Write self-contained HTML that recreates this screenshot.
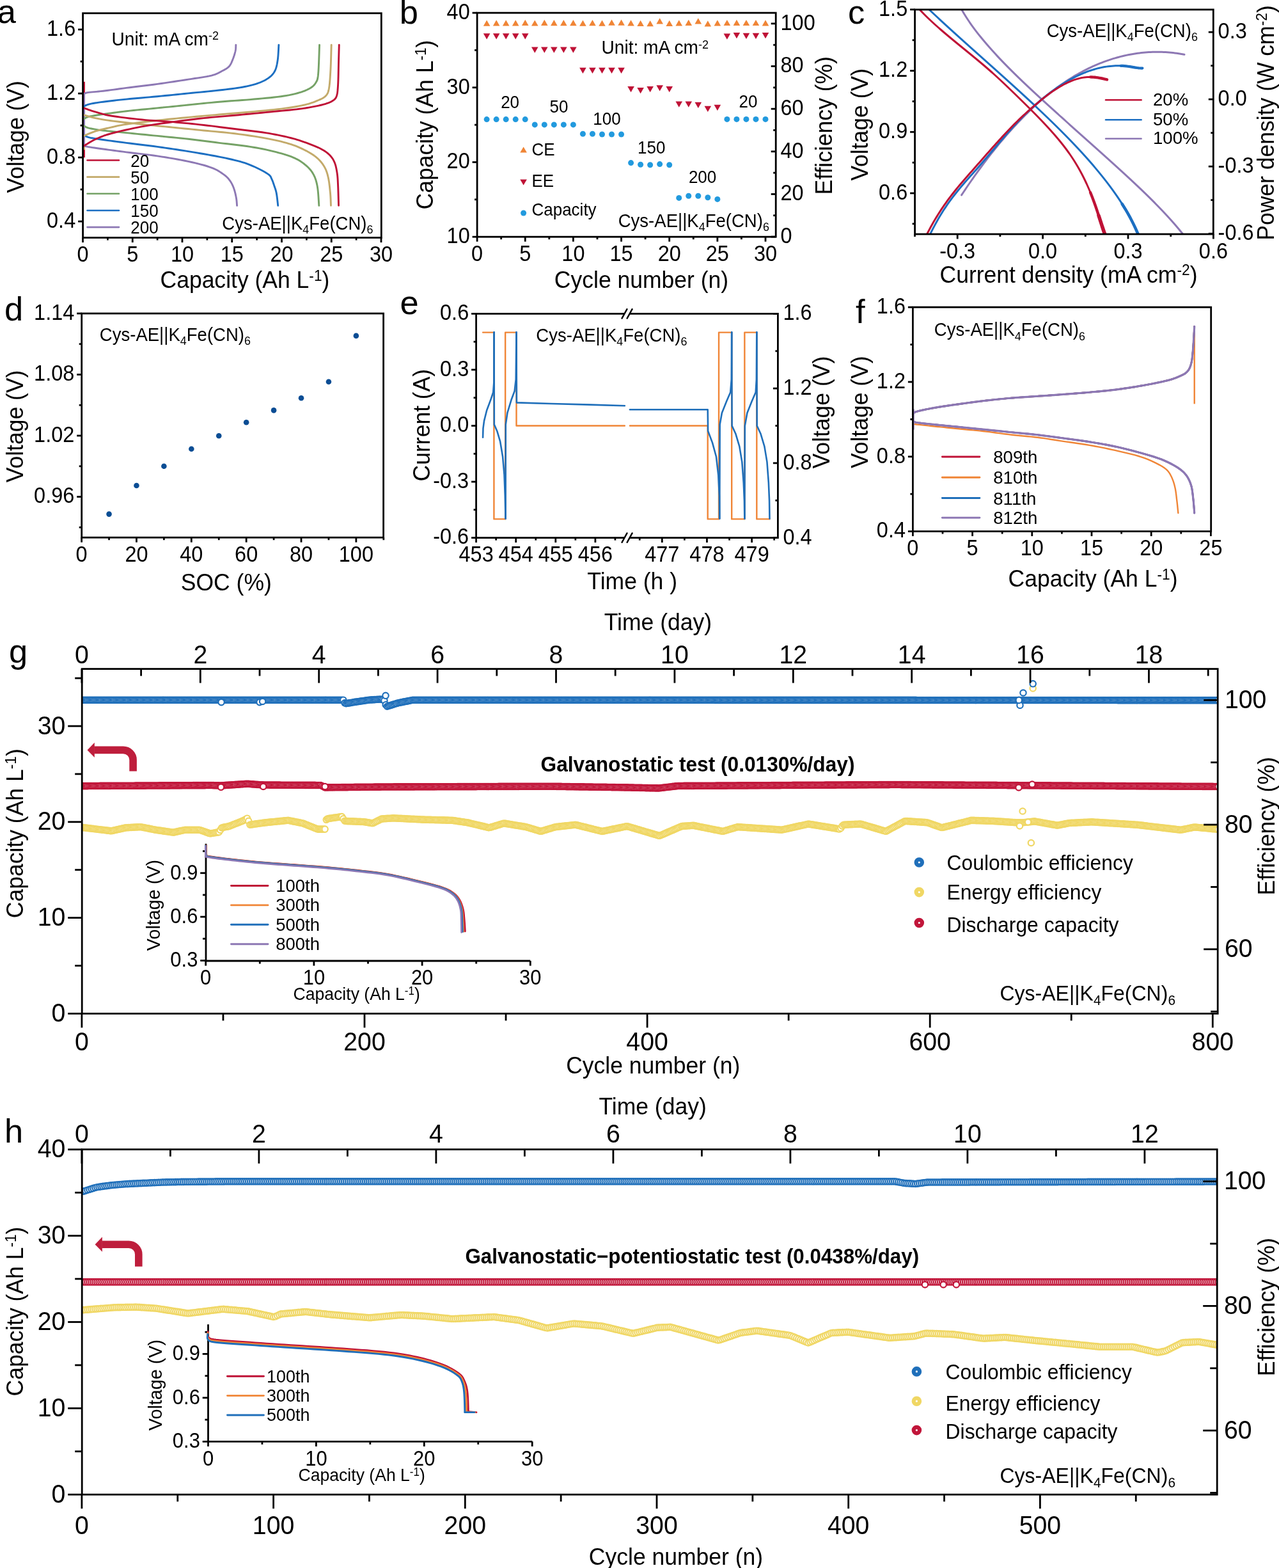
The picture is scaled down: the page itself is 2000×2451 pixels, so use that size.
<!DOCTYPE html>
<html><head><meta charset="utf-8"><title>Figure</title>
<style>html,body{margin:0;padding:0;background:#fff;}svg{display:block;}</style></head>
<body><svg xmlns="http://www.w3.org/2000/svg" width="2000" height="2451" viewBox="0 0 2000 2451" font-family="'Liberation Sans', Arial, sans-serif">
<rect width="2000" height="2451" fill="#fff"/>
<text x="-4.3" y="36.3" font-size="52.5">a</text>
<text x="624.7" y="37" font-size="52.5">b</text>
<text x="1326" y="37" font-size="52.5">c</text>
<text x="7" y="501.2" font-size="52.5">d</text>
<text x="625.5" y="490.8" font-size="52.5">e</text>
<text x="1338" y="505.3" font-size="52.5">f</text>
<text x="13.9" y="1035.7" font-size="52.5">g</text>
<text x="7.1" y="1785.8" font-size="52.5">h</text>
<line x1="131.5" y1="127.75" x2="131.5" y2="246.31" stroke="#bf1236" stroke-width="2.9" stroke-linecap="butt"/>
<line x1="131.5" y1="179.77" x2="131.5" y2="234.21" stroke="#c3aa6a" stroke-width="2.9" stroke-linecap="butt"/>
<line x1="131.5" y1="185.82" x2="131.5" y2="196.7" stroke="#75a266" stroke-width="2.9" stroke-linecap="butt"/>
<line x1="131.5" y1="166.46" x2="131.5" y2="211.22" stroke="#1c6fc2" stroke-width="2.9" stroke-linecap="butt"/>
<line x1="131.5" y1="145.89" x2="131.5" y2="229.37" stroke="#8d78b4" stroke-width="2.9" stroke-linecap="butt"/>
<polyline points="131.05,147.1 131.39,146.92 131.71,146.67 132.08,146.37 132.56,146.05 133.23,145.7 134.17,145.35 135.43,145 137.1,144.68 139.17,144.4 141.59,144.14 144.31,143.88 147.31,143.63 150.54,143.35 153.97,143.04 157.57,142.68 161.29,142.26 165.17,141.78 169.23,141.25 173.49,140.68 177.93,140.07 182.56,139.44 187.38,138.78 192.39,138.1 197.59,137.43 203.06,136.74 208.83,136.03 214.85,135.3 221.03,134.55 227.3,133.79 233.6,133 239.85,132.2 245.98,131.38 252.11,130.52 258.36,129.62 264.66,128.69 270.93,127.75 277.11,126.8 283.12,125.88 288.9,124.98 294.37,124.12 299.62,123.31 304.75,122.55 309.72,121.81 314.48,121.09 319,120.37 323.23,119.64 327.13,118.87 330.66,118.07 333.75,117.22 336.4,116.34 338.7,115.44 340.72,114.52 342.54,113.59 344.24,112.65 345.9,111.73 347.6,110.81 349.28,109.94 350.86,109.11 352.34,108.3 353.72,107.48 355.02,106.63 356.25,105.71 357.4,104.69 358.49,103.55 359.49,102.27 360.4,100.87 361.22,99.37 361.96,97.81 362.66,96.2 363.31,94.59 363.93,93 364.54,91.45 365.12,89.92 365.68,88.36 366.2,86.79 366.68,85.22 367.12,83.68 367.52,82.18 367.87,80.73 368.16,79.36 368.4,78.01 368.57,76.64 368.68,75.29 368.75,74 368.8,72.81 368.83,71.75 368.85,70.85 368.89,70.16" fill="none" stroke="#8d78b4" stroke-width="2.9" stroke-linejoin="round" stroke-linecap="round"/>
<polyline points="131.05,226.95 131.39,227.13 131.71,227.36 132.08,227.63 132.56,227.93 133.23,228.27 134.17,228.62 135.43,228.99 137.1,229.37 139.17,229.76 141.59,230.16 144.31,230.59 147.31,231.03 150.54,231.5 153.97,231.98 157.57,232.48 161.29,233 165.17,233.54 169.23,234.09 173.49,234.67 177.93,235.27 182.56,235.88 187.38,236.51 192.39,237.17 197.59,237.84 203.06,238.52 208.83,239.21 214.85,239.91 221.03,240.63 227.3,241.39 233.6,242.18 239.85,243.01 245.98,243.89 252.11,244.82 258.36,245.8 264.66,246.83 270.93,247.89 277.11,248.98 283.12,250.1 288.9,251.22 294.37,252.35 299.6,253.5 304.69,254.66 309.61,255.84 314.33,257.04 318.82,258.26 323.06,259.5 327.02,260.76 330.66,262.03 333.96,263.34 336.92,264.7 339.59,266.08 342,267.48 344.21,268.87 346.26,270.26 348.18,271.61 350.02,272.92 351.72,274.17 353.2,275.37 354.52,276.53 355.69,277.68 356.76,278.85 357.76,280.04 358.73,281.28 359.7,282.6 360.64,283.98 361.52,285.4 362.34,286.85 363.1,288.35 363.81,289.88 364.49,291.45 365.13,293.05 365.75,294.7 366.33,296.41 366.88,298.21 367.39,300.07 367.86,301.95 368.3,303.84 368.69,305.7 369.05,307.5 369.37,309.21 369.65,310.92 369.88,312.69 370.06,314.46 370.21,316.17 370.33,317.77 370.42,319.19 370.51,320.39 370.58,321.31" fill="none" stroke="#8d78b4" stroke-width="2.9" stroke-linejoin="round" stroke-linecap="round"/>
<polyline points="131.05,166.46 131.61,166.18 132.26,165.81 133.02,165.37 133.92,164.87 134.99,164.35 136.27,163.82 137.76,163.31 139.52,162.83 141.5,162.38 143.69,161.93 146.07,161.49 148.67,161.05 151.48,160.6 154.52,160.14 157.79,159.68 161.29,159.2 165.05,158.71 169.06,158.21 173.31,157.71 177.78,157.19 182.45,156.67 187.32,156.14 192.37,155.62 197.59,155.09 203.06,154.56 208.83,154.03 214.85,153.49 221.03,152.96 227.3,152.41 233.6,151.86 239.85,151.3 245.98,150.73 252.03,150.15 258.08,149.56 264.12,148.95 270.17,148.34 276.22,147.73 282.27,147.12 288.32,146.5 294.37,145.89 300.5,145.29 306.75,144.68 313.05,144.08 319.32,143.47 325.5,142.87 331.51,142.26 337.29,141.66 342.76,141.05 347.96,140.46 352.97,139.87 357.79,139.29 362.42,138.71 366.86,138.12 371.11,137.51 375.18,136.88 379.05,136.22 382.71,135.53 386.12,134.85 389.33,134.14 392.36,133.42 395.24,132.67 397.99,131.88 400.65,131.05 403.25,130.17 405.76,129.24 408.16,128.28 410.45,127.27 412.62,126.24 414.68,125.16 416.63,124.04 418.46,122.89 420.19,121.7 421.78,120.49 423.24,119.29 424.58,118.06 425.81,116.78 426.94,115.44 427.99,114.01 428.96,112.48 429.86,110.81 430.68,109.03 431.39,107.16 432,105.2 432.54,103.14 433.01,100.99 433.44,98.73 433.84,96.36 434.22,93.87 434.57,91.07 434.87,87.87 435.12,84.44 435.34,80.96 435.52,77.61 435.67,74.58 435.8,72.04 435.91,70.16" fill="none" stroke="#1c6fc2" stroke-width="2.9" stroke-linejoin="round" stroke-linecap="round"/>
<polyline points="131.05,211.22 131.61,211.5 132.26,211.87 133.02,212.32 133.92,212.81 134.99,213.33 136.27,213.86 137.76,214.37 139.52,214.85 141.5,215.3 143.69,215.73 146.07,216.16 148.67,216.59 151.48,217.03 154.52,217.49 157.79,217.97 161.29,218.48 165.05,219.02 169.06,219.58 173.31,220.15 177.78,220.75 182.45,221.36 187.32,222 192.37,222.65 197.59,223.32 203.06,224.01 208.83,224.72 214.85,225.45 221.03,226.19 227.3,226.96 233.6,227.74 239.85,228.55 245.98,229.37 252.03,230.21 258.08,231.07 264.12,231.95 270.17,232.85 276.22,233.76 282.27,234.7 288.32,235.65 294.37,236.63 300.5,237.63 306.75,238.66 313.05,239.71 319.32,240.79 325.5,241.87 331.51,242.95 337.29,244.03 342.76,245.1 347.96,246.15 352.97,247.18 357.79,248.22 362.42,249.25 366.86,250.3 371.11,251.36 375.18,252.45 379.05,253.56 382.71,254.72 386.12,255.9 389.33,257.1 392.36,258.33 395.24,259.56 397.99,260.79 400.65,262.02 403.25,263.24 405.8,264.47 408.28,265.72 410.66,266.98 412.93,268.23 415.04,269.47 416.97,270.67 418.7,271.83 420.19,272.92 421.38,273.93 422.27,274.85 422.94,275.71 423.44,276.55 423.83,277.39 424.18,278.25 424.56,279.17 425.02,280.18 425.54,281.26 426.02,282.37 426.47,283.52 426.91,284.72 427.35,285.94 427.77,287.21 428.21,288.52 428.65,289.86 429.12,291.2 429.59,292.54 430.07,293.9 430.54,295.3 431.01,296.78 431.46,298.36 431.89,300.08 432.28,301.95 432.66,304.16 433.03,306.74 433.39,309.53 433.72,312.39 434.03,315.15 434.3,317.66 434.52,319.77 434.7,321.31" fill="none" stroke="#1c6fc2" stroke-width="2.9" stroke-linejoin="round" stroke-linecap="round"/>
<polyline points="131.05,185.82 131.61,185.54 132.26,185.16 133.02,184.72 133.92,184.23 134.99,183.71 136.27,183.18 137.76,182.67 139.52,182.19 141.5,181.74 143.69,181.31 146.07,180.88 148.67,180.45 151.48,180.01 154.52,179.55 157.79,179.07 161.29,178.56 165.05,178.01 169.06,177.43 173.31,176.83 177.78,176.21 182.45,175.59 187.32,174.96 192.37,174.33 197.59,173.72 203.06,173.11 208.83,172.51 214.85,171.9 221.03,171.3 227.3,170.69 233.6,170.09 239.85,169.48 245.98,168.88 252.03,168.27 258.08,167.67 264.12,167.07 270.17,166.46 276.22,165.86 282.27,165.25 288.32,164.65 294.37,164.04 300.42,163.43 306.47,162.8 312.52,162.17 318.56,161.55 324.61,160.93 330.66,160.33 336.71,159.75 342.76,159.2 348.81,158.7 354.86,158.24 360.91,157.81 366.95,157.39 373,156.97 379.05,156.54 385.1,156.08 391.15,155.57 397.33,155.03 403.7,154.48 410.15,153.9 416.56,153.3 422.81,152.69 428.8,152.06 434.42,151.4 439.54,150.73 444.18,150.04 448.44,149.33 452.38,148.61 456.02,147.86 459.42,147.09 462.62,146.31 465.66,145.51 468.58,144.68 471.33,143.84 473.86,142.98 476.19,142.1 478.33,141.21 480.31,140.29 482.16,139.35 483.88,138.4 485.51,137.43 487.01,136.46 488.34,135.51 489.52,134.55 490.58,133.57 491.53,132.54 492.4,131.44 493.21,130.26 493.98,128.96 494.68,127.75 495.27,126.72 495.77,125.74 496.2,124.62 496.59,123.21 496.94,121.35 497.27,118.89 497.61,115.65 497.95,111.19 498.26,105.47 498.55,98.95 498.81,92.07 499.04,85.3 499.24,79.09 499.41,73.89 499.55,70.16" fill="none" stroke="#75a266" stroke-width="2.9" stroke-linejoin="round" stroke-linecap="round"/>
<polyline points="131.05,196.7 131.61,196.98 132.26,197.36 133.02,197.8 133.92,198.29 134.99,198.81 136.27,199.34 137.76,199.86 139.52,200.33 141.5,200.79 143.69,201.24 146.07,201.69 148.67,202.15 151.48,202.6 154.52,203.06 157.79,203.51 161.29,203.96 165.05,204.41 169.06,204.84 173.31,205.27 177.78,205.7 182.45,206.14 187.32,206.6 192.37,207.08 197.59,207.59 203.06,208.14 208.83,208.72 214.85,209.32 221.03,209.94 227.3,210.56 233.6,211.19 239.85,211.82 245.98,212.43 252.03,213.03 258.08,213.61 264.12,214.19 270.17,214.78 276.22,215.37 282.27,215.98 288.32,216.61 294.37,217.27 300.42,217.97 306.47,218.7 312.52,219.45 318.56,220.22 324.61,221 330.66,221.78 336.71,222.56 342.76,223.32 348.89,224.07 355.14,224.8 361.44,225.53 367.71,226.27 373.89,227.01 379.9,227.77 385.68,228.55 391.15,229.37 396.3,230.2 401.19,231.04 405.86,231.9 410.36,232.77 414.72,233.67 418.99,234.61 423.22,235.6 427.44,236.63 431.69,237.7 435.93,238.82 440.13,239.97 444.23,241.16 448.2,242.39 452,243.66 455.58,244.96 458.9,246.31 461.95,247.69 464.76,249.1 467.36,250.56 469.79,252.05 472.06,253.58 474.21,255.15 476.26,256.76 478.25,258.4 480.16,260.07 481.93,261.75 483.59,263.46 485.13,265.21 486.58,267.02 487.92,268.89 489.18,270.86 490.35,272.92 491.42,275.04 492.37,277.19 493.22,279.4 493.98,281.69 494.66,284.1 495.29,286.64 495.86,289.36 496.4,292.28 496.89,295.64 497.32,299.54 497.68,303.73 497.99,308 498.25,312.12 498.47,315.87 498.66,319.01 498.82,321.31" fill="none" stroke="#75a266" stroke-width="2.9" stroke-linejoin="round" stroke-linecap="round"/>
<polyline points="131.05,212.43 132.41,211.86 134.17,211.1 136.26,210.19 138.61,209.18 141.15,208.13 143.81,207.07 146.51,206.07 149.2,205.17 151.93,204.35 154.82,203.55 157.83,202.76 160.92,202 164.05,201.25 167.2,200.52 170.33,199.81 173.39,199.12 176.25,198.47 178.87,197.86 181.4,197.27 183.98,196.7 186.74,196.14 189.84,195.55 193.4,194.94 197.59,194.29 202.48,193.58 207.98,192.83 213.96,192.05 220.27,191.26 226.77,190.47 233.31,189.69 239.76,188.94 245.98,188.24 252.03,187.57 258.08,186.93 264.12,186.31 270.17,185.71 276.22,185.12 282.27,184.54 288.32,183.97 294.37,183.4 300.42,182.83 306.47,182.27 312.52,181.72 318.56,181.17 324.61,180.64 330.66,180.1 336.71,179.57 342.76,179.04 348.81,178.52 354.86,178.01 360.91,177.51 366.95,177.02 373,176.51 379.05,176 385.1,175.48 391.15,174.93 397.28,174.37 403.53,173.8 409.83,173.22 416.1,172.63 422.28,172.02 428.29,171.4 434.07,170.76 439.54,170.09 444.76,169.4 449.81,168.69 454.68,167.96 459.35,167.22 463.82,166.45 468.07,165.67 472.08,164.86 475.83,164.04 479.32,163.19 482.53,162.31 485.49,161.41 488.23,160.49 490.79,159.56 493.19,158.63 495.45,157.7 497.61,156.78 499.64,155.91 501.49,155.08 503.18,154.27 504.72,153.46 506.13,152.6 507.42,151.68 508.61,150.66 509.71,149.52 510.68,148.36 511.49,147.24 512.16,146.09 512.73,144.84 513.23,143.42 513.68,141.75 514.11,139.78 514.55,137.43 514.97,134.67 515.35,131.57 515.69,128.18 515.98,124.54 516.25,120.7 516.5,116.69 516.74,112.58 516.97,108.39 517.18,103.79 517.38,98.58 517.56,93.05 517.72,87.46 517.86,82.1 517.99,77.25 518.09,73.17 518.18,70.16" fill="none" stroke="#c3aa6a" stroke-width="2.9" stroke-linejoin="round" stroke-linecap="round"/>
<polyline points="131.05,179.77 132.41,180.15 134.17,180.65 136.26,181.26 138.61,181.93 141.15,182.63 143.81,183.33 146.51,184 149.2,184.61 151.77,185.15 154.25,185.65 156.76,186.14 159.4,186.62 162.28,187.1 165.5,187.61 169.17,188.14 173.39,188.72 178.28,189.35 183.79,190.03 189.77,190.73 196.07,191.46 202.57,192.19 209.12,192.91 215.57,193.61 221.78,194.29 227.83,194.92 233.88,195.55 239.93,196.15 245.98,196.75 252.03,197.34 258.08,197.93 264.12,198.52 270.17,199.12 276.22,199.73 282.27,200.33 288.32,200.94 294.37,201.54 300.42,202.15 306.47,202.75 312.52,203.36 318.56,203.96 324.61,204.55 330.66,205.12 336.71,205.67 342.76,206.23 348.81,206.81 354.86,207.42 360.91,208.08 366.95,208.8 373.09,209.59 379.34,210.42 385.63,211.29 391.91,212.2 398.09,213.14 404.1,214.1 409.88,215.08 415.35,216.06 420.54,217.05 425.55,218.06 430.37,219.09 435,220.14 439.45,221.21 443.7,222.3 447.76,223.4 451.64,224.53 455.28,225.66 458.65,226.81 461.81,227.96 464.8,229.14 467.65,230.35 470.41,231.59 473.12,232.87 475.83,234.21 478.54,235.59 481.18,237.01 483.77,238.46 486.27,239.95 488.68,241.49 490.98,243.05 493.15,244.66 495.19,246.31 497.09,247.99 498.87,249.71 500.53,251.47 502.07,253.26 503.51,255.1 504.86,256.97 506.12,258.88 507.29,260.82 508.35,262.77 509.29,264.72 510.13,266.68 510.87,268.69 511.55,270.77 512.17,272.96 512.76,275.28 513.34,277.76 513.88,280.47 514.38,283.41 514.83,286.51 515.23,289.71 515.59,292.92 515.92,296.08 516.21,299.11 516.48,301.95 516.71,304.74 516.9,307.59 517.05,310.42 517.16,313.15 517.25,315.68 517.33,317.95 517.39,319.85 517.45,321.31" fill="none" stroke="#c3aa6a" stroke-width="2.9" stroke-linejoin="round" stroke-linecap="round"/>
<polyline points="131.05,228.16 132.41,227.35 134.17,226.26 136.26,224.96 138.61,223.52 141.15,222.01 143.81,220.5 146.51,219.06 149.2,217.75 151.77,216.58 154.25,215.46 156.76,214.38 159.4,213.31 162.28,212.24 165.5,211.14 169.17,210 173.39,208.8 178.28,207.51 183.79,206.13 189.77,204.7 196.07,203.25 202.57,201.82 209.12,200.43 215.57,199.11 221.78,197.91 227.83,196.83 233.88,195.82 239.93,194.87 245.98,193.98 252.03,193.13 258.08,192.3 264.12,191.48 270.17,190.66 276.22,189.83 282.27,189.02 288.32,188.22 294.37,187.45 300.42,186.7 306.47,185.97 312.52,185.27 318.56,184.61 324.61,183.98 330.66,183.4 336.71,182.86 342.76,182.34 348.81,181.83 354.86,181.32 360.91,180.8 366.95,180.25 373,179.69 379.05,179.13 385.1,178.56 391.15,177.98 397.2,177.41 403.25,176.83 409.3,176.24 415.35,175.65 421.56,175.05 428.01,174.43 434.56,173.8 441.05,173.17 447.36,172.55 453.34,171.95 458.85,171.36 463.74,170.82 467.95,170.31 471.6,169.84 474.8,169.4 477.65,168.97 480.28,168.55 482.79,168.12 485.31,167.67 487.93,167.19 490.63,166.68 493.28,166.16 495.86,165.63 498.37,165.08 500.77,164.53 503.07,163.97 505.25,163.4 507.29,162.83 509.18,162.27 510.95,161.71 512.59,161.16 514.12,160.59 515.56,160 516.91,159.38 518.18,158.72 519.39,157.99 520.52,157.27 521.56,156.6 522.51,155.93 523.38,155.19 524.17,154.36 524.9,153.37 525.56,152.18 526.16,150.73 526.68,149.11 527.11,147.39 527.45,145.52 527.73,143.47 527.97,141.2 528.18,138.65 528.38,135.8 528.58,132.59 528.77,128.85 528.93,124.55 529.06,119.86 529.17,114.94 529.27,109.96 529.36,105.08 529.45,100.47 529.55,96.29 529.66,92.36 529.76,88.43 529.87,84.6 529.97,80.96 530.07,77.6 530.15,74.62 530.22,72.11 530.27,70.16" fill="none" stroke="#bf1236" stroke-width="2.9" stroke-linejoin="round" stroke-linecap="round"/>
<polyline points="131.05,168.88 132.41,169.35 134.17,169.97 136.26,170.71 138.61,171.53 141.15,172.39 143.81,173.27 146.51,174.13 149.2,174.93 151.77,175.68 154.25,176.44 156.76,177.2 159.4,177.95 162.28,178.71 165.5,179.47 169.17,180.22 173.39,180.98 178.28,181.75 183.79,182.55 189.77,183.35 196.07,184.15 202.57,184.94 209.12,185.68 215.57,186.39 221.78,187.03 227.83,187.59 233.88,188.08 239.93,188.51 245.98,188.92 252.03,189.31 258.08,189.72 264.12,190.16 270.17,190.66 276.22,191.19 282.27,191.75 288.32,192.33 294.37,192.92 300.42,193.54 306.47,194.17 312.52,194.82 318.56,195.49 324.61,196.19 330.66,196.92 336.71,197.67 342.76,198.44 348.81,199.22 354.86,200 360.91,200.78 366.95,201.54 373.09,202.29 379.34,203.03 385.63,203.76 391.91,204.49 398.09,205.24 404.1,206 409.88,206.78 415.35,207.59 420.54,208.44 425.55,209.32 430.37,210.23 435,211.15 439.45,212.08 443.7,213.01 447.76,213.94 451.64,214.85 455.24,215.74 458.54,216.61 461.6,217.47 464.49,218.33 467.29,219.21 470.07,220.13 472.89,221.09 475.83,222.11 478.93,223.2 482.11,224.36 485.33,225.56 488.54,226.8 491.67,228.05 494.66,229.31 497.47,230.56 500.03,231.79 502.35,232.98 504.48,234.15 506.45,235.31 508.27,236.48 509.97,237.66 511.57,238.88 513.09,240.14 514.55,241.47 515.93,242.83 517.19,244.21 518.36,245.61 519.43,247.06 520.43,248.57 521.35,250.14 522.21,251.8 523.02,253.56 523.76,255.43 524.41,257.4 524.99,259.45 525.51,261.58 525.97,263.76 526.39,265.98 526.77,268.23 527.13,270.5 527.44,272.72 527.69,274.89 527.89,277.05 528.05,279.27 528.19,281.61 528.31,284.11 528.44,286.84 528.58,289.86 528.73,293.43 528.88,297.61 529.02,302.15 529.16,306.79 529.28,311.29 529.39,315.38 529.48,318.8 529.55,321.31" fill="none" stroke="#bf1236" stroke-width="2.9" stroke-linejoin="round" stroke-linecap="round"/>
<rect x="129.6" y="20.7" width="466.7" height="350.8" fill="none" stroke="#000" stroke-width="2.8"/>
<line x1="129.6" y1="346.1" x2="122.1" y2="346.1" stroke="#000" stroke-width="2.8" stroke-linecap="butt"/>
<line x1="129.6" y1="246.1" x2="122.1" y2="246.1" stroke="#000" stroke-width="2.8" stroke-linecap="butt"/>
<line x1="129.6" y1="146.1" x2="122.1" y2="146.1" stroke="#000" stroke-width="2.8" stroke-linecap="butt"/>
<line x1="129.6" y1="46.1" x2="122.1" y2="46.1" stroke="#000" stroke-width="2.8" stroke-linecap="butt"/>
<line x1="129.6" y1="296.1" x2="125.6" y2="296.1" stroke="#000" stroke-width="2.8" stroke-linecap="butt"/>
<line x1="129.6" y1="196.1" x2="125.6" y2="196.1" stroke="#000" stroke-width="2.8" stroke-linecap="butt"/>
<line x1="129.6" y1="96.1" x2="125.6" y2="96.1" stroke="#000" stroke-width="2.8" stroke-linecap="butt"/>
<line x1="129.5" y1="371.5" x2="129.5" y2="379" stroke="#000" stroke-width="2.8" stroke-linecap="butt"/>
<line x1="207.25" y1="371.5" x2="207.25" y2="379" stroke="#000" stroke-width="2.8" stroke-linecap="butt"/>
<line x1="285" y1="371.5" x2="285" y2="379" stroke="#000" stroke-width="2.8" stroke-linecap="butt"/>
<line x1="362.75" y1="371.5" x2="362.75" y2="379" stroke="#000" stroke-width="2.8" stroke-linecap="butt"/>
<line x1="440.5" y1="371.5" x2="440.5" y2="379" stroke="#000" stroke-width="2.8" stroke-linecap="butt"/>
<line x1="518.25" y1="371.5" x2="518.25" y2="379" stroke="#000" stroke-width="2.8" stroke-linecap="butt"/>
<line x1="596" y1="371.5" x2="596" y2="379" stroke="#000" stroke-width="2.8" stroke-linecap="butt"/>
<line x1="168.38" y1="371.5" x2="168.38" y2="375.5" stroke="#000" stroke-width="2.8" stroke-linecap="butt"/>
<line x1="246.12" y1="371.5" x2="246.12" y2="375.5" stroke="#000" stroke-width="2.8" stroke-linecap="butt"/>
<line x1="323.88" y1="371.5" x2="323.88" y2="375.5" stroke="#000" stroke-width="2.8" stroke-linecap="butt"/>
<line x1="401.62" y1="371.5" x2="401.62" y2="375.5" stroke="#000" stroke-width="2.8" stroke-linecap="butt"/>
<line x1="479.38" y1="371.5" x2="479.38" y2="375.5" stroke="#000" stroke-width="2.8" stroke-linecap="butt"/>
<line x1="557.12" y1="371.5" x2="557.12" y2="375.5" stroke="#000" stroke-width="2.8" stroke-linecap="butt"/>
<text transform="translate(118.2,355.9) scale(0.95,1)" font-size="34.2" text-anchor="end">0.4</text>
<text transform="translate(118.2,255.9) scale(0.95,1)" font-size="34.2" text-anchor="end">0.8</text>
<text transform="translate(118.2,155.9) scale(0.95,1)" font-size="34.2" text-anchor="end">1.2</text>
<text transform="translate(118.2,55.9) scale(0.95,1)" font-size="34.2" text-anchor="end">1.6</text>
<text transform="translate(129.5,409.3) scale(0.95,1)" font-size="34.2" text-anchor="middle">0</text>
<text transform="translate(207.25,409.3) scale(0.95,1)" font-size="34.2" text-anchor="middle">5</text>
<text transform="translate(285,409.3) scale(0.95,1)" font-size="34.2" text-anchor="middle">10</text>
<text transform="translate(362.75,409.3) scale(0.95,1)" font-size="34.2" text-anchor="middle">15</text>
<text transform="translate(440.5,409.3) scale(0.95,1)" font-size="34.2" text-anchor="middle">20</text>
<text transform="translate(518.25,409.3) scale(0.95,1)" font-size="34.2" text-anchor="middle">25</text>
<text transform="translate(596,409.3) scale(0.95,1)" font-size="34.2" text-anchor="middle">30</text>
<text transform="translate(250.5,450.1) scale(0.96,1)" font-size="37">Capacity (Ah L<tspan font-size="23.68" dy="-11.1">-1</tspan><tspan dy="11.1">)</tspan></text>
<text transform="translate(36.7,214) rotate(-90) scale(0.96,1)" font-size="37" text-anchor="middle">Voltage (V)</text>
<text transform="translate(174.5,70.8) scale(0.97,1)" font-size="29">Unit: mA cm<tspan font-size="18.56" dy="-8.41">-2</tspan></text>
<line x1="136.5" y1="250.5" x2="186" y2="250.5" stroke="#bf1236" stroke-width="2.6" stroke-linecap="round"/>
<text transform="translate(204.3,260.6) scale(0.97,1)" font-size="26.8">20</text>
<line x1="136.5" y1="276.65" x2="186" y2="276.65" stroke="#c3aa6a" stroke-width="2.6" stroke-linecap="round"/>
<text transform="translate(204.3,286.75) scale(0.97,1)" font-size="26.8">50</text>
<line x1="136.5" y1="302.8" x2="186" y2="302.8" stroke="#75a266" stroke-width="2.6" stroke-linecap="round"/>
<text transform="translate(204.3,312.9) scale(0.97,1)" font-size="26.8">100</text>
<line x1="136.5" y1="328.95" x2="186" y2="328.95" stroke="#1c6fc2" stroke-width="2.6" stroke-linecap="round"/>
<text transform="translate(204.3,339.05) scale(0.97,1)" font-size="26.8">150</text>
<line x1="136.5" y1="355.1" x2="186" y2="355.1" stroke="#8d78b4" stroke-width="2.6" stroke-linecap="round"/>
<text transform="translate(204.3,365.2) scale(0.97,1)" font-size="26.8">200</text>
<text transform="translate(347.3,358.8) scale(0.95,1)" font-size="29">Cys-AE||K<tspan font-size="18.85" dy="6.53">4</tspan><tspan dy="-6.53">Fe(CN)</tspan><tspan font-size="18.85" dy="6.53">6</tspan></text>
<path d="M755.83,40.7L766.43,40.7L761.13,31.5Z" fill="#f08536"/>
<path d="M755.83,52.2L766.43,52.2L761.13,61.4Z" fill="#bf1236"/>
<circle cx="761.13" cy="186.6" r="4.5" fill="#229ade"/>
<path d="M770.86,40.5L781.46,40.5L776.16,31.3Z" fill="#f08536"/>
<path d="M770.86,52.2L781.46,52.2L776.16,61.4Z" fill="#bf1236"/>
<circle cx="776.16" cy="186.6" r="4.5" fill="#229ade"/>
<path d="M785.89,40.5L796.49,40.5L791.19,31.3Z" fill="#f08536"/>
<path d="M785.89,52.2L796.49,52.2L791.19,61.4Z" fill="#bf1236"/>
<circle cx="791.19" cy="186.6" r="4.5" fill="#229ade"/>
<path d="M800.92,40.5L811.52,40.5L806.22,31.3Z" fill="#f08536"/>
<path d="M800.92,52.2L811.52,52.2L806.22,61.4Z" fill="#bf1236"/>
<circle cx="806.22" cy="186.6" r="4.5" fill="#229ade"/>
<path d="M815.95,40L826.55,40L821.25,30.8Z" fill="#f08536"/>
<path d="M815.95,52.2L826.55,52.2L821.25,61.4Z" fill="#bf1236"/>
<circle cx="821.25" cy="186.6" r="4.5" fill="#229ade"/>
<path d="M830.98,40.6L841.58,40.6L836.28,31.4Z" fill="#f08536"/>
<path d="M830.98,73.6L841.58,73.6L836.28,82.8Z" fill="#bf1236"/>
<circle cx="836.28" cy="194.9" r="4.5" fill="#229ade"/>
<path d="M846.01,40L856.61,40L851.31,30.8Z" fill="#f08536"/>
<path d="M846.01,73.6L856.61,73.6L851.31,82.8Z" fill="#bf1236"/>
<circle cx="851.31" cy="194.9" r="4.5" fill="#229ade"/>
<path d="M861.04,40.3L871.64,40.3L866.34,31.1Z" fill="#f08536"/>
<path d="M861.04,73.6L871.64,73.6L866.34,82.8Z" fill="#bf1236"/>
<circle cx="866.34" cy="194.9" r="4.5" fill="#229ade"/>
<path d="M876.07,40.3L886.67,40.3L881.37,31.1Z" fill="#f08536"/>
<path d="M876.07,73.6L886.67,73.6L881.37,82.8Z" fill="#bf1236"/>
<circle cx="881.37" cy="194.9" r="4.5" fill="#229ade"/>
<path d="M891.1,40.3L901.7,40.3L896.4,31.1Z" fill="#f08536"/>
<path d="M891.1,73.6L901.7,73.6L896.4,82.8Z" fill="#bf1236"/>
<circle cx="896.4" cy="194.9" r="4.5" fill="#229ade"/>
<path d="M906.13,40.8L916.73,40.8L911.43,31.6Z" fill="#f08536"/>
<path d="M906.13,105.8L916.73,105.8L911.43,115Z" fill="#bf1236"/>
<circle cx="911.43" cy="209.3" r="4.5" fill="#229ade"/>
<path d="M921.16,40.3L931.76,40.3L926.46,31.1Z" fill="#f08536"/>
<path d="M921.16,105.8L931.76,105.8L926.46,115Z" fill="#bf1236"/>
<circle cx="926.46" cy="209.3" r="4.5" fill="#229ade"/>
<path d="M936.19,40.8L946.79,40.8L941.49,31.6Z" fill="#f08536"/>
<path d="M936.19,105.8L946.79,105.8L941.49,115Z" fill="#bf1236"/>
<circle cx="941.49" cy="210" r="4.5" fill="#229ade"/>
<path d="M951.22,39.8L961.82,39.8L956.52,30.6Z" fill="#f08536"/>
<path d="M951.22,105.8L961.82,105.8L956.52,115Z" fill="#bf1236"/>
<circle cx="956.52" cy="210" r="4.5" fill="#229ade"/>
<path d="M966.25,39.8L976.85,39.8L971.55,30.6Z" fill="#f08536"/>
<path d="M966.25,105.8L976.85,105.8L971.55,115Z" fill="#bf1236"/>
<circle cx="971.55" cy="210" r="4.5" fill="#229ade"/>
<path d="M981.28,40.5L991.88,40.5L986.58,31.3Z" fill="#f08536"/>
<path d="M981.28,135.1L991.88,135.1L986.58,144.3Z" fill="#bf1236"/>
<circle cx="986.58" cy="254.6" r="4.5" fill="#229ade"/>
<path d="M996.31,40.9L1006.91,40.9L1001.61,31.7Z" fill="#f08536"/>
<path d="M996.31,137.1L1006.91,137.1L1001.61,146.3Z" fill="#bf1236"/>
<circle cx="1001.61" cy="257.3" r="4.5" fill="#229ade"/>
<path d="M1011.34,41.2L1021.94,41.2L1016.64,32Z" fill="#f08536"/>
<path d="M1011.34,135.1L1021.94,135.1L1016.64,144.3Z" fill="#bf1236"/>
<circle cx="1016.64" cy="257.7" r="4.5" fill="#229ade"/>
<path d="M1026.37,37.5L1036.97,37.5L1031.67,28.3Z" fill="#f08536"/>
<path d="M1026.37,133.2L1036.97,133.2L1031.67,142.4Z" fill="#bf1236"/>
<circle cx="1031.67" cy="256.6" r="4.5" fill="#229ade"/>
<path d="M1041.4,40.9L1052,40.9L1046.7,31.7Z" fill="#f08536"/>
<path d="M1041.4,135.1L1052,135.1L1046.7,144.3Z" fill="#bf1236"/>
<circle cx="1046.7" cy="257.7" r="4.5" fill="#229ade"/>
<path d="M1056.43,40.5L1067.03,40.5L1061.73,31.3Z" fill="#f08536"/>
<path d="M1056.43,158.6L1067.03,158.6L1061.73,167.8Z" fill="#bf1236"/>
<circle cx="1061.73" cy="309.4" r="4.5" fill="#229ade"/>
<path d="M1071.46,39.9L1082.06,39.9L1076.76,30.7Z" fill="#f08536"/>
<path d="M1071.46,158.6L1082.06,158.6L1076.76,167.8Z" fill="#bf1236"/>
<circle cx="1076.76" cy="306.3" r="4.5" fill="#229ade"/>
<path d="M1086.49,37.5L1097.09,37.5L1091.79,28.3Z" fill="#f08536"/>
<path d="M1086.49,159.8L1097.09,159.8L1091.79,169Z" fill="#bf1236"/>
<circle cx="1091.79" cy="306.3" r="4.5" fill="#229ade"/>
<path d="M1101.52,41.5L1112.12,41.5L1106.82,32.3Z" fill="#f08536"/>
<path d="M1101.52,165.7L1112.12,165.7L1106.82,174.9Z" fill="#bf1236"/>
<circle cx="1106.82" cy="308.7" r="4.5" fill="#229ade"/>
<path d="M1116.55,40.5L1127.15,40.5L1121.85,31.3Z" fill="#f08536"/>
<path d="M1116.55,163.7L1127.15,163.7L1121.85,172.9Z" fill="#bf1236"/>
<circle cx="1121.85" cy="311.4" r="4.5" fill="#229ade"/>
<path d="M1131.58,40.1L1142.18,40.1L1136.88,30.9Z" fill="#f08536"/>
<path d="M1131.58,52.5L1142.18,52.5L1136.88,61.7Z" fill="#bf1236"/>
<circle cx="1136.88" cy="186.4" r="4.5" fill="#229ade"/>
<path d="M1146.61,39.9L1157.21,39.9L1151.91,30.7Z" fill="#f08536"/>
<path d="M1146.61,51.1L1157.21,51.1L1151.91,60.3Z" fill="#bf1236"/>
<circle cx="1151.91" cy="186.4" r="4.5" fill="#229ade"/>
<path d="M1161.64,40.1L1172.24,40.1L1166.94,30.9Z" fill="#f08536"/>
<path d="M1161.64,51.8L1172.24,51.8L1166.94,61Z" fill="#bf1236"/>
<circle cx="1166.94" cy="186.4" r="4.5" fill="#229ade"/>
<path d="M1176.67,40.1L1187.27,40.1L1181.97,30.9Z" fill="#f08536"/>
<path d="M1176.67,51.8L1187.27,51.8L1181.97,61Z" fill="#bf1236"/>
<circle cx="1181.97" cy="186.4" r="4.5" fill="#229ade"/>
<path d="M1191.7,40.5L1202.3,40.5L1197,31.3Z" fill="#f08536"/>
<path d="M1191.7,51.1L1202.3,51.1L1197,60.3Z" fill="#bf1236"/>
<circle cx="1197" cy="186.4" r="4.5" fill="#229ade"/>
<rect x="746.1" y="20.1" width="467.1" height="350.1" fill="none" stroke="#000" stroke-width="2.8"/>
<line x1="746.1" y1="370.2" x2="738.6" y2="370.2" stroke="#000" stroke-width="2.8" stroke-linecap="butt"/>
<line x1="746.1" y1="253.5" x2="738.6" y2="253.5" stroke="#000" stroke-width="2.8" stroke-linecap="butt"/>
<line x1="746.1" y1="136.8" x2="738.6" y2="136.8" stroke="#000" stroke-width="2.8" stroke-linecap="butt"/>
<line x1="746.1" y1="20.1" x2="738.6" y2="20.1" stroke="#000" stroke-width="2.8" stroke-linecap="butt"/>
<line x1="746.1" y1="311.85" x2="742.1" y2="311.85" stroke="#000" stroke-width="2.8" stroke-linecap="butt"/>
<line x1="746.1" y1="195.15" x2="742.1" y2="195.15" stroke="#000" stroke-width="2.8" stroke-linecap="butt"/>
<line x1="746.1" y1="78.45" x2="742.1" y2="78.45" stroke="#000" stroke-width="2.8" stroke-linecap="butt"/>
<line x1="1213.2" y1="370.1" x2="1205.7" y2="370.1" stroke="#000" stroke-width="2.8" stroke-linecap="butt"/>
<line x1="1213.2" y1="303.46" x2="1205.7" y2="303.46" stroke="#000" stroke-width="2.8" stroke-linecap="butt"/>
<line x1="1213.2" y1="236.82" x2="1205.7" y2="236.82" stroke="#000" stroke-width="2.8" stroke-linecap="butt"/>
<line x1="1213.2" y1="170.18" x2="1205.7" y2="170.18" stroke="#000" stroke-width="2.8" stroke-linecap="butt"/>
<line x1="1213.2" y1="103.54" x2="1205.7" y2="103.54" stroke="#000" stroke-width="2.8" stroke-linecap="butt"/>
<line x1="1213.2" y1="36.9" x2="1205.7" y2="36.9" stroke="#000" stroke-width="2.8" stroke-linecap="butt"/>
<line x1="1213.2" y1="336.78" x2="1209.2" y2="336.78" stroke="#000" stroke-width="2.8" stroke-linecap="butt"/>
<line x1="1213.2" y1="270.14" x2="1209.2" y2="270.14" stroke="#000" stroke-width="2.8" stroke-linecap="butt"/>
<line x1="1213.2" y1="203.5" x2="1209.2" y2="203.5" stroke="#000" stroke-width="2.8" stroke-linecap="butt"/>
<line x1="1213.2" y1="136.86" x2="1209.2" y2="136.86" stroke="#000" stroke-width="2.8" stroke-linecap="butt"/>
<line x1="1213.2" y1="70.22" x2="1209.2" y2="70.22" stroke="#000" stroke-width="2.8" stroke-linecap="butt"/>
<line x1="746.1" y1="370.2" x2="746.1" y2="377.7" stroke="#000" stroke-width="2.8" stroke-linecap="butt"/>
<line x1="821.25" y1="370.2" x2="821.25" y2="377.7" stroke="#000" stroke-width="2.8" stroke-linecap="butt"/>
<line x1="896.4" y1="370.2" x2="896.4" y2="377.7" stroke="#000" stroke-width="2.8" stroke-linecap="butt"/>
<line x1="971.55" y1="370.2" x2="971.55" y2="377.7" stroke="#000" stroke-width="2.8" stroke-linecap="butt"/>
<line x1="1046.7" y1="370.2" x2="1046.7" y2="377.7" stroke="#000" stroke-width="2.8" stroke-linecap="butt"/>
<line x1="1121.85" y1="370.2" x2="1121.85" y2="377.7" stroke="#000" stroke-width="2.8" stroke-linecap="butt"/>
<line x1="1197" y1="370.2" x2="1197" y2="377.7" stroke="#000" stroke-width="2.8" stroke-linecap="butt"/>
<line x1="783.68" y1="370.2" x2="783.68" y2="374.2" stroke="#000" stroke-width="2.8" stroke-linecap="butt"/>
<line x1="858.83" y1="370.2" x2="858.83" y2="374.2" stroke="#000" stroke-width="2.8" stroke-linecap="butt"/>
<line x1="933.98" y1="370.2" x2="933.98" y2="374.2" stroke="#000" stroke-width="2.8" stroke-linecap="butt"/>
<line x1="1009.12" y1="370.2" x2="1009.12" y2="374.2" stroke="#000" stroke-width="2.8" stroke-linecap="butt"/>
<line x1="1084.28" y1="370.2" x2="1084.28" y2="374.2" stroke="#000" stroke-width="2.8" stroke-linecap="butt"/>
<line x1="1159.42" y1="370.2" x2="1159.42" y2="374.2" stroke="#000" stroke-width="2.8" stroke-linecap="butt"/>
<text transform="translate(734.7,380) scale(0.95,1)" font-size="34.2" text-anchor="end">10</text>
<text transform="translate(734.7,263.3) scale(0.95,1)" font-size="34.2" text-anchor="end">20</text>
<text transform="translate(734.7,146.6) scale(0.95,1)" font-size="34.2" text-anchor="end">30</text>
<text transform="translate(734.7,29.9) scale(0.95,1)" font-size="34.2" text-anchor="end">40</text>
<text transform="translate(1220.5,379.9) scale(0.95,1)" font-size="34.2">0</text>
<text transform="translate(1220.5,313.26) scale(0.95,1)" font-size="34.2">20</text>
<text transform="translate(1220.5,246.62) scale(0.95,1)" font-size="34.2">40</text>
<text transform="translate(1220.5,179.98) scale(0.95,1)" font-size="34.2">60</text>
<text transform="translate(1220.5,113.34) scale(0.95,1)" font-size="34.2">80</text>
<text transform="translate(1220.5,46.7) scale(0.95,1)" font-size="34.2">100</text>
<text transform="translate(746.1,408) scale(0.95,1)" font-size="34.2" text-anchor="middle">0</text>
<text transform="translate(821.25,408) scale(0.95,1)" font-size="34.2" text-anchor="middle">5</text>
<text transform="translate(896.4,408) scale(0.95,1)" font-size="34.2" text-anchor="middle">10</text>
<text transform="translate(971.55,408) scale(0.95,1)" font-size="34.2" text-anchor="middle">15</text>
<text transform="translate(1046.7,408) scale(0.95,1)" font-size="34.2" text-anchor="middle">20</text>
<text transform="translate(1121.85,408) scale(0.95,1)" font-size="34.2" text-anchor="middle">25</text>
<text transform="translate(1197,408) scale(0.95,1)" font-size="34.2" text-anchor="middle">30</text>
<text transform="translate(676.9,195) rotate(-90) scale(0.96,1)" font-size="37" text-anchor="middle">Capacity (Ah L<tspan font-size="23.68" dy="-11.1">-1</tspan><tspan dy="11.1">)</tspan></text>
<text transform="translate(1300.5,196.3) rotate(-90) scale(0.96,1)" font-size="37" text-anchor="middle">Efficiency (%)</text>
<text transform="translate(1003,450.4) scale(0.96,1)" font-size="37" text-anchor="middle">Cycle number (n)</text>
<text transform="translate(940.5,84.2) scale(0.97,1)" font-size="29">Unit: mA cm<tspan font-size="18.56" dy="-8.41">-2</tspan></text>
<text transform="translate(797.6,169) scale(0.97,1)" font-size="26.8" text-anchor="middle">20</text>
<text transform="translate(874,176.3) scale(0.97,1)" font-size="26.8" text-anchor="middle">50</text>
<text transform="translate(949,195) scale(0.97,1)" font-size="26.8" text-anchor="middle">100</text>
<text transform="translate(1018.7,239.7) scale(0.97,1)" font-size="26.8" text-anchor="middle">150</text>
<text transform="translate(1098.6,286) scale(0.97,1)" font-size="26.8" text-anchor="middle">200</text>
<text transform="translate(1170,168.4) scale(0.97,1)" font-size="26.8" text-anchor="middle">20</text>
<path d="M813.3,238.6L823.9,238.6L818.6,229.4Z" fill="#f08536"/>
<text transform="translate(831.5,243) scale(0.97,1)" font-size="26.8">CE</text>
<path d="M813.3,280.4L823.9,280.4L818.6,289.6Z" fill="#bf1236"/>
<text transform="translate(831.5,291.8) scale(0.97,1)" font-size="26.8">EE</text>
<circle cx="818.6" cy="333" r="4.5" fill="#229ade"/>
<text transform="translate(831.5,337.2) scale(0.97,1)" font-size="26.8">Capacity</text>
<text transform="translate(966.7,354.7) scale(0.95,1)" font-size="29">Cys-AE||K<tspan font-size="18.85" dy="6.53">4</tspan><tspan dy="-6.53">Fe(CN)</tspan><tspan font-size="18.85" dy="6.53">6</tspan></text>
<clipPath id="cclip"><rect x="1430.6" y="15" width="466.70000000000005" height="351.0"/></clipPath><g clip-path="url(#cclip)">
<polyline points="1502.4,12.5 1504.07,15.5 1505.81,18.51 1507.6,21.51 1509.45,24.52 1511.35,27.52 1513.32,30.53 1515.33,33.53 1517.4,36.53 1519.53,39.54 1521.7,42.54 1523.92,45.55 1526.19,48.55 1528.51,51.55 1530.87,54.56 1533.28,57.56 1535.73,60.57 1538.22,63.57 1540.75,66.58 1543.32,69.58 1545.93,72.58 1548.58,75.59 1551.26,78.59 1553.98,81.6 1556.73,84.6 1559.52,87.61 1562.33,90.61 1565.18,93.61 1568.06,96.62 1570.97,99.62 1573.9,102.63 1576.86,105.63 1579.85,108.63 1582.87,111.64 1585.9,114.64 1588.97,117.65 1592.05,120.65 1595.16,123.66 1598.28,126.66 1601.43,129.66 1604.59,132.67 1607.78,135.67 1610.98,138.68 1614.19,141.68 1617.42,144.68 1620.66,147.69 1623.92,150.69 1627.19,153.7 1630.47,156.7 1633.76,159.71 1637.06,162.71 1640.37,165.71 1643.68,168.72 1647.01,171.72 1650.34,174.73 1653.67,177.73 1657.01,180.74 1660.36,183.74 1663.71,186.74 1667.06,189.75 1670.42,192.75 1673.78,195.76 1677.15,198.76 1680.51,201.76 1683.88,204.77 1687.25,207.77 1690.62,210.78 1693.99,213.78 1697.36,216.79 1700.72,219.79 1704.09,222.79 1707.45,225.8 1710.81,228.8 1714.17,231.81 1717.53,234.81 1720.88,237.82 1724.22,240.82 1727.57,243.82 1730.9,246.83 1734.23,249.83 1737.55,252.84 1740.87,255.84 1744.18,258.84 1747.48,261.85 1750.77,264.85 1754.05,267.86 1757.32,270.86 1760.59,273.87 1763.84,276.87 1767.08,279.87 1770.3,282.88 1773.51,285.88 1776.7,288.89 1779.88,291.89 1783.04,294.89 1786.18,297.9 1789.3,300.9 1792.4,303.91 1795.47,306.91 1798.52,309.92 1801.55,312.92 1804.55,315.92 1807.52,318.93 1810.47,321.93 1813.39,324.94 1816.27,327.94 1819.13,330.95 1821.95,333.95 1824.74,336.95 1827.49,339.96 1830.21,342.96 1832.89,345.97 1835.54,348.97 1838.14,351.97 1840.7,354.98 1843.22,357.98 1845.7,360.99 1848.14,363.99 1850.53,367 1852.88,370" fill="none" stroke="#8d78b4" stroke-width="3" stroke-linejoin="round" stroke-linecap="round"/>
<polyline points="1503.6,304.89 1506.53,300.48 1509.46,296.11 1512.38,291.78 1515.31,287.51 1518.24,283.27 1521.17,279.08 1524.09,274.94 1527.02,270.84 1529.95,266.79 1532.88,262.78 1535.81,258.81 1538.73,254.89 1541.66,251.01 1544.59,247.18 1547.52,243.4 1550.44,239.66 1553.37,235.96 1556.3,232.31 1559.23,228.71 1562.15,225.15 1565.08,221.63 1568.01,218.16 1570.94,214.73 1573.87,211.35 1576.79,208.02 1579.72,204.73 1582.65,201.48 1585.58,198.28 1588.5,195.12 1591.43,192.01 1594.36,188.94 1597.29,185.92 1600.22,182.95 1603.14,180.01 1606.07,177.13 1609,174.28 1611.93,171.48 1614.85,168.73 1617.78,166.02 1620.71,163.36 1623.64,160.74 1626.56,158.16 1629.49,155.63 1632.42,153.15 1635.35,150.7 1638.28,148.31 1641.2,145.95 1644.13,143.65 1647.06,141.38 1649.99,139.16 1652.91,136.99 1655.84,134.86 1658.77,132.77 1661.7,130.73 1664.63,128.73 1667.55,126.78 1670.48,124.87 1673.41,123 1676.34,121.18 1679.26,119.4 1682.19,117.66 1685.12,115.97 1688.05,114.32 1690.97,112.71 1693.9,111.14 1696.83,109.62 1699.76,108.14 1702.69,106.7 1705.61,105.3 1708.54,103.94 1711.47,102.63 1714.4,101.35 1717.32,100.12 1720.25,98.93 1723.18,97.77 1726.11,96.66 1729.04,95.59 1731.96,94.55 1734.89,93.56 1737.82,92.61 1740.75,91.69 1743.67,90.82 1746.6,89.98 1749.53,89.18 1752.46,88.42 1755.38,87.7 1758.31,87.02 1761.24,86.37 1764.17,85.77 1767.1,85.2 1770.02,84.66 1772.95,84.17 1775.88,83.71 1778.81,83.29 1781.73,82.91 1784.66,82.56 1787.59,82.26 1790.52,81.99 1793.45,81.76 1796.37,81.56 1799.3,81.41 1802.23,81.29 1805.16,81.21 1808.08,81.18 1811.01,81.17 1813.94,81.21 1816.87,81.29 1819.79,81.4 1822.72,81.56 1825.65,81.75 1828.58,81.99 1831.51,82.26 1834.43,82.57 1837.36,82.92 1840.29,83.31 1843.22,83.74 1846.14,84.21 1849.07,84.72 1852,85.27" fill="none" stroke="#8d78b4" stroke-width="3" stroke-linejoin="round" stroke-linecap="round"/>
<polyline points="1450.33,12.5 1453.52,15.5 1456.72,18.51 1459.93,21.51 1463.16,24.52 1466.4,27.52 1469.65,30.53 1472.9,33.53 1476.17,36.53 1479.45,39.54 1482.74,42.54 1486.03,45.55 1489.34,48.55 1492.65,51.55 1495.96,54.56 1499.29,57.56 1502.62,60.57 1505.95,63.57 1509.29,66.58 1512.64,69.58 1515.98,72.58 1519.33,75.59 1522.69,78.59 1526.04,81.6 1529.4,84.6 1532.76,87.61 1536.12,90.61 1539.48,93.61 1542.84,96.62 1546.19,99.62 1549.55,102.63 1552.91,105.63 1556.26,108.63 1559.61,111.64 1562.96,114.64 1566.3,117.65 1569.64,120.65 1572.97,123.66 1576.3,126.66 1579.62,129.66 1582.94,132.67 1586.25,135.67 1589.55,138.68 1592.84,141.68 1596.13,144.68 1599.4,147.69 1602.67,150.69 1605.92,153.7 1609.17,156.7 1612.41,159.71 1615.63,162.71 1618.84,165.71 1622.04,168.72 1625.22,171.72 1628.4,174.73 1631.56,177.73 1634.7,180.74 1637.83,183.74 1640.94,186.74 1644.04,189.75 1647.12,192.75 1650.18,195.76 1653.23,198.76 1656.25,201.76 1659.26,204.77 1662.25,207.77 1665.22,210.78 1668.17,213.78 1671.1,216.79 1674.01,219.79 1676.9,222.79 1679.76,225.8 1682.6,228.8 1685.42,231.81 1688.22,234.81 1690.99,237.82 1693.73,240.82 1696.45,243.82 1699.15,246.83 1701.82,249.83 1704.46,252.84 1707.07,255.84 1709.66,258.84 1712.22,261.85 1714.74,264.85 1717.24,267.86 1719.71,270.86 1722.15,273.87 1724.56,276.87 1726.94,279.87 1729.29,282.88 1731.6,285.88 1733.88,288.89 1736.13,291.89 1738.34,294.89 1740.52,297.9 1742.66,300.9 1744.77,303.91 1746.84,306.91 1748.88,309.92 1750.88,312.92 1752.84,315.92 1754.77,318.93 1756.65,321.93 1758.5,324.94 1760.3,327.94 1762.07,330.95 1763.8,333.95 1765.48,336.95 1767.13,339.96 1768.73,342.96 1770.29,345.97 1771.8,348.97 1773.27,351.97 1774.7,354.98 1776.09,357.98 1777.42,360.99 1778.72,363.99 1779.96,367 1781.16,370" fill="none" stroke="#1c6fc2" stroke-width="3" stroke-linejoin="round" stroke-linecap="round"/>
<polyline points="1453.3,368.71 1456.1,362.95 1458.9,357.41 1461.7,352.08 1464.5,346.96 1467.3,342.04 1470.09,337.3 1472.89,332.73 1475.69,328.32 1478.49,324.07 1481.29,319.96 1484.09,315.98 1486.89,312.12 1489.69,308.38 1492.49,304.75 1495.29,301.2 1498.09,297.75 1500.89,294.36 1503.68,291.04 1506.48,287.78 1509.28,284.56 1512.08,281.38 1514.88,278.22 1517.68,275.08 1520.48,271.94 1523.28,268.8 1526.08,265.65 1528.88,262.48 1531.68,259.27 1534.48,256.04 1537.27,252.79 1540.07,249.51 1542.87,246.22 1545.67,242.92 1548.47,239.61 1551.27,236.29 1554.07,232.97 1556.87,229.66 1559.67,226.35 1562.47,223.05 1565.27,219.77 1568.07,216.5 1570.86,213.26 1573.66,210.04 1576.46,206.85 1579.26,203.69 1582.06,200.57 1584.86,197.48 1587.66,194.44 1590.46,191.45 1593.26,188.51 1596.06,185.62 1598.86,182.77 1601.66,179.98 1604.45,177.23 1607.25,174.54 1610.05,171.89 1612.85,169.29 1615.65,166.74 1618.45,164.23 1621.25,161.77 1624.05,159.36 1626.85,157 1629.65,154.68 1632.45,152.4 1635.25,150.18 1638.04,147.99 1640.84,145.86 1643.64,143.76 1646.44,141.72 1649.24,139.72 1652.04,137.77 1654.84,135.86 1657.64,134 1660.44,132.19 1663.24,130.43 1666.04,128.72 1668.84,127.06 1671.63,125.45 1674.43,123.89 1677.23,122.38 1680.03,120.92 1682.83,119.52 1685.63,118.17 1688.43,116.87 1691.23,115.62 1694.03,114.43 1696.83,113.3 1699.63,112.22 1702.43,111.19 1705.22,110.22 1708.02,109.31 1710.82,108.46 1713.62,107.66 1716.42,106.92 1719.22,106.24 1722.02,105.62 1724.82,105.06 1727.62,104.56 1730.42,104.12 1733.22,103.74 1736.02,103.42 1738.81,103.16 1741.61,102.97 1744.41,102.84 1747.21,102.77 1750.01,102.77 1752.81,102.83 1755.61,102.96 1758.41,103.15 1761.21,103.41 1764.01,103.73 1766.81,104.13 1769.61,104.58 1772.4,105.07 1775.2,105.56 1778,105.99 1780.8,106.33 1783.6,106.53 1786.4,106.55" fill="none" stroke="#1c6fc2" stroke-width="3" stroke-linejoin="round" stroke-linecap="round"/>
<polyline points="1436.35,13 1439.09,16 1441.93,19 1444.85,22 1447.84,25 1450.92,28 1454.07,31 1457.28,34 1460.56,37 1463.89,40 1467.28,43 1470.72,46 1474.2,49 1477.72,52 1481.28,55 1484.87,58 1488.49,61 1492.13,64 1495.78,67 1499.45,70 1503.14,73 1506.82,76 1510.51,79 1514.19,82 1517.86,85 1521.52,88 1525.17,91 1528.79,94 1532.39,97 1535.95,100 1539.48,103 1542.98,106 1546.42,109 1549.83,112 1553.18,115 1556.5,118 1559.78,121 1563.03,124 1566.24,127 1569.43,130 1572.59,133 1575.73,136 1578.85,139 1581.96,142 1585.05,145 1588.13,148 1591.21,151 1594.28,154 1597.34,157 1600.4,160 1603.44,163 1606.48,166 1609.5,169 1612.5,172 1615.49,175 1618.46,178 1621.4,181 1624.33,184 1627.23,187 1630.1,190 1632.94,193 1635.75,196 1638.52,199 1641.27,202 1643.97,205 1646.64,208 1649.26,211 1651.85,214 1654.38,217 1656.87,220 1659.32,223 1661.71,226 1664.05,229 1666.33,232 1668.56,235 1670.73,238 1672.85,241 1674.91,244 1676.91,247 1678.86,250 1680.76,253 1682.6,256 1684.4,259 1686.15,262 1687.85,265 1689.51,268 1691.12,271 1692.69,274 1694.22,277 1695.71,280 1697.16,283 1698.57,286 1699.94,289 1701.28,292 1702.59,295 1703.86,298 1705.1,301 1706.31,304 1707.5,307 1708.65,310 1709.78,313 1710.89,316 1711.97,319 1713.03,322 1714.07,325 1715.08,328 1716.09,331 1717.07,334 1718.05,337 1719.02,340 1719.99,343 1720.95,346 1721.92,349 1722.89,352 1723.88,355 1724.87,358 1725.89,361 1726.92,364 1727.97,367 1729.05,370" fill="none" stroke="#bf1236" stroke-width="3" stroke-linejoin="round" stroke-linecap="round"/>
<polyline points="1448.2,368.61 1450.58,363.96 1452.95,359.44 1455.33,355.04 1457.71,350.77 1460.09,346.61 1462.46,342.57 1464.84,338.63 1467.22,334.8 1469.6,331.07 1471.97,327.43 1474.35,323.89 1476.73,320.43 1479.11,317.05 1481.48,313.74 1483.86,310.51 1486.24,307.35 1488.61,304.25 1490.99,301.21 1493.37,298.22 1495.75,295.28 1498.12,292.39 1500.5,289.54 1502.88,286.72 1505.26,283.94 1507.63,281.18 1510.01,278.45 1512.39,275.73 1514.76,273.03 1517.14,270.33 1519.52,267.64 1521.9,264.95 1524.27,262.26 1526.65,259.56 1529.03,256.85 1531.41,254.14 1533.78,251.43 1536.16,248.72 1538.54,246.01 1540.92,243.3 1543.29,240.59 1545.67,237.89 1548.05,235.2 1550.42,232.51 1552.8,229.84 1555.18,227.17 1557.56,224.52 1559.93,221.88 1562.31,219.25 1564.69,216.64 1567.07,214.06 1569.44,211.49 1571.82,208.94 1574.2,206.41 1576.57,203.91 1578.95,201.43 1581.33,198.98 1583.71,196.56 1586.08,194.17 1588.46,191.81 1590.84,189.48 1593.22,187.17 1595.59,184.9 1597.97,182.65 1600.35,180.44 1602.73,178.24 1605.1,176.07 1607.48,173.93 1609.86,171.81 1612.23,169.71 1614.61,167.63 1616.99,165.57 1619.37,163.54 1621.74,161.53 1624.12,159.54 1626.5,157.59 1628.88,155.66 1631.25,153.76 1633.63,151.9 1636.01,150.07 1638.38,148.27 1640.76,146.52 1643.14,144.81 1645.52,143.14 1647.89,141.51 1650.27,139.93 1652.65,138.39 1655.03,136.91 1657.4,135.47 1659.78,134.09 1662.16,132.77 1664.54,131.5 1666.91,130.29 1669.29,129.14 1671.67,128.06 1674.04,127.03 1676.42,126.08 1678.8,125.19 1681.18,124.37 1683.55,123.62 1685.93,122.95 1688.31,122.35 1690.69,121.83 1693.06,121.38 1695.44,121.02 1697.82,120.74 1700.19,120.55 1702.57,120.44 1704.95,120.41 1707.33,120.47 1709.7,120.6 1712.08,120.81 1714.46,121.08 1716.84,121.41 1719.21,121.81 1721.59,122.25 1723.97,122.74 1726.35,123.28 1728.72,123.85 1731.1,124.46" fill="none" stroke="#bf1236" stroke-width="3" stroke-linejoin="round" stroke-linecap="round"/>
<polyline points="1705.1,301 1706.31,304 1707.5,307 1708.65,310 1709.78,313 1710.89,316 1711.97,319 1713.03,322 1714.07,325 1715.08,328 1716.09,331 1717.07,334 1718.05,337 1719.02,340 1719.99,343 1720.95,346 1721.92,349 1722.89,352 1723.88,355 1724.87,358 1725.89,361 1726.92,364 1727.97,367 1729.05,370" fill="none" stroke="#bf1236" stroke-width="4.4" stroke-linejoin="round" stroke-linecap="round"/>
<polyline points="1718.05,337 1719.02,340 1719.99,343 1720.95,346 1721.92,349 1722.89,352 1723.88,355 1724.87,358 1725.89,361 1726.92,364 1727.97,367 1729.05,370" fill="none" stroke="#bf1236" stroke-width="5.6" stroke-linejoin="round" stroke-linecap="round"/>
<polyline points="1754.77,318.93 1756.65,321.93 1758.5,324.94 1760.3,327.94 1762.07,330.95 1763.8,333.95 1765.48,336.95 1767.13,339.96 1768.73,342.96 1770.29,345.97 1771.8,348.97 1773.27,351.97 1774.7,354.98 1776.09,357.98 1777.42,360.99 1778.72,363.99 1779.96,367 1781.16,370" fill="none" stroke="#1c6fc2" stroke-width="4.6" stroke-linejoin="round" stroke-linecap="round"/>
<polyline points="1704.95,120.41 1707.33,120.47 1709.7,120.6 1712.08,120.81 1714.46,121.08 1716.84,121.41 1719.21,121.81 1721.59,122.25 1723.97,122.74 1726.35,123.28 1728.72,123.85 1731.1,124.46" fill="none" stroke="#bf1236" stroke-width="4.4" stroke-linejoin="round" stroke-linecap="round"/>
<polyline points="1752.81,102.83 1755.61,102.96 1758.41,103.15 1761.21,103.41 1764.01,103.73 1766.81,104.13 1769.61,104.58 1772.4,105.07 1775.2,105.56 1778,105.99 1780.8,106.33 1783.6,106.53 1786.4,106.55" fill="none" stroke="#1c6fc2" stroke-width="4.2" stroke-linejoin="round" stroke-linecap="round"/>
</g>
<rect x="1430.6" y="15" width="466.7" height="351" fill="none" stroke="#000" stroke-width="2.8"/>
<line x1="1430.6" y1="302" x2="1423.1" y2="302" stroke="#000" stroke-width="2.8" stroke-linecap="butt"/>
<line x1="1430.6" y1="206.3" x2="1423.1" y2="206.3" stroke="#000" stroke-width="2.8" stroke-linecap="butt"/>
<line x1="1430.6" y1="110.6" x2="1423.1" y2="110.6" stroke="#000" stroke-width="2.8" stroke-linecap="butt"/>
<line x1="1430.6" y1="14.9" x2="1423.1" y2="14.9" stroke="#000" stroke-width="2.8" stroke-linecap="butt"/>
<line x1="1430.6" y1="349.85" x2="1426.6" y2="349.85" stroke="#000" stroke-width="2.8" stroke-linecap="butt"/>
<line x1="1430.6" y1="254.15" x2="1426.6" y2="254.15" stroke="#000" stroke-width="2.8" stroke-linecap="butt"/>
<line x1="1430.6" y1="158.45" x2="1426.6" y2="158.45" stroke="#000" stroke-width="2.8" stroke-linecap="butt"/>
<line x1="1430.6" y1="62.75" x2="1426.6" y2="62.75" stroke="#000" stroke-width="2.8" stroke-linecap="butt"/>
<line x1="1897.3" y1="365.2" x2="1889.8" y2="365.2" stroke="#000" stroke-width="2.8" stroke-linecap="butt"/>
<line x1="1897.3" y1="260.2" x2="1889.8" y2="260.2" stroke="#000" stroke-width="2.8" stroke-linecap="butt"/>
<line x1="1897.3" y1="155.2" x2="1889.8" y2="155.2" stroke="#000" stroke-width="2.8" stroke-linecap="butt"/>
<line x1="1897.3" y1="50.2" x2="1889.8" y2="50.2" stroke="#000" stroke-width="2.8" stroke-linecap="butt"/>
<line x1="1897.3" y1="312.7" x2="1893.3" y2="312.7" stroke="#000" stroke-width="2.8" stroke-linecap="butt"/>
<line x1="1897.3" y1="207.7" x2="1893.3" y2="207.7" stroke="#000" stroke-width="2.8" stroke-linecap="butt"/>
<line x1="1897.3" y1="102.7" x2="1893.3" y2="102.7" stroke="#000" stroke-width="2.8" stroke-linecap="butt"/>
<line x1="1497.19" y1="366" x2="1497.19" y2="373.5" stroke="#000" stroke-width="2.8" stroke-linecap="butt"/>
<line x1="1630.6" y1="366" x2="1630.6" y2="373.5" stroke="#000" stroke-width="2.8" stroke-linecap="butt"/>
<line x1="1764.01" y1="366" x2="1764.01" y2="373.5" stroke="#000" stroke-width="2.8" stroke-linecap="butt"/>
<line x1="1897.42" y1="366" x2="1897.42" y2="373.5" stroke="#000" stroke-width="2.8" stroke-linecap="butt"/>
<line x1="1430.48" y1="366" x2="1430.48" y2="370" stroke="#000" stroke-width="2.8" stroke-linecap="butt"/>
<line x1="1563.89" y1="366" x2="1563.89" y2="370" stroke="#000" stroke-width="2.8" stroke-linecap="butt"/>
<line x1="1697.3" y1="366" x2="1697.3" y2="370" stroke="#000" stroke-width="2.8" stroke-linecap="butt"/>
<line x1="1830.71" y1="366" x2="1830.71" y2="370" stroke="#000" stroke-width="2.8" stroke-linecap="butt"/>
<text transform="translate(1419.2,311.8) scale(0.95,1)" font-size="34.2" text-anchor="end">0.6</text>
<text transform="translate(1419.2,216.1) scale(0.95,1)" font-size="34.2" text-anchor="end">0.9</text>
<text transform="translate(1419.2,120.4) scale(0.95,1)" font-size="34.2" text-anchor="end">1.2</text>
<text transform="translate(1419.2,24.7) scale(0.95,1)" font-size="34.2" text-anchor="end">1.5</text>
<text transform="translate(1904.6,375) scale(0.95,1)" font-size="34.2">-0.6</text>
<text transform="translate(1904.6,270) scale(0.95,1)" font-size="34.2">-0.3</text>
<text transform="translate(1904.6,165) scale(0.95,1)" font-size="34.2">0.0</text>
<text transform="translate(1904.6,60) scale(0.95,1)" font-size="34.2">0.3</text>
<text transform="translate(1497.19,403.8) scale(0.95,1)" font-size="34.2" text-anchor="middle">-0.3</text>
<text transform="translate(1630.6,403.8) scale(0.95,1)" font-size="34.2" text-anchor="middle">0.0</text>
<text transform="translate(1764.01,403.8) scale(0.95,1)" font-size="34.2" text-anchor="middle">0.3</text>
<text transform="translate(1897.42,403.8) scale(0.95,1)" font-size="34.2" text-anchor="middle">0.6</text>
<text transform="translate(1356.8,194.8) rotate(-90) scale(0.96,1)" font-size="37" text-anchor="middle">Voltage (V)</text>
<text transform="translate(1671,441.5) scale(0.96,1)" font-size="37" text-anchor="middle">Current density (mA cm<tspan font-size="23.68" dy="-11.1">-2</tspan><tspan dy="11.1">)</tspan></text>
<text transform="translate(1992,192) rotate(-90) scale(0.96,1)" font-size="37" text-anchor="middle">Power density (W cm<tspan font-size="23.68" dy="-11.1">-2</tspan><tspan dy="11.1">)</tspan></text>
<line x1="1729.1" y1="156.3" x2="1784.6" y2="156.3" stroke="#bf1236" stroke-width="2.6" stroke-linecap="round"/>
<text transform="translate(1803,164.8) scale(0.97,1)" font-size="28.5">20%</text>
<line x1="1729.1" y1="187.2" x2="1784.6" y2="187.2" stroke="#1c6fc2" stroke-width="2.6" stroke-linecap="round"/>
<text transform="translate(1803,195.7) scale(0.97,1)" font-size="28.5">50%</text>
<line x1="1729.1" y1="216.7" x2="1784.6" y2="216.7" stroke="#8d78b4" stroke-width="2.6" stroke-linecap="round"/>
<text transform="translate(1803,225.2) scale(0.97,1)" font-size="28.5">100%</text>
<text transform="translate(1636.7,57.9) scale(0.95,1)" font-size="29">Cys-AE||K<tspan font-size="18.85" dy="6.53">4</tspan><tspan dy="-6.53">Fe(CN)</tspan><tspan font-size="18.85" dy="6.53">6</tspan></text>
<circle cx="170.53" cy="803.6" r="4.3" fill="#0b4d94"/>
<circle cx="213.45" cy="759" r="4.3" fill="#0b4d94"/>
<circle cx="256.38" cy="728.8" r="4.3" fill="#0b4d94"/>
<circle cx="299.31" cy="701.8" r="4.3" fill="#0b4d94"/>
<circle cx="342.24" cy="681.2" r="4.3" fill="#0b4d94"/>
<circle cx="385.16" cy="660.2" r="4.3" fill="#0b4d94"/>
<circle cx="428.09" cy="641.4" r="4.3" fill="#0b4d94"/>
<circle cx="471.02" cy="622.2" r="4.3" fill="#0b4d94"/>
<circle cx="513.94" cy="596.8" r="4.3" fill="#0b4d94"/>
<circle cx="556.87" cy="524.9" r="4.3" fill="#0b4d94"/>
<rect x="127.7" y="490" width="471.9" height="350.2" fill="none" stroke="#000" stroke-width="2.8"/>
<line x1="127.7" y1="776.52" x2="120.2" y2="776.52" stroke="#000" stroke-width="2.8" stroke-linecap="butt"/>
<line x1="127.7" y1="681.02" x2="120.2" y2="681.02" stroke="#000" stroke-width="2.8" stroke-linecap="butt"/>
<line x1="127.7" y1="585.51" x2="120.2" y2="585.51" stroke="#000" stroke-width="2.8" stroke-linecap="butt"/>
<line x1="127.7" y1="490" x2="120.2" y2="490" stroke="#000" stroke-width="2.8" stroke-linecap="butt"/>
<line x1="127.7" y1="824.28" x2="123.7" y2="824.28" stroke="#000" stroke-width="2.8" stroke-linecap="butt"/>
<line x1="127.7" y1="728.77" x2="123.7" y2="728.77" stroke="#000" stroke-width="2.8" stroke-linecap="butt"/>
<line x1="127.7" y1="633.26" x2="123.7" y2="633.26" stroke="#000" stroke-width="2.8" stroke-linecap="butt"/>
<line x1="127.7" y1="537.75" x2="123.7" y2="537.75" stroke="#000" stroke-width="2.8" stroke-linecap="butt"/>
<line x1="127.6" y1="840.2" x2="127.6" y2="847.7" stroke="#000" stroke-width="2.8" stroke-linecap="butt"/>
<line x1="213.45" y1="840.2" x2="213.45" y2="847.7" stroke="#000" stroke-width="2.8" stroke-linecap="butt"/>
<line x1="299.31" y1="840.2" x2="299.31" y2="847.7" stroke="#000" stroke-width="2.8" stroke-linecap="butt"/>
<line x1="385.16" y1="840.2" x2="385.16" y2="847.7" stroke="#000" stroke-width="2.8" stroke-linecap="butt"/>
<line x1="471.02" y1="840.2" x2="471.02" y2="847.7" stroke="#000" stroke-width="2.8" stroke-linecap="butt"/>
<line x1="556.87" y1="840.2" x2="556.87" y2="847.7" stroke="#000" stroke-width="2.8" stroke-linecap="butt"/>
<line x1="170.53" y1="840.2" x2="170.53" y2="844.2" stroke="#000" stroke-width="2.8" stroke-linecap="butt"/>
<line x1="256.38" y1="840.2" x2="256.38" y2="844.2" stroke="#000" stroke-width="2.8" stroke-linecap="butt"/>
<line x1="342.24" y1="840.2" x2="342.24" y2="844.2" stroke="#000" stroke-width="2.8" stroke-linecap="butt"/>
<line x1="428.09" y1="840.2" x2="428.09" y2="844.2" stroke="#000" stroke-width="2.8" stroke-linecap="butt"/>
<line x1="513.94" y1="840.2" x2="513.94" y2="844.2" stroke="#000" stroke-width="2.8" stroke-linecap="butt"/>
<line x1="599.8" y1="840.2" x2="599.8" y2="844.2" stroke="#000" stroke-width="2.8" stroke-linecap="butt"/>
<text transform="translate(116.3,786.32) scale(0.95,1)" font-size="34.2" text-anchor="end">0.96</text>
<text transform="translate(116.3,690.82) scale(0.95,1)" font-size="34.2" text-anchor="end">1.02</text>
<text transform="translate(116.3,595.31) scale(0.95,1)" font-size="34.2" text-anchor="end">1.08</text>
<text transform="translate(116.3,499.8) scale(0.95,1)" font-size="34.2" text-anchor="end">1.14</text>
<text transform="translate(127.6,878) scale(0.95,1)" font-size="34.2" text-anchor="middle">0</text>
<text transform="translate(213.45,878) scale(0.95,1)" font-size="34.2" text-anchor="middle">20</text>
<text transform="translate(299.31,878) scale(0.95,1)" font-size="34.2" text-anchor="middle">40</text>
<text transform="translate(385.16,878) scale(0.95,1)" font-size="34.2" text-anchor="middle">60</text>
<text transform="translate(471.02,878) scale(0.95,1)" font-size="34.2" text-anchor="middle">80</text>
<text transform="translate(556.87,878) scale(0.95,1)" font-size="34.2" text-anchor="middle">100</text>
<text transform="translate(35.7,666.5) rotate(-90) scale(0.96,1)" font-size="37" text-anchor="middle">Voltage (V)</text>
<text transform="translate(353.8,923.3) scale(0.96,1)" font-size="37" text-anchor="middle">SOC (%)</text>
<text transform="translate(155.8,532.6) scale(0.95,1)" font-size="29">Cys-AE||K<tspan font-size="18.85" dy="6.53">4</tspan><tspan dy="-6.53">Fe(CN)</tspan><tspan font-size="18.85" dy="6.53">6</tspan></text>
<polyline points="755.08,519.59 772.42,519.59 772.42,811.41 790.16,811.41 790.16,519.59 807.5,519.59 807.5,665.5 976.85,665.5" fill="none" stroke="#f08536" stroke-width="2.4" stroke-linejoin="round" stroke-linecap="round"/>
<polyline points="984.92,665.5 1106.69,665.5 1106.69,811.41 1124.03,811.41 1124.03,519.59 1144.19,519.59 1144.19,811.41 1164.35,811.41 1164.35,519.59 1183.31,519.59 1183.31,811.41 1203.47,811.41" fill="none" stroke="#f08536" stroke-width="2.4" stroke-linejoin="round" stroke-linecap="round"/>
<polyline points="755.08,683.79 755.48,669.68 757.1,657.58 761.13,641.45 767.18,625.32 771.21,613.23 772.42,597.1 772.62,519.27" fill="none" stroke="#1f6fba" stroke-width="2.6" stroke-linejoin="round" stroke-linecap="round"/>
<polyline points="772.62,519.27 772.82,663.63 777.26,673.71 782.1,689.84 786.13,714.03 788.55,742.26 789.76,774.52 790.56,810.81" fill="none" stroke="#1f6fba" stroke-width="2.6" stroke-linejoin="round" stroke-linecap="round"/>
<polyline points="790.56,810.81 790.77,663.63 793.39,645.48 799.44,625.32 804.68,611.21 806.69,593.06 807.5,519.27" fill="none" stroke="#1f6fba" stroke-width="2.6" stroke-linejoin="round" stroke-linecap="round"/>
<polyline points="807.5,519.27 807.9,629.35 861.94,630.97 922.42,632.58 976.85,634.19" fill="none" stroke="#1f6fba" stroke-width="2.6" stroke-linejoin="round" stroke-linecap="round"/>
<polyline points="984.92,640.24 1106.69,640.24 1107.1,673.71 1113.95,691.85 1120,714.03 1123.23,742.26 1124.84,774.52 1125.24,810.81" fill="none" stroke="#1f6fba" stroke-width="2.6" stroke-linejoin="round" stroke-linecap="round"/>
<polyline points="1125.24,810.81 1125.65,663.63 1128.87,645.48 1136.13,627.34 1142.18,613.23 1143.79,593.06 1144.19,519.27" fill="none" stroke="#1f6fba" stroke-width="2.6" stroke-linejoin="round" stroke-linecap="round"/>
<polyline points="1144.19,519.27 1144.6,665.65 1150.24,677.74 1156.29,697.9 1160.32,722.1 1162.74,754.35 1163.95,782.58 1164.35,810.81" fill="none" stroke="#1f6fba" stroke-width="2.6" stroke-linejoin="round" stroke-linecap="round"/>
<polyline points="1164.35,810.81 1164.76,665.65 1168.39,645.48 1175.65,627.34 1181.69,613.23 1182.9,593.06 1183.31,519.27" fill="none" stroke="#1f6fba" stroke-width="2.6" stroke-linejoin="round" stroke-linecap="round"/>
<polyline points="1183.31,519.27 1183.71,665.65 1189.35,677.74 1195.4,697.9 1199.44,722.1 1201.85,754.35 1203.06,782.58 1203.47,810.81" fill="none" stroke="#1f6fba" stroke-width="2.6" stroke-linejoin="round" stroke-linecap="round"/>
<rect x="744.6" y="490.4" width="471.8" height="350.2" fill="none" stroke="#000" stroke-width="2.8"/>
<rect x="976.6" y="487.9" width="7.9" height="5" fill="#fff"/>
<line x1="972.5" y1="497.6" x2="980.5" y2="483.2" stroke="#000" stroke-width="2.4" stroke-linecap="round"/>
<line x1="980.6" y1="497.6" x2="988.6" y2="483.2" stroke="#000" stroke-width="2.4" stroke-linecap="round"/>
<rect x="976.6" y="838.1" width="7.9" height="5" fill="#fff"/>
<line x1="972.5" y1="847.8" x2="980.5" y2="833.4" stroke="#000" stroke-width="2.4" stroke-linecap="round"/>
<line x1="980.6" y1="847.8" x2="988.6" y2="833.4" stroke="#000" stroke-width="2.4" stroke-linecap="round"/>
<line x1="744.6" y1="840.6" x2="737.1" y2="840.6" stroke="#000" stroke-width="2.8" stroke-linecap="butt"/>
<line x1="744.6" y1="753.05" x2="737.1" y2="753.05" stroke="#000" stroke-width="2.8" stroke-linecap="butt"/>
<line x1="744.6" y1="665.5" x2="737.1" y2="665.5" stroke="#000" stroke-width="2.8" stroke-linecap="butt"/>
<line x1="744.6" y1="577.95" x2="737.1" y2="577.95" stroke="#000" stroke-width="2.8" stroke-linecap="butt"/>
<line x1="744.6" y1="490.4" x2="737.1" y2="490.4" stroke="#000" stroke-width="2.8" stroke-linecap="butt"/>
<line x1="744.6" y1="796.82" x2="740.6" y2="796.82" stroke="#000" stroke-width="2.8" stroke-linecap="butt"/>
<line x1="744.6" y1="709.27" x2="740.6" y2="709.27" stroke="#000" stroke-width="2.8" stroke-linecap="butt"/>
<line x1="744.6" y1="621.73" x2="740.6" y2="621.73" stroke="#000" stroke-width="2.8" stroke-linecap="butt"/>
<line x1="744.6" y1="534.18" x2="740.6" y2="534.18" stroke="#000" stroke-width="2.8" stroke-linecap="butt"/>
<line x1="1216.4" y1="840.6" x2="1208.9" y2="840.6" stroke="#000" stroke-width="2.8" stroke-linecap="butt"/>
<line x1="1216.4" y1="723.87" x2="1208.9" y2="723.87" stroke="#000" stroke-width="2.8" stroke-linecap="butt"/>
<line x1="1216.4" y1="607.14" x2="1208.9" y2="607.14" stroke="#000" stroke-width="2.8" stroke-linecap="butt"/>
<line x1="1216.4" y1="490.4" x2="1208.9" y2="490.4" stroke="#000" stroke-width="2.8" stroke-linecap="butt"/>
<line x1="1216.4" y1="782.23" x2="1212.4" y2="782.23" stroke="#000" stroke-width="2.8" stroke-linecap="butt"/>
<line x1="1216.4" y1="665.5" x2="1212.4" y2="665.5" stroke="#000" stroke-width="2.8" stroke-linecap="butt"/>
<line x1="1216.4" y1="548.77" x2="1212.4" y2="548.77" stroke="#000" stroke-width="2.8" stroke-linecap="butt"/>
<line x1="744.6" y1="840.6" x2="744.6" y2="848.1" stroke="#000" stroke-width="2.8" stroke-linecap="butt"/>
<line x1="806.7" y1="840.6" x2="806.7" y2="848.1" stroke="#000" stroke-width="2.8" stroke-linecap="butt"/>
<line x1="868.8" y1="840.6" x2="868.8" y2="848.1" stroke="#000" stroke-width="2.8" stroke-linecap="butt"/>
<line x1="930.9" y1="840.6" x2="930.9" y2="848.1" stroke="#000" stroke-width="2.8" stroke-linecap="butt"/>
<line x1="1035.3" y1="840.6" x2="1035.3" y2="848.1" stroke="#000" stroke-width="2.8" stroke-linecap="butt"/>
<line x1="1105.45" y1="840.6" x2="1105.45" y2="848.1" stroke="#000" stroke-width="2.8" stroke-linecap="butt"/>
<line x1="1175.6" y1="840.6" x2="1175.6" y2="848.1" stroke="#000" stroke-width="2.8" stroke-linecap="butt"/>
<line x1="775.65" y1="840.6" x2="775.65" y2="844.6" stroke="#000" stroke-width="2.8" stroke-linecap="butt"/>
<line x1="837.75" y1="840.6" x2="837.75" y2="844.6" stroke="#000" stroke-width="2.8" stroke-linecap="butt"/>
<line x1="899.85" y1="840.6" x2="899.85" y2="844.6" stroke="#000" stroke-width="2.8" stroke-linecap="butt"/>
<line x1="961.95" y1="840.6" x2="961.95" y2="844.6" stroke="#000" stroke-width="2.8" stroke-linecap="butt"/>
<line x1="1000.22" y1="840.6" x2="1000.22" y2="844.6" stroke="#000" stroke-width="2.8" stroke-linecap="butt"/>
<line x1="1070.38" y1="840.6" x2="1070.38" y2="844.6" stroke="#000" stroke-width="2.8" stroke-linecap="butt"/>
<line x1="1140.52" y1="840.6" x2="1140.52" y2="844.6" stroke="#000" stroke-width="2.8" stroke-linecap="butt"/>
<line x1="1210.67" y1="840.6" x2="1210.67" y2="844.6" stroke="#000" stroke-width="2.8" stroke-linecap="butt"/>
<text transform="translate(733.2,850.4) scale(0.95,1)" font-size="34.2" text-anchor="end">-0.6</text>
<text transform="translate(733.2,762.85) scale(0.95,1)" font-size="34.2" text-anchor="end">-0.3</text>
<text transform="translate(733.2,675.3) scale(0.95,1)" font-size="34.2" text-anchor="end">0.0</text>
<text transform="translate(733.2,587.75) scale(0.95,1)" font-size="34.2" text-anchor="end">0.3</text>
<text transform="translate(733.2,500.2) scale(0.95,1)" font-size="34.2" text-anchor="end">0.6</text>
<text transform="translate(1224.5,850.6) scale(0.95,1)" font-size="34.2">0.4</text>
<text transform="translate(1224.5,733.87) scale(0.95,1)" font-size="34.2">0.8</text>
<text transform="translate(1224.5,617.14) scale(0.95,1)" font-size="34.2">1.2</text>
<text transform="translate(1224.5,500.4) scale(0.95,1)" font-size="34.2">1.6</text>
<text transform="translate(744.6,878.4) scale(0.95,1)" font-size="34.2" text-anchor="middle">453</text>
<text transform="translate(806.7,878.4) scale(0.95,1)" font-size="34.2" text-anchor="middle">454</text>
<text transform="translate(868.8,878.4) scale(0.95,1)" font-size="34.2" text-anchor="middle">455</text>
<text transform="translate(930.9,878.4) scale(0.95,1)" font-size="34.2" text-anchor="middle">456</text>
<text transform="translate(1035.3,878.4) scale(0.95,1)" font-size="34.2" text-anchor="middle">477</text>
<text transform="translate(1105.45,878.4) scale(0.95,1)" font-size="34.2" text-anchor="middle">478</text>
<text transform="translate(1175.6,878.4) scale(0.95,1)" font-size="34.2" text-anchor="middle">479</text>
<text transform="translate(671.8,664.6) rotate(-90) scale(0.96,1)" font-size="37" text-anchor="middle">Current (A)</text>
<text transform="translate(1296.7,644.6) rotate(-90) scale(0.96,1)" font-size="37" text-anchor="middle">Voltage (V)</text>
<text transform="translate(988.7,920.6) scale(0.96,1)" font-size="37" text-anchor="middle">Time (h )</text>
<text transform="translate(838.3,533.5) scale(0.95,1)" font-size="29">Cys-AE||K<tspan font-size="18.85" dy="6.53">4</tspan><tspan dy="-6.53">Fe(CN)</tspan><tspan font-size="18.85" dy="6.53">6</tspan></text>
<line x1="1867.74" y1="509.19" x2="1867.74" y2="631.37" stroke="#f08536" stroke-width="2.4" stroke-linecap="butt"/>
<polyline points="1427.42,662.82 1429.99,663.1 1433.35,663.47 1437.36,663.9 1441.83,664.39 1446.63,664.9 1451.58,665.43 1456.52,665.95 1461.29,666.45 1466.02,666.94 1470.92,667.43 1475.94,667.93 1481.05,668.44 1486.21,668.95 1491.38,669.47 1496.53,669.98 1501.61,670.48 1506.65,670.98 1511.69,671.46 1516.73,671.94 1521.77,672.42 1526.81,672.92 1531.85,673.42 1536.9,673.95 1541.94,674.52 1546.98,675.12 1552.02,675.77 1557.06,676.45 1562.1,677.14 1567.14,677.83 1572.18,678.5 1577.22,679.15 1582.26,679.76 1587.3,680.31 1592.34,680.8 1597.38,681.27 1602.42,681.72 1607.46,682.18 1612.5,682.67 1617.54,683.2 1622.58,683.79 1627.62,684.45 1632.66,685.16 1637.7,685.91 1642.74,686.69 1647.78,687.48 1652.82,688.28 1657.86,689.07 1662.9,689.84 1667.94,690.58 1672.98,691.3 1678.02,692.02 1683.06,692.74 1688.1,693.47 1693.15,694.23 1698.19,695.03 1703.23,695.89 1708.27,696.78 1713.31,697.71 1718.35,698.68 1723.39,699.67 1728.43,700.69 1733.47,701.75 1738.51,702.83 1743.55,703.95 1748.7,705.12 1754.01,706.33 1759.38,707.58 1764.72,708.87 1769.93,710.16 1774.92,711.46 1779.6,712.76 1783.87,714.03 1787.72,715.29 1791.24,716.55 1794.48,717.81 1797.48,719.07 1800.29,720.33 1802.96,721.59 1805.54,722.85 1808.06,724.11 1810.52,725.36 1812.85,726.59 1815.06,727.8 1817.14,729.03 1819.09,730.27 1820.92,731.53 1822.62,732.84 1824.19,734.19 1825.61,735.58 1826.84,736.98 1827.93,738.4 1828.91,739.86 1829.8,741.37 1830.63,742.94 1831.44,744.57 1832.26,746.29 1833.06,748.09 1833.82,749.94 1834.54,751.87 1835.21,753.85 1835.84,755.9 1836.43,758.01 1836.98,760.18 1837.5,762.42 1837.97,764.75 1838.39,767.2 1838.77,769.72 1839.11,772.3 1839.43,774.9 1839.73,777.5 1840.02,780.07 1840.32,782.58 1840.63,785.17 1840.93,787.93 1841.23,790.75 1841.51,793.52 1841.77,796.13 1842,798.48 1842.19,800.45 1842.34,801.94" fill="none" stroke="#f08536" stroke-width="2.4" stroke-linejoin="round" stroke-linecap="round"/>
<polyline points="1427.42,647.5 1427.7,647.2 1427.9,646.82 1428.13,646.37 1428.48,645.86 1429.05,645.3 1429.93,644.71 1431.24,644.1 1433.06,643.47 1435.43,642.81 1438.25,642.1 1441.46,641.35 1445.01,640.57 1448.83,639.78 1452.85,638.98 1457.03,638.19 1461.29,637.42 1465.75,636.66 1470.52,635.89 1475.53,635.12 1480.7,634.34 1485.96,633.58 1491.25,632.83 1496.49,632.09 1501.61,631.37 1506.65,630.67 1511.69,629.98 1516.73,629.29 1521.77,628.62 1526.81,627.97 1531.85,627.34 1536.9,626.72 1541.94,626.13 1546.98,625.56 1552.02,625.01 1557.06,624.48 1562.1,623.96 1567.14,623.47 1572.18,622.99 1577.22,622.53 1582.26,622.1 1587.3,621.69 1592.34,621.31 1597.38,620.95 1602.42,620.61 1607.46,620.28 1612.5,619.95 1617.54,619.62 1622.58,619.27 1627.62,618.92 1632.66,618.58 1637.7,618.23 1642.74,617.89 1647.78,617.54 1652.82,617.19 1657.86,616.82 1662.9,616.45 1667.94,616.07 1672.98,615.69 1678.02,615.31 1683.06,614.91 1688.1,614.51 1693.15,614.1 1698.19,613.67 1703.23,613.23 1708.27,612.77 1713.31,612.32 1718.35,611.86 1723.39,611.39 1728.43,610.89 1733.47,610.36 1738.51,609.8 1743.55,609.19 1748.59,608.55 1753.63,607.87 1758.67,607.16 1763.71,606.42 1768.75,605.65 1773.79,604.85 1778.83,604.01 1783.87,603.15 1789.05,602.23 1794.42,601.24 1799.88,600.22 1805.29,599.16 1810.55,598.1 1815.53,597.06 1820.12,596.04 1824.19,595.08 1827.73,594.17 1830.84,593.29 1833.59,592.44 1836.04,591.6 1838.27,590.77 1840.35,589.94 1842.36,589.09 1844.35,588.23 1846.29,587.37 1848.09,586.55 1849.75,585.75 1851.29,584.92 1852.71,584.06 1854.04,583.13 1855.28,582.11 1856.45,580.97 1857.52,579.74 1858.46,578.47 1859.3,577.14 1860.06,575.73 1860.73,574.21 1861.36,572.58 1861.94,570.8 1862.5,568.87 1863.01,566.86 1863.44,564.82 1863.81,562.7 1864.14,560.43 1864.44,557.95 1864.72,555.21 1865.01,552.15 1865.32,548.71 1865.66,544.53 1866.01,539.51 1866.37,533.99 1866.71,528.3 1867.03,522.76 1867.32,517.71 1867.56,513.48 1867.74,510.4" fill="none" stroke="#bf1236" stroke-width="2.6" stroke-linejoin="round" stroke-linecap="round"/>
<polyline points="1427.42,647.5 1427.7,647.2 1427.9,646.82 1428.13,646.37 1428.48,645.86 1429.05,645.3 1429.93,644.71 1431.24,644.1 1433.06,643.47 1435.43,642.81 1438.25,642.1 1441.46,641.35 1445.01,640.57 1448.83,639.78 1452.85,638.98 1457.03,638.19 1461.29,637.42 1465.75,636.66 1470.52,635.89 1475.53,635.12 1480.7,634.34 1485.96,633.58 1491.25,632.83 1496.49,632.09 1501.61,631.37 1506.65,630.67 1511.69,629.98 1516.73,629.29 1521.77,628.62 1526.81,627.97 1531.85,627.34 1536.9,626.72 1541.94,626.13 1546.98,625.56 1552.02,625.01 1557.06,624.48 1562.1,623.96 1567.14,623.47 1572.18,622.99 1577.22,622.53 1582.26,622.1 1587.3,621.69 1592.34,621.31 1597.38,620.95 1602.42,620.61 1607.46,620.28 1612.5,619.95 1617.54,619.62 1622.58,619.27 1627.62,618.92 1632.66,618.58 1637.7,618.23 1642.74,617.89 1647.78,617.54 1652.82,617.19 1657.86,616.82 1662.9,616.45 1667.94,616.07 1672.98,615.69 1678.02,615.31 1683.06,614.91 1688.1,614.51 1693.15,614.1 1698.19,613.67 1703.23,613.23 1708.27,612.77 1713.31,612.32 1718.35,611.86 1723.39,611.39 1728.43,610.89 1733.47,610.36 1738.51,609.8 1743.55,609.19 1748.59,608.55 1753.63,607.87 1758.67,607.16 1763.71,606.42 1768.75,605.65 1773.79,604.85 1778.83,604.01 1783.87,603.15 1789.05,602.23 1794.42,601.24 1799.88,600.22 1805.29,599.16 1810.55,598.1 1815.53,597.06 1820.12,596.04 1824.19,595.08 1827.73,594.17 1830.84,593.29 1833.59,592.44 1836.04,591.6 1838.27,590.77 1840.35,589.94 1842.36,589.09 1844.35,588.23 1846.29,587.37 1848.09,586.55 1849.75,585.75 1851.29,584.92 1852.71,584.06 1854.04,583.13 1855.28,582.11 1856.45,580.97 1857.52,579.74 1858.46,578.47 1859.3,577.14 1860.06,575.73 1860.73,574.21 1861.36,572.58 1861.94,570.8 1862.5,568.87 1863.01,566.86 1863.44,564.82 1863.81,562.7 1864.14,560.43 1864.44,557.95 1864.72,555.21 1865.01,552.15 1865.32,548.71 1865.66,544.53 1866.01,539.51 1866.37,533.99 1866.71,528.3 1867.03,522.76 1867.32,517.71 1867.56,513.48 1867.74,510.4" fill="none" stroke="#f08536" stroke-width="2.6" stroke-linejoin="round" stroke-linecap="round"/>
<polyline points="1427.42,647.5 1427.7,647.2 1427.9,646.82 1428.13,646.37 1428.48,645.86 1429.05,645.3 1429.93,644.71 1431.24,644.1 1433.06,643.47 1435.43,642.81 1438.25,642.1 1441.46,641.35 1445.01,640.57 1448.83,639.78 1452.85,638.98 1457.03,638.19 1461.29,637.42 1465.75,636.66 1470.52,635.89 1475.53,635.12 1480.7,634.34 1485.96,633.58 1491.25,632.83 1496.49,632.09 1501.61,631.37 1506.65,630.67 1511.69,629.98 1516.73,629.29 1521.77,628.62 1526.81,627.97 1531.85,627.34 1536.9,626.72 1541.94,626.13 1546.98,625.56 1552.02,625.01 1557.06,624.48 1562.1,623.96 1567.14,623.47 1572.18,622.99 1577.22,622.53 1582.26,622.1 1587.3,621.69 1592.34,621.31 1597.38,620.95 1602.42,620.61 1607.46,620.28 1612.5,619.95 1617.54,619.62 1622.58,619.27 1627.62,618.92 1632.66,618.58 1637.7,618.23 1642.74,617.89 1647.78,617.54 1652.82,617.19 1657.86,616.82 1662.9,616.45 1667.94,616.07 1672.98,615.69 1678.02,615.31 1683.06,614.91 1688.1,614.51 1693.15,614.1 1698.19,613.67 1703.23,613.23 1708.27,612.77 1713.31,612.32 1718.35,611.86 1723.39,611.39 1728.43,610.89 1733.47,610.36 1738.51,609.8 1743.55,609.19 1748.59,608.55 1753.63,607.87 1758.67,607.16 1763.71,606.42 1768.75,605.65 1773.79,604.85 1778.83,604.01 1783.87,603.15 1789.05,602.23 1794.42,601.24 1799.88,600.22 1805.29,599.16 1810.55,598.1 1815.53,597.06 1820.12,596.04 1824.19,595.08 1827.73,594.17 1830.84,593.29 1833.59,592.44 1836.04,591.6 1838.27,590.77 1840.35,589.94 1842.36,589.09 1844.35,588.23 1846.29,587.37 1848.09,586.55 1849.75,585.75 1851.29,584.92 1852.71,584.06 1854.04,583.13 1855.28,582.11 1856.45,580.97 1857.52,579.74 1858.46,578.47 1859.3,577.14 1860.06,575.73 1860.73,574.21 1861.36,572.58 1861.94,570.8 1862.5,568.87 1863.01,566.86 1863.44,564.82 1863.81,562.7 1864.14,560.43 1864.44,557.95 1864.72,555.21 1865.01,552.15 1865.32,548.71 1865.66,544.53 1866.01,539.51 1866.37,533.99 1866.71,528.3 1867.03,522.76 1867.32,517.71 1867.56,513.48 1867.74,510.4" fill="none" stroke="#1f6fba" stroke-width="2.6" stroke-linejoin="round" stroke-linecap="round"/>
<polyline points="1427.42,657.58 1427.7,657.8 1427.9,658.08 1428.13,658.41 1428.48,658.79 1429.05,659.19 1429.93,659.6 1431.24,660.01 1433.06,660.4 1435.43,660.78 1438.25,661.16 1441.46,661.55 1445.01,661.94 1448.83,662.34 1452.85,662.76 1457.03,663.18 1461.29,663.63 1465.75,664.09 1470.52,664.58 1475.53,665.08 1480.7,665.59 1485.96,666.11 1491.25,666.63 1496.49,667.15 1501.61,667.66 1506.65,668.17 1511.69,668.67 1516.73,669.17 1521.77,669.68 1526.81,670.18 1531.85,670.69 1536.9,671.19 1541.94,671.69 1546.98,672.2 1552.02,672.7 1557.06,673.21 1562.1,673.71 1567.14,674.21 1572.18,674.72 1577.22,675.22 1582.26,675.73 1587.3,676.22 1592.34,676.71 1597.38,677.18 1602.42,677.67 1607.46,678.16 1612.5,678.66 1617.54,679.2 1622.58,679.76 1627.62,680.35 1632.66,680.97 1637.7,681.62 1642.74,682.28 1647.78,682.95 1652.82,683.63 1657.86,684.32 1662.9,685 1667.94,685.68 1672.98,686.35 1678.02,687.02 1683.06,687.7 1688.1,688.39 1693.15,689.11 1698.19,689.86 1703.23,690.65 1708.27,691.46 1713.31,692.28 1718.35,693.12 1723.39,694 1728.43,694.9 1733.47,695.85 1738.51,696.85 1743.55,697.9 1748.64,699.03 1753.82,700.22 1759.02,701.48 1764.21,702.77 1769.34,704.08 1774.36,705.4 1779.22,706.7 1783.87,707.98 1788.34,709.23 1792.69,710.46 1796.91,711.68 1801.01,712.9 1804.98,714.14 1808.82,715.4 1812.54,716.71 1816.13,718.06 1819.61,719.48 1822.98,720.95 1826.24,722.45 1829.36,723.99 1832.34,725.54 1835.17,727.09 1837.84,728.64 1840.32,730.16 1842.61,731.65 1844.7,733.09 1846.62,734.52 1848.39,735.96 1850.03,737.43 1851.57,738.95 1853.03,740.55 1854.44,742.26 1855.77,744.05 1856.99,745.91 1858.12,747.83 1859.15,749.82 1860.1,751.87 1860.97,753.98 1861.76,756.15 1862.5,758.39 1863.14,760.69 1863.68,763.07 1864.12,765.51 1864.49,768.01 1864.82,770.57 1865.12,773.19 1865.41,775.85 1865.73,778.55 1866.05,781.48 1866.36,784.72 1866.66,788.11 1866.94,791.5 1867.19,794.74 1867.41,797.66 1867.59,800.11 1867.74,801.94" fill="none" stroke="#bf1236" stroke-width="2.6" stroke-linejoin="round" stroke-linecap="round"/>
<polyline points="1427.42,657.58 1427.7,657.8 1427.9,658.08 1428.13,658.41 1428.48,658.79 1429.05,659.19 1429.93,659.6 1431.24,660.01 1433.06,660.4 1435.43,660.78 1438.25,661.16 1441.46,661.55 1445.01,661.94 1448.83,662.34 1452.85,662.76 1457.03,663.18 1461.29,663.63 1465.75,664.09 1470.52,664.58 1475.53,665.08 1480.7,665.59 1485.96,666.11 1491.25,666.63 1496.49,667.15 1501.61,667.66 1506.65,668.17 1511.69,668.67 1516.73,669.17 1521.77,669.68 1526.81,670.18 1531.85,670.69 1536.9,671.19 1541.94,671.69 1546.98,672.2 1552.02,672.7 1557.06,673.21 1562.1,673.71 1567.14,674.21 1572.18,674.72 1577.22,675.22 1582.26,675.73 1587.3,676.22 1592.34,676.71 1597.38,677.18 1602.42,677.67 1607.46,678.16 1612.5,678.66 1617.54,679.2 1622.58,679.76 1627.62,680.35 1632.66,680.97 1637.7,681.62 1642.74,682.28 1647.78,682.95 1652.82,683.63 1657.86,684.32 1662.9,685 1667.94,685.68 1672.98,686.35 1678.02,687.02 1683.06,687.7 1688.1,688.39 1693.15,689.11 1698.19,689.86 1703.23,690.65 1708.27,691.46 1713.31,692.28 1718.35,693.12 1723.39,694 1728.43,694.9 1733.47,695.85 1738.51,696.85 1743.55,697.9 1748.64,699.03 1753.82,700.22 1759.02,701.48 1764.21,702.77 1769.34,704.08 1774.36,705.4 1779.22,706.7 1783.87,707.98 1788.34,709.23 1792.69,710.46 1796.91,711.68 1801.01,712.9 1804.98,714.14 1808.82,715.4 1812.54,716.71 1816.13,718.06 1819.61,719.48 1822.98,720.95 1826.24,722.45 1829.36,723.99 1832.34,725.54 1835.17,727.09 1837.84,728.64 1840.32,730.16 1842.61,731.65 1844.7,733.09 1846.62,734.52 1848.39,735.96 1850.03,737.43 1851.57,738.95 1853.03,740.55 1854.44,742.26 1855.77,744.05 1856.99,745.91 1858.12,747.83 1859.15,749.82 1860.1,751.87 1860.97,753.98 1861.76,756.15 1862.5,758.39 1863.14,760.69 1863.68,763.07 1864.12,765.51 1864.49,768.01 1864.82,770.57 1865.12,773.19 1865.41,775.85 1865.73,778.55 1866.05,781.48 1866.36,784.72 1866.66,788.11 1866.94,791.5 1867.19,794.74 1867.41,797.66 1867.59,800.11 1867.74,801.94" fill="none" stroke="#1f6fba" stroke-width="2.6" stroke-linejoin="round" stroke-linecap="round"/>
<polyline points="1427.42,647.5 1427.7,647.2 1427.9,646.82 1428.13,646.37 1428.48,645.86 1429.05,645.3 1429.93,644.71 1431.24,644.1 1433.06,643.47 1435.43,642.81 1438.25,642.1 1441.46,641.35 1445.01,640.57 1448.83,639.78 1452.85,638.98 1457.03,638.19 1461.29,637.42 1465.75,636.66 1470.52,635.89 1475.53,635.12 1480.7,634.34 1485.96,633.58 1491.25,632.83 1496.49,632.09 1501.61,631.37 1506.65,630.67 1511.69,629.98 1516.73,629.29 1521.77,628.62 1526.81,627.97 1531.85,627.34 1536.9,626.72 1541.94,626.13 1546.98,625.56 1552.02,625.01 1557.06,624.48 1562.1,623.96 1567.14,623.47 1572.18,622.99 1577.22,622.53 1582.26,622.1 1587.3,621.69 1592.34,621.31 1597.38,620.95 1602.42,620.61 1607.46,620.28 1612.5,619.95 1617.54,619.62 1622.58,619.27 1627.62,618.92 1632.66,618.58 1637.7,618.23 1642.74,617.89 1647.78,617.54 1652.82,617.19 1657.86,616.82 1662.9,616.45 1667.94,616.07 1672.98,615.69 1678.02,615.31 1683.06,614.91 1688.1,614.51 1693.15,614.1 1698.19,613.67 1703.23,613.23 1708.27,612.77 1713.31,612.32 1718.35,611.86 1723.39,611.39 1728.43,610.89 1733.47,610.36 1738.51,609.8 1743.55,609.19 1748.59,608.55 1753.63,607.87 1758.67,607.16 1763.71,606.42 1768.75,605.65 1773.79,604.85 1778.83,604.01 1783.87,603.15 1789.05,602.23 1794.42,601.24 1799.88,600.22 1805.29,599.16 1810.55,598.1 1815.53,597.06 1820.12,596.04 1824.19,595.08 1827.73,594.17 1830.84,593.29 1833.59,592.44 1836.04,591.6 1838.27,590.77 1840.35,589.94 1842.36,589.09 1844.35,588.23 1846.29,587.37 1848.09,586.55 1849.75,585.75 1851.29,584.92 1852.71,584.06 1854.04,583.13 1855.28,582.11 1856.45,580.97 1857.52,579.74 1858.46,578.47 1859.3,577.14 1860.06,575.73 1860.73,574.21 1861.36,572.58 1861.94,570.8 1862.5,568.87 1863.01,566.86 1863.44,564.82 1863.81,562.7 1864.14,560.43 1864.44,557.95 1864.72,555.21 1865.01,552.15 1865.32,548.71 1865.66,544.53 1866.01,539.51 1866.37,533.99 1866.71,528.3 1867.03,522.76 1867.32,517.71 1867.56,513.48 1867.74,510.4" fill="none" stroke="#8d78b4" stroke-width="3.2" stroke-linejoin="round" stroke-linecap="round"/>
<polyline points="1427.42,657.58 1427.7,657.8 1427.9,658.08 1428.13,658.41 1428.48,658.79 1429.05,659.19 1429.93,659.6 1431.24,660.01 1433.06,660.4 1435.43,660.78 1438.25,661.16 1441.46,661.55 1445.01,661.94 1448.83,662.34 1452.85,662.76 1457.03,663.18 1461.29,663.63 1465.75,664.09 1470.52,664.58 1475.53,665.08 1480.7,665.59 1485.96,666.11 1491.25,666.63 1496.49,667.15 1501.61,667.66 1506.65,668.17 1511.69,668.67 1516.73,669.17 1521.77,669.68 1526.81,670.18 1531.85,670.69 1536.9,671.19 1541.94,671.69 1546.98,672.2 1552.02,672.7 1557.06,673.21 1562.1,673.71 1567.14,674.21 1572.18,674.72 1577.22,675.22 1582.26,675.73 1587.3,676.22 1592.34,676.71 1597.38,677.18 1602.42,677.67 1607.46,678.16 1612.5,678.66 1617.54,679.2 1622.58,679.76 1627.62,680.35 1632.66,680.97 1637.7,681.62 1642.74,682.28 1647.78,682.95 1652.82,683.63 1657.86,684.32 1662.9,685 1667.94,685.68 1672.98,686.35 1678.02,687.02 1683.06,687.7 1688.1,688.39 1693.15,689.11 1698.19,689.86 1703.23,690.65 1708.27,691.46 1713.31,692.28 1718.35,693.12 1723.39,694 1728.43,694.9 1733.47,695.85 1738.51,696.85 1743.55,697.9 1748.64,699.03 1753.82,700.22 1759.02,701.48 1764.21,702.77 1769.34,704.08 1774.36,705.4 1779.22,706.7 1783.87,707.98 1788.34,709.23 1792.69,710.46 1796.91,711.68 1801.01,712.9 1804.98,714.14 1808.82,715.4 1812.54,716.71 1816.13,718.06 1819.61,719.48 1822.98,720.95 1826.24,722.45 1829.36,723.99 1832.34,725.54 1835.17,727.09 1837.84,728.64 1840.32,730.16 1842.61,731.65 1844.7,733.09 1846.62,734.52 1848.39,735.96 1850.03,737.43 1851.57,738.95 1853.03,740.55 1854.44,742.26 1855.77,744.05 1856.99,745.91 1858.12,747.83 1859.15,749.82 1860.1,751.87 1860.97,753.98 1861.76,756.15 1862.5,758.39 1863.14,760.69 1863.68,763.07 1864.12,765.51 1864.49,768.01 1864.82,770.57 1865.12,773.19 1865.41,775.85 1865.73,778.55 1866.05,781.48 1866.36,784.72 1866.66,788.11 1866.94,791.5 1867.19,794.74 1867.41,797.66 1867.59,800.11 1867.74,801.94" fill="none" stroke="#8d78b4" stroke-width="3.2" stroke-linejoin="round" stroke-linecap="round"/>
<line x1="1428.5" y1="639.44" x2="1428.5" y2="671.69" stroke="#8d78b4" stroke-width="2.4" stroke-linecap="butt"/>
<rect x="1427.4" y="480.2" width="466.3" height="350.4" fill="none" stroke="#000" stroke-width="2.8"/>
<line x1="1427.4" y1="830.6" x2="1419.9" y2="830.6" stroke="#000" stroke-width="2.8" stroke-linecap="butt"/>
<line x1="1427.4" y1="713.8" x2="1419.9" y2="713.8" stroke="#000" stroke-width="2.8" stroke-linecap="butt"/>
<line x1="1427.4" y1="597" x2="1419.9" y2="597" stroke="#000" stroke-width="2.8" stroke-linecap="butt"/>
<line x1="1427.4" y1="480.2" x2="1419.9" y2="480.2" stroke="#000" stroke-width="2.8" stroke-linecap="butt"/>
<line x1="1427.4" y1="772.2" x2="1423.4" y2="772.2" stroke="#000" stroke-width="2.8" stroke-linecap="butt"/>
<line x1="1427.4" y1="655.4" x2="1423.4" y2="655.4" stroke="#000" stroke-width="2.8" stroke-linecap="butt"/>
<line x1="1427.4" y1="538.6" x2="1423.4" y2="538.6" stroke="#000" stroke-width="2.8" stroke-linecap="butt"/>
<line x1="1427.4" y1="830.6" x2="1427.4" y2="838.1" stroke="#000" stroke-width="2.8" stroke-linecap="butt"/>
<line x1="1520.6" y1="830.6" x2="1520.6" y2="838.1" stroke="#000" stroke-width="2.8" stroke-linecap="butt"/>
<line x1="1613.8" y1="830.6" x2="1613.8" y2="838.1" stroke="#000" stroke-width="2.8" stroke-linecap="butt"/>
<line x1="1707" y1="830.6" x2="1707" y2="838.1" stroke="#000" stroke-width="2.8" stroke-linecap="butt"/>
<line x1="1800.2" y1="830.6" x2="1800.2" y2="838.1" stroke="#000" stroke-width="2.8" stroke-linecap="butt"/>
<line x1="1893.4" y1="830.6" x2="1893.4" y2="838.1" stroke="#000" stroke-width="2.8" stroke-linecap="butt"/>
<line x1="1474" y1="830.6" x2="1474" y2="834.6" stroke="#000" stroke-width="2.8" stroke-linecap="butt"/>
<line x1="1567.2" y1="830.6" x2="1567.2" y2="834.6" stroke="#000" stroke-width="2.8" stroke-linecap="butt"/>
<line x1="1660.4" y1="830.6" x2="1660.4" y2="834.6" stroke="#000" stroke-width="2.8" stroke-linecap="butt"/>
<line x1="1753.6" y1="830.6" x2="1753.6" y2="834.6" stroke="#000" stroke-width="2.8" stroke-linecap="butt"/>
<line x1="1846.8" y1="830.6" x2="1846.8" y2="834.6" stroke="#000" stroke-width="2.8" stroke-linecap="butt"/>
<text transform="translate(1416,840.4) scale(0.95,1)" font-size="34.2" text-anchor="end">0.4</text>
<text transform="translate(1416,723.6) scale(0.95,1)" font-size="34.2" text-anchor="end">0.8</text>
<text transform="translate(1416,606.8) scale(0.95,1)" font-size="34.2" text-anchor="end">1.2</text>
<text transform="translate(1416,490) scale(0.95,1)" font-size="34.2" text-anchor="end">1.6</text>
<text transform="translate(1427.4,868.4) scale(0.95,1)" font-size="34.2" text-anchor="middle">0</text>
<text transform="translate(1520.6,868.4) scale(0.95,1)" font-size="34.2" text-anchor="middle">5</text>
<text transform="translate(1613.8,868.4) scale(0.95,1)" font-size="34.2" text-anchor="middle">10</text>
<text transform="translate(1707,868.4) scale(0.95,1)" font-size="34.2" text-anchor="middle">15</text>
<text transform="translate(1800.2,868.4) scale(0.95,1)" font-size="34.2" text-anchor="middle">20</text>
<text transform="translate(1893.4,868.4) scale(0.95,1)" font-size="34.2" text-anchor="middle">25</text>
<text transform="translate(1357,644.2) rotate(-90) scale(0.96,1)" font-size="37" text-anchor="middle">Voltage (V)</text>
<text transform="translate(1576.6,916.6) scale(0.96,1)" font-size="37">Capacity (Ah L<tspan font-size="23.68" dy="-11.1">-1</tspan><tspan dy="11.1">)</tspan></text>
<line x1="1473.4" y1="714" x2="1531.9" y2="714" stroke="#bf1236" stroke-width="2.9" stroke-linecap="round"/>
<text transform="translate(1553.2,724) scale(0.97,1)" font-size="28.5">809th</text>
<line x1="1473.4" y1="746.3" x2="1531.9" y2="746.3" stroke="#f08536" stroke-width="2.9" stroke-linecap="round"/>
<text transform="translate(1553.2,756.3) scale(0.97,1)" font-size="28.5">810th</text>
<line x1="1473.4" y1="778.5" x2="1531.9" y2="778.5" stroke="#1f6fba" stroke-width="2.9" stroke-linecap="round"/>
<text transform="translate(1553.2,788.5) scale(0.97,1)" font-size="28.5">811th</text>
<line x1="1473.4" y1="809.2" x2="1531.9" y2="809.2" stroke="#8d78b4" stroke-width="2.9" stroke-linecap="round"/>
<text transform="translate(1553.2,819.2) scale(0.97,1)" font-size="28.5">812th</text>
<text transform="translate(1460.8,525.2) scale(0.95,1)" font-size="29">Cys-AE||K<tspan font-size="18.85" dy="6.53">4</tspan><tspan dy="-6.53">Fe(CN)</tspan><tspan font-size="18.85" dy="6.53">6</tspan></text>
<clipPath id="gclip"><rect x="128.2" y="1045.6" width="1776.0" height="538.8000000000002"/></clipPath>
<g fill="#fff" stroke="#f0d764" stroke-width="2.2" clip-path="url(#gclip)"><circle cx="130.1" cy="1293.6" r="4.7"/><circle cx="132.3" cy="1293.8" r="4.7"/><circle cx="134.5" cy="1294.1" r="4.7"/><circle cx="136.7" cy="1294.4" r="4.7"/><circle cx="139.0" cy="1294.6" r="4.7"/><circle cx="141.2" cy="1294.9" r="4.7"/><circle cx="143.4" cy="1295.2" r="4.7"/><circle cx="145.6" cy="1295.4" r="4.7"/><circle cx="147.8" cy="1295.7" r="4.7"/><circle cx="150.0" cy="1296.0" r="4.7"/><circle cx="152.2" cy="1296.2" r="4.7"/><circle cx="154.4" cy="1296.5" r="4.7"/><circle cx="156.6" cy="1296.8" r="4.7"/><circle cx="158.8" cy="1297.0" r="4.7"/><circle cx="161.1" cy="1297.3" r="4.7"/><circle cx="163.3" cy="1297.5" r="4.7"/><circle cx="165.5" cy="1297.8" r="4.7"/><circle cx="167.7" cy="1298.1" r="4.7"/><circle cx="169.9" cy="1298.3" r="4.7"/><circle cx="172.1" cy="1298.6" r="4.7"/><circle cx="174.3" cy="1298.8" r="4.7"/><circle cx="176.5" cy="1298.3" r="4.7"/><circle cx="178.7" cy="1297.8" r="4.7"/><circle cx="181.0" cy="1297.3" r="4.7"/><circle cx="183.2" cy="1296.8" r="4.7"/><circle cx="185.4" cy="1296.3" r="4.7"/><circle cx="187.6" cy="1295.9" r="4.7"/><circle cx="189.8" cy="1295.4" r="4.7"/><circle cx="192.0" cy="1294.9" r="4.7"/><circle cx="194.2" cy="1294.4" r="4.7"/><circle cx="196.4" cy="1293.9" r="4.7"/><circle cx="198.6" cy="1293.7" r="4.7"/><circle cx="200.8" cy="1293.6" r="4.7"/><circle cx="203.1" cy="1293.5" r="4.7"/><circle cx="205.3" cy="1293.4" r="4.7"/><circle cx="207.5" cy="1293.3" r="4.7"/><circle cx="209.7" cy="1293.1" r="4.7"/><circle cx="211.9" cy="1293.0" r="4.7"/><circle cx="214.1" cy="1292.9" r="4.7"/><circle cx="216.3" cy="1292.8" r="4.7"/><circle cx="218.5" cy="1292.7" r="4.7"/><circle cx="220.7" cy="1292.7" r="4.7"/><circle cx="223.0" cy="1293.2" r="4.7"/><circle cx="225.2" cy="1293.6" r="4.7"/><circle cx="227.4" cy="1294.0" r="4.7"/><circle cx="229.6" cy="1294.5" r="4.7"/><circle cx="231.8" cy="1294.9" r="4.7"/><circle cx="234.0" cy="1295.4" r="4.7"/><circle cx="236.2" cy="1295.8" r="4.7"/><circle cx="238.4" cy="1296.2" r="4.7"/><circle cx="240.6" cy="1296.7" r="4.7"/><circle cx="242.8" cy="1297.1" r="4.7"/><circle cx="245.1" cy="1297.5" r="4.7"/><circle cx="247.3" cy="1297.8" r="4.7"/><circle cx="249.5" cy="1298.1" r="4.7"/><circle cx="251.7" cy="1298.4" r="4.7"/><circle cx="253.9" cy="1298.7" r="4.7"/><circle cx="256.1" cy="1299.1" r="4.7"/><circle cx="258.3" cy="1299.4" r="4.7"/><circle cx="260.5" cy="1299.7" r="4.7"/><circle cx="262.7" cy="1300.0" r="4.7"/><circle cx="265.0" cy="1300.3" r="4.7"/><circle cx="267.2" cy="1300.7" r="4.7"/><circle cx="269.4" cy="1301.0" r="4.7"/><circle cx="271.6" cy="1301.1" r="4.7"/><circle cx="273.8" cy="1300.6" r="4.7"/><circle cx="276.0" cy="1300.1" r="4.7"/><circle cx="278.2" cy="1299.6" r="4.7"/><circle cx="280.4" cy="1299.1" r="4.7"/><circle cx="282.6" cy="1298.6" r="4.7"/><circle cx="284.8" cy="1298.2" r="4.7"/><circle cx="287.1" cy="1297.7" r="4.7"/><circle cx="289.3" cy="1297.2" r="4.7"/><circle cx="291.5" cy="1297.2" r="4.7"/><circle cx="293.7" cy="1297.2" r="4.7"/><circle cx="295.9" cy="1297.2" r="4.7"/><circle cx="298.1" cy="1297.2" r="4.7"/><circle cx="300.3" cy="1297.2" r="4.7"/><circle cx="302.5" cy="1297.2" r="4.7"/><circle cx="304.7" cy="1297.2" r="4.7"/><circle cx="307.0" cy="1297.2" r="4.7"/><circle cx="309.2" cy="1297.2" r="4.7"/><circle cx="311.4" cy="1297.2" r="4.7"/><circle cx="313.6" cy="1297.7" r="4.7"/><circle cx="315.8" cy="1298.5" r="4.7"/><circle cx="318.0" cy="1299.2" r="4.7"/><circle cx="320.2" cy="1300.0" r="4.7"/><circle cx="322.4" cy="1300.8" r="4.7"/><circle cx="324.6" cy="1301.6" r="4.7"/><circle cx="326.8" cy="1302.4" r="4.7"/><circle cx="329.1" cy="1302.9" r="4.7"/><circle cx="331.3" cy="1302.5" r="4.7"/><circle cx="333.5" cy="1302.2" r="4.7"/><circle cx="335.7" cy="1301.8" r="4.7"/><circle cx="337.9" cy="1301.4" r="4.7"/><circle cx="340.1" cy="1301.1" r="4.7"/><circle cx="342.3" cy="1300.7" r="4.7"/><circle cx="344.5" cy="1297.4" r="4.7"/><circle cx="346.7" cy="1294.0" r="4.7"/><circle cx="349.0" cy="1293.4" r="4.7"/><circle cx="351.2" cy="1292.9" r="4.7"/><circle cx="353.4" cy="1292.5" r="4.7"/><circle cx="355.6" cy="1292.1" r="4.7"/><circle cx="357.8" cy="1291.6" r="4.7"/><circle cx="360.0" cy="1290.9" r="4.7"/><circle cx="362.2" cy="1290.0" r="4.7"/><circle cx="364.4" cy="1289.1" r="4.7"/><circle cx="366.6" cy="1288.2" r="4.7"/><circle cx="368.8" cy="1287.3" r="4.7"/><circle cx="371.1" cy="1286.5" r="4.7"/><circle cx="373.3" cy="1285.6" r="4.7"/><circle cx="375.5" cy="1284.7" r="4.7"/><circle cx="377.7" cy="1283.8" r="4.7"/><circle cx="379.9" cy="1282.9" r="4.7"/><circle cx="382.1" cy="1281.9" r="4.7"/><circle cx="384.3" cy="1280.6" r="4.7"/><circle cx="386.5" cy="1279.2" r="4.7"/><circle cx="388.7" cy="1283.4" r="4.7"/><circle cx="390.9" cy="1289.2" r="4.7"/><circle cx="393.2" cy="1288.9" r="4.7"/><circle cx="395.4" cy="1288.6" r="4.7"/><circle cx="397.6" cy="1288.2" r="4.7"/><circle cx="399.8" cy="1287.9" r="4.7"/><circle cx="402.0" cy="1287.6" r="4.7"/><circle cx="404.2" cy="1287.3" r="4.7"/><circle cx="406.4" cy="1287.0" r="4.7"/><circle cx="408.6" cy="1286.7" r="4.7"/><circle cx="410.8" cy="1286.4" r="4.7"/><circle cx="413.1" cy="1286.1" r="4.7"/><circle cx="415.3" cy="1285.8" r="4.7"/><circle cx="417.5" cy="1285.6" r="4.7"/><circle cx="419.7" cy="1285.3" r="4.7"/><circle cx="421.9" cy="1285.1" r="4.7"/><circle cx="424.1" cy="1284.9" r="4.7"/><circle cx="426.3" cy="1284.7" r="4.7"/><circle cx="428.5" cy="1284.5" r="4.7"/><circle cx="430.7" cy="1284.3" r="4.7"/><circle cx="432.9" cy="1284.0" r="4.7"/><circle cx="435.2" cy="1283.8" r="4.7"/><circle cx="437.4" cy="1283.6" r="4.7"/><circle cx="439.6" cy="1283.4" r="4.7"/><circle cx="441.8" cy="1283.2" r="4.7"/><circle cx="444.0" cy="1282.9" r="4.7"/><circle cx="446.2" cy="1282.7" r="4.7"/><circle cx="448.4" cy="1282.5" r="4.7"/><circle cx="450.6" cy="1282.3" r="4.7"/><circle cx="452.8" cy="1282.7" r="4.7"/><circle cx="455.1" cy="1283.2" r="4.7"/><circle cx="457.3" cy="1283.6" r="4.7"/><circle cx="459.5" cy="1284.1" r="4.7"/><circle cx="461.7" cy="1284.5" r="4.7"/><circle cx="463.9" cy="1285.0" r="4.7"/><circle cx="466.1" cy="1285.4" r="4.7"/><circle cx="468.3" cy="1285.8" r="4.7"/><circle cx="470.5" cy="1286.3" r="4.7"/><circle cx="472.7" cy="1286.7" r="4.7"/><circle cx="474.9" cy="1287.4" r="4.7"/><circle cx="477.2" cy="1288.3" r="4.7"/><circle cx="479.4" cy="1289.2" r="4.7"/><circle cx="481.6" cy="1290.1" r="4.7"/><circle cx="483.8" cy="1291.0" r="4.7"/><circle cx="486.0" cy="1291.8" r="4.7"/><circle cx="488.2" cy="1292.7" r="4.7"/><circle cx="490.4" cy="1293.6" r="4.7"/><circle cx="492.6" cy="1294.5" r="4.7"/><circle cx="494.8" cy="1295.4" r="4.7"/><circle cx="497.1" cy="1296.1" r="4.7"/><circle cx="499.3" cy="1296.1" r="4.7"/><circle cx="501.5" cy="1296.1" r="4.7"/><circle cx="503.7" cy="1296.1" r="4.7"/><circle cx="505.9" cy="1296.1" r="4.7"/><circle cx="508.1" cy="1296.1" r="4.7"/><circle cx="510.3" cy="1281.3" r="4.7"/><circle cx="512.5" cy="1279.7" r="4.7"/><circle cx="514.7" cy="1279.4" r="4.7"/><circle cx="516.9" cy="1279.1" r="4.7"/><circle cx="519.2" cy="1278.7" r="4.7"/><circle cx="521.4" cy="1278.4" r="4.7"/><circle cx="523.6" cy="1278.1" r="4.7"/><circle cx="525.8" cy="1277.8" r="4.7"/><circle cx="528.0" cy="1277.5" r="4.7"/><circle cx="530.2" cy="1277.1" r="4.7"/><circle cx="532.4" cy="1276.8" r="4.7"/><circle cx="534.6" cy="1276.5" r="4.7"/><circle cx="536.8" cy="1279.9" r="4.7"/><circle cx="539.1" cy="1283.2" r="4.7"/><circle cx="541.3" cy="1283.5" r="4.7"/><circle cx="543.5" cy="1283.6" r="4.7"/><circle cx="545.7" cy="1283.7" r="4.7"/><circle cx="547.9" cy="1283.7" r="4.7"/><circle cx="550.1" cy="1283.8" r="4.7"/><circle cx="552.3" cy="1283.9" r="4.7"/><circle cx="554.5" cy="1284.0" r="4.7"/><circle cx="556.7" cy="1284.1" r="4.7"/><circle cx="558.9" cy="1284.2" r="4.7"/><circle cx="561.2" cy="1284.3" r="4.7"/><circle cx="563.4" cy="1284.4" r="4.7"/><circle cx="565.6" cy="1284.5" r="4.7"/><circle cx="567.8" cy="1284.5" r="4.7"/><circle cx="570.0" cy="1284.8" r="4.7"/><circle cx="572.2" cy="1285.1" r="4.7"/><circle cx="574.4" cy="1285.5" r="4.7"/><circle cx="576.6" cy="1285.9" r="4.7"/><circle cx="578.8" cy="1286.2" r="4.7"/><circle cx="581.1" cy="1286.6" r="4.7"/><circle cx="583.3" cy="1286.7" r="4.7"/><circle cx="585.5" cy="1285.6" r="4.7"/><circle cx="587.7" cy="1284.5" r="4.7"/><circle cx="589.9" cy="1283.4" r="4.7"/><circle cx="592.1" cy="1282.3" r="4.7"/><circle cx="594.3" cy="1281.2" r="4.7"/><circle cx="596.5" cy="1280.1" r="4.7"/><circle cx="598.7" cy="1279.9" r="4.7"/><circle cx="600.9" cy="1279.7" r="4.7"/><circle cx="603.2" cy="1279.6" r="4.7"/><circle cx="605.4" cy="1279.4" r="4.7"/><circle cx="607.6" cy="1279.3" r="4.7"/><circle cx="609.8" cy="1279.2" r="4.7"/><circle cx="612.0" cy="1279.0" r="4.7"/><circle cx="614.2" cy="1278.9" r="4.7"/><circle cx="616.4" cy="1278.9" r="4.7"/><circle cx="618.6" cy="1279.0" r="4.7"/><circle cx="620.8" cy="1279.1" r="4.7"/><circle cx="623.1" cy="1279.2" r="4.7"/><circle cx="625.3" cy="1279.3" r="4.7"/><circle cx="627.5" cy="1279.4" r="4.7"/><circle cx="629.7" cy="1279.5" r="4.7"/><circle cx="631.9" cy="1279.6" r="4.7"/><circle cx="634.1" cy="1279.7" r="4.7"/><circle cx="636.3" cy="1279.9" r="4.7"/><circle cx="638.5" cy="1280.0" r="4.7"/><circle cx="640.7" cy="1280.1" r="4.7"/><circle cx="642.9" cy="1280.2" r="4.7"/><circle cx="645.2" cy="1280.3" r="4.7"/><circle cx="647.4" cy="1280.4" r="4.7"/><circle cx="649.6" cy="1280.5" r="4.7"/><circle cx="651.8" cy="1280.6" r="4.7"/><circle cx="654.0" cy="1280.7" r="4.7"/><circle cx="656.2" cy="1280.8" r="4.7"/><circle cx="658.4" cy="1281.0" r="4.7"/><circle cx="660.6" cy="1281.1" r="4.7"/><circle cx="662.8" cy="1281.1" r="4.7"/><circle cx="665.1" cy="1281.2" r="4.7"/><circle cx="667.3" cy="1281.3" r="4.7"/><circle cx="669.5" cy="1281.3" r="4.7"/><circle cx="671.7" cy="1281.4" r="4.7"/><circle cx="673.9" cy="1281.4" r="4.7"/><circle cx="676.1" cy="1281.5" r="4.7"/><circle cx="678.3" cy="1281.5" r="4.7"/><circle cx="680.5" cy="1281.6" r="4.7"/><circle cx="682.7" cy="1281.7" r="4.7"/><circle cx="684.9" cy="1281.7" r="4.7"/><circle cx="687.2" cy="1281.8" r="4.7"/><circle cx="689.4" cy="1281.8" r="4.7"/><circle cx="691.6" cy="1281.9" r="4.7"/><circle cx="693.8" cy="1281.9" r="4.7"/><circle cx="696.0" cy="1282.0" r="4.7"/><circle cx="698.2" cy="1282.1" r="4.7"/><circle cx="700.4" cy="1282.1" r="4.7"/><circle cx="702.6" cy="1282.2" r="4.7"/><circle cx="704.8" cy="1282.2" r="4.7"/><circle cx="707.1" cy="1282.3" r="4.7"/><circle cx="709.3" cy="1282.6" r="4.7"/><circle cx="711.5" cy="1282.9" r="4.7"/><circle cx="713.7" cy="1283.2" r="4.7"/><circle cx="715.9" cy="1283.6" r="4.7"/><circle cx="718.1" cy="1283.9" r="4.7"/><circle cx="720.3" cy="1284.2" r="4.7"/><circle cx="722.5" cy="1284.5" r="4.7"/><circle cx="724.7" cy="1284.9" r="4.7"/><circle cx="726.9" cy="1285.2" r="4.7"/><circle cx="729.2" cy="1285.5" r="4.7"/><circle cx="731.4" cy="1285.9" r="4.7"/><circle cx="733.6" cy="1286.4" r="4.7"/><circle cx="735.8" cy="1287.0" r="4.7"/><circle cx="738.0" cy="1287.5" r="4.7"/><circle cx="740.2" cy="1288.0" r="4.7"/><circle cx="742.4" cy="1288.5" r="4.7"/><circle cx="744.6" cy="1289.0" r="4.7"/><circle cx="746.8" cy="1289.5" r="4.7"/><circle cx="749.1" cy="1290.1" r="4.7"/><circle cx="751.3" cy="1290.6" r="4.7"/><circle cx="753.5" cy="1291.1" r="4.7"/><circle cx="755.7" cy="1291.6" r="4.7"/><circle cx="757.9" cy="1292.1" r="4.7"/><circle cx="760.1" cy="1292.7" r="4.7"/><circle cx="762.3" cy="1293.2" r="4.7"/><circle cx="764.5" cy="1293.7" r="4.7"/><circle cx="766.7" cy="1293.3" r="4.7"/><circle cx="768.9" cy="1292.6" r="4.7"/><circle cx="771.2" cy="1292.0" r="4.7"/><circle cx="773.4" cy="1291.3" r="4.7"/><circle cx="775.6" cy="1290.6" r="4.7"/><circle cx="777.8" cy="1290.0" r="4.7"/><circle cx="780.0" cy="1289.3" r="4.7"/><circle cx="782.2" cy="1288.6" r="4.7"/><circle cx="784.4" cy="1288.0" r="4.7"/><circle cx="786.6" cy="1287.3" r="4.7"/><circle cx="788.8" cy="1287.0" r="4.7"/><circle cx="791.1" cy="1287.4" r="4.7"/><circle cx="793.3" cy="1287.8" r="4.7"/><circle cx="795.5" cy="1288.1" r="4.7"/><circle cx="797.7" cy="1288.5" r="4.7"/><circle cx="799.9" cy="1288.9" r="4.7"/><circle cx="802.1" cy="1289.2" r="4.7"/><circle cx="804.3" cy="1289.6" r="4.7"/><circle cx="806.5" cy="1290.0" r="4.7"/><circle cx="808.7" cy="1290.3" r="4.7"/><circle cx="810.9" cy="1290.7" r="4.7"/><circle cx="813.2" cy="1291.0" r="4.7"/><circle cx="815.4" cy="1291.4" r="4.7"/><circle cx="817.6" cy="1291.8" r="4.7"/><circle cx="819.8" cy="1292.1" r="4.7"/><circle cx="822.0" cy="1292.5" r="4.7"/><circle cx="824.2" cy="1293.1" r="4.7"/><circle cx="826.4" cy="1293.7" r="4.7"/><circle cx="828.6" cy="1294.4" r="4.7"/><circle cx="830.8" cy="1295.1" r="4.7"/><circle cx="833.0" cy="1295.7" r="4.7"/><circle cx="835.3" cy="1296.4" r="4.7"/><circle cx="837.5" cy="1297.1" r="4.7"/><circle cx="839.7" cy="1297.7" r="4.7"/><circle cx="841.9" cy="1298.4" r="4.7"/><circle cx="844.1" cy="1299.1" r="4.7"/><circle cx="846.3" cy="1299.3" r="4.7"/><circle cx="848.5" cy="1298.6" r="4.7"/><circle cx="850.7" cy="1298.0" r="4.7"/><circle cx="852.9" cy="1297.3" r="4.7"/><circle cx="855.2" cy="1296.6" r="4.7"/><circle cx="857.4" cy="1296.0" r="4.7"/><circle cx="859.6" cy="1295.3" r="4.7"/><circle cx="861.8" cy="1294.7" r="4.7"/><circle cx="864.0" cy="1294.0" r="4.7"/><circle cx="866.2" cy="1293.3" r="4.7"/><circle cx="868.4" cy="1292.7" r="4.7"/><circle cx="870.6" cy="1292.4" r="4.7"/><circle cx="872.8" cy="1292.2" r="4.7"/><circle cx="875.0" cy="1291.9" r="4.7"/><circle cx="877.3" cy="1291.7" r="4.7"/><circle cx="879.5" cy="1291.4" r="4.7"/><circle cx="881.7" cy="1291.2" r="4.7"/><circle cx="883.9" cy="1290.9" r="4.7"/><circle cx="886.1" cy="1290.7" r="4.7"/><circle cx="888.3" cy="1290.5" r="4.7"/><circle cx="890.5" cy="1290.2" r="4.7"/><circle cx="892.7" cy="1290.0" r="4.7"/><circle cx="894.9" cy="1289.7" r="4.7"/><circle cx="897.2" cy="1289.5" r="4.7"/><circle cx="899.4" cy="1289.3" r="4.7"/><circle cx="901.6" cy="1289.6" r="4.7"/><circle cx="903.8" cy="1290.1" r="4.7"/><circle cx="906.0" cy="1290.7" r="4.7"/><circle cx="908.2" cy="1291.2" r="4.7"/><circle cx="910.4" cy="1291.8" r="4.7"/><circle cx="912.6" cy="1292.3" r="4.7"/><circle cx="914.8" cy="1292.9" r="4.7"/><circle cx="917.0" cy="1293.4" r="4.7"/><circle cx="919.3" cy="1294.0" r="4.7"/><circle cx="921.5" cy="1294.5" r="4.7"/><circle cx="923.7" cy="1295.1" r="4.7"/><circle cx="925.9" cy="1295.6" r="4.7"/><circle cx="928.1" cy="1296.2" r="4.7"/><circle cx="930.3" cy="1296.7" r="4.7"/><circle cx="932.5" cy="1297.3" r="4.7"/><circle cx="934.7" cy="1297.8" r="4.7"/><circle cx="936.9" cy="1298.4" r="4.7"/><circle cx="939.2" cy="1298.9" r="4.7"/><circle cx="941.4" cy="1299.5" r="4.7"/><circle cx="943.6" cy="1299.1" r="4.7"/><circle cx="945.8" cy="1298.6" r="4.7"/><circle cx="948.0" cy="1298.2" r="4.7"/><circle cx="950.2" cy="1297.7" r="4.7"/><circle cx="952.4" cy="1297.3" r="4.7"/><circle cx="954.6" cy="1296.8" r="4.7"/><circle cx="956.8" cy="1296.4" r="4.7"/><circle cx="959.0" cy="1295.9" r="4.7"/><circle cx="961.3" cy="1295.5" r="4.7"/><circle cx="963.5" cy="1295.0" r="4.7"/><circle cx="965.7" cy="1294.6" r="4.7"/><circle cx="967.9" cy="1294.1" r="4.7"/><circle cx="970.1" cy="1293.6" r="4.7"/><circle cx="972.3" cy="1293.2" r="4.7"/><circle cx="974.5" cy="1292.7" r="4.7"/><circle cx="976.7" cy="1292.3" r="4.7"/><circle cx="978.9" cy="1291.8" r="4.7"/><circle cx="981.2" cy="1291.7" r="4.7"/><circle cx="983.4" cy="1292.3" r="4.7"/><circle cx="985.6" cy="1293.0" r="4.7"/><circle cx="987.8" cy="1293.6" r="4.7"/><circle cx="990.0" cy="1294.3" r="4.7"/><circle cx="992.2" cy="1294.9" r="4.7"/><circle cx="994.4" cy="1295.6" r="4.7"/><circle cx="996.6" cy="1296.2" r="4.7"/><circle cx="998.8" cy="1296.9" r="4.7"/><circle cx="1001.0" cy="1297.5" r="4.7"/><circle cx="1003.3" cy="1298.2" r="4.7"/><circle cx="1005.5" cy="1298.9" r="4.7"/><circle cx="1007.7" cy="1299.5" r="4.7"/><circle cx="1009.9" cy="1300.2" r="4.7"/><circle cx="1012.1" cy="1300.8" r="4.7"/><circle cx="1014.3" cy="1301.5" r="4.7"/><circle cx="1016.5" cy="1302.1" r="4.7"/><circle cx="1018.7" cy="1302.8" r="4.7"/><circle cx="1020.9" cy="1303.4" r="4.7"/><circle cx="1023.2" cy="1304.1" r="4.7"/><circle cx="1025.4" cy="1304.7" r="4.7"/><circle cx="1027.6" cy="1305.4" r="4.7"/><circle cx="1029.8" cy="1306.1" r="4.7"/><circle cx="1032.0" cy="1306.2" r="4.7"/><circle cx="1034.2" cy="1305.2" r="4.7"/><circle cx="1036.4" cy="1304.3" r="4.7"/><circle cx="1038.6" cy="1303.3" r="4.7"/><circle cx="1040.8" cy="1302.4" r="4.7"/><circle cx="1043.0" cy="1301.4" r="4.7"/><circle cx="1045.3" cy="1300.4" r="4.7"/><circle cx="1047.5" cy="1299.5" r="4.7"/><circle cx="1049.7" cy="1298.5" r="4.7"/><circle cx="1051.9" cy="1297.6" r="4.7"/><circle cx="1054.1" cy="1296.6" r="4.7"/><circle cx="1056.3" cy="1295.7" r="4.7"/><circle cx="1058.5" cy="1294.7" r="4.7"/><circle cx="1060.7" cy="1293.7" r="4.7"/><circle cx="1062.9" cy="1292.8" r="4.7"/><circle cx="1065.2" cy="1291.8" r="4.7"/><circle cx="1067.4" cy="1291.4" r="4.7"/><circle cx="1069.6" cy="1291.3" r="4.7"/><circle cx="1071.8" cy="1291.1" r="4.7"/><circle cx="1074.0" cy="1291.0" r="4.7"/><circle cx="1076.2" cy="1290.8" r="4.7"/><circle cx="1078.4" cy="1290.7" r="4.7"/><circle cx="1080.6" cy="1290.5" r="4.7"/><circle cx="1082.8" cy="1290.4" r="4.7"/><circle cx="1085.0" cy="1290.4" r="4.7"/><circle cx="1087.3" cy="1290.9" r="4.7"/><circle cx="1089.5" cy="1291.3" r="4.7"/><circle cx="1091.7" cy="1291.8" r="4.7"/><circle cx="1093.9" cy="1292.2" r="4.7"/><circle cx="1096.1" cy="1292.7" r="4.7"/><circle cx="1098.3" cy="1293.1" r="4.7"/><circle cx="1100.5" cy="1293.5" r="4.7"/><circle cx="1102.7" cy="1294.0" r="4.7"/><circle cx="1104.9" cy="1294.4" r="4.7"/><circle cx="1107.2" cy="1294.9" r="4.7"/><circle cx="1109.4" cy="1295.3" r="4.7"/><circle cx="1111.6" cy="1295.7" r="4.7"/><circle cx="1113.8" cy="1296.2" r="4.7"/><circle cx="1116.0" cy="1296.6" r="4.7"/><circle cx="1118.2" cy="1297.1" r="4.7"/><circle cx="1120.4" cy="1297.5" r="4.7"/><circle cx="1122.6" cy="1297.9" r="4.7"/><circle cx="1124.8" cy="1298.4" r="4.7"/><circle cx="1127.0" cy="1298.8" r="4.7"/><circle cx="1129.3" cy="1299.3" r="4.7"/><circle cx="1131.5" cy="1299.2" r="4.7"/><circle cx="1133.7" cy="1298.5" r="4.7"/><circle cx="1135.9" cy="1297.9" r="4.7"/><circle cx="1138.1" cy="1297.2" r="4.7"/><circle cx="1140.3" cy="1296.5" r="4.7"/><circle cx="1142.5" cy="1295.9" r="4.7"/><circle cx="1144.7" cy="1295.2" r="4.7"/><circle cx="1146.9" cy="1294.6" r="4.7"/><circle cx="1149.2" cy="1293.9" r="4.7"/><circle cx="1151.4" cy="1293.2" r="4.7"/><circle cx="1153.6" cy="1292.6" r="4.7"/><circle cx="1155.8" cy="1292.8" r="4.7"/><circle cx="1158.0" cy="1292.9" r="4.7"/><circle cx="1160.2" cy="1293.0" r="4.7"/><circle cx="1162.4" cy="1293.2" r="4.7"/><circle cx="1164.6" cy="1293.3" r="4.7"/><circle cx="1166.8" cy="1293.5" r="4.7"/><circle cx="1169.0" cy="1293.6" r="4.7"/><circle cx="1171.3" cy="1293.8" r="4.7"/><circle cx="1173.5" cy="1293.9" r="4.7"/><circle cx="1175.7" cy="1294.1" r="4.7"/><circle cx="1177.9" cy="1294.2" r="4.7"/><circle cx="1180.1" cy="1294.4" r="4.7"/><circle cx="1182.3" cy="1294.5" r="4.7"/><circle cx="1184.5" cy="1294.7" r="4.7"/><circle cx="1186.7" cy="1294.8" r="4.7"/><circle cx="1188.9" cy="1295.0" r="4.7"/><circle cx="1191.2" cy="1295.1" r="4.7"/><circle cx="1193.4" cy="1295.3" r="4.7"/><circle cx="1195.6" cy="1295.4" r="4.7"/><circle cx="1197.8" cy="1295.5" r="4.7"/><circle cx="1200.0" cy="1295.7" r="4.7"/><circle cx="1202.2" cy="1295.8" r="4.7"/><circle cx="1204.4" cy="1296.0" r="4.7"/><circle cx="1206.6" cy="1296.1" r="4.7"/><circle cx="1208.8" cy="1296.3" r="4.7"/><circle cx="1211.0" cy="1296.4" r="4.7"/><circle cx="1213.3" cy="1296.6" r="4.7"/><circle cx="1215.5" cy="1296.7" r="4.7"/><circle cx="1217.7" cy="1296.9" r="4.7"/><circle cx="1219.9" cy="1297.0" r="4.7"/><circle cx="1222.1" cy="1297.2" r="4.7"/><circle cx="1224.3" cy="1296.8" r="4.7"/><circle cx="1226.5" cy="1296.3" r="4.7"/><circle cx="1228.7" cy="1295.8" r="4.7"/><circle cx="1230.9" cy="1295.4" r="4.7"/><circle cx="1233.2" cy="1294.9" r="4.7"/><circle cx="1235.4" cy="1294.4" r="4.7"/><circle cx="1237.6" cy="1293.9" r="4.7"/><circle cx="1239.8" cy="1293.4" r="4.7"/><circle cx="1242.0" cy="1292.9" r="4.7"/><circle cx="1244.2" cy="1292.4" r="4.7"/><circle cx="1246.4" cy="1291.9" r="4.7"/><circle cx="1248.6" cy="1291.4" r="4.7"/><circle cx="1250.8" cy="1290.9" r="4.7"/><circle cx="1253.0" cy="1290.5" r="4.7"/><circle cx="1255.3" cy="1290.0" r="4.7"/><circle cx="1257.5" cy="1289.5" r="4.7"/><circle cx="1259.7" cy="1289.0" r="4.7"/><circle cx="1261.9" cy="1288.5" r="4.7"/><circle cx="1264.1" cy="1288.0" r="4.7"/><circle cx="1266.3" cy="1288.4" r="4.7"/><circle cx="1268.5" cy="1288.7" r="4.7"/><circle cx="1270.7" cy="1289.1" r="4.7"/><circle cx="1272.9" cy="1289.4" r="4.7"/><circle cx="1275.1" cy="1289.8" r="4.7"/><circle cx="1277.4" cy="1290.1" r="4.7"/><circle cx="1279.6" cy="1290.5" r="4.7"/><circle cx="1281.8" cy="1290.9" r="4.7"/><circle cx="1284.0" cy="1291.2" r="4.7"/><circle cx="1286.2" cy="1291.6" r="4.7"/><circle cx="1288.4" cy="1291.9" r="4.7"/><circle cx="1290.6" cy="1292.3" r="4.7"/><circle cx="1292.8" cy="1292.6" r="4.7"/><circle cx="1295.0" cy="1293.0" r="4.7"/><circle cx="1297.3" cy="1293.4" r="4.7"/><circle cx="1299.5" cy="1293.7" r="4.7"/><circle cx="1301.7" cy="1294.1" r="4.7"/><circle cx="1303.9" cy="1294.4" r="4.7"/><circle cx="1306.1" cy="1294.8" r="4.7"/><circle cx="1308.3" cy="1295.2" r="4.7"/><circle cx="1310.5" cy="1295.6" r="4.7"/><circle cx="1312.7" cy="1295.9" r="4.7"/><circle cx="1314.9" cy="1294.4" r="4.7"/><circle cx="1317.1" cy="1291.1" r="4.7"/><circle cx="1319.4" cy="1289.2" r="4.7"/><circle cx="1321.6" cy="1289.1" r="4.7"/><circle cx="1323.8" cy="1289.0" r="4.7"/><circle cx="1326.0" cy="1288.9" r="4.7"/><circle cx="1328.2" cy="1288.8" r="4.7"/><circle cx="1330.4" cy="1288.7" r="4.7"/><circle cx="1332.6" cy="1288.6" r="4.7"/><circle cx="1334.8" cy="1288.5" r="4.7"/><circle cx="1337.0" cy="1288.4" r="4.7"/><circle cx="1339.3" cy="1288.3" r="4.7"/><circle cx="1341.5" cy="1288.2" r="4.7"/><circle cx="1343.7" cy="1288.1" r="4.7"/><circle cx="1345.9" cy="1288.0" r="4.7"/><circle cx="1348.1" cy="1288.6" r="4.7"/><circle cx="1350.3" cy="1289.2" r="4.7"/><circle cx="1352.5" cy="1289.9" r="4.7"/><circle cx="1354.7" cy="1290.5" r="4.7"/><circle cx="1356.9" cy="1291.2" r="4.7"/><circle cx="1359.1" cy="1291.8" r="4.7"/><circle cx="1361.4" cy="1292.5" r="4.7"/><circle cx="1363.6" cy="1293.1" r="4.7"/><circle cx="1365.8" cy="1293.8" r="4.7"/><circle cx="1368.0" cy="1294.4" r="4.7"/><circle cx="1370.2" cy="1295.1" r="4.7"/><circle cx="1372.4" cy="1295.7" r="4.7"/><circle cx="1374.6" cy="1296.4" r="4.7"/><circle cx="1376.8" cy="1297.0" r="4.7"/><circle cx="1379.0" cy="1297.7" r="4.7"/><circle cx="1381.3" cy="1298.3" r="4.7"/><circle cx="1383.5" cy="1299.0" r="4.7"/><circle cx="1385.7" cy="1299.3" r="4.7"/><circle cx="1387.9" cy="1298.1" r="4.7"/><circle cx="1390.1" cy="1296.9" r="4.7"/><circle cx="1392.3" cy="1295.7" r="4.7"/><circle cx="1394.5" cy="1294.5" r="4.7"/><circle cx="1396.7" cy="1293.3" r="4.7"/><circle cx="1398.9" cy="1292.2" r="4.7"/><circle cx="1401.1" cy="1291.0" r="4.7"/><circle cx="1403.4" cy="1289.8" r="4.7"/><circle cx="1405.6" cy="1288.6" r="4.7"/><circle cx="1407.8" cy="1287.4" r="4.7"/><circle cx="1410.0" cy="1286.2" r="4.7"/><circle cx="1412.2" cy="1285.0" r="4.7"/><circle cx="1414.4" cy="1283.8" r="4.7"/><circle cx="1416.6" cy="1283.5" r="4.7"/><circle cx="1418.8" cy="1283.6" r="4.7"/><circle cx="1421.0" cy="1283.8" r="4.7"/><circle cx="1423.3" cy="1283.9" r="4.7"/><circle cx="1425.5" cy="1284.1" r="4.7"/><circle cx="1427.7" cy="1284.2" r="4.7"/><circle cx="1429.9" cy="1284.4" r="4.7"/><circle cx="1432.1" cy="1284.5" r="4.7"/><circle cx="1434.3" cy="1284.7" r="4.7"/><circle cx="1436.5" cy="1284.8" r="4.7"/><circle cx="1438.7" cy="1285.0" r="4.7"/><circle cx="1440.9" cy="1285.1" r="4.7"/><circle cx="1443.1" cy="1285.3" r="4.7"/><circle cx="1445.4" cy="1285.4" r="4.7"/><circle cx="1447.6" cy="1285.6" r="4.7"/><circle cx="1449.8" cy="1285.7" r="4.7"/><circle cx="1452.0" cy="1286.5" r="4.7"/><circle cx="1454.2" cy="1287.2" r="4.7"/><circle cx="1456.4" cy="1288.0" r="4.7"/><circle cx="1458.6" cy="1288.8" r="4.7"/><circle cx="1460.8" cy="1289.6" r="4.7"/><circle cx="1463.0" cy="1290.4" r="4.7"/><circle cx="1465.3" cy="1291.1" r="4.7"/><circle cx="1467.5" cy="1291.9" r="4.7"/><circle cx="1469.7" cy="1292.7" r="4.7"/><circle cx="1471.9" cy="1293.5" r="4.7"/><circle cx="1474.1" cy="1293.5" r="4.7"/><circle cx="1476.3" cy="1292.9" r="4.7"/><circle cx="1478.5" cy="1292.4" r="4.7"/><circle cx="1480.7" cy="1291.8" r="4.7"/><circle cx="1482.9" cy="1291.3" r="4.7"/><circle cx="1485.1" cy="1290.7" r="4.7"/><circle cx="1487.4" cy="1290.2" r="4.7"/><circle cx="1489.6" cy="1289.6" r="4.7"/><circle cx="1491.8" cy="1289.1" r="4.7"/><circle cx="1494.0" cy="1288.5" r="4.7"/><circle cx="1496.2" cy="1288.0" r="4.7"/><circle cx="1498.4" cy="1287.4" r="4.7"/><circle cx="1500.6" cy="1286.9" r="4.7"/><circle cx="1502.8" cy="1286.3" r="4.7"/><circle cx="1505.0" cy="1285.8" r="4.7"/><circle cx="1507.3" cy="1285.2" r="4.7"/><circle cx="1509.5" cy="1284.7" r="4.7"/><circle cx="1511.7" cy="1284.1" r="4.7"/><circle cx="1513.9" cy="1283.6" r="4.7"/><circle cx="1516.1" cy="1283.0" r="4.7"/><circle cx="1518.3" cy="1282.4" r="4.7"/><circle cx="1520.5" cy="1282.4" r="4.7"/><circle cx="1522.7" cy="1282.4" r="4.7"/><circle cx="1524.9" cy="1282.5" r="4.7"/><circle cx="1527.1" cy="1282.6" r="4.7"/><circle cx="1529.4" cy="1282.6" r="4.7"/><circle cx="1531.6" cy="1282.7" r="4.7"/><circle cx="1533.8" cy="1282.8" r="4.7"/><circle cx="1536.0" cy="1282.8" r="4.7"/><circle cx="1538.2" cy="1282.9" r="4.7"/><circle cx="1540.4" cy="1283.0" r="4.7"/><circle cx="1542.6" cy="1283.1" r="4.7"/><circle cx="1544.8" cy="1283.1" r="4.7"/><circle cx="1547.0" cy="1283.2" r="4.7"/><circle cx="1549.3" cy="1283.3" r="4.7"/><circle cx="1551.5" cy="1283.3" r="4.7"/><circle cx="1553.7" cy="1283.4" r="4.7"/><circle cx="1555.9" cy="1283.6" r="4.7"/><circle cx="1558.1" cy="1283.7" r="4.7"/><circle cx="1560.3" cy="1283.9" r="4.7"/><circle cx="1562.5" cy="1284.0" r="4.7"/><circle cx="1564.7" cy="1284.1" r="4.7"/><circle cx="1566.9" cy="1284.3" r="4.7"/><circle cx="1569.1" cy="1284.4" r="4.7"/><circle cx="1571.4" cy="1284.6" r="4.7"/><circle cx="1573.6" cy="1284.7" r="4.7"/><circle cx="1575.8" cy="1284.9" r="4.7"/><circle cx="1578.0" cy="1285.0" r="4.7"/><circle cx="1580.2" cy="1285.2" r="4.7"/><circle cx="1582.4" cy="1285.3" r="4.7"/><circle cx="1584.6" cy="1285.5" r="4.7"/><circle cx="1586.8" cy="1285.6" r="4.7"/><circle cx="1589.0" cy="1285.7" r="4.7"/><circle cx="1591.3" cy="1285.7" r="4.7"/><circle cx="1593.5" cy="1285.7" r="4.7"/><circle cx="1595.7" cy="1285.7" r="4.7"/><circle cx="1597.9" cy="1285.7" r="4.7"/><circle cx="1600.1" cy="1285.7" r="4.7"/><circle cx="1602.3" cy="1285.5" r="4.7"/><circle cx="1604.5" cy="1285.2" r="4.7"/><circle cx="1606.7" cy="1285.0" r="4.7"/><circle cx="1608.9" cy="1284.8" r="4.7"/><circle cx="1611.1" cy="1284.6" r="4.7"/><circle cx="1613.4" cy="1284.4" r="4.7"/><circle cx="1615.6" cy="1284.1" r="4.7"/><circle cx="1617.8" cy="1283.9" r="4.7"/><circle cx="1620.0" cy="1284.3" r="4.7"/><circle cx="1622.2" cy="1284.7" r="4.7"/><circle cx="1624.4" cy="1285.0" r="4.7"/><circle cx="1626.6" cy="1285.4" r="4.7"/><circle cx="1628.8" cy="1285.8" r="4.7"/><circle cx="1631.0" cy="1286.2" r="4.7"/><circle cx="1633.3" cy="1286.6" r="4.7"/><circle cx="1635.5" cy="1287.0" r="4.7"/><circle cx="1637.7" cy="1287.4" r="4.7"/><circle cx="1639.9" cy="1287.8" r="4.7"/><circle cx="1642.1" cy="1288.2" r="4.7"/><circle cx="1644.3" cy="1288.6" r="4.7"/><circle cx="1646.5" cy="1288.9" r="4.7"/><circle cx="1648.7" cy="1289.3" r="4.7"/><circle cx="1650.9" cy="1289.7" r="4.7"/><circle cx="1653.1" cy="1290.1" r="4.7"/><circle cx="1655.4" cy="1289.8" r="4.7"/><circle cx="1657.6" cy="1289.4" r="4.7"/><circle cx="1659.8" cy="1289.0" r="4.7"/><circle cx="1662.0" cy="1288.5" r="4.7"/><circle cx="1664.2" cy="1288.1" r="4.7"/><circle cx="1666.4" cy="1287.6" r="4.7"/><circle cx="1668.6" cy="1287.2" r="4.7"/><circle cx="1670.8" cy="1286.7" r="4.7"/><circle cx="1673.0" cy="1286.5" r="4.7"/><circle cx="1675.3" cy="1286.4" r="4.7"/><circle cx="1677.5" cy="1286.3" r="4.7"/><circle cx="1679.7" cy="1286.2" r="4.7"/><circle cx="1681.9" cy="1286.1" r="4.7"/><circle cx="1684.1" cy="1286.0" r="4.7"/><circle cx="1686.3" cy="1285.8" r="4.7"/><circle cx="1688.5" cy="1285.7" r="4.7"/><circle cx="1690.7" cy="1285.6" r="4.7"/><circle cx="1692.9" cy="1285.5" r="4.7"/><circle cx="1695.1" cy="1285.4" r="4.7"/><circle cx="1697.4" cy="1285.3" r="4.7"/><circle cx="1699.6" cy="1285.2" r="4.7"/><circle cx="1701.8" cy="1285.1" r="4.7"/><circle cx="1704.0" cy="1285.0" r="4.7"/><circle cx="1706.2" cy="1284.8" r="4.7"/><circle cx="1708.4" cy="1284.9" r="4.7"/><circle cx="1710.6" cy="1285.0" r="4.7"/><circle cx="1712.8" cy="1285.2" r="4.7"/><circle cx="1715.0" cy="1285.3" r="4.7"/><circle cx="1717.2" cy="1285.4" r="4.7"/><circle cx="1719.5" cy="1285.6" r="4.7"/><circle cx="1721.7" cy="1285.7" r="4.7"/><circle cx="1723.9" cy="1285.9" r="4.7"/><circle cx="1726.1" cy="1286.0" r="4.7"/><circle cx="1728.3" cy="1286.1" r="4.7"/><circle cx="1730.5" cy="1286.3" r="4.7"/><circle cx="1732.7" cy="1286.4" r="4.7"/><circle cx="1734.9" cy="1286.6" r="4.7"/><circle cx="1737.1" cy="1286.7" r="4.7"/><circle cx="1739.4" cy="1286.8" r="4.7"/><circle cx="1741.6" cy="1287.0" r="4.7"/><circle cx="1743.8" cy="1287.1" r="4.7"/><circle cx="1746.0" cy="1287.2" r="4.7"/><circle cx="1748.2" cy="1287.4" r="4.7"/><circle cx="1750.4" cy="1287.5" r="4.7"/><circle cx="1752.6" cy="1287.7" r="4.7"/><circle cx="1754.8" cy="1287.8" r="4.7"/><circle cx="1757.0" cy="1287.9" r="4.7"/><circle cx="1759.2" cy="1288.1" r="4.7"/><circle cx="1761.5" cy="1288.2" r="4.7"/><circle cx="1763.7" cy="1288.4" r="4.7"/><circle cx="1765.9" cy="1288.5" r="4.7"/><circle cx="1768.1" cy="1288.6" r="4.7"/><circle cx="1770.3" cy="1288.8" r="4.7"/><circle cx="1772.5" cy="1288.9" r="4.7"/><circle cx="1774.7" cy="1289.1" r="4.7"/><circle cx="1776.9" cy="1289.2" r="4.7"/><circle cx="1779.1" cy="1289.4" r="4.7"/><circle cx="1781.4" cy="1289.6" r="4.7"/><circle cx="1783.6" cy="1289.9" r="4.7"/><circle cx="1785.8" cy="1290.1" r="4.7"/><circle cx="1788.0" cy="1290.4" r="4.7"/><circle cx="1790.2" cy="1290.7" r="4.7"/><circle cx="1792.4" cy="1290.9" r="4.7"/><circle cx="1794.6" cy="1291.2" r="4.7"/><circle cx="1796.8" cy="1291.5" r="4.7"/><circle cx="1799.0" cy="1291.7" r="4.7"/><circle cx="1801.2" cy="1292.0" r="4.7"/><circle cx="1803.5" cy="1292.2" r="4.7"/><circle cx="1805.7" cy="1292.5" r="4.7"/><circle cx="1807.9" cy="1292.8" r="4.7"/><circle cx="1810.1" cy="1293.0" r="4.7"/><circle cx="1812.3" cy="1293.3" r="4.7"/><circle cx="1814.5" cy="1293.5" r="4.7"/><circle cx="1816.7" cy="1293.8" r="4.7"/><circle cx="1818.9" cy="1294.1" r="4.7"/><circle cx="1821.1" cy="1294.3" r="4.7"/><circle cx="1823.4" cy="1294.6" r="4.7"/><circle cx="1825.6" cy="1294.8" r="4.7"/><circle cx="1827.8" cy="1295.1" r="4.7"/><circle cx="1830.0" cy="1295.4" r="4.7"/><circle cx="1832.2" cy="1295.6" r="4.7"/><circle cx="1834.4" cy="1295.9" r="4.7"/><circle cx="1836.6" cy="1296.1" r="4.7"/><circle cx="1838.8" cy="1296.4" r="4.7"/><circle cx="1841.0" cy="1296.7" r="4.7"/><circle cx="1843.2" cy="1296.9" r="4.7"/><circle cx="1845.5" cy="1297.2" r="4.7"/><circle cx="1847.7" cy="1297.0" r="4.7"/><circle cx="1849.9" cy="1296.6" r="4.7"/><circle cx="1852.1" cy="1296.1" r="4.7"/><circle cx="1854.3" cy="1295.7" r="4.7"/><circle cx="1856.5" cy="1295.2" r="4.7"/><circle cx="1858.7" cy="1294.8" r="4.7"/><circle cx="1860.9" cy="1294.3" r="4.7"/><circle cx="1863.1" cy="1293.9" r="4.7"/><circle cx="1865.4" cy="1293.4" r="4.7"/><circle cx="1867.6" cy="1293.0" r="4.7"/><circle cx="1869.8" cy="1293.1" r="4.7"/><circle cx="1872.0" cy="1293.3" r="4.7"/><circle cx="1874.2" cy="1293.5" r="4.7"/><circle cx="1876.4" cy="1293.7" r="4.7"/><circle cx="1878.6" cy="1293.9" r="4.7"/><circle cx="1880.8" cy="1294.1" r="4.7"/><circle cx="1883.0" cy="1294.3" r="4.7"/><circle cx="1885.2" cy="1294.5" r="4.7"/><circle cx="1887.5" cy="1294.7" r="4.7"/><circle cx="1889.7" cy="1295.0" r="4.7"/><circle cx="1891.9" cy="1295.2" r="4.7"/><circle cx="1894.1" cy="1295.4" r="4.7"/><circle cx="1896.3" cy="1295.6" r="4.7"/><circle cx="1898.5" cy="1295.8" r="4.7"/><circle cx="1900.7" cy="1296.0" r="4.7"/><circle cx="1902.9" cy="1296.2" r="4.7"/><circle cx="1905.1" cy="1296.4" r="4.7"/><circle cx="1599.1" cy="1268.0" r="4.7"/><circle cx="1612.4" cy="1317.5" r="4.7"/><circle cx="1594.5" cy="1291.0" r="4.7"/><circle cx="1607.6" cy="1285.0" r="4.7"/><circle cx="1615.2" cy="1075.9" r="4.7"/></g>
<g fill="#fff" stroke="#c1163a" stroke-width="2.2" clip-path="url(#gclip)"><circle cx="130.1" cy="1228.6" r="4.7"/><circle cx="132.3" cy="1228.6" r="4.7"/><circle cx="134.5" cy="1228.6" r="4.7"/><circle cx="136.7" cy="1228.6" r="4.7"/><circle cx="139.0" cy="1228.5" r="4.7"/><circle cx="141.2" cy="1228.5" r="4.7"/><circle cx="143.4" cy="1228.5" r="4.7"/><circle cx="145.6" cy="1228.5" r="4.7"/><circle cx="147.8" cy="1228.5" r="4.7"/><circle cx="150.0" cy="1228.5" r="4.7"/><circle cx="152.2" cy="1228.5" r="4.7"/><circle cx="154.4" cy="1228.5" r="4.7"/><circle cx="156.6" cy="1228.4" r="4.7"/><circle cx="158.8" cy="1228.4" r="4.7"/><circle cx="161.1" cy="1228.4" r="4.7"/><circle cx="163.3" cy="1228.4" r="4.7"/><circle cx="165.5" cy="1228.4" r="4.7"/><circle cx="167.7" cy="1228.4" r="4.7"/><circle cx="169.9" cy="1228.4" r="4.7"/><circle cx="172.1" cy="1228.4" r="4.7"/><circle cx="174.3" cy="1228.3" r="4.7"/><circle cx="176.5" cy="1228.3" r="4.7"/><circle cx="178.7" cy="1228.3" r="4.7"/><circle cx="181.0" cy="1228.3" r="4.7"/><circle cx="183.2" cy="1228.3" r="4.7"/><circle cx="185.4" cy="1228.3" r="4.7"/><circle cx="187.6" cy="1228.3" r="4.7"/><circle cx="189.8" cy="1228.3" r="4.7"/><circle cx="192.0" cy="1228.3" r="4.7"/><circle cx="194.2" cy="1228.2" r="4.7"/><circle cx="196.4" cy="1228.2" r="4.7"/><circle cx="198.6" cy="1228.2" r="4.7"/><circle cx="200.8" cy="1228.2" r="4.7"/><circle cx="203.1" cy="1228.2" r="4.7"/><circle cx="205.3" cy="1228.2" r="4.7"/><circle cx="207.5" cy="1228.2" r="4.7"/><circle cx="209.7" cy="1228.2" r="4.7"/><circle cx="211.9" cy="1228.1" r="4.7"/><circle cx="214.1" cy="1228.1" r="4.7"/><circle cx="216.3" cy="1228.1" r="4.7"/><circle cx="218.5" cy="1228.1" r="4.7"/><circle cx="220.7" cy="1228.1" r="4.7"/><circle cx="223.0" cy="1228.1" r="4.7"/><circle cx="225.2" cy="1228.1" r="4.7"/><circle cx="227.4" cy="1228.1" r="4.7"/><circle cx="229.6" cy="1228.0" r="4.7"/><circle cx="231.8" cy="1228.0" r="4.7"/><circle cx="234.0" cy="1228.0" r="4.7"/><circle cx="236.2" cy="1228.0" r="4.7"/><circle cx="238.4" cy="1228.0" r="4.7"/><circle cx="240.6" cy="1228.0" r="4.7"/><circle cx="242.8" cy="1228.0" r="4.7"/><circle cx="245.1" cy="1228.0" r="4.7"/><circle cx="247.3" cy="1228.0" r="4.7"/><circle cx="249.5" cy="1227.9" r="4.7"/><circle cx="251.7" cy="1227.9" r="4.7"/><circle cx="253.9" cy="1227.9" r="4.7"/><circle cx="256.1" cy="1227.9" r="4.7"/><circle cx="258.3" cy="1227.9" r="4.7"/><circle cx="260.5" cy="1227.9" r="4.7"/><circle cx="262.7" cy="1227.9" r="4.7"/><circle cx="265.0" cy="1227.9" r="4.7"/><circle cx="267.2" cy="1227.8" r="4.7"/><circle cx="269.4" cy="1227.8" r="4.7"/><circle cx="271.6" cy="1227.8" r="4.7"/><circle cx="273.8" cy="1227.8" r="4.7"/><circle cx="276.0" cy="1227.8" r="4.7"/><circle cx="278.2" cy="1227.8" r="4.7"/><circle cx="280.4" cy="1227.8" r="4.7"/><circle cx="282.6" cy="1227.8" r="4.7"/><circle cx="284.8" cy="1227.7" r="4.7"/><circle cx="287.1" cy="1227.7" r="4.7"/><circle cx="289.3" cy="1227.7" r="4.7"/><circle cx="291.5" cy="1227.7" r="4.7"/><circle cx="293.7" cy="1227.7" r="4.7"/><circle cx="295.9" cy="1227.7" r="4.7"/><circle cx="298.1" cy="1227.7" r="4.7"/><circle cx="300.3" cy="1227.7" r="4.7"/><circle cx="302.5" cy="1227.6" r="4.7"/><circle cx="304.7" cy="1227.6" r="4.7"/><circle cx="307.0" cy="1227.6" r="4.7"/><circle cx="309.2" cy="1227.6" r="4.7"/><circle cx="311.4" cy="1227.6" r="4.7"/><circle cx="313.6" cy="1227.6" r="4.7"/><circle cx="315.8" cy="1227.6" r="4.7"/><circle cx="318.0" cy="1227.6" r="4.7"/><circle cx="320.2" cy="1227.6" r="4.7"/><circle cx="322.4" cy="1227.5" r="4.7"/><circle cx="324.6" cy="1227.5" r="4.7"/><circle cx="326.8" cy="1227.5" r="4.7"/><circle cx="329.1" cy="1227.5" r="4.7"/><circle cx="331.3" cy="1227.5" r="4.7"/><circle cx="333.5" cy="1227.6" r="4.7"/><circle cx="335.7" cy="1227.7" r="4.7"/><circle cx="337.9" cy="1227.8" r="4.7"/><circle cx="340.1" cy="1227.8" r="4.7"/><circle cx="342.3" cy="1227.9" r="4.7"/><circle cx="344.5" cy="1228.0" r="4.7"/><circle cx="346.7" cy="1227.9" r="4.7"/><circle cx="349.0" cy="1227.7" r="4.7"/><circle cx="351.2" cy="1227.6" r="4.7"/><circle cx="353.4" cy="1227.4" r="4.7"/><circle cx="355.6" cy="1227.3" r="4.7"/><circle cx="357.8" cy="1227.1" r="4.7"/><circle cx="360.0" cy="1227.0" r="4.7"/><circle cx="362.2" cy="1226.9" r="4.7"/><circle cx="364.4" cy="1226.7" r="4.7"/><circle cx="366.6" cy="1226.6" r="4.7"/><circle cx="368.8" cy="1226.4" r="4.7"/><circle cx="371.1" cy="1226.3" r="4.7"/><circle cx="373.3" cy="1226.1" r="4.7"/><circle cx="375.5" cy="1226.0" r="4.7"/><circle cx="377.7" cy="1225.8" r="4.7"/><circle cx="379.9" cy="1225.7" r="4.7"/><circle cx="382.1" cy="1225.5" r="4.7"/><circle cx="384.3" cy="1225.4" r="4.7"/><circle cx="386.5" cy="1225.2" r="4.7"/><circle cx="388.7" cy="1225.3" r="4.7"/><circle cx="390.9" cy="1225.5" r="4.7"/><circle cx="393.2" cy="1225.7" r="4.7"/><circle cx="395.4" cy="1225.9" r="4.7"/><circle cx="397.6" cy="1226.0" r="4.7"/><circle cx="399.8" cy="1226.2" r="4.7"/><circle cx="402.0" cy="1226.4" r="4.7"/><circle cx="404.2" cy="1226.5" r="4.7"/><circle cx="406.4" cy="1226.7" r="4.7"/><circle cx="408.6" cy="1226.8" r="4.7"/><circle cx="410.8" cy="1226.9" r="4.7"/><circle cx="413.1" cy="1227.0" r="4.7"/><circle cx="415.3" cy="1227.0" r="4.7"/><circle cx="417.5" cy="1227.0" r="4.7"/><circle cx="419.7" cy="1227.0" r="4.7"/><circle cx="421.9" cy="1227.1" r="4.7"/><circle cx="424.1" cy="1227.1" r="4.7"/><circle cx="426.3" cy="1227.1" r="4.7"/><circle cx="428.5" cy="1227.1" r="4.7"/><circle cx="430.7" cy="1227.1" r="4.7"/><circle cx="432.9" cy="1227.1" r="4.7"/><circle cx="435.2" cy="1227.1" r="4.7"/><circle cx="437.4" cy="1227.1" r="4.7"/><circle cx="439.6" cy="1227.2" r="4.7"/><circle cx="441.8" cy="1227.2" r="4.7"/><circle cx="444.0" cy="1227.2" r="4.7"/><circle cx="446.2" cy="1227.2" r="4.7"/><circle cx="448.4" cy="1227.2" r="4.7"/><circle cx="450.6" cy="1227.2" r="4.7"/><circle cx="452.8" cy="1227.2" r="4.7"/><circle cx="455.1" cy="1227.2" r="4.7"/><circle cx="457.3" cy="1227.3" r="4.7"/><circle cx="459.5" cy="1227.3" r="4.7"/><circle cx="461.7" cy="1227.3" r="4.7"/><circle cx="463.9" cy="1227.3" r="4.7"/><circle cx="466.1" cy="1227.3" r="4.7"/><circle cx="468.3" cy="1227.3" r="4.7"/><circle cx="470.5" cy="1227.3" r="4.7"/><circle cx="472.7" cy="1227.3" r="4.7"/><circle cx="474.9" cy="1227.3" r="4.7"/><circle cx="477.2" cy="1227.4" r="4.7"/><circle cx="479.4" cy="1227.4" r="4.7"/><circle cx="481.6" cy="1227.4" r="4.7"/><circle cx="483.8" cy="1227.4" r="4.7"/><circle cx="486.0" cy="1227.4" r="4.7"/><circle cx="488.2" cy="1227.4" r="4.7"/><circle cx="490.4" cy="1227.4" r="4.7"/><circle cx="492.6" cy="1227.4" r="4.7"/><circle cx="494.8" cy="1227.5" r="4.7"/><circle cx="497.1" cy="1227.5" r="4.7"/><circle cx="499.3" cy="1227.5" r="4.7"/><circle cx="501.5" cy="1227.5" r="4.7"/><circle cx="503.7" cy="1228.5" r="4.7"/><circle cx="505.9" cy="1229.7" r="4.7"/><circle cx="508.1" cy="1230.9" r="4.7"/><circle cx="510.3" cy="1230.9" r="4.7"/><circle cx="512.5" cy="1230.9" r="4.7"/><circle cx="514.7" cy="1230.8" r="4.7"/><circle cx="516.9" cy="1230.8" r="4.7"/><circle cx="519.2" cy="1230.8" r="4.7"/><circle cx="521.4" cy="1230.8" r="4.7"/><circle cx="523.6" cy="1230.7" r="4.7"/><circle cx="525.8" cy="1230.7" r="4.7"/><circle cx="528.0" cy="1230.7" r="4.7"/><circle cx="530.2" cy="1230.7" r="4.7"/><circle cx="532.4" cy="1230.7" r="4.7"/><circle cx="534.6" cy="1230.6" r="4.7"/><circle cx="536.8" cy="1230.6" r="4.7"/><circle cx="539.1" cy="1230.6" r="4.7"/><circle cx="541.3" cy="1230.6" r="4.7"/><circle cx="543.5" cy="1230.6" r="4.7"/><circle cx="545.7" cy="1230.5" r="4.7"/><circle cx="547.9" cy="1230.5" r="4.7"/><circle cx="550.1" cy="1230.5" r="4.7"/><circle cx="552.3" cy="1230.5" r="4.7"/><circle cx="554.5" cy="1230.4" r="4.7"/><circle cx="556.7" cy="1230.4" r="4.7"/><circle cx="558.9" cy="1230.4" r="4.7"/><circle cx="561.2" cy="1230.4" r="4.7"/><circle cx="563.4" cy="1230.4" r="4.7"/><circle cx="565.6" cy="1230.3" r="4.7"/><circle cx="567.8" cy="1230.3" r="4.7"/><circle cx="570.0" cy="1230.3" r="4.7"/><circle cx="572.2" cy="1230.3" r="4.7"/><circle cx="574.4" cy="1230.3" r="4.7"/><circle cx="576.6" cy="1230.2" r="4.7"/><circle cx="578.8" cy="1230.2" r="4.7"/><circle cx="581.1" cy="1230.2" r="4.7"/><circle cx="583.3" cy="1230.2" r="4.7"/><circle cx="585.5" cy="1230.1" r="4.7"/><circle cx="587.7" cy="1230.1" r="4.7"/><circle cx="589.9" cy="1230.1" r="4.7"/><circle cx="592.1" cy="1230.1" r="4.7"/><circle cx="594.3" cy="1230.1" r="4.7"/><circle cx="596.5" cy="1230.0" r="4.7"/><circle cx="598.7" cy="1230.0" r="4.7"/><circle cx="600.9" cy="1230.0" r="4.7"/><circle cx="603.2" cy="1230.0" r="4.7"/><circle cx="605.4" cy="1230.0" r="4.7"/><circle cx="607.6" cy="1230.0" r="4.7"/><circle cx="609.8" cy="1230.0" r="4.7"/><circle cx="612.0" cy="1230.0" r="4.7"/><circle cx="614.2" cy="1230.0" r="4.7"/><circle cx="616.4" cy="1229.9" r="4.7"/><circle cx="618.6" cy="1229.9" r="4.7"/><circle cx="620.8" cy="1229.9" r="4.7"/><circle cx="623.1" cy="1229.9" r="4.7"/><circle cx="625.3" cy="1229.9" r="4.7"/><circle cx="627.5" cy="1229.9" r="4.7"/><circle cx="629.7" cy="1229.9" r="4.7"/><circle cx="631.9" cy="1229.9" r="4.7"/><circle cx="634.1" cy="1229.9" r="4.7"/><circle cx="636.3" cy="1229.9" r="4.7"/><circle cx="638.5" cy="1229.9" r="4.7"/><circle cx="640.7" cy="1229.9" r="4.7"/><circle cx="642.9" cy="1229.9" r="4.7"/><circle cx="645.2" cy="1229.9" r="4.7"/><circle cx="647.4" cy="1229.9" r="4.7"/><circle cx="649.6" cy="1229.8" r="4.7"/><circle cx="651.8" cy="1229.8" r="4.7"/><circle cx="654.0" cy="1229.8" r="4.7"/><circle cx="656.2" cy="1229.8" r="4.7"/><circle cx="658.4" cy="1229.8" r="4.7"/><circle cx="660.6" cy="1229.8" r="4.7"/><circle cx="662.8" cy="1229.8" r="4.7"/><circle cx="665.1" cy="1229.8" r="4.7"/><circle cx="667.3" cy="1229.8" r="4.7"/><circle cx="669.5" cy="1229.8" r="4.7"/><circle cx="671.7" cy="1229.8" r="4.7"/><circle cx="673.9" cy="1229.8" r="4.7"/><circle cx="676.1" cy="1229.8" r="4.7"/><circle cx="678.3" cy="1229.8" r="4.7"/><circle cx="680.5" cy="1229.8" r="4.7"/><circle cx="682.7" cy="1229.7" r="4.7"/><circle cx="684.9" cy="1229.7" r="4.7"/><circle cx="687.2" cy="1229.7" r="4.7"/><circle cx="689.4" cy="1229.7" r="4.7"/><circle cx="691.6" cy="1229.7" r="4.7"/><circle cx="693.8" cy="1229.7" r="4.7"/><circle cx="696.0" cy="1229.7" r="4.7"/><circle cx="698.2" cy="1229.7" r="4.7"/><circle cx="700.4" cy="1229.7" r="4.7"/><circle cx="702.6" cy="1229.7" r="4.7"/><circle cx="704.8" cy="1229.7" r="4.7"/><circle cx="707.1" cy="1229.7" r="4.7"/><circle cx="709.3" cy="1229.7" r="4.7"/><circle cx="711.5" cy="1229.7" r="4.7"/><circle cx="713.7" cy="1229.7" r="4.7"/><circle cx="715.9" cy="1229.6" r="4.7"/><circle cx="718.1" cy="1229.6" r="4.7"/><circle cx="720.3" cy="1229.6" r="4.7"/><circle cx="722.5" cy="1229.6" r="4.7"/><circle cx="724.7" cy="1229.6" r="4.7"/><circle cx="726.9" cy="1229.6" r="4.7"/><circle cx="729.2" cy="1229.6" r="4.7"/><circle cx="731.4" cy="1229.6" r="4.7"/><circle cx="733.6" cy="1229.6" r="4.7"/><circle cx="735.8" cy="1229.6" r="4.7"/><circle cx="738.0" cy="1229.6" r="4.7"/><circle cx="740.2" cy="1229.6" r="4.7"/><circle cx="742.4" cy="1229.6" r="4.7"/><circle cx="744.6" cy="1229.6" r="4.7"/><circle cx="746.8" cy="1229.5" r="4.7"/><circle cx="749.1" cy="1229.5" r="4.7"/><circle cx="751.3" cy="1229.5" r="4.7"/><circle cx="753.5" cy="1229.5" r="4.7"/><circle cx="755.7" cy="1229.5" r="4.7"/><circle cx="757.9" cy="1229.5" r="4.7"/><circle cx="760.1" cy="1229.5" r="4.7"/><circle cx="762.3" cy="1229.5" r="4.7"/><circle cx="764.5" cy="1229.5" r="4.7"/><circle cx="766.7" cy="1229.5" r="4.7"/><circle cx="768.9" cy="1229.5" r="4.7"/><circle cx="771.2" cy="1229.5" r="4.7"/><circle cx="773.4" cy="1229.5" r="4.7"/><circle cx="775.6" cy="1229.5" r="4.7"/><circle cx="777.8" cy="1229.5" r="4.7"/><circle cx="780.0" cy="1229.4" r="4.7"/><circle cx="782.2" cy="1229.4" r="4.7"/><circle cx="784.4" cy="1229.4" r="4.7"/><circle cx="786.6" cy="1229.4" r="4.7"/><circle cx="788.8" cy="1229.4" r="4.7"/><circle cx="791.1" cy="1229.4" r="4.7"/><circle cx="793.3" cy="1229.4" r="4.7"/><circle cx="795.5" cy="1229.4" r="4.7"/><circle cx="797.7" cy="1229.4" r="4.7"/><circle cx="799.9" cy="1229.4" r="4.7"/><circle cx="802.1" cy="1229.4" r="4.7"/><circle cx="804.3" cy="1229.4" r="4.7"/><circle cx="806.5" cy="1229.4" r="4.7"/><circle cx="808.7" cy="1229.4" r="4.7"/><circle cx="810.9" cy="1229.4" r="4.7"/><circle cx="813.2" cy="1229.3" r="4.7"/><circle cx="815.4" cy="1229.3" r="4.7"/><circle cx="817.6" cy="1229.3" r="4.7"/><circle cx="819.8" cy="1229.3" r="4.7"/><circle cx="822.0" cy="1229.3" r="4.7"/><circle cx="824.2" cy="1229.3" r="4.7"/><circle cx="826.4" cy="1229.3" r="4.7"/><circle cx="828.6" cy="1229.3" r="4.7"/><circle cx="830.8" cy="1229.3" r="4.7"/><circle cx="833.0" cy="1229.3" r="4.7"/><circle cx="835.3" cy="1229.3" r="4.7"/><circle cx="837.5" cy="1229.3" r="4.7"/><circle cx="839.7" cy="1229.3" r="4.7"/><circle cx="841.9" cy="1229.3" r="4.7"/><circle cx="844.1" cy="1229.2" r="4.7"/><circle cx="846.3" cy="1229.2" r="4.7"/><circle cx="848.5" cy="1229.2" r="4.7"/><circle cx="850.7" cy="1229.2" r="4.7"/><circle cx="852.9" cy="1229.2" r="4.7"/><circle cx="855.2" cy="1229.2" r="4.7"/><circle cx="857.4" cy="1229.2" r="4.7"/><circle cx="859.6" cy="1229.2" r="4.7"/><circle cx="861.8" cy="1229.2" r="4.7"/><circle cx="864.0" cy="1229.3" r="4.7"/><circle cx="866.2" cy="1229.3" r="4.7"/><circle cx="868.4" cy="1229.3" r="4.7"/><circle cx="870.6" cy="1229.4" r="4.7"/><circle cx="872.8" cy="1229.4" r="4.7"/><circle cx="875.0" cy="1229.4" r="4.7"/><circle cx="877.3" cy="1229.4" r="4.7"/><circle cx="879.5" cy="1229.5" r="4.7"/><circle cx="881.7" cy="1229.5" r="4.7"/><circle cx="883.9" cy="1229.5" r="4.7"/><circle cx="886.1" cy="1229.6" r="4.7"/><circle cx="888.3" cy="1229.6" r="4.7"/><circle cx="890.5" cy="1229.6" r="4.7"/><circle cx="892.7" cy="1229.7" r="4.7"/><circle cx="894.9" cy="1229.7" r="4.7"/><circle cx="897.2" cy="1229.7" r="4.7"/><circle cx="899.4" cy="1229.8" r="4.7"/><circle cx="901.6" cy="1229.8" r="4.7"/><circle cx="903.8" cy="1229.8" r="4.7"/><circle cx="906.0" cy="1229.9" r="4.7"/><circle cx="908.2" cy="1229.9" r="4.7"/><circle cx="910.4" cy="1229.9" r="4.7"/><circle cx="912.6" cy="1229.9" r="4.7"/><circle cx="914.8" cy="1230.0" r="4.7"/><circle cx="917.0" cy="1230.0" r="4.7"/><circle cx="919.3" cy="1230.0" r="4.7"/><circle cx="921.5" cy="1230.1" r="4.7"/><circle cx="923.7" cy="1230.1" r="4.7"/><circle cx="925.9" cy="1230.1" r="4.7"/><circle cx="928.1" cy="1230.2" r="4.7"/><circle cx="930.3" cy="1230.2" r="4.7"/><circle cx="932.5" cy="1230.2" r="4.7"/><circle cx="934.7" cy="1230.3" r="4.7"/><circle cx="936.9" cy="1230.3" r="4.7"/><circle cx="939.2" cy="1230.3" r="4.7"/><circle cx="941.4" cy="1230.4" r="4.7"/><circle cx="943.6" cy="1230.4" r="4.7"/><circle cx="945.8" cy="1230.4" r="4.7"/><circle cx="948.0" cy="1230.4" r="4.7"/><circle cx="950.2" cy="1230.5" r="4.7"/><circle cx="952.4" cy="1230.5" r="4.7"/><circle cx="954.6" cy="1230.5" r="4.7"/><circle cx="956.8" cy="1230.6" r="4.7"/><circle cx="959.0" cy="1230.6" r="4.7"/><circle cx="961.3" cy="1230.6" r="4.7"/><circle cx="963.5" cy="1230.7" r="4.7"/><circle cx="965.7" cy="1230.7" r="4.7"/><circle cx="967.9" cy="1230.7" r="4.7"/><circle cx="970.1" cy="1230.8" r="4.7"/><circle cx="972.3" cy="1230.8" r="4.7"/><circle cx="974.5" cy="1230.8" r="4.7"/><circle cx="976.7" cy="1230.9" r="4.7"/><circle cx="978.9" cy="1230.9" r="4.7"/><circle cx="981.2" cy="1230.9" r="4.7"/><circle cx="983.4" cy="1231.0" r="4.7"/><circle cx="985.6" cy="1231.0" r="4.7"/><circle cx="987.8" cy="1231.1" r="4.7"/><circle cx="990.0" cy="1231.1" r="4.7"/><circle cx="992.2" cy="1231.2" r="4.7"/><circle cx="994.4" cy="1231.2" r="4.7"/><circle cx="996.6" cy="1231.3" r="4.7"/><circle cx="998.8" cy="1231.3" r="4.7"/><circle cx="1001.0" cy="1231.4" r="4.7"/><circle cx="1003.3" cy="1231.4" r="4.7"/><circle cx="1005.5" cy="1231.5" r="4.7"/><circle cx="1007.7" cy="1231.5" r="4.7"/><circle cx="1009.9" cy="1231.6" r="4.7"/><circle cx="1012.1" cy="1231.6" r="4.7"/><circle cx="1014.3" cy="1231.7" r="4.7"/><circle cx="1016.5" cy="1231.7" r="4.7"/><circle cx="1018.7" cy="1231.8" r="4.7"/><circle cx="1020.9" cy="1231.8" r="4.7"/><circle cx="1023.2" cy="1231.8" r="4.7"/><circle cx="1025.4" cy="1231.9" r="4.7"/><circle cx="1027.6" cy="1231.9" r="4.7"/><circle cx="1029.8" cy="1232.0" r="4.7"/><circle cx="1032.0" cy="1231.8" r="4.7"/><circle cx="1034.2" cy="1231.5" r="4.7"/><circle cx="1036.4" cy="1231.3" r="4.7"/><circle cx="1038.6" cy="1231.0" r="4.7"/><circle cx="1040.8" cy="1230.7" r="4.7"/><circle cx="1043.0" cy="1230.5" r="4.7"/><circle cx="1045.3" cy="1230.2" r="4.7"/><circle cx="1047.5" cy="1230.0" r="4.7"/><circle cx="1049.7" cy="1229.7" r="4.7"/><circle cx="1051.9" cy="1229.4" r="4.7"/><circle cx="1054.1" cy="1229.2" r="4.7"/><circle cx="1056.3" cy="1228.9" r="4.7"/><circle cx="1058.5" cy="1228.7" r="4.7"/><circle cx="1060.7" cy="1228.5" r="4.7"/><circle cx="1062.9" cy="1228.5" r="4.7"/><circle cx="1065.2" cy="1228.5" r="4.7"/><circle cx="1067.4" cy="1228.5" r="4.7"/><circle cx="1069.6" cy="1228.4" r="4.7"/><circle cx="1071.8" cy="1228.4" r="4.7"/><circle cx="1074.0" cy="1228.4" r="4.7"/><circle cx="1076.2" cy="1228.4" r="4.7"/><circle cx="1078.4" cy="1228.4" r="4.7"/><circle cx="1080.6" cy="1228.4" r="4.7"/><circle cx="1082.8" cy="1228.4" r="4.7"/><circle cx="1085.0" cy="1228.4" r="4.7"/><circle cx="1087.3" cy="1228.3" r="4.7"/><circle cx="1089.5" cy="1228.3" r="4.7"/><circle cx="1091.7" cy="1228.3" r="4.7"/><circle cx="1093.9" cy="1228.3" r="4.7"/><circle cx="1096.1" cy="1228.3" r="4.7"/><circle cx="1098.3" cy="1228.3" r="4.7"/><circle cx="1100.5" cy="1228.3" r="4.7"/><circle cx="1102.7" cy="1228.2" r="4.7"/><circle cx="1104.9" cy="1228.2" r="4.7"/><circle cx="1107.2" cy="1228.2" r="4.7"/><circle cx="1109.4" cy="1228.2" r="4.7"/><circle cx="1111.6" cy="1228.2" r="4.7"/><circle cx="1113.8" cy="1228.2" r="4.7"/><circle cx="1116.0" cy="1228.2" r="4.7"/><circle cx="1118.2" cy="1228.2" r="4.7"/><circle cx="1120.4" cy="1228.1" r="4.7"/><circle cx="1122.6" cy="1228.1" r="4.7"/><circle cx="1124.8" cy="1228.1" r="4.7"/><circle cx="1127.0" cy="1228.1" r="4.7"/><circle cx="1129.3" cy="1228.1" r="4.7"/><circle cx="1131.5" cy="1228.1" r="4.7"/><circle cx="1133.7" cy="1228.1" r="4.7"/><circle cx="1135.9" cy="1228.1" r="4.7"/><circle cx="1138.1" cy="1228.0" r="4.7"/><circle cx="1140.3" cy="1228.0" r="4.7"/><circle cx="1142.5" cy="1228.0" r="4.7"/><circle cx="1144.7" cy="1228.0" r="4.7"/><circle cx="1146.9" cy="1228.0" r="4.7"/><circle cx="1149.2" cy="1228.0" r="4.7"/><circle cx="1151.4" cy="1228.0" r="4.7"/><circle cx="1153.6" cy="1227.9" r="4.7"/><circle cx="1155.8" cy="1227.9" r="4.7"/><circle cx="1158.0" cy="1227.9" r="4.7"/><circle cx="1160.2" cy="1227.9" r="4.7"/><circle cx="1162.4" cy="1227.9" r="4.7"/><circle cx="1164.6" cy="1227.9" r="4.7"/><circle cx="1166.8" cy="1227.9" r="4.7"/><circle cx="1169.0" cy="1227.9" r="4.7"/><circle cx="1171.3" cy="1227.8" r="4.7"/><circle cx="1173.5" cy="1227.8" r="4.7"/><circle cx="1175.7" cy="1227.8" r="4.7"/><circle cx="1177.9" cy="1227.8" r="4.7"/><circle cx="1180.1" cy="1227.8" r="4.7"/><circle cx="1182.3" cy="1227.8" r="4.7"/><circle cx="1184.5" cy="1227.8" r="4.7"/><circle cx="1186.7" cy="1227.8" r="4.7"/><circle cx="1188.9" cy="1227.7" r="4.7"/><circle cx="1191.2" cy="1227.7" r="4.7"/><circle cx="1193.4" cy="1227.7" r="4.7"/><circle cx="1195.6" cy="1227.7" r="4.7"/><circle cx="1197.8" cy="1227.7" r="4.7"/><circle cx="1200.0" cy="1227.7" r="4.7"/><circle cx="1202.2" cy="1227.7" r="4.7"/><circle cx="1204.4" cy="1227.7" r="4.7"/><circle cx="1206.6" cy="1227.6" r="4.7"/><circle cx="1208.8" cy="1227.6" r="4.7"/><circle cx="1211.0" cy="1227.6" r="4.7"/><circle cx="1213.3" cy="1227.6" r="4.7"/><circle cx="1215.5" cy="1227.6" r="4.7"/><circle cx="1217.7" cy="1227.6" r="4.7"/><circle cx="1219.9" cy="1227.6" r="4.7"/><circle cx="1222.1" cy="1227.5" r="4.7"/><circle cx="1224.3" cy="1227.5" r="4.7"/><circle cx="1226.5" cy="1227.5" r="4.7"/><circle cx="1228.7" cy="1227.5" r="4.7"/><circle cx="1230.9" cy="1227.5" r="4.7"/><circle cx="1233.2" cy="1227.5" r="4.7"/><circle cx="1235.4" cy="1227.5" r="4.7"/><circle cx="1237.6" cy="1227.5" r="4.7"/><circle cx="1239.8" cy="1227.4" r="4.7"/><circle cx="1242.0" cy="1227.4" r="4.7"/><circle cx="1244.2" cy="1227.4" r="4.7"/><circle cx="1246.4" cy="1227.4" r="4.7"/><circle cx="1248.6" cy="1227.4" r="4.7"/><circle cx="1250.8" cy="1227.4" r="4.7"/><circle cx="1253.0" cy="1227.4" r="4.7"/><circle cx="1255.3" cy="1227.4" r="4.7"/><circle cx="1257.5" cy="1227.3" r="4.7"/><circle cx="1259.7" cy="1227.3" r="4.7"/><circle cx="1261.9" cy="1227.3" r="4.7"/><circle cx="1264.1" cy="1227.3" r="4.7"/><circle cx="1266.3" cy="1227.3" r="4.7"/><circle cx="1268.5" cy="1227.3" r="4.7"/><circle cx="1270.7" cy="1227.3" r="4.7"/><circle cx="1272.9" cy="1227.2" r="4.7"/><circle cx="1275.1" cy="1227.2" r="4.7"/><circle cx="1277.4" cy="1227.2" r="4.7"/><circle cx="1279.6" cy="1227.2" r="4.7"/><circle cx="1281.8" cy="1227.2" r="4.7"/><circle cx="1284.0" cy="1227.2" r="4.7"/><circle cx="1286.2" cy="1227.2" r="4.7"/><circle cx="1288.4" cy="1227.2" r="4.7"/><circle cx="1290.6" cy="1227.1" r="4.7"/><circle cx="1292.8" cy="1227.1" r="4.7"/><circle cx="1295.0" cy="1227.1" r="4.7"/><circle cx="1297.3" cy="1227.1" r="4.7"/><circle cx="1299.5" cy="1227.1" r="4.7"/><circle cx="1301.7" cy="1227.1" r="4.7"/><circle cx="1303.9" cy="1227.1" r="4.7"/><circle cx="1306.1" cy="1227.1" r="4.7"/><circle cx="1308.3" cy="1227.0" r="4.7"/><circle cx="1310.5" cy="1227.0" r="4.7"/><circle cx="1312.7" cy="1227.0" r="4.7"/><circle cx="1314.9" cy="1227.0" r="4.7"/><circle cx="1317.1" cy="1227.0" r="4.7"/><circle cx="1319.4" cy="1227.0" r="4.7"/><circle cx="1321.6" cy="1227.0" r="4.7"/><circle cx="1323.8" cy="1226.9" r="4.7"/><circle cx="1326.0" cy="1226.9" r="4.7"/><circle cx="1328.2" cy="1226.9" r="4.7"/><circle cx="1330.4" cy="1226.9" r="4.7"/><circle cx="1332.6" cy="1226.9" r="4.7"/><circle cx="1334.8" cy="1226.9" r="4.7"/><circle cx="1337.0" cy="1226.9" r="4.7"/><circle cx="1339.3" cy="1226.9" r="4.7"/><circle cx="1341.5" cy="1226.8" r="4.7"/><circle cx="1343.7" cy="1226.8" r="4.7"/><circle cx="1345.9" cy="1226.8" r="4.7"/><circle cx="1348.1" cy="1226.8" r="4.7"/><circle cx="1350.3" cy="1226.8" r="4.7"/><circle cx="1352.5" cy="1226.8" r="4.7"/><circle cx="1354.7" cy="1226.8" r="4.7"/><circle cx="1356.9" cy="1226.8" r="4.7"/><circle cx="1359.1" cy="1226.7" r="4.7"/><circle cx="1361.4" cy="1226.7" r="4.7"/><circle cx="1363.6" cy="1226.7" r="4.7"/><circle cx="1365.8" cy="1226.7" r="4.7"/><circle cx="1368.0" cy="1226.7" r="4.7"/><circle cx="1370.2" cy="1226.7" r="4.7"/><circle cx="1372.4" cy="1226.7" r="4.7"/><circle cx="1374.6" cy="1226.6" r="4.7"/><circle cx="1376.8" cy="1226.6" r="4.7"/><circle cx="1379.0" cy="1226.6" r="4.7"/><circle cx="1381.3" cy="1226.6" r="4.7"/><circle cx="1383.5" cy="1226.6" r="4.7"/><circle cx="1385.7" cy="1226.6" r="4.7"/><circle cx="1387.9" cy="1226.6" r="4.7"/><circle cx="1390.1" cy="1226.6" r="4.7"/><circle cx="1392.3" cy="1226.5" r="4.7"/><circle cx="1394.5" cy="1226.5" r="4.7"/><circle cx="1396.7" cy="1226.5" r="4.7"/><circle cx="1398.9" cy="1226.5" r="4.7"/><circle cx="1401.1" cy="1226.5" r="4.7"/><circle cx="1403.4" cy="1226.5" r="4.7"/><circle cx="1405.6" cy="1226.5" r="4.7"/><circle cx="1407.8" cy="1226.5" r="4.7"/><circle cx="1410.0" cy="1226.6" r="4.7"/><circle cx="1412.2" cy="1226.6" r="4.7"/><circle cx="1414.4" cy="1226.6" r="4.7"/><circle cx="1416.6" cy="1226.6" r="4.7"/><circle cx="1418.8" cy="1226.6" r="4.7"/><circle cx="1421.0" cy="1226.6" r="4.7"/><circle cx="1423.3" cy="1226.6" r="4.7"/><circle cx="1425.5" cy="1226.7" r="4.7"/><circle cx="1427.7" cy="1226.7" r="4.7"/><circle cx="1429.9" cy="1226.7" r="4.7"/><circle cx="1432.1" cy="1226.7" r="4.7"/><circle cx="1434.3" cy="1226.7" r="4.7"/><circle cx="1436.5" cy="1226.7" r="4.7"/><circle cx="1438.7" cy="1226.7" r="4.7"/><circle cx="1440.9" cy="1226.7" r="4.7"/><circle cx="1443.1" cy="1226.8" r="4.7"/><circle cx="1445.4" cy="1226.8" r="4.7"/><circle cx="1447.6" cy="1226.8" r="4.7"/><circle cx="1449.8" cy="1226.8" r="4.7"/><circle cx="1452.0" cy="1226.8" r="4.7"/><circle cx="1454.2" cy="1226.8" r="4.7"/><circle cx="1456.4" cy="1226.8" r="4.7"/><circle cx="1458.6" cy="1226.9" r="4.7"/><circle cx="1460.8" cy="1226.9" r="4.7"/><circle cx="1463.0" cy="1226.9" r="4.7"/><circle cx="1465.3" cy="1226.9" r="4.7"/><circle cx="1467.5" cy="1226.9" r="4.7"/><circle cx="1469.7" cy="1226.9" r="4.7"/><circle cx="1471.9" cy="1226.9" r="4.7"/><circle cx="1474.1" cy="1226.9" r="4.7"/><circle cx="1476.3" cy="1227.0" r="4.7"/><circle cx="1478.5" cy="1227.0" r="4.7"/><circle cx="1480.7" cy="1227.0" r="4.7"/><circle cx="1482.9" cy="1227.0" r="4.7"/><circle cx="1485.1" cy="1227.0" r="4.7"/><circle cx="1487.4" cy="1227.0" r="4.7"/><circle cx="1489.6" cy="1227.0" r="4.7"/><circle cx="1491.8" cy="1227.1" r="4.7"/><circle cx="1494.0" cy="1227.1" r="4.7"/><circle cx="1496.2" cy="1227.1" r="4.7"/><circle cx="1498.4" cy="1227.1" r="4.7"/><circle cx="1500.6" cy="1227.1" r="4.7"/><circle cx="1502.8" cy="1227.1" r="4.7"/><circle cx="1505.0" cy="1227.1" r="4.7"/><circle cx="1507.3" cy="1227.1" r="4.7"/><circle cx="1509.5" cy="1227.2" r="4.7"/><circle cx="1511.7" cy="1227.2" r="4.7"/><circle cx="1513.9" cy="1227.2" r="4.7"/><circle cx="1516.1" cy="1227.2" r="4.7"/><circle cx="1518.3" cy="1227.2" r="4.7"/><circle cx="1520.5" cy="1227.2" r="4.7"/><circle cx="1522.7" cy="1227.2" r="4.7"/><circle cx="1524.9" cy="1227.2" r="4.7"/><circle cx="1527.1" cy="1227.3" r="4.7"/><circle cx="1529.4" cy="1227.3" r="4.7"/><circle cx="1531.6" cy="1227.3" r="4.7"/><circle cx="1533.8" cy="1227.3" r="4.7"/><circle cx="1536.0" cy="1227.3" r="4.7"/><circle cx="1538.2" cy="1227.3" r="4.7"/><circle cx="1540.4" cy="1227.3" r="4.7"/><circle cx="1542.6" cy="1227.4" r="4.7"/><circle cx="1544.8" cy="1227.4" r="4.7"/><circle cx="1547.0" cy="1227.4" r="4.7"/><circle cx="1549.3" cy="1227.4" r="4.7"/><circle cx="1551.5" cy="1227.4" r="4.7"/><circle cx="1553.7" cy="1227.4" r="4.7"/><circle cx="1555.9" cy="1227.4" r="4.7"/><circle cx="1558.1" cy="1227.4" r="4.7"/><circle cx="1560.3" cy="1227.5" r="4.7"/><circle cx="1562.5" cy="1227.5" r="4.7"/><circle cx="1564.7" cy="1227.5" r="4.7"/><circle cx="1566.9" cy="1227.5" r="4.7"/><circle cx="1569.1" cy="1227.5" r="4.7"/><circle cx="1571.4" cy="1227.5" r="4.7"/><circle cx="1573.6" cy="1227.5" r="4.7"/><circle cx="1575.8" cy="1227.6" r="4.7"/><circle cx="1578.0" cy="1227.6" r="4.7"/><circle cx="1580.2" cy="1227.6" r="4.7"/><circle cx="1582.4" cy="1227.6" r="4.7"/><circle cx="1584.6" cy="1227.6" r="4.7"/><circle cx="1586.8" cy="1227.6" r="4.7"/><circle cx="1589.0" cy="1227.6" r="4.7"/><circle cx="1591.3" cy="1227.6" r="4.7"/><circle cx="1593.5" cy="1227.7" r="4.7"/><circle cx="1595.7" cy="1227.7" r="4.7"/><circle cx="1597.9" cy="1227.7" r="4.7"/><circle cx="1600.1" cy="1227.7" r="4.7"/><circle cx="1602.3" cy="1227.7" r="4.7"/><circle cx="1604.5" cy="1227.7" r="4.7"/><circle cx="1606.7" cy="1227.7" r="4.7"/><circle cx="1608.9" cy="1227.8" r="4.7"/><circle cx="1611.1" cy="1227.8" r="4.7"/><circle cx="1613.4" cy="1227.8" r="4.7"/><circle cx="1615.6" cy="1227.8" r="4.7"/><circle cx="1617.8" cy="1227.8" r="4.7"/><circle cx="1620.0" cy="1227.8" r="4.7"/><circle cx="1622.2" cy="1227.8" r="4.7"/><circle cx="1624.4" cy="1227.8" r="4.7"/><circle cx="1626.6" cy="1227.9" r="4.7"/><circle cx="1628.8" cy="1227.9" r="4.7"/><circle cx="1631.0" cy="1227.9" r="4.7"/><circle cx="1633.3" cy="1227.9" r="4.7"/><circle cx="1635.5" cy="1227.9" r="4.7"/><circle cx="1637.7" cy="1227.9" r="4.7"/><circle cx="1639.9" cy="1227.9" r="4.7"/><circle cx="1642.1" cy="1227.9" r="4.7"/><circle cx="1644.3" cy="1228.0" r="4.7"/><circle cx="1646.5" cy="1228.0" r="4.7"/><circle cx="1648.7" cy="1228.0" r="4.7"/><circle cx="1650.9" cy="1228.0" r="4.7"/><circle cx="1653.1" cy="1228.0" r="4.7"/><circle cx="1655.4" cy="1228.0" r="4.7"/><circle cx="1657.6" cy="1228.0" r="4.7"/><circle cx="1659.8" cy="1228.1" r="4.7"/><circle cx="1662.0" cy="1228.1" r="4.7"/><circle cx="1664.2" cy="1228.1" r="4.7"/><circle cx="1666.4" cy="1228.1" r="4.7"/><circle cx="1668.6" cy="1228.1" r="4.7"/><circle cx="1670.8" cy="1228.1" r="4.7"/><circle cx="1673.0" cy="1228.1" r="4.7"/><circle cx="1675.3" cy="1228.1" r="4.7"/><circle cx="1677.5" cy="1228.2" r="4.7"/><circle cx="1679.7" cy="1228.2" r="4.7"/><circle cx="1681.9" cy="1228.2" r="4.7"/><circle cx="1684.1" cy="1228.2" r="4.7"/><circle cx="1686.3" cy="1228.2" r="4.7"/><circle cx="1688.5" cy="1228.2" r="4.7"/><circle cx="1690.7" cy="1228.2" r="4.7"/><circle cx="1692.9" cy="1228.2" r="4.7"/><circle cx="1695.1" cy="1228.3" r="4.7"/><circle cx="1697.4" cy="1228.3" r="4.7"/><circle cx="1699.6" cy="1228.3" r="4.7"/><circle cx="1701.8" cy="1228.3" r="4.7"/><circle cx="1704.0" cy="1228.3" r="4.7"/><circle cx="1706.2" cy="1228.3" r="4.7"/><circle cx="1708.4" cy="1228.3" r="4.7"/><circle cx="1710.6" cy="1228.4" r="4.7"/><circle cx="1712.8" cy="1228.4" r="4.7"/><circle cx="1715.0" cy="1228.4" r="4.7"/><circle cx="1717.2" cy="1228.4" r="4.7"/><circle cx="1719.5" cy="1228.4" r="4.7"/><circle cx="1721.7" cy="1228.4" r="4.7"/><circle cx="1723.9" cy="1228.4" r="4.7"/><circle cx="1726.1" cy="1228.4" r="4.7"/><circle cx="1728.3" cy="1228.5" r="4.7"/><circle cx="1730.5" cy="1228.5" r="4.7"/><circle cx="1732.7" cy="1228.5" r="4.7"/><circle cx="1734.9" cy="1228.5" r="4.7"/><circle cx="1737.1" cy="1228.5" r="4.7"/><circle cx="1739.4" cy="1228.5" r="4.7"/><circle cx="1741.6" cy="1228.5" r="4.7"/><circle cx="1743.8" cy="1228.5" r="4.7"/><circle cx="1746.0" cy="1228.6" r="4.7"/><circle cx="1748.2" cy="1228.6" r="4.7"/><circle cx="1750.4" cy="1228.6" r="4.7"/><circle cx="1752.6" cy="1228.6" r="4.7"/><circle cx="1754.8" cy="1228.6" r="4.7"/><circle cx="1757.0" cy="1228.6" r="4.7"/><circle cx="1759.2" cy="1228.6" r="4.7"/><circle cx="1761.5" cy="1228.7" r="4.7"/><circle cx="1763.7" cy="1228.7" r="4.7"/><circle cx="1765.9" cy="1228.7" r="4.7"/><circle cx="1768.1" cy="1228.7" r="4.7"/><circle cx="1770.3" cy="1228.7" r="4.7"/><circle cx="1772.5" cy="1228.7" r="4.7"/><circle cx="1774.7" cy="1228.7" r="4.7"/><circle cx="1776.9" cy="1228.7" r="4.7"/><circle cx="1779.1" cy="1228.8" r="4.7"/><circle cx="1781.4" cy="1228.8" r="4.7"/><circle cx="1783.6" cy="1228.8" r="4.7"/><circle cx="1785.8" cy="1228.8" r="4.7"/><circle cx="1788.0" cy="1228.8" r="4.7"/><circle cx="1790.2" cy="1228.8" r="4.7"/><circle cx="1792.4" cy="1228.8" r="4.7"/><circle cx="1794.6" cy="1228.8" r="4.7"/><circle cx="1796.8" cy="1228.9" r="4.7"/><circle cx="1799.0" cy="1228.9" r="4.7"/><circle cx="1801.2" cy="1228.9" r="4.7"/><circle cx="1803.5" cy="1228.9" r="4.7"/><circle cx="1805.7" cy="1228.9" r="4.7"/><circle cx="1807.9" cy="1228.9" r="4.7"/><circle cx="1810.1" cy="1228.9" r="4.7"/><circle cx="1812.3" cy="1229.0" r="4.7"/><circle cx="1814.5" cy="1229.0" r="4.7"/><circle cx="1816.7" cy="1229.0" r="4.7"/><circle cx="1818.9" cy="1229.0" r="4.7"/><circle cx="1821.1" cy="1229.0" r="4.7"/><circle cx="1823.4" cy="1229.0" r="4.7"/><circle cx="1825.6" cy="1229.0" r="4.7"/><circle cx="1827.8" cy="1229.0" r="4.7"/><circle cx="1830.0" cy="1229.1" r="4.7"/><circle cx="1832.2" cy="1229.1" r="4.7"/><circle cx="1834.4" cy="1229.1" r="4.7"/><circle cx="1836.6" cy="1229.1" r="4.7"/><circle cx="1838.8" cy="1229.1" r="4.7"/><circle cx="1841.0" cy="1229.1" r="4.7"/><circle cx="1843.2" cy="1229.1" r="4.7"/><circle cx="1845.5" cy="1229.1" r="4.7"/><circle cx="1847.7" cy="1229.2" r="4.7"/><circle cx="1849.9" cy="1229.2" r="4.7"/><circle cx="1852.1" cy="1229.2" r="4.7"/><circle cx="1854.3" cy="1229.2" r="4.7"/><circle cx="1856.5" cy="1229.2" r="4.7"/><circle cx="1858.7" cy="1229.2" r="4.7"/><circle cx="1860.9" cy="1229.2" r="4.7"/><circle cx="1863.1" cy="1229.3" r="4.7"/><circle cx="1865.4" cy="1229.3" r="4.7"/><circle cx="1867.6" cy="1229.3" r="4.7"/><circle cx="1869.8" cy="1229.3" r="4.7"/><circle cx="1872.0" cy="1229.3" r="4.7"/><circle cx="1874.2" cy="1229.3" r="4.7"/><circle cx="1876.4" cy="1229.3" r="4.7"/><circle cx="1878.6" cy="1229.3" r="4.7"/><circle cx="1880.8" cy="1229.4" r="4.7"/><circle cx="1883.0" cy="1229.4" r="4.7"/><circle cx="1885.2" cy="1229.4" r="4.7"/><circle cx="1887.5" cy="1229.4" r="4.7"/><circle cx="1889.7" cy="1229.4" r="4.7"/><circle cx="1891.9" cy="1229.4" r="4.7"/><circle cx="1894.1" cy="1229.4" r="4.7"/><circle cx="1896.3" cy="1229.4" r="4.7"/><circle cx="1898.5" cy="1229.5" r="4.7"/><circle cx="1900.7" cy="1229.5" r="4.7"/><circle cx="1902.9" cy="1229.5" r="4.7"/><circle cx="1905.1" cy="1229.5" r="4.7"/><circle cx="345.5" cy="1230.3" r="4.7"/><circle cx="411.7" cy="1229.5" r="4.7"/><circle cx="508.2" cy="1229.5" r="4.7"/><circle cx="1593.0" cy="1231.0" r="4.7"/><circle cx="1614.0" cy="1226.0" r="4.7"/></g>
<g fill="#fff" stroke="#1f6fba" stroke-width="2.2" clip-path="url(#gclip)"><circle cx="130.1" cy="1094.2" r="4.7"/><circle cx="132.3" cy="1094.2" r="4.7"/><circle cx="134.5" cy="1094.2" r="4.7"/><circle cx="136.7" cy="1094.2" r="4.7"/><circle cx="139.0" cy="1094.2" r="4.7"/><circle cx="141.2" cy="1094.2" r="4.7"/><circle cx="143.4" cy="1094.2" r="4.7"/><circle cx="145.6" cy="1094.2" r="4.7"/><circle cx="147.8" cy="1094.2" r="4.7"/><circle cx="150.0" cy="1094.2" r="4.7"/><circle cx="152.2" cy="1094.2" r="4.7"/><circle cx="154.4" cy="1094.2" r="4.7"/><circle cx="156.6" cy="1094.2" r="4.7"/><circle cx="158.8" cy="1094.2" r="4.7"/><circle cx="161.1" cy="1094.2" r="4.7"/><circle cx="163.3" cy="1094.2" r="4.7"/><circle cx="165.5" cy="1094.2" r="4.7"/><circle cx="167.7" cy="1094.2" r="4.7"/><circle cx="169.9" cy="1094.2" r="4.7"/><circle cx="172.1" cy="1094.2" r="4.7"/><circle cx="174.3" cy="1094.2" r="4.7"/><circle cx="176.5" cy="1094.2" r="4.7"/><circle cx="178.7" cy="1094.2" r="4.7"/><circle cx="181.0" cy="1094.2" r="4.7"/><circle cx="183.2" cy="1094.2" r="4.7"/><circle cx="185.4" cy="1094.2" r="4.7"/><circle cx="187.6" cy="1094.2" r="4.7"/><circle cx="189.8" cy="1094.2" r="4.7"/><circle cx="192.0" cy="1094.2" r="4.7"/><circle cx="194.2" cy="1094.2" r="4.7"/><circle cx="196.4" cy="1094.2" r="4.7"/><circle cx="198.6" cy="1094.2" r="4.7"/><circle cx="200.8" cy="1094.2" r="4.7"/><circle cx="203.1" cy="1094.2" r="4.7"/><circle cx="205.3" cy="1094.2" r="4.7"/><circle cx="207.5" cy="1094.2" r="4.7"/><circle cx="209.7" cy="1094.2" r="4.7"/><circle cx="211.9" cy="1094.2" r="4.7"/><circle cx="214.1" cy="1094.2" r="4.7"/><circle cx="216.3" cy="1094.2" r="4.7"/><circle cx="218.5" cy="1094.2" r="4.7"/><circle cx="220.7" cy="1094.2" r="4.7"/><circle cx="223.0" cy="1094.2" r="4.7"/><circle cx="225.2" cy="1094.2" r="4.7"/><circle cx="227.4" cy="1094.2" r="4.7"/><circle cx="229.6" cy="1094.2" r="4.7"/><circle cx="231.8" cy="1094.2" r="4.7"/><circle cx="234.0" cy="1094.2" r="4.7"/><circle cx="236.2" cy="1094.2" r="4.7"/><circle cx="238.4" cy="1094.2" r="4.7"/><circle cx="240.6" cy="1094.2" r="4.7"/><circle cx="242.8" cy="1094.2" r="4.7"/><circle cx="245.1" cy="1094.2" r="4.7"/><circle cx="247.3" cy="1094.2" r="4.7"/><circle cx="249.5" cy="1094.2" r="4.7"/><circle cx="251.7" cy="1094.2" r="4.7"/><circle cx="253.9" cy="1094.2" r="4.7"/><circle cx="256.1" cy="1094.2" r="4.7"/><circle cx="258.3" cy="1094.2" r="4.7"/><circle cx="260.5" cy="1094.2" r="4.7"/><circle cx="262.7" cy="1094.2" r="4.7"/><circle cx="265.0" cy="1094.2" r="4.7"/><circle cx="267.2" cy="1094.2" r="4.7"/><circle cx="269.4" cy="1094.2" r="4.7"/><circle cx="271.6" cy="1094.2" r="4.7"/><circle cx="273.8" cy="1094.2" r="4.7"/><circle cx="276.0" cy="1094.2" r="4.7"/><circle cx="278.2" cy="1094.2" r="4.7"/><circle cx="280.4" cy="1094.2" r="4.7"/><circle cx="282.6" cy="1094.2" r="4.7"/><circle cx="284.8" cy="1094.2" r="4.7"/><circle cx="287.1" cy="1094.2" r="4.7"/><circle cx="289.3" cy="1094.2" r="4.7"/><circle cx="291.5" cy="1094.2" r="4.7"/><circle cx="293.7" cy="1094.2" r="4.7"/><circle cx="295.9" cy="1094.2" r="4.7"/><circle cx="298.1" cy="1094.2" r="4.7"/><circle cx="300.3" cy="1094.2" r="4.7"/><circle cx="302.5" cy="1094.2" r="4.7"/><circle cx="304.7" cy="1094.2" r="4.7"/><circle cx="307.0" cy="1094.2" r="4.7"/><circle cx="309.2" cy="1094.2" r="4.7"/><circle cx="311.4" cy="1094.2" r="4.7"/><circle cx="313.6" cy="1094.2" r="4.7"/><circle cx="315.8" cy="1094.2" r="4.7"/><circle cx="318.0" cy="1094.2" r="4.7"/><circle cx="320.2" cy="1094.2" r="4.7"/><circle cx="322.4" cy="1094.2" r="4.7"/><circle cx="324.6" cy="1094.2" r="4.7"/><circle cx="326.8" cy="1094.2" r="4.7"/><circle cx="329.1" cy="1094.2" r="4.7"/><circle cx="331.3" cy="1094.2" r="4.7"/><circle cx="333.5" cy="1094.2" r="4.7"/><circle cx="335.7" cy="1094.2" r="4.7"/><circle cx="337.9" cy="1094.2" r="4.7"/><circle cx="340.1" cy="1094.2" r="4.7"/><circle cx="342.3" cy="1094.2" r="4.7"/><circle cx="344.5" cy="1094.2" r="4.7"/><circle cx="346.7" cy="1094.2" r="4.7"/><circle cx="349.0" cy="1094.2" r="4.7"/><circle cx="351.2" cy="1094.2" r="4.7"/><circle cx="353.4" cy="1094.2" r="4.7"/><circle cx="355.6" cy="1094.2" r="4.7"/><circle cx="357.8" cy="1094.2" r="4.7"/><circle cx="360.0" cy="1094.2" r="4.7"/><circle cx="362.2" cy="1094.2" r="4.7"/><circle cx="364.4" cy="1094.2" r="4.7"/><circle cx="366.6" cy="1094.2" r="4.7"/><circle cx="368.8" cy="1094.2" r="4.7"/><circle cx="371.1" cy="1094.2" r="4.7"/><circle cx="373.3" cy="1094.2" r="4.7"/><circle cx="375.5" cy="1094.2" r="4.7"/><circle cx="377.7" cy="1094.2" r="4.7"/><circle cx="379.9" cy="1094.2" r="4.7"/><circle cx="382.1" cy="1094.2" r="4.7"/><circle cx="384.3" cy="1094.2" r="4.7"/><circle cx="386.5" cy="1094.2" r="4.7"/><circle cx="388.7" cy="1094.2" r="4.7"/><circle cx="390.9" cy="1094.2" r="4.7"/><circle cx="393.2" cy="1094.2" r="4.7"/><circle cx="395.4" cy="1094.2" r="4.7"/><circle cx="397.6" cy="1094.2" r="4.7"/><circle cx="399.8" cy="1094.2" r="4.7"/><circle cx="402.0" cy="1094.2" r="4.7"/><circle cx="404.2" cy="1094.2" r="4.7"/><circle cx="406.4" cy="1094.2" r="4.7"/><circle cx="408.6" cy="1094.2" r="4.7"/><circle cx="410.8" cy="1094.2" r="4.7"/><circle cx="413.1" cy="1094.2" r="4.7"/><circle cx="415.3" cy="1094.2" r="4.7"/><circle cx="417.5" cy="1094.2" r="4.7"/><circle cx="419.7" cy="1094.2" r="4.7"/><circle cx="421.9" cy="1094.2" r="4.7"/><circle cx="424.1" cy="1094.2" r="4.7"/><circle cx="426.3" cy="1094.2" r="4.7"/><circle cx="428.5" cy="1094.2" r="4.7"/><circle cx="430.7" cy="1094.2" r="4.7"/><circle cx="432.9" cy="1094.2" r="4.7"/><circle cx="435.2" cy="1094.2" r="4.7"/><circle cx="437.4" cy="1094.2" r="4.7"/><circle cx="439.6" cy="1094.2" r="4.7"/><circle cx="441.8" cy="1094.2" r="4.7"/><circle cx="444.0" cy="1094.2" r="4.7"/><circle cx="446.2" cy="1094.2" r="4.7"/><circle cx="448.4" cy="1094.2" r="4.7"/><circle cx="450.6" cy="1094.2" r="4.7"/><circle cx="452.8" cy="1094.2" r="4.7"/><circle cx="455.1" cy="1094.2" r="4.7"/><circle cx="457.3" cy="1094.2" r="4.7"/><circle cx="459.5" cy="1094.2" r="4.7"/><circle cx="461.7" cy="1094.2" r="4.7"/><circle cx="463.9" cy="1094.2" r="4.7"/><circle cx="466.1" cy="1094.2" r="4.7"/><circle cx="468.3" cy="1094.2" r="4.7"/><circle cx="470.5" cy="1094.2" r="4.7"/><circle cx="472.7" cy="1094.2" r="4.7"/><circle cx="474.9" cy="1094.2" r="4.7"/><circle cx="477.2" cy="1094.2" r="4.7"/><circle cx="479.4" cy="1094.2" r="4.7"/><circle cx="481.6" cy="1094.2" r="4.7"/><circle cx="483.8" cy="1094.2" r="4.7"/><circle cx="486.0" cy="1094.2" r="4.7"/><circle cx="488.2" cy="1094.2" r="4.7"/><circle cx="490.4" cy="1094.2" r="4.7"/><circle cx="492.6" cy="1094.2" r="4.7"/><circle cx="494.8" cy="1094.2" r="4.7"/><circle cx="497.1" cy="1094.2" r="4.7"/><circle cx="499.3" cy="1094.2" r="4.7"/><circle cx="501.5" cy="1094.2" r="4.7"/><circle cx="503.7" cy="1094.2" r="4.7"/><circle cx="505.9" cy="1094.2" r="4.7"/><circle cx="508.1" cy="1094.2" r="4.7"/><circle cx="510.3" cy="1094.2" r="4.7"/><circle cx="512.5" cy="1094.2" r="4.7"/><circle cx="514.7" cy="1094.2" r="4.7"/><circle cx="516.9" cy="1094.2" r="4.7"/><circle cx="519.2" cy="1094.2" r="4.7"/><circle cx="521.4" cy="1094.2" r="4.7"/><circle cx="523.6" cy="1094.2" r="4.7"/><circle cx="525.8" cy="1094.2" r="4.7"/><circle cx="528.0" cy="1094.2" r="4.7"/><circle cx="530.2" cy="1094.2" r="4.7"/><circle cx="532.4" cy="1094.2" r="4.7"/><circle cx="534.6" cy="1094.2" r="4.7"/><circle cx="536.8" cy="1094.2" r="4.7"/><circle cx="539.1" cy="1098.8" r="4.7"/><circle cx="541.3" cy="1099.7" r="4.7"/><circle cx="543.5" cy="1099.3" r="4.7"/><circle cx="545.7" cy="1098.9" r="4.7"/><circle cx="547.9" cy="1098.6" r="4.7"/><circle cx="550.1" cy="1098.2" r="4.7"/><circle cx="552.3" cy="1097.8" r="4.7"/><circle cx="554.5" cy="1097.4" r="4.7"/><circle cx="556.7" cy="1097.1" r="4.7"/><circle cx="558.9" cy="1096.8" r="4.7"/><circle cx="561.2" cy="1096.5" r="4.7"/><circle cx="563.4" cy="1096.1" r="4.7"/><circle cx="565.6" cy="1095.8" r="4.7"/><circle cx="567.8" cy="1095.5" r="4.7"/><circle cx="570.0" cy="1095.2" r="4.7"/><circle cx="572.2" cy="1094.8" r="4.7"/><circle cx="574.4" cy="1094.5" r="4.7"/><circle cx="576.6" cy="1094.2" r="4.7"/><circle cx="578.8" cy="1094.0" r="4.7"/><circle cx="581.1" cy="1093.9" r="4.7"/><circle cx="583.3" cy="1093.8" r="4.7"/><circle cx="585.5" cy="1093.6" r="4.7"/><circle cx="587.7" cy="1093.5" r="4.7"/><circle cx="589.9" cy="1093.3" r="4.7"/><circle cx="592.1" cy="1093.2" r="4.7"/><circle cx="594.3" cy="1093.0" r="4.7"/><circle cx="596.5" cy="1093.3" r="4.7"/><circle cx="598.7" cy="1093.8" r="4.7"/><circle cx="600.9" cy="1095.0" r="4.7"/><circle cx="603.2" cy="1101.7" r="4.7"/><circle cx="605.4" cy="1104.2" r="4.7"/><circle cx="607.6" cy="1103.5" r="4.7"/><circle cx="609.8" cy="1102.8" r="4.7"/><circle cx="612.0" cy="1102.1" r="4.7"/><circle cx="614.2" cy="1101.4" r="4.7"/><circle cx="616.4" cy="1100.7" r="4.7"/><circle cx="618.6" cy="1100.0" r="4.7"/><circle cx="620.8" cy="1099.4" r="4.7"/><circle cx="623.1" cy="1098.7" r="4.7"/><circle cx="625.3" cy="1098.3" r="4.7"/><circle cx="627.5" cy="1097.8" r="4.7"/><circle cx="629.7" cy="1097.4" r="4.7"/><circle cx="631.9" cy="1096.9" r="4.7"/><circle cx="634.1" cy="1096.5" r="4.7"/><circle cx="636.3" cy="1096.1" r="4.7"/><circle cx="638.5" cy="1095.6" r="4.7"/><circle cx="640.7" cy="1095.2" r="4.7"/><circle cx="642.9" cy="1094.7" r="4.7"/><circle cx="645.2" cy="1094.3" r="4.7"/><circle cx="647.4" cy="1094.2" r="4.7"/><circle cx="649.6" cy="1094.2" r="4.7"/><circle cx="651.8" cy="1094.2" r="4.7"/><circle cx="654.0" cy="1094.2" r="4.7"/><circle cx="656.2" cy="1094.2" r="4.7"/><circle cx="658.4" cy="1094.2" r="4.7"/><circle cx="660.6" cy="1094.2" r="4.7"/><circle cx="662.8" cy="1094.2" r="4.7"/><circle cx="665.1" cy="1094.2" r="4.7"/><circle cx="667.3" cy="1094.2" r="4.7"/><circle cx="669.5" cy="1094.2" r="4.7"/><circle cx="671.7" cy="1094.2" r="4.7"/><circle cx="673.9" cy="1094.2" r="4.7"/><circle cx="676.1" cy="1094.2" r="4.7"/><circle cx="678.3" cy="1094.2" r="4.7"/><circle cx="680.5" cy="1094.2" r="4.7"/><circle cx="682.7" cy="1094.2" r="4.7"/><circle cx="684.9" cy="1094.2" r="4.7"/><circle cx="687.2" cy="1094.2" r="4.7"/><circle cx="689.4" cy="1094.2" r="4.7"/><circle cx="691.6" cy="1094.2" r="4.7"/><circle cx="693.8" cy="1094.2" r="4.7"/><circle cx="696.0" cy="1094.2" r="4.7"/><circle cx="698.2" cy="1094.2" r="4.7"/><circle cx="700.4" cy="1094.2" r="4.7"/><circle cx="702.6" cy="1094.2" r="4.7"/><circle cx="704.8" cy="1094.2" r="4.7"/><circle cx="707.1" cy="1094.2" r="4.7"/><circle cx="709.3" cy="1094.2" r="4.7"/><circle cx="711.5" cy="1094.2" r="4.7"/><circle cx="713.7" cy="1094.2" r="4.7"/><circle cx="715.9" cy="1094.2" r="4.7"/><circle cx="718.1" cy="1094.2" r="4.7"/><circle cx="720.3" cy="1094.2" r="4.7"/><circle cx="722.5" cy="1094.2" r="4.7"/><circle cx="724.7" cy="1094.2" r="4.7"/><circle cx="726.9" cy="1094.2" r="4.7"/><circle cx="729.2" cy="1094.2" r="4.7"/><circle cx="731.4" cy="1094.2" r="4.7"/><circle cx="733.6" cy="1094.2" r="4.7"/><circle cx="735.8" cy="1094.2" r="4.7"/><circle cx="738.0" cy="1094.2" r="4.7"/><circle cx="740.2" cy="1094.2" r="4.7"/><circle cx="742.4" cy="1094.2" r="4.7"/><circle cx="744.6" cy="1094.2" r="4.7"/><circle cx="746.8" cy="1094.2" r="4.7"/><circle cx="749.1" cy="1094.2" r="4.7"/><circle cx="751.3" cy="1094.2" r="4.7"/><circle cx="753.5" cy="1094.2" r="4.7"/><circle cx="755.7" cy="1094.2" r="4.7"/><circle cx="757.9" cy="1094.2" r="4.7"/><circle cx="760.1" cy="1094.2" r="4.7"/><circle cx="762.3" cy="1094.2" r="4.7"/><circle cx="764.5" cy="1094.2" r="4.7"/><circle cx="766.7" cy="1094.2" r="4.7"/><circle cx="768.9" cy="1094.2" r="4.7"/><circle cx="771.2" cy="1094.2" r="4.7"/><circle cx="773.4" cy="1094.2" r="4.7"/><circle cx="775.6" cy="1094.2" r="4.7"/><circle cx="777.8" cy="1094.2" r="4.7"/><circle cx="780.0" cy="1094.2" r="4.7"/><circle cx="782.2" cy="1094.2" r="4.7"/><circle cx="784.4" cy="1094.2" r="4.7"/><circle cx="786.6" cy="1094.2" r="4.7"/><circle cx="788.8" cy="1094.2" r="4.7"/><circle cx="791.1" cy="1094.2" r="4.7"/><circle cx="793.3" cy="1094.2" r="4.7"/><circle cx="795.5" cy="1094.2" r="4.7"/><circle cx="797.7" cy="1094.2" r="4.7"/><circle cx="799.9" cy="1094.2" r="4.7"/><circle cx="802.1" cy="1094.2" r="4.7"/><circle cx="804.3" cy="1094.3" r="4.7"/><circle cx="806.5" cy="1094.3" r="4.7"/><circle cx="808.7" cy="1094.3" r="4.7"/><circle cx="810.9" cy="1094.3" r="4.7"/><circle cx="813.2" cy="1094.3" r="4.7"/><circle cx="815.4" cy="1094.3" r="4.7"/><circle cx="817.6" cy="1094.3" r="4.7"/><circle cx="819.8" cy="1094.3" r="4.7"/><circle cx="822.0" cy="1094.3" r="4.7"/><circle cx="824.2" cy="1094.3" r="4.7"/><circle cx="826.4" cy="1094.3" r="4.7"/><circle cx="828.6" cy="1094.3" r="4.7"/><circle cx="830.8" cy="1094.3" r="4.7"/><circle cx="833.0" cy="1094.3" r="4.7"/><circle cx="835.3" cy="1094.3" r="4.7"/><circle cx="837.5" cy="1094.3" r="4.7"/><circle cx="839.7" cy="1094.3" r="4.7"/><circle cx="841.9" cy="1094.3" r="4.7"/><circle cx="844.1" cy="1094.3" r="4.7"/><circle cx="846.3" cy="1094.3" r="4.7"/><circle cx="848.5" cy="1094.3" r="4.7"/><circle cx="850.7" cy="1094.3" r="4.7"/><circle cx="852.9" cy="1094.3" r="4.7"/><circle cx="855.2" cy="1094.3" r="4.7"/><circle cx="857.4" cy="1094.3" r="4.7"/><circle cx="859.6" cy="1094.3" r="4.7"/><circle cx="861.8" cy="1094.3" r="4.7"/><circle cx="864.0" cy="1094.3" r="4.7"/><circle cx="866.2" cy="1094.3" r="4.7"/><circle cx="868.4" cy="1094.3" r="4.7"/><circle cx="870.6" cy="1094.3" r="4.7"/><circle cx="872.8" cy="1094.3" r="4.7"/><circle cx="875.0" cy="1094.3" r="4.7"/><circle cx="877.3" cy="1094.3" r="4.7"/><circle cx="879.5" cy="1094.3" r="4.7"/><circle cx="881.7" cy="1094.3" r="4.7"/><circle cx="883.9" cy="1094.3" r="4.7"/><circle cx="886.1" cy="1094.3" r="4.7"/><circle cx="888.3" cy="1094.3" r="4.7"/><circle cx="890.5" cy="1094.3" r="4.7"/><circle cx="892.7" cy="1094.3" r="4.7"/><circle cx="894.9" cy="1094.3" r="4.7"/><circle cx="897.2" cy="1094.3" r="4.7"/><circle cx="899.4" cy="1094.3" r="4.7"/><circle cx="901.6" cy="1094.3" r="4.7"/><circle cx="903.8" cy="1094.3" r="4.7"/><circle cx="906.0" cy="1094.3" r="4.7"/><circle cx="908.2" cy="1094.3" r="4.7"/><circle cx="910.4" cy="1094.3" r="4.7"/><circle cx="912.6" cy="1094.3" r="4.7"/><circle cx="914.8" cy="1094.3" r="4.7"/><circle cx="917.0" cy="1094.3" r="4.7"/><circle cx="919.3" cy="1094.3" r="4.7"/><circle cx="921.5" cy="1094.3" r="4.7"/><circle cx="923.7" cy="1094.3" r="4.7"/><circle cx="925.9" cy="1094.3" r="4.7"/><circle cx="928.1" cy="1094.3" r="4.7"/><circle cx="930.3" cy="1094.3" r="4.7"/><circle cx="932.5" cy="1094.3" r="4.7"/><circle cx="934.7" cy="1094.3" r="4.7"/><circle cx="936.9" cy="1094.3" r="4.7"/><circle cx="939.2" cy="1094.3" r="4.7"/><circle cx="941.4" cy="1094.3" r="4.7"/><circle cx="943.6" cy="1094.3" r="4.7"/><circle cx="945.8" cy="1094.3" r="4.7"/><circle cx="948.0" cy="1094.3" r="4.7"/><circle cx="950.2" cy="1094.3" r="4.7"/><circle cx="952.4" cy="1094.3" r="4.7"/><circle cx="954.6" cy="1094.3" r="4.7"/><circle cx="956.8" cy="1094.3" r="4.7"/><circle cx="959.0" cy="1094.3" r="4.7"/><circle cx="961.3" cy="1094.3" r="4.7"/><circle cx="963.5" cy="1094.3" r="4.7"/><circle cx="965.7" cy="1094.3" r="4.7"/><circle cx="967.9" cy="1094.3" r="4.7"/><circle cx="970.1" cy="1094.3" r="4.7"/><circle cx="972.3" cy="1094.3" r="4.7"/><circle cx="974.5" cy="1094.3" r="4.7"/><circle cx="976.7" cy="1094.3" r="4.7"/><circle cx="978.9" cy="1094.3" r="4.7"/><circle cx="981.2" cy="1094.3" r="4.7"/><circle cx="983.4" cy="1094.3" r="4.7"/><circle cx="985.6" cy="1094.3" r="4.7"/><circle cx="987.8" cy="1094.3" r="4.7"/><circle cx="990.0" cy="1094.3" r="4.7"/><circle cx="992.2" cy="1094.3" r="4.7"/><circle cx="994.4" cy="1094.3" r="4.7"/><circle cx="996.6" cy="1094.3" r="4.7"/><circle cx="998.8" cy="1094.3" r="4.7"/><circle cx="1001.0" cy="1094.3" r="4.7"/><circle cx="1003.3" cy="1094.3" r="4.7"/><circle cx="1005.5" cy="1094.3" r="4.7"/><circle cx="1007.7" cy="1094.3" r="4.7"/><circle cx="1009.9" cy="1094.3" r="4.7"/><circle cx="1012.1" cy="1094.3" r="4.7"/><circle cx="1014.3" cy="1094.3" r="4.7"/><circle cx="1016.5" cy="1094.3" r="4.7"/><circle cx="1018.7" cy="1094.3" r="4.7"/><circle cx="1020.9" cy="1094.3" r="4.7"/><circle cx="1023.2" cy="1094.3" r="4.7"/><circle cx="1025.4" cy="1094.3" r="4.7"/><circle cx="1027.6" cy="1094.3" r="4.7"/><circle cx="1029.8" cy="1094.3" r="4.7"/><circle cx="1032.0" cy="1094.3" r="4.7"/><circle cx="1034.2" cy="1094.3" r="4.7"/><circle cx="1036.4" cy="1094.3" r="4.7"/><circle cx="1038.6" cy="1094.3" r="4.7"/><circle cx="1040.8" cy="1094.3" r="4.7"/><circle cx="1043.0" cy="1094.3" r="4.7"/><circle cx="1045.3" cy="1094.3" r="4.7"/><circle cx="1047.5" cy="1094.3" r="4.7"/><circle cx="1049.7" cy="1094.3" r="4.7"/><circle cx="1051.9" cy="1094.3" r="4.7"/><circle cx="1054.1" cy="1094.3" r="4.7"/><circle cx="1056.3" cy="1094.3" r="4.7"/><circle cx="1058.5" cy="1094.3" r="4.7"/><circle cx="1060.7" cy="1094.3" r="4.7"/><circle cx="1062.9" cy="1094.3" r="4.7"/><circle cx="1065.2" cy="1094.3" r="4.7"/><circle cx="1067.4" cy="1094.3" r="4.7"/><circle cx="1069.6" cy="1094.3" r="4.7"/><circle cx="1071.8" cy="1094.3" r="4.7"/><circle cx="1074.0" cy="1094.3" r="4.7"/><circle cx="1076.2" cy="1094.3" r="4.7"/><circle cx="1078.4" cy="1094.3" r="4.7"/><circle cx="1080.6" cy="1094.3" r="4.7"/><circle cx="1082.8" cy="1094.3" r="4.7"/><circle cx="1085.0" cy="1094.3" r="4.7"/><circle cx="1087.3" cy="1094.3" r="4.7"/><circle cx="1089.5" cy="1094.3" r="4.7"/><circle cx="1091.7" cy="1094.3" r="4.7"/><circle cx="1093.9" cy="1094.3" r="4.7"/><circle cx="1096.1" cy="1094.3" r="4.7"/><circle cx="1098.3" cy="1094.3" r="4.7"/><circle cx="1100.5" cy="1094.3" r="4.7"/><circle cx="1102.7" cy="1094.3" r="4.7"/><circle cx="1104.9" cy="1094.3" r="4.7"/><circle cx="1107.2" cy="1094.3" r="4.7"/><circle cx="1109.4" cy="1094.3" r="4.7"/><circle cx="1111.6" cy="1094.3" r="4.7"/><circle cx="1113.8" cy="1094.3" r="4.7"/><circle cx="1116.0" cy="1094.3" r="4.7"/><circle cx="1118.2" cy="1094.4" r="4.7"/><circle cx="1120.4" cy="1094.4" r="4.7"/><circle cx="1122.6" cy="1094.4" r="4.7"/><circle cx="1124.8" cy="1094.4" r="4.7"/><circle cx="1127.0" cy="1094.4" r="4.7"/><circle cx="1129.3" cy="1094.4" r="4.7"/><circle cx="1131.5" cy="1094.4" r="4.7"/><circle cx="1133.7" cy="1094.4" r="4.7"/><circle cx="1135.9" cy="1094.4" r="4.7"/><circle cx="1138.1" cy="1094.4" r="4.7"/><circle cx="1140.3" cy="1094.4" r="4.7"/><circle cx="1142.5" cy="1094.4" r="4.7"/><circle cx="1144.7" cy="1094.4" r="4.7"/><circle cx="1146.9" cy="1094.4" r="4.7"/><circle cx="1149.2" cy="1094.4" r="4.7"/><circle cx="1151.4" cy="1094.4" r="4.7"/><circle cx="1153.6" cy="1094.4" r="4.7"/><circle cx="1155.8" cy="1094.4" r="4.7"/><circle cx="1158.0" cy="1094.4" r="4.7"/><circle cx="1160.2" cy="1094.4" r="4.7"/><circle cx="1162.4" cy="1094.4" r="4.7"/><circle cx="1164.6" cy="1094.4" r="4.7"/><circle cx="1166.8" cy="1094.4" r="4.7"/><circle cx="1169.0" cy="1094.4" r="4.7"/><circle cx="1171.3" cy="1094.4" r="4.7"/><circle cx="1173.5" cy="1094.4" r="4.7"/><circle cx="1175.7" cy="1094.4" r="4.7"/><circle cx="1177.9" cy="1094.4" r="4.7"/><circle cx="1180.1" cy="1094.4" r="4.7"/><circle cx="1182.3" cy="1094.4" r="4.7"/><circle cx="1184.5" cy="1094.4" r="4.7"/><circle cx="1186.7" cy="1094.4" r="4.7"/><circle cx="1188.9" cy="1094.4" r="4.7"/><circle cx="1191.2" cy="1094.4" r="4.7"/><circle cx="1193.4" cy="1094.4" r="4.7"/><circle cx="1195.6" cy="1094.4" r="4.7"/><circle cx="1197.8" cy="1094.4" r="4.7"/><circle cx="1200.0" cy="1094.4" r="4.7"/><circle cx="1202.2" cy="1094.4" r="4.7"/><circle cx="1204.4" cy="1094.4" r="4.7"/><circle cx="1206.6" cy="1094.4" r="4.7"/><circle cx="1208.8" cy="1094.4" r="4.7"/><circle cx="1211.0" cy="1094.4" r="4.7"/><circle cx="1213.3" cy="1094.4" r="4.7"/><circle cx="1215.5" cy="1094.4" r="4.7"/><circle cx="1217.7" cy="1094.4" r="4.7"/><circle cx="1219.9" cy="1094.4" r="4.7"/><circle cx="1222.1" cy="1094.4" r="4.7"/><circle cx="1224.3" cy="1094.4" r="4.7"/><circle cx="1226.5" cy="1094.4" r="4.7"/><circle cx="1228.7" cy="1094.4" r="4.7"/><circle cx="1230.9" cy="1094.4" r="4.7"/><circle cx="1233.2" cy="1094.4" r="4.7"/><circle cx="1235.4" cy="1094.4" r="4.7"/><circle cx="1237.6" cy="1094.4" r="4.7"/><circle cx="1239.8" cy="1094.4" r="4.7"/><circle cx="1242.0" cy="1094.4" r="4.7"/><circle cx="1244.2" cy="1094.4" r="4.7"/><circle cx="1246.4" cy="1094.4" r="4.7"/><circle cx="1248.6" cy="1094.4" r="4.7"/><circle cx="1250.8" cy="1094.4" r="4.7"/><circle cx="1253.0" cy="1094.4" r="4.7"/><circle cx="1255.3" cy="1094.4" r="4.7"/><circle cx="1257.5" cy="1094.4" r="4.7"/><circle cx="1259.7" cy="1094.4" r="4.7"/><circle cx="1261.9" cy="1094.4" r="4.7"/><circle cx="1264.1" cy="1094.4" r="4.7"/><circle cx="1266.3" cy="1094.4" r="4.7"/><circle cx="1268.5" cy="1094.4" r="4.7"/><circle cx="1270.7" cy="1094.4" r="4.7"/><circle cx="1272.9" cy="1094.4" r="4.7"/><circle cx="1275.1" cy="1094.4" r="4.7"/><circle cx="1277.4" cy="1094.4" r="4.7"/><circle cx="1279.6" cy="1094.4" r="4.7"/><circle cx="1281.8" cy="1094.4" r="4.7"/><circle cx="1284.0" cy="1094.4" r="4.7"/><circle cx="1286.2" cy="1094.4" r="4.7"/><circle cx="1288.4" cy="1094.4" r="4.7"/><circle cx="1290.6" cy="1094.4" r="4.7"/><circle cx="1292.8" cy="1094.4" r="4.7"/><circle cx="1295.0" cy="1094.4" r="4.7"/><circle cx="1297.3" cy="1094.4" r="4.7"/><circle cx="1299.5" cy="1094.4" r="4.7"/><circle cx="1301.7" cy="1094.4" r="4.7"/><circle cx="1303.9" cy="1094.4" r="4.7"/><circle cx="1306.1" cy="1094.4" r="4.7"/><circle cx="1308.3" cy="1094.4" r="4.7"/><circle cx="1310.5" cy="1094.4" r="4.7"/><circle cx="1312.7" cy="1094.4" r="4.7"/><circle cx="1314.9" cy="1094.4" r="4.7"/><circle cx="1317.1" cy="1094.4" r="4.7"/><circle cx="1319.4" cy="1094.4" r="4.7"/><circle cx="1321.6" cy="1094.4" r="4.7"/><circle cx="1323.8" cy="1094.4" r="4.7"/><circle cx="1326.0" cy="1094.4" r="4.7"/><circle cx="1328.2" cy="1094.4" r="4.7"/><circle cx="1330.4" cy="1094.4" r="4.7"/><circle cx="1332.6" cy="1094.4" r="4.7"/><circle cx="1334.8" cy="1094.4" r="4.7"/><circle cx="1337.0" cy="1094.4" r="4.7"/><circle cx="1339.3" cy="1094.4" r="4.7"/><circle cx="1341.5" cy="1094.4" r="4.7"/><circle cx="1343.7" cy="1094.4" r="4.7"/><circle cx="1345.9" cy="1094.4" r="4.7"/><circle cx="1348.1" cy="1094.4" r="4.7"/><circle cx="1350.3" cy="1094.4" r="4.7"/><circle cx="1352.5" cy="1094.4" r="4.7"/><circle cx="1354.7" cy="1094.4" r="4.7"/><circle cx="1356.9" cy="1094.4" r="4.7"/><circle cx="1359.1" cy="1094.4" r="4.7"/><circle cx="1361.4" cy="1094.4" r="4.7"/><circle cx="1363.6" cy="1094.4" r="4.7"/><circle cx="1365.8" cy="1094.4" r="4.7"/><circle cx="1368.0" cy="1094.4" r="4.7"/><circle cx="1370.2" cy="1094.4" r="4.7"/><circle cx="1372.4" cy="1094.4" r="4.7"/><circle cx="1374.6" cy="1094.4" r="4.7"/><circle cx="1376.8" cy="1094.4" r="4.7"/><circle cx="1379.0" cy="1094.4" r="4.7"/><circle cx="1381.3" cy="1094.4" r="4.7"/><circle cx="1383.5" cy="1094.4" r="4.7"/><circle cx="1385.7" cy="1094.4" r="4.7"/><circle cx="1387.9" cy="1094.4" r="4.7"/><circle cx="1390.1" cy="1094.4" r="4.7"/><circle cx="1392.3" cy="1094.4" r="4.7"/><circle cx="1394.5" cy="1094.4" r="4.7"/><circle cx="1396.7" cy="1094.4" r="4.7"/><circle cx="1398.9" cy="1094.4" r="4.7"/><circle cx="1401.1" cy="1094.4" r="4.7"/><circle cx="1403.4" cy="1094.4" r="4.7"/><circle cx="1405.6" cy="1094.4" r="4.7"/><circle cx="1407.8" cy="1094.4" r="4.7"/><circle cx="1410.0" cy="1094.4" r="4.7"/><circle cx="1412.2" cy="1094.4" r="4.7"/><circle cx="1414.4" cy="1094.4" r="4.7"/><circle cx="1416.6" cy="1094.4" r="4.7"/><circle cx="1418.8" cy="1094.4" r="4.7"/><circle cx="1421.0" cy="1094.4" r="4.7"/><circle cx="1423.3" cy="1094.4" r="4.7"/><circle cx="1425.5" cy="1094.4" r="4.7"/><circle cx="1427.7" cy="1094.4" r="4.7"/><circle cx="1429.9" cy="1094.4" r="4.7"/><circle cx="1432.1" cy="1094.4" r="4.7"/><circle cx="1434.3" cy="1094.5" r="4.7"/><circle cx="1436.5" cy="1094.5" r="4.7"/><circle cx="1438.7" cy="1094.5" r="4.7"/><circle cx="1440.9" cy="1094.5" r="4.7"/><circle cx="1443.1" cy="1094.5" r="4.7"/><circle cx="1445.4" cy="1094.5" r="4.7"/><circle cx="1447.6" cy="1094.5" r="4.7"/><circle cx="1449.8" cy="1094.5" r="4.7"/><circle cx="1452.0" cy="1094.5" r="4.7"/><circle cx="1454.2" cy="1094.5" r="4.7"/><circle cx="1456.4" cy="1094.5" r="4.7"/><circle cx="1458.6" cy="1094.5" r="4.7"/><circle cx="1460.8" cy="1094.5" r="4.7"/><circle cx="1463.0" cy="1094.5" r="4.7"/><circle cx="1465.3" cy="1094.5" r="4.7"/><circle cx="1467.5" cy="1094.5" r="4.7"/><circle cx="1469.7" cy="1094.5" r="4.7"/><circle cx="1471.9" cy="1094.5" r="4.7"/><circle cx="1474.1" cy="1094.5" r="4.7"/><circle cx="1476.3" cy="1094.5" r="4.7"/><circle cx="1478.5" cy="1094.5" r="4.7"/><circle cx="1480.7" cy="1094.5" r="4.7"/><circle cx="1482.9" cy="1094.5" r="4.7"/><circle cx="1485.1" cy="1094.5" r="4.7"/><circle cx="1487.4" cy="1094.5" r="4.7"/><circle cx="1489.6" cy="1094.5" r="4.7"/><circle cx="1491.8" cy="1094.5" r="4.7"/><circle cx="1494.0" cy="1094.5" r="4.7"/><circle cx="1496.2" cy="1094.5" r="4.7"/><circle cx="1498.4" cy="1094.5" r="4.7"/><circle cx="1500.6" cy="1094.5" r="4.7"/><circle cx="1502.8" cy="1094.5" r="4.7"/><circle cx="1505.0" cy="1094.5" r="4.7"/><circle cx="1507.3" cy="1094.5" r="4.7"/><circle cx="1509.5" cy="1094.5" r="4.7"/><circle cx="1511.7" cy="1094.5" r="4.7"/><circle cx="1513.9" cy="1094.5" r="4.7"/><circle cx="1516.1" cy="1094.5" r="4.7"/><circle cx="1518.3" cy="1094.5" r="4.7"/><circle cx="1520.5" cy="1094.5" r="4.7"/><circle cx="1522.7" cy="1094.5" r="4.7"/><circle cx="1524.9" cy="1094.5" r="4.7"/><circle cx="1527.1" cy="1094.5" r="4.7"/><circle cx="1529.4" cy="1094.5" r="4.7"/><circle cx="1531.6" cy="1094.5" r="4.7"/><circle cx="1533.8" cy="1094.5" r="4.7"/><circle cx="1536.0" cy="1094.5" r="4.7"/><circle cx="1538.2" cy="1094.5" r="4.7"/><circle cx="1540.4" cy="1094.5" r="4.7"/><circle cx="1542.6" cy="1094.5" r="4.7"/><circle cx="1544.8" cy="1094.5" r="4.7"/><circle cx="1547.0" cy="1094.5" r="4.7"/><circle cx="1549.3" cy="1094.5" r="4.7"/><circle cx="1551.5" cy="1094.5" r="4.7"/><circle cx="1553.7" cy="1094.5" r="4.7"/><circle cx="1555.9" cy="1094.5" r="4.7"/><circle cx="1558.1" cy="1094.5" r="4.7"/><circle cx="1560.3" cy="1094.5" r="4.7"/><circle cx="1562.5" cy="1094.5" r="4.7"/><circle cx="1564.7" cy="1094.5" r="4.7"/><circle cx="1566.9" cy="1094.5" r="4.7"/><circle cx="1569.1" cy="1094.5" r="4.7"/><circle cx="1571.4" cy="1094.5" r="4.7"/><circle cx="1573.6" cy="1094.5" r="4.7"/><circle cx="1575.8" cy="1094.5" r="4.7"/><circle cx="1578.0" cy="1094.5" r="4.7"/><circle cx="1580.2" cy="1094.5" r="4.7"/><circle cx="1582.4" cy="1094.5" r="4.7"/><circle cx="1584.6" cy="1094.5" r="4.7"/><circle cx="1586.8" cy="1094.5" r="4.7"/><circle cx="1589.0" cy="1094.5" r="4.7"/><circle cx="1591.3" cy="1094.5" r="4.7"/><circle cx="1593.5" cy="1094.5" r="4.7"/><circle cx="1595.7" cy="1094.5" r="4.7"/><circle cx="1597.9" cy="1094.5" r="4.7"/><circle cx="1600.1" cy="1094.5" r="4.7"/><circle cx="1602.3" cy="1094.5" r="4.7"/><circle cx="1604.5" cy="1094.5" r="4.7"/><circle cx="1606.7" cy="1094.5" r="4.7"/><circle cx="1608.9" cy="1094.5" r="4.7"/><circle cx="1611.1" cy="1094.5" r="4.7"/><circle cx="1613.4" cy="1094.5" r="4.7"/><circle cx="1615.6" cy="1094.5" r="4.7"/><circle cx="1617.8" cy="1094.5" r="4.7"/><circle cx="1620.0" cy="1094.5" r="4.7"/><circle cx="1622.2" cy="1094.5" r="4.7"/><circle cx="1624.4" cy="1094.5" r="4.7"/><circle cx="1626.6" cy="1094.5" r="4.7"/><circle cx="1628.8" cy="1094.5" r="4.7"/><circle cx="1631.0" cy="1094.5" r="4.7"/><circle cx="1633.3" cy="1094.5" r="4.7"/><circle cx="1635.5" cy="1094.5" r="4.7"/><circle cx="1637.7" cy="1094.5" r="4.7"/><circle cx="1639.9" cy="1094.5" r="4.7"/><circle cx="1642.1" cy="1094.5" r="4.7"/><circle cx="1644.3" cy="1094.5" r="4.7"/><circle cx="1646.5" cy="1094.5" r="4.7"/><circle cx="1648.7" cy="1094.5" r="4.7"/><circle cx="1650.9" cy="1094.5" r="4.7"/><circle cx="1653.1" cy="1094.5" r="4.7"/><circle cx="1655.4" cy="1094.5" r="4.7"/><circle cx="1657.6" cy="1094.5" r="4.7"/><circle cx="1659.8" cy="1094.5" r="4.7"/><circle cx="1662.0" cy="1094.5" r="4.7"/><circle cx="1664.2" cy="1094.5" r="4.7"/><circle cx="1666.4" cy="1094.5" r="4.7"/><circle cx="1668.6" cy="1094.5" r="4.7"/><circle cx="1670.8" cy="1094.5" r="4.7"/><circle cx="1673.0" cy="1094.5" r="4.7"/><circle cx="1675.3" cy="1094.5" r="4.7"/><circle cx="1677.5" cy="1094.5" r="4.7"/><circle cx="1679.7" cy="1094.5" r="4.7"/><circle cx="1681.9" cy="1094.5" r="4.7"/><circle cx="1684.1" cy="1094.5" r="4.7"/><circle cx="1686.3" cy="1094.5" r="4.7"/><circle cx="1688.5" cy="1094.5" r="4.7"/><circle cx="1690.7" cy="1094.5" r="4.7"/><circle cx="1692.9" cy="1094.5" r="4.7"/><circle cx="1695.1" cy="1094.5" r="4.7"/><circle cx="1697.4" cy="1094.5" r="4.7"/><circle cx="1699.6" cy="1094.5" r="4.7"/><circle cx="1701.8" cy="1094.5" r="4.7"/><circle cx="1704.0" cy="1094.5" r="4.7"/><circle cx="1706.2" cy="1094.5" r="4.7"/><circle cx="1708.4" cy="1094.5" r="4.7"/><circle cx="1710.6" cy="1094.5" r="4.7"/><circle cx="1712.8" cy="1094.5" r="4.7"/><circle cx="1715.0" cy="1094.5" r="4.7"/><circle cx="1717.2" cy="1094.5" r="4.7"/><circle cx="1719.5" cy="1094.5" r="4.7"/><circle cx="1721.7" cy="1094.5" r="4.7"/><circle cx="1723.9" cy="1094.5" r="4.7"/><circle cx="1726.1" cy="1094.5" r="4.7"/><circle cx="1728.3" cy="1094.5" r="4.7"/><circle cx="1730.5" cy="1094.5" r="4.7"/><circle cx="1732.7" cy="1094.5" r="4.7"/><circle cx="1734.9" cy="1094.5" r="4.7"/><circle cx="1737.1" cy="1094.5" r="4.7"/><circle cx="1739.4" cy="1094.5" r="4.7"/><circle cx="1741.6" cy="1094.5" r="4.7"/><circle cx="1743.8" cy="1094.5" r="4.7"/><circle cx="1746.0" cy="1094.5" r="4.7"/><circle cx="1748.2" cy="1094.6" r="4.7"/><circle cx="1750.4" cy="1094.6" r="4.7"/><circle cx="1752.6" cy="1094.6" r="4.7"/><circle cx="1754.8" cy="1094.6" r="4.7"/><circle cx="1757.0" cy="1094.6" r="4.7"/><circle cx="1759.2" cy="1094.6" r="4.7"/><circle cx="1761.5" cy="1094.6" r="4.7"/><circle cx="1763.7" cy="1094.6" r="4.7"/><circle cx="1765.9" cy="1094.6" r="4.7"/><circle cx="1768.1" cy="1094.6" r="4.7"/><circle cx="1770.3" cy="1094.6" r="4.7"/><circle cx="1772.5" cy="1094.6" r="4.7"/><circle cx="1774.7" cy="1094.6" r="4.7"/><circle cx="1776.9" cy="1094.6" r="4.7"/><circle cx="1779.1" cy="1094.6" r="4.7"/><circle cx="1781.4" cy="1094.6" r="4.7"/><circle cx="1783.6" cy="1094.6" r="4.7"/><circle cx="1785.8" cy="1094.6" r="4.7"/><circle cx="1788.0" cy="1094.6" r="4.7"/><circle cx="1790.2" cy="1094.6" r="4.7"/><circle cx="1792.4" cy="1094.6" r="4.7"/><circle cx="1794.6" cy="1094.6" r="4.7"/><circle cx="1796.8" cy="1094.6" r="4.7"/><circle cx="1799.0" cy="1094.6" r="4.7"/><circle cx="1801.2" cy="1094.6" r="4.7"/><circle cx="1803.5" cy="1094.6" r="4.7"/><circle cx="1805.7" cy="1094.6" r="4.7"/><circle cx="1807.9" cy="1094.6" r="4.7"/><circle cx="1810.1" cy="1094.6" r="4.7"/><circle cx="1812.3" cy="1094.6" r="4.7"/><circle cx="1814.5" cy="1094.6" r="4.7"/><circle cx="1816.7" cy="1094.6" r="4.7"/><circle cx="1818.9" cy="1094.6" r="4.7"/><circle cx="1821.1" cy="1094.6" r="4.7"/><circle cx="1823.4" cy="1094.6" r="4.7"/><circle cx="1825.6" cy="1094.6" r="4.7"/><circle cx="1827.8" cy="1094.6" r="4.7"/><circle cx="1830.0" cy="1094.6" r="4.7"/><circle cx="1832.2" cy="1094.6" r="4.7"/><circle cx="1834.4" cy="1094.6" r="4.7"/><circle cx="1836.6" cy="1094.6" r="4.7"/><circle cx="1838.8" cy="1094.6" r="4.7"/><circle cx="1841.0" cy="1094.6" r="4.7"/><circle cx="1843.2" cy="1094.6" r="4.7"/><circle cx="1845.5" cy="1094.6" r="4.7"/><circle cx="1847.7" cy="1094.6" r="4.7"/><circle cx="1849.9" cy="1094.6" r="4.7"/><circle cx="1852.1" cy="1094.6" r="4.7"/><circle cx="1854.3" cy="1094.6" r="4.7"/><circle cx="1856.5" cy="1094.6" r="4.7"/><circle cx="1858.7" cy="1094.6" r="4.7"/><circle cx="1860.9" cy="1094.6" r="4.7"/><circle cx="1863.1" cy="1094.6" r="4.7"/><circle cx="1865.4" cy="1094.6" r="4.7"/><circle cx="1867.6" cy="1094.6" r="4.7"/><circle cx="1869.8" cy="1094.6" r="4.7"/><circle cx="1872.0" cy="1094.6" r="4.7"/><circle cx="1874.2" cy="1094.6" r="4.7"/><circle cx="1876.4" cy="1094.6" r="4.7"/><circle cx="1878.6" cy="1094.6" r="4.7"/><circle cx="1880.8" cy="1094.6" r="4.7"/><circle cx="1883.0" cy="1094.6" r="4.7"/><circle cx="1885.2" cy="1094.6" r="4.7"/><circle cx="1887.5" cy="1094.6" r="4.7"/><circle cx="1889.7" cy="1094.6" r="4.7"/><circle cx="1891.9" cy="1094.6" r="4.7"/><circle cx="1894.1" cy="1094.6" r="4.7"/><circle cx="1896.3" cy="1094.6" r="4.7"/><circle cx="1898.5" cy="1094.6" r="4.7"/><circle cx="1900.7" cy="1094.6" r="4.7"/><circle cx="1902.9" cy="1094.6" r="4.7"/><circle cx="1905.1" cy="1094.6" r="4.7"/><circle cx="346.1" cy="1097.6" r="4.7"/><circle cx="406.0" cy="1097.6" r="4.7"/><circle cx="410.6" cy="1096.5" r="4.7"/><circle cx="603.0" cy="1087.3" r="4.7"/><circle cx="1615.2" cy="1068.8" r="4.7"/><circle cx="1600.0" cy="1083.0" r="4.7"/><circle cx="1595.0" cy="1102.4" r="4.7"/><circle cx="1593.3" cy="1094.4" r="4.7"/></g>
<rect x="128.2" y="1045.6" width="1776" height="538.8" fill="none" stroke="#000" stroke-width="2.8"/>
<line x1="128.2" y1="1584.4" x2="106.2" y2="1584.4" stroke="#000" stroke-width="2.8" stroke-linecap="butt"/>
<line x1="128.2" y1="1434.6" x2="106.2" y2="1434.6" stroke="#000" stroke-width="2.8" stroke-linecap="butt"/>
<line x1="128.2" y1="1284.8" x2="106.2" y2="1284.8" stroke="#000" stroke-width="2.8" stroke-linecap="butt"/>
<line x1="128.2" y1="1135" x2="106.2" y2="1135" stroke="#000" stroke-width="2.8" stroke-linecap="butt"/>
<line x1="128.2" y1="1509.5" x2="117.2" y2="1509.5" stroke="#000" stroke-width="2.8" stroke-linecap="butt"/>
<line x1="128.2" y1="1359.7" x2="117.2" y2="1359.7" stroke="#000" stroke-width="2.8" stroke-linecap="butt"/>
<line x1="128.2" y1="1209.9" x2="117.2" y2="1209.9" stroke="#000" stroke-width="2.8" stroke-linecap="butt"/>
<line x1="128.2" y1="1060.1" x2="117.2" y2="1060.1" stroke="#000" stroke-width="2.8" stroke-linecap="butt"/>
<line x1="1904.2" y1="1483.8" x2="1882.2" y2="1483.8" stroke="#000" stroke-width="2.8" stroke-linecap="butt"/>
<line x1="1904.2" y1="1289.1" x2="1882.2" y2="1289.1" stroke="#000" stroke-width="2.8" stroke-linecap="butt"/>
<line x1="1904.2" y1="1094.4" x2="1882.2" y2="1094.4" stroke="#000" stroke-width="2.8" stroke-linecap="butt"/>
<line x1="1904.2" y1="1581.15" x2="1893.2" y2="1581.15" stroke="#000" stroke-width="2.8" stroke-linecap="butt"/>
<line x1="1904.2" y1="1386.45" x2="1893.2" y2="1386.45" stroke="#000" stroke-width="2.8" stroke-linecap="butt"/>
<line x1="1904.2" y1="1191.75" x2="1893.2" y2="1191.75" stroke="#000" stroke-width="2.8" stroke-linecap="butt"/>
<line x1="127.9" y1="1584.4" x2="127.9" y2="1606.4" stroke="#000" stroke-width="2.8" stroke-linecap="butt"/>
<line x1="570" y1="1584.4" x2="570" y2="1606.4" stroke="#000" stroke-width="2.8" stroke-linecap="butt"/>
<line x1="1012.1" y1="1584.4" x2="1012.1" y2="1606.4" stroke="#000" stroke-width="2.8" stroke-linecap="butt"/>
<line x1="1454.2" y1="1584.4" x2="1454.2" y2="1606.4" stroke="#000" stroke-width="2.8" stroke-linecap="butt"/>
<line x1="1896.3" y1="1584.4" x2="1896.3" y2="1606.4" stroke="#000" stroke-width="2.8" stroke-linecap="butt"/>
<line x1="348.95" y1="1584.4" x2="348.95" y2="1595.4" stroke="#000" stroke-width="2.8" stroke-linecap="butt"/>
<line x1="791.05" y1="1584.4" x2="791.05" y2="1595.4" stroke="#000" stroke-width="2.8" stroke-linecap="butt"/>
<line x1="1233.15" y1="1584.4" x2="1233.15" y2="1595.4" stroke="#000" stroke-width="2.8" stroke-linecap="butt"/>
<line x1="1675.25" y1="1584.4" x2="1675.25" y2="1595.4" stroke="#000" stroke-width="2.8" stroke-linecap="butt"/>
<line x1="127.9" y1="1045.6" x2="127.9" y2="1067.6" stroke="#000" stroke-width="2.8" stroke-linecap="butt"/>
<line x1="313.3" y1="1045.6" x2="313.3" y2="1067.6" stroke="#000" stroke-width="2.8" stroke-linecap="butt"/>
<line x1="498.7" y1="1045.6" x2="498.7" y2="1067.6" stroke="#000" stroke-width="2.8" stroke-linecap="butt"/>
<line x1="684.1" y1="1045.6" x2="684.1" y2="1067.6" stroke="#000" stroke-width="2.8" stroke-linecap="butt"/>
<line x1="869.5" y1="1045.6" x2="869.5" y2="1067.6" stroke="#000" stroke-width="2.8" stroke-linecap="butt"/>
<line x1="1054.9" y1="1045.6" x2="1054.9" y2="1067.6" stroke="#000" stroke-width="2.8" stroke-linecap="butt"/>
<line x1="1240.3" y1="1045.6" x2="1240.3" y2="1067.6" stroke="#000" stroke-width="2.8" stroke-linecap="butt"/>
<line x1="1425.7" y1="1045.6" x2="1425.7" y2="1067.6" stroke="#000" stroke-width="2.8" stroke-linecap="butt"/>
<line x1="1611.1" y1="1045.6" x2="1611.1" y2="1067.6" stroke="#000" stroke-width="2.8" stroke-linecap="butt"/>
<line x1="1796.5" y1="1045.6" x2="1796.5" y2="1067.6" stroke="#000" stroke-width="2.8" stroke-linecap="butt"/>
<line x1="220.6" y1="1045.6" x2="220.6" y2="1056.6" stroke="#000" stroke-width="2.8" stroke-linecap="butt"/>
<line x1="406" y1="1045.6" x2="406" y2="1056.6" stroke="#000" stroke-width="2.8" stroke-linecap="butt"/>
<line x1="591.4" y1="1045.6" x2="591.4" y2="1056.6" stroke="#000" stroke-width="2.8" stroke-linecap="butt"/>
<line x1="776.8" y1="1045.6" x2="776.8" y2="1056.6" stroke="#000" stroke-width="2.8" stroke-linecap="butt"/>
<line x1="962.2" y1="1045.6" x2="962.2" y2="1056.6" stroke="#000" stroke-width="2.8" stroke-linecap="butt"/>
<line x1="1147.6" y1="1045.6" x2="1147.6" y2="1056.6" stroke="#000" stroke-width="2.8" stroke-linecap="butt"/>
<line x1="1333" y1="1045.6" x2="1333" y2="1056.6" stroke="#000" stroke-width="2.8" stroke-linecap="butt"/>
<line x1="1518.4" y1="1045.6" x2="1518.4" y2="1056.6" stroke="#000" stroke-width="2.8" stroke-linecap="butt"/>
<line x1="1703.8" y1="1045.6" x2="1703.8" y2="1056.6" stroke="#000" stroke-width="2.8" stroke-linecap="butt"/>
<line x1="1889.2" y1="1045.6" x2="1889.2" y2="1056.6" stroke="#000" stroke-width="2.8" stroke-linecap="butt"/>
<text transform="translate(102.4,1596.9) scale(0.97,1)" font-size="40.5" text-anchor="end">0</text>
<text transform="translate(102.4,1447.1) scale(0.97,1)" font-size="40.5" text-anchor="end">10</text>
<text transform="translate(102.4,1297.3) scale(0.97,1)" font-size="40.5" text-anchor="end">20</text>
<text transform="translate(102.4,1147.5) scale(0.97,1)" font-size="40.5" text-anchor="end">30</text>
<text transform="translate(1914.9,1496.4) scale(0.97,1)" font-size="40.5">60</text>
<text transform="translate(1914.9,1301.7) scale(0.97,1)" font-size="40.5">80</text>
<text transform="translate(1914.9,1107) scale(0.97,1)" font-size="40.5">100</text>
<text transform="translate(127.9,1641.5) scale(0.97,1)" font-size="40.5" text-anchor="middle">0</text>
<text transform="translate(570,1641.5) scale(0.97,1)" font-size="40.5" text-anchor="middle">200</text>
<text transform="translate(1012.1,1641.5) scale(0.97,1)" font-size="40.5" text-anchor="middle">400</text>
<text transform="translate(1454.2,1641.5) scale(0.97,1)" font-size="40.5" text-anchor="middle">600</text>
<text transform="translate(1896.3,1641.5) scale(0.97,1)" font-size="40.5" text-anchor="middle">800</text>
<text transform="translate(127.9,1036.9) scale(0.97,1)" font-size="40.5" text-anchor="middle">0</text>
<text transform="translate(313.3,1036.9) scale(0.97,1)" font-size="40.5" text-anchor="middle">2</text>
<text transform="translate(498.7,1036.9) scale(0.97,1)" font-size="40.5" text-anchor="middle">4</text>
<text transform="translate(684.1,1036.9) scale(0.97,1)" font-size="40.5" text-anchor="middle">6</text>
<text transform="translate(869.5,1036.9) scale(0.97,1)" font-size="40.5" text-anchor="middle">8</text>
<text transform="translate(1054.9,1036.9) scale(0.97,1)" font-size="40.5" text-anchor="middle">10</text>
<text transform="translate(1240.3,1036.9) scale(0.97,1)" font-size="40.5" text-anchor="middle">12</text>
<text transform="translate(1425.7,1036.9) scale(0.97,1)" font-size="40.5" text-anchor="middle">14</text>
<text transform="translate(1611.1,1036.9) scale(0.97,1)" font-size="40.5" text-anchor="middle">16</text>
<text transform="translate(1796.5,1036.9) scale(0.97,1)" font-size="40.5" text-anchor="middle">18</text>
<text transform="translate(36.4,1302.7) rotate(-90) scale(0.96,1)" font-size="37" text-anchor="middle">Capacity (Ah L<tspan font-size="23.68" dy="-11.1">-1</tspan><tspan dy="11.1">)</tspan></text>
<text transform="translate(1993,1291.4) rotate(-90) scale(0.96,1)" font-size="37" text-anchor="middle">Efficiency (%)</text>
<text transform="translate(1028.9,984.5) scale(0.96,1)" font-size="37" text-anchor="middle">Time (day)</text>
<text transform="translate(1021.3,1678) scale(0.96,1)" font-size="37" text-anchor="middle">Cycle number (n)</text>
<text transform="translate(845.5,1205.6) scale(0.96,1)" font-size="33" font-weight="bold">Galvanostatic test (0.0130%/day)</text>
<path d="M136.5,1172.4L147.8,1160.7L147.8,1183.9Z" fill="#be1e3c"/>
<path d="M147.3,1172.4L192.6,1172.4A15.5,15.5 0 0 1 208.1,1187.9L208.1,1205.6" fill="none" stroke="#be1e3c" stroke-width="11.6"/>
<circle cx="1437.3" cy="1348" r="4.7" fill="#fff" stroke="#1f6fba" stroke-width="6.2"/>
<text transform="translate(1480.5,1360.2) scale(0.98,1)" font-size="32.5">Coulombic efficiency</text>
<circle cx="1437.3" cy="1394.6" r="4.7" fill="#fff" stroke="#f0d764" stroke-width="6.2"/>
<text transform="translate(1480.5,1406.3) scale(0.98,1)" font-size="32.5">Energy efficiency</text>
<circle cx="1437.3" cy="1442.5" r="4.7" fill="#fff" stroke="#c1163a" stroke-width="6.2"/>
<text transform="translate(1480.5,1457) scale(0.98,1)" font-size="32.5">Discharge capacity</text>
<text transform="translate(1563.5,1564) scale(0.97,1)" font-size="33">Cys-AE||K<tspan font-size="21.45" dy="7.42">4</tspan><tspan dy="-7.42">Fe(CN)</tspan><tspan font-size="21.45" dy="7.42">6</tspan></text>
<line x1="322" y1="1318.9" x2="322" y2="1503.4" stroke="#000" stroke-width="2.8" stroke-linecap="butt"/>
<line x1="320.6" y1="1502" x2="829.3" y2="1502" stroke="#000" stroke-width="2.8" stroke-linecap="butt"/>
<line x1="322" y1="1501.5" x2="313.2" y2="1501.5" stroke="#000" stroke-width="2.8" stroke-linecap="butt"/>
<line x1="322" y1="1433.1" x2="313.2" y2="1433.1" stroke="#000" stroke-width="2.8" stroke-linecap="butt"/>
<line x1="322" y1="1364.7" x2="313.2" y2="1364.7" stroke="#000" stroke-width="2.8" stroke-linecap="butt"/>
<line x1="322" y1="1467.3" x2="317" y2="1467.3" stroke="#000" stroke-width="2.8" stroke-linecap="butt"/>
<line x1="322" y1="1398.9" x2="317" y2="1398.9" stroke="#000" stroke-width="2.8" stroke-linecap="butt"/>
<line x1="322" y1="1330.5" x2="317" y2="1330.5" stroke="#000" stroke-width="2.8" stroke-linecap="butt"/>
<line x1="321.7" y1="1502" x2="321.7" y2="1509.6" stroke="#000" stroke-width="2.8" stroke-linecap="butt"/>
<line x1="490.9" y1="1502" x2="490.9" y2="1509.6" stroke="#000" stroke-width="2.8" stroke-linecap="butt"/>
<line x1="660.1" y1="1502" x2="660.1" y2="1509.6" stroke="#000" stroke-width="2.8" stroke-linecap="butt"/>
<line x1="829.3" y1="1502" x2="829.3" y2="1509.6" stroke="#000" stroke-width="2.8" stroke-linecap="butt"/>
<line x1="406.3" y1="1502" x2="406.3" y2="1506.5" stroke="#000" stroke-width="2.8" stroke-linecap="butt"/>
<line x1="575.5" y1="1502" x2="575.5" y2="1506.5" stroke="#000" stroke-width="2.8" stroke-linecap="butt"/>
<line x1="744.7" y1="1502" x2="744.7" y2="1506.5" stroke="#000" stroke-width="2.8" stroke-linecap="butt"/>
<text transform="translate(309.4,1511.4) scale(0.95,1)" font-size="32.6" text-anchor="end">0.3</text>
<text transform="translate(309.4,1443) scale(0.95,1)" font-size="32.6" text-anchor="end">0.6</text>
<text transform="translate(309.4,1374.6) scale(0.95,1)" font-size="32.6" text-anchor="end">0.9</text>
<text transform="translate(321.7,1539.4) scale(0.95,1)" font-size="32.6" text-anchor="middle">0</text>
<text transform="translate(490.9,1539.4) scale(0.95,1)" font-size="32.6" text-anchor="middle">10</text>
<text transform="translate(660.1,1539.4) scale(0.95,1)" font-size="32.6" text-anchor="middle">20</text>
<text transform="translate(829.3,1539.4) scale(0.95,1)" font-size="32.6" text-anchor="middle">30</text>
<text transform="translate(250.4,1415) rotate(-90) scale(0.96,1)" font-size="30" text-anchor="middle">Voltage (V)</text>
<text transform="translate(458.5,1563.3) scale(0.96,1)" font-size="27.7">Capacity (Ah L<tspan font-size="17.73" dy="-8.31">-1</tspan><tspan dy="8.31">)</tspan></text>
<polyline points="322.4,1321.5 322.42,1322.7 322.42,1324.39 322.41,1326.41 322.43,1328.6 322.46,1330.81 322.55,1332.89 322.69,1334.67 322.9,1336 322.97,1336.86 322.79,1337.39 322.53,1337.68 322.39,1337.8 322.53,1337.85 323.14,1337.91 324.41,1338.06 326.5,1338.4 329.49,1338.89 333.24,1339.45 337.6,1340.06 342.45,1340.7 347.65,1341.36 353.06,1342.02 358.56,1342.68 364,1343.3 369.53,1343.91 375.33,1344.54 381.35,1345.16 387.52,1345.78 393.77,1346.39 400.04,1346.99 406.28,1347.56 412.4,1348.1 418.45,1348.61 424.5,1349.08 430.55,1349.53 436.6,1349.97 442.65,1350.4 448.7,1350.82 454.75,1351.25 460.8,1351.7 466.85,1352.15 472.9,1352.59 478.95,1353.03 485,1353.48 491.05,1353.93 497.1,1354.4 503.15,1354.88 509.2,1355.4 515.25,1355.94 521.3,1356.49 527.35,1357.06 533.41,1357.65 539.46,1358.26 545.51,1358.88 551.55,1359.53 557.6,1360.2 563.64,1360.87 569.68,1361.52 575.72,1362.19 581.75,1362.88 587.78,1363.61 593.82,1364.41 599.86,1365.3 605.9,1366.3 612.03,1367.43 618.27,1368.7 624.56,1370.05 630.83,1371.48 637.01,1372.92 643.02,1374.37 648.81,1375.77 654.3,1377.1 659.58,1378.37 664.74,1379.63 669.75,1380.87 674.57,1382.09 679.14,1383.3 683.42,1384.49 687.38,1385.65 690.96,1386.8 694.11,1387.9 696.84,1388.95 699.22,1389.97 701.32,1390.97 703.22,1391.99 704.98,1393.03 706.68,1394.13 708.37,1395.3 710.02,1396.52 711.52,1397.77 712.9,1399.05 714.18,1400.38 715.35,1401.74 716.46,1403.17 717.5,1404.65 718.5,1406.2 719.44,1407.84 720.31,1409.57 721.1,1411.37 721.82,1413.23 722.47,1415.1 723.07,1416.99 723.61,1418.86 724.11,1420.7 724.52,1422.47 724.85,1424.18 725.11,1425.87 725.32,1427.57 725.5,1429.32 725.66,1431.15 725.82,1433.1 726.01,1435.2 726.22,1437.62 726.43,1440.4 726.63,1443.38 726.82,1446.41 727,1449.32 727.16,1451.96 727.3,1454.17 727.4,1455.8" fill="none" stroke="#bf1236" stroke-width="2.7" stroke-linejoin="round" stroke-linecap="round"/>
<polyline points="322.1,1321.8 322.12,1323 322.12,1324.69 322.11,1326.71 322.13,1328.9 322.16,1331.11 322.25,1333.19 322.39,1334.97 322.6,1336.3 322.67,1337.16 322.49,1337.69 322.23,1337.98 322.09,1338.1 322.23,1338.15 322.84,1338.21 324.11,1338.36 326.2,1338.7 329.19,1339.19 332.94,1339.75 337.3,1340.36 342.15,1341 347.35,1341.66 352.76,1342.32 358.26,1342.98 363.7,1343.6 369.23,1344.21 375.03,1344.84 381.05,1345.46 387.22,1346.08 393.47,1346.69 399.74,1347.29 405.98,1347.86 412.1,1348.4 418.15,1348.91 424.2,1349.38 430.25,1349.83 436.3,1350.27 442.35,1350.7 448.4,1351.12 454.45,1351.55 460.5,1352 466.55,1352.45 472.6,1352.89 478.65,1353.33 484.7,1353.78 490.75,1354.23 496.8,1354.7 502.85,1355.18 508.9,1355.7 514.95,1356.24 521,1356.79 527.05,1357.36 533.11,1357.95 539.16,1358.56 545.21,1359.18 551.25,1359.83 557.3,1360.5 563.34,1361.17 569.38,1361.82 575.42,1362.49 581.45,1363.18 587.48,1363.91 593.52,1364.71 599.56,1365.6 605.6,1366.6 611.73,1367.73 617.97,1369 624.27,1370.35 630.54,1371.78 636.72,1373.22 642.74,1374.67 648.52,1376.07 654,1377.4 659.26,1378.67 664.4,1379.93 669.38,1381.17 674.17,1382.39 678.71,1383.6 682.96,1384.79 686.88,1385.95 690.43,1387.1 693.54,1388.2 696.24,1389.25 698.59,1390.27 700.66,1391.28 702.53,1392.29 704.26,1393.33 705.91,1394.43 707.57,1395.6 709.18,1396.82 710.65,1398.07 711.99,1399.35 713.22,1400.67 714.35,1402.04 715.41,1403.47 716.41,1404.95 717.36,1406.5 718.25,1408.14 719.06,1409.87 719.79,1411.67 720.45,1413.53 721.05,1415.4 721.59,1417.29 722.07,1419.16 722.51,1421 722.87,1422.77 723.14,1424.48 723.34,1426.17 723.5,1427.87 723.61,1429.62 723.72,1431.45 723.82,1433.4 723.96,1435.5 724.11,1437.92 724.25,1440.7 724.39,1443.68 724.52,1446.71 724.64,1449.62 724.74,1452.26 724.83,1454.47 724.9,1456.1" fill="none" stroke="#f08536" stroke-width="2.7" stroke-linejoin="round" stroke-linecap="round"/>
<polyline points="321.8,1322.1 321.82,1323.3 321.82,1324.99 321.81,1327.01 321.83,1329.2 321.86,1331.41 321.95,1333.49 322.09,1335.27 322.3,1336.6 322.37,1337.46 322.19,1337.99 321.93,1338.28 321.79,1338.4 321.93,1338.45 322.54,1338.51 323.81,1338.66 325.9,1339 328.89,1339.49 332.64,1340.05 337,1340.66 341.85,1341.3 347.05,1341.96 352.46,1342.62 357.96,1343.28 363.4,1343.9 368.93,1344.51 374.73,1345.14 380.75,1345.76 386.92,1346.38 393.17,1346.99 399.44,1347.59 405.68,1348.16 411.8,1348.7 417.85,1349.21 423.9,1349.68 429.95,1350.13 436,1350.57 442.05,1351 448.1,1351.42 454.15,1351.85 460.2,1352.3 466.25,1352.75 472.3,1353.19 478.35,1353.63 484.4,1354.08 490.45,1354.53 496.5,1355 502.55,1355.48 508.6,1356 514.65,1356.54 520.7,1357.09 526.75,1357.66 532.81,1358.25 538.86,1358.86 544.91,1359.48 550.95,1360.13 557,1360.8 563.04,1361.47 569.08,1362.12 575.12,1362.79 581.15,1363.47 587.18,1364.21 593.22,1365.01 599.26,1365.9 605.3,1366.9 611.43,1368.03 617.68,1369.3 623.97,1370.65 630.25,1372.08 636.43,1373.52 642.45,1374.97 648.23,1376.37 653.7,1377.7 658.95,1378.97 664.08,1380.23 669.05,1381.47 673.81,1382.69 678.33,1383.9 682.57,1385.09 686.47,1386.25 690,1387.4 693.1,1388.5 695.78,1389.55 698.11,1390.57 700.17,1391.58 702.02,1392.59 703.72,1393.63 705.36,1394.73 707,1395.9 708.59,1397.12 710.03,1398.37 711.35,1399.65 712.56,1400.98 713.67,1402.34 714.7,1403.77 715.68,1405.25 716.6,1406.8 717.46,1408.44 718.24,1410.17 718.94,1411.97 719.58,1413.83 720.14,1415.7 720.65,1417.59 721.1,1419.46 721.5,1421.3 721.83,1423.07 722.07,1424.78 722.24,1426.47 722.36,1428.17 722.45,1429.92 722.52,1431.75 722.6,1433.7 722.7,1435.8 722.82,1438.22 722.93,1441 723.03,1443.98 723.13,1447.01 723.21,1449.92 723.29,1452.56 723.35,1454.77 723.4,1456.4" fill="none" stroke="#1f6fba" stroke-width="2.7" stroke-linejoin="round" stroke-linecap="round"/>
<polyline points="321.3,1323.1 321.32,1324.3 321.32,1325.99 321.31,1328.01 321.33,1330.2 321.36,1332.41 321.45,1334.49 321.59,1336.27 321.8,1337.6 321.87,1338.46 321.69,1338.99 321.43,1339.28 321.29,1339.4 321.43,1339.45 322.04,1339.51 323.31,1339.66 325.4,1340 328.39,1340.49 332.14,1341.05 336.5,1341.66 341.35,1342.3 346.55,1342.96 351.96,1343.62 357.46,1344.28 362.9,1344.9 368.43,1345.51 374.23,1346.14 380.25,1346.76 386.42,1347.38 392.67,1347.99 398.94,1348.59 405.18,1349.16 411.3,1349.7 417.35,1350.21 423.4,1350.68 429.45,1351.13 435.5,1351.57 441.55,1352 447.6,1352.42 453.65,1352.85 459.7,1353.3 465.75,1353.75 471.8,1354.19 477.85,1354.63 483.9,1355.08 489.95,1355.53 496,1356 502.05,1356.48 508.1,1357 514.15,1357.54 520.2,1358.09 526.25,1358.66 532.31,1359.25 538.36,1359.86 544.41,1360.48 550.45,1361.13 556.5,1361.8 562.54,1362.47 568.58,1363.12 574.62,1363.79 580.65,1364.47 586.68,1365.21 592.72,1366.01 598.76,1366.9 604.8,1367.9 610.93,1369.03 617.18,1370.3 623.48,1371.65 629.76,1373.08 635.94,1374.52 641.96,1375.97 647.73,1377.37 653.2,1378.7 658.44,1379.97 663.55,1381.23 668.51,1382.47 673.25,1383.69 677.75,1384.9 681.97,1386.09 685.85,1387.25 689.36,1388.4 692.44,1389.5 695.11,1390.55 697.42,1391.57 699.46,1392.58 701.28,1393.59 702.97,1394.63 704.59,1395.73 706.2,1396.9 707.77,1398.12 709.19,1399.37 710.48,1400.65 711.67,1401.98 712.75,1403.34 713.76,1404.77 714.71,1406.25 715.6,1407.8 716.43,1409.44 717.18,1411.17 717.85,1412.97 718.45,1414.83 718.98,1416.7 719.45,1418.59 719.86,1420.46 720.23,1422.3 720.53,1424.07 720.74,1425.78 720.87,1427.47 720.96,1429.17 721.01,1430.92 721.05,1432.75 721.1,1434.7 721.16,1436.8 721.24,1439.22 721.32,1442 721.38,1444.98 721.44,1448.01 721.49,1450.92 721.53,1453.56 721.57,1455.77 721.6,1457.4" fill="none" stroke="#8d78b4" stroke-width="2.7" stroke-linejoin="round" stroke-linecap="round"/>
<line x1="361.5" y1="1384.5" x2="419" y2="1384.5" stroke="#bf1236" stroke-width="2.9" stroke-linecap="round"/>
<text transform="translate(431.3,1393.8) scale(0.98,1)" font-size="28">100th</text>
<line x1="361.5" y1="1414.9" x2="419" y2="1414.9" stroke="#f08536" stroke-width="2.9" stroke-linecap="round"/>
<text transform="translate(431.3,1424.2) scale(0.98,1)" font-size="28">300th</text>
<line x1="361.5" y1="1445.3" x2="419" y2="1445.3" stroke="#1f6fba" stroke-width="2.9" stroke-linecap="round"/>
<text transform="translate(431.3,1454.6) scale(0.98,1)" font-size="28">500th</text>
<line x1="361.5" y1="1475.7" x2="419" y2="1475.7" stroke="#8d78b4" stroke-width="2.9" stroke-linecap="round"/>
<text transform="translate(431.3,1485) scale(0.98,1)" font-size="28">800th</text>
<clipPath id="hclip"><rect x="128.2" y="1796.7" width="1775.0" height="539.4999999999998"/></clipPath>
<g fill="#fff" stroke="#f0d764" stroke-width="2.2" clip-path="url(#hclip)"><circle cx="130.9" cy="2047.6" r="4.7"/><circle cx="133.9" cy="2047.3" r="4.7"/><circle cx="136.9" cy="2047.1" r="4.7"/><circle cx="139.9" cy="2046.9" r="4.7"/><circle cx="142.9" cy="2046.6" r="4.7"/><circle cx="145.9" cy="2046.4" r="4.7"/><circle cx="148.9" cy="2046.1" r="4.7"/><circle cx="151.9" cy="2045.9" r="4.7"/><circle cx="154.9" cy="2045.7" r="4.7"/><circle cx="157.9" cy="2045.4" r="4.7"/><circle cx="160.9" cy="2045.2" r="4.7"/><circle cx="163.9" cy="2045.0" r="4.7"/><circle cx="166.9" cy="2044.7" r="4.7"/><circle cx="169.9" cy="2044.5" r="4.7"/><circle cx="172.9" cy="2044.2" r="4.7"/><circle cx="175.9" cy="2044.0" r="4.7"/><circle cx="178.8" cy="2043.8" r="4.7"/><circle cx="181.8" cy="2043.7" r="4.7"/><circle cx="184.8" cy="2043.6" r="4.7"/><circle cx="187.8" cy="2043.6" r="4.7"/><circle cx="190.8" cy="2043.5" r="4.7"/><circle cx="193.8" cy="2043.5" r="4.7"/><circle cx="196.8" cy="2043.4" r="4.7"/><circle cx="199.8" cy="2043.3" r="4.7"/><circle cx="202.8" cy="2043.3" r="4.7"/><circle cx="205.8" cy="2043.2" r="4.7"/><circle cx="208.8" cy="2043.2" r="4.7"/><circle cx="211.8" cy="2043.1" r="4.7"/><circle cx="214.8" cy="2043.2" r="4.7"/><circle cx="217.8" cy="2043.4" r="4.7"/><circle cx="220.8" cy="2043.6" r="4.7"/><circle cx="223.8" cy="2043.8" r="4.7"/><circle cx="226.8" cy="2044.0" r="4.7"/><circle cx="229.8" cy="2044.2" r="4.7"/><circle cx="232.8" cy="2044.4" r="4.7"/><circle cx="235.8" cy="2044.6" r="4.7"/><circle cx="238.8" cy="2044.8" r="4.7"/><circle cx="241.8" cy="2045.0" r="4.7"/><circle cx="244.8" cy="2045.2" r="4.7"/><circle cx="247.8" cy="2045.7" r="4.7"/><circle cx="250.8" cy="2046.2" r="4.7"/><circle cx="253.8" cy="2046.7" r="4.7"/><circle cx="256.8" cy="2047.1" r="4.7"/><circle cx="259.8" cy="2047.6" r="4.7"/><circle cx="262.8" cy="2048.1" r="4.7"/><circle cx="265.8" cy="2048.5" r="4.7"/><circle cx="268.8" cy="2049.0" r="4.7"/><circle cx="271.8" cy="2049.5" r="4.7"/><circle cx="274.8" cy="2050.0" r="4.7"/><circle cx="277.8" cy="2050.4" r="4.7"/><circle cx="280.7" cy="2050.9" r="4.7"/><circle cx="283.7" cy="2051.4" r="4.7"/><circle cx="286.7" cy="2051.9" r="4.7"/><circle cx="289.7" cy="2052.3" r="4.7"/><circle cx="292.7" cy="2052.8" r="4.7"/><circle cx="295.7" cy="2052.8" r="4.7"/><circle cx="298.7" cy="2052.4" r="4.7"/><circle cx="301.7" cy="2052.0" r="4.7"/><circle cx="304.7" cy="2051.7" r="4.7"/><circle cx="307.7" cy="2051.3" r="4.7"/><circle cx="310.7" cy="2050.9" r="4.7"/><circle cx="313.7" cy="2050.6" r="4.7"/><circle cx="316.7" cy="2050.2" r="4.7"/><circle cx="319.7" cy="2049.8" r="4.7"/><circle cx="322.7" cy="2049.5" r="4.7"/><circle cx="325.7" cy="2049.1" r="4.7"/><circle cx="328.7" cy="2048.7" r="4.7"/><circle cx="331.7" cy="2048.3" r="4.7"/><circle cx="334.7" cy="2048.0" r="4.7"/><circle cx="337.7" cy="2047.6" r="4.7"/><circle cx="340.7" cy="2047.2" r="4.7"/><circle cx="343.7" cy="2046.9" r="4.7"/><circle cx="346.7" cy="2046.5" r="4.7"/><circle cx="349.7" cy="2046.4" r="4.7"/><circle cx="352.7" cy="2046.7" r="4.7"/><circle cx="355.7" cy="2046.9" r="4.7"/><circle cx="358.7" cy="2047.2" r="4.7"/><circle cx="361.7" cy="2047.4" r="4.7"/><circle cx="364.7" cy="2047.7" r="4.7"/><circle cx="367.7" cy="2047.9" r="4.7"/><circle cx="370.7" cy="2048.2" r="4.7"/><circle cx="373.7" cy="2048.5" r="4.7"/><circle cx="376.7" cy="2048.7" r="4.7"/><circle cx="379.6" cy="2049.0" r="4.7"/><circle cx="382.6" cy="2049.2" r="4.7"/><circle cx="385.6" cy="2049.5" r="4.7"/><circle cx="388.6" cy="2049.9" r="4.7"/><circle cx="391.6" cy="2050.6" r="4.7"/><circle cx="394.6" cy="2051.2" r="4.7"/><circle cx="397.6" cy="2051.9" r="4.7"/><circle cx="400.6" cy="2052.5" r="4.7"/><circle cx="403.6" cy="2053.2" r="4.7"/><circle cx="406.6" cy="2053.9" r="4.7"/><circle cx="409.6" cy="2054.5" r="4.7"/><circle cx="412.6" cy="2055.2" r="4.7"/><circle cx="415.6" cy="2055.8" r="4.7"/><circle cx="418.6" cy="2056.5" r="4.7"/><circle cx="421.6" cy="2057.1" r="4.7"/><circle cx="424.6" cy="2057.8" r="4.7"/><circle cx="427.6" cy="2058.5" r="4.7"/><circle cx="430.6" cy="2057.8" r="4.7"/><circle cx="433.6" cy="2056.5" r="4.7"/><circle cx="436.6" cy="2055.1" r="4.7"/><circle cx="439.6" cy="2053.9" r="4.7"/><circle cx="442.6" cy="2053.7" r="4.7"/><circle cx="445.6" cy="2053.4" r="4.7"/><circle cx="448.6" cy="2053.1" r="4.7"/><circle cx="451.6" cy="2052.8" r="4.7"/><circle cx="454.6" cy="2052.6" r="4.7"/><circle cx="457.6" cy="2052.3" r="4.7"/><circle cx="460.6" cy="2052.0" r="4.7"/><circle cx="463.6" cy="2051.7" r="4.7"/><circle cx="466.6" cy="2051.4" r="4.7"/><circle cx="469.6" cy="2051.2" r="4.7"/><circle cx="472.6" cy="2050.9" r="4.7"/><circle cx="475.6" cy="2050.6" r="4.7"/><circle cx="478.5" cy="2050.5" r="4.7"/><circle cx="481.5" cy="2050.8" r="4.7"/><circle cx="484.5" cy="2051.2" r="4.7"/><circle cx="487.5" cy="2051.5" r="4.7"/><circle cx="490.5" cy="2051.8" r="4.7"/><circle cx="493.5" cy="2052.2" r="4.7"/><circle cx="496.5" cy="2052.5" r="4.7"/><circle cx="499.5" cy="2052.8" r="4.7"/><circle cx="502.5" cy="2053.2" r="4.7"/><circle cx="505.5" cy="2053.5" r="4.7"/><circle cx="508.5" cy="2053.9" r="4.7"/><circle cx="511.5" cy="2054.2" r="4.7"/><circle cx="514.5" cy="2054.5" r="4.7"/><circle cx="517.5" cy="2054.9" r="4.7"/><circle cx="520.5" cy="2055.1" r="4.7"/><circle cx="523.5" cy="2055.3" r="4.7"/><circle cx="526.5" cy="2055.6" r="4.7"/><circle cx="529.5" cy="2055.8" r="4.7"/><circle cx="532.5" cy="2056.1" r="4.7"/><circle cx="535.5" cy="2056.3" r="4.7"/><circle cx="538.5" cy="2056.6" r="4.7"/><circle cx="541.5" cy="2056.8" r="4.7"/><circle cx="544.5" cy="2057.1" r="4.7"/><circle cx="547.5" cy="2057.3" r="4.7"/><circle cx="550.5" cy="2057.6" r="4.7"/><circle cx="553.5" cy="2057.8" r="4.7"/><circle cx="556.5" cy="2058.0" r="4.7"/><circle cx="559.5" cy="2058.3" r="4.7"/><circle cx="562.5" cy="2058.5" r="4.7"/><circle cx="565.5" cy="2058.8" r="4.7"/><circle cx="568.5" cy="2059.0" r="4.7"/><circle cx="571.5" cy="2059.3" r="4.7"/><circle cx="574.5" cy="2059.5" r="4.7"/><circle cx="577.4" cy="2059.8" r="4.7"/><circle cx="580.4" cy="2059.6" r="4.7"/><circle cx="583.4" cy="2059.3" r="4.7"/><circle cx="586.4" cy="2059.0" r="4.7"/><circle cx="589.4" cy="2058.8" r="4.7"/><circle cx="592.4" cy="2058.5" r="4.7"/><circle cx="595.4" cy="2058.2" r="4.7"/><circle cx="598.4" cy="2058.0" r="4.7"/><circle cx="601.4" cy="2057.7" r="4.7"/><circle cx="604.4" cy="2057.4" r="4.7"/><circle cx="607.4" cy="2057.2" r="4.7"/><circle cx="610.4" cy="2056.9" r="4.7"/><circle cx="613.4" cy="2056.6" r="4.7"/><circle cx="616.4" cy="2056.4" r="4.7"/><circle cx="619.4" cy="2056.1" r="4.7"/><circle cx="622.4" cy="2055.8" r="4.7"/><circle cx="625.4" cy="2055.6" r="4.7"/><circle cx="628.4" cy="2055.5" r="4.7"/><circle cx="631.4" cy="2055.6" r="4.7"/><circle cx="634.4" cy="2055.8" r="4.7"/><circle cx="637.4" cy="2055.9" r="4.7"/><circle cx="640.4" cy="2056.1" r="4.7"/><circle cx="643.4" cy="2056.2" r="4.7"/><circle cx="646.4" cy="2056.4" r="4.7"/><circle cx="649.4" cy="2056.5" r="4.7"/><circle cx="652.4" cy="2056.6" r="4.7"/><circle cx="655.4" cy="2056.8" r="4.7"/><circle cx="658.4" cy="2056.9" r="4.7"/><circle cx="661.4" cy="2057.1" r="4.7"/><circle cx="664.4" cy="2057.3" r="4.7"/><circle cx="667.4" cy="2057.6" r="4.7"/><circle cx="670.4" cy="2057.9" r="4.7"/><circle cx="673.4" cy="2058.2" r="4.7"/><circle cx="676.4" cy="2058.5" r="4.7"/><circle cx="679.3" cy="2058.8" r="4.7"/><circle cx="682.3" cy="2059.1" r="4.7"/><circle cx="685.3" cy="2059.4" r="4.7"/><circle cx="688.3" cy="2059.7" r="4.7"/><circle cx="691.3" cy="2060.0" r="4.7"/><circle cx="694.3" cy="2060.3" r="4.7"/><circle cx="697.3" cy="2060.6" r="4.7"/><circle cx="700.3" cy="2060.9" r="4.7"/><circle cx="703.3" cy="2061.2" r="4.7"/><circle cx="706.3" cy="2061.5" r="4.7"/><circle cx="709.3" cy="2061.5" r="4.7"/><circle cx="712.3" cy="2061.4" r="4.7"/><circle cx="715.3" cy="2061.2" r="4.7"/><circle cx="718.3" cy="2061.1" r="4.7"/><circle cx="721.3" cy="2060.9" r="4.7"/><circle cx="724.3" cy="2060.8" r="4.7"/><circle cx="727.3" cy="2060.7" r="4.7"/><circle cx="730.3" cy="2060.5" r="4.7"/><circle cx="733.3" cy="2060.4" r="4.7"/><circle cx="736.3" cy="2060.2" r="4.7"/><circle cx="739.3" cy="2060.1" r="4.7"/><circle cx="742.3" cy="2059.9" r="4.7"/><circle cx="745.3" cy="2059.8" r="4.7"/><circle cx="748.3" cy="2059.7" r="4.7"/><circle cx="751.3" cy="2059.5" r="4.7"/><circle cx="754.3" cy="2059.4" r="4.7"/><circle cx="757.3" cy="2059.2" r="4.7"/><circle cx="760.3" cy="2059.1" r="4.7"/><circle cx="763.3" cy="2058.9" r="4.7"/><circle cx="766.3" cy="2058.8" r="4.7"/><circle cx="769.3" cy="2058.7" r="4.7"/><circle cx="772.3" cy="2058.5" r="4.7"/><circle cx="775.3" cy="2058.9" r="4.7"/><circle cx="778.2" cy="2059.3" r="4.7"/><circle cx="781.2" cy="2059.7" r="4.7"/><circle cx="784.2" cy="2060.1" r="4.7"/><circle cx="787.2" cy="2060.5" r="4.7"/><circle cx="790.2" cy="2060.9" r="4.7"/><circle cx="793.2" cy="2061.3" r="4.7"/><circle cx="796.2" cy="2061.7" r="4.7"/><circle cx="799.2" cy="2062.1" r="4.7"/><circle cx="802.2" cy="2062.5" r="4.7"/><circle cx="805.2" cy="2062.9" r="4.7"/><circle cx="808.2" cy="2063.3" r="4.7"/><circle cx="811.2" cy="2063.7" r="4.7"/><circle cx="814.2" cy="2064.5" r="4.7"/><circle cx="817.2" cy="2065.4" r="4.7"/><circle cx="820.2" cy="2066.2" r="4.7"/><circle cx="823.2" cy="2067.1" r="4.7"/><circle cx="826.2" cy="2067.9" r="4.7"/><circle cx="829.2" cy="2068.7" r="4.7"/><circle cx="832.2" cy="2069.6" r="4.7"/><circle cx="835.2" cy="2070.4" r="4.7"/><circle cx="838.2" cy="2071.3" r="4.7"/><circle cx="841.2" cy="2072.1" r="4.7"/><circle cx="844.2" cy="2073.0" r="4.7"/><circle cx="847.2" cy="2073.8" r="4.7"/><circle cx="850.2" cy="2074.7" r="4.7"/><circle cx="853.2" cy="2075.5" r="4.7"/><circle cx="856.2" cy="2075.9" r="4.7"/><circle cx="859.2" cy="2075.4" r="4.7"/><circle cx="862.2" cy="2074.9" r="4.7"/><circle cx="865.2" cy="2074.4" r="4.7"/><circle cx="868.2" cy="2073.9" r="4.7"/><circle cx="871.2" cy="2073.3" r="4.7"/><circle cx="874.2" cy="2072.8" r="4.7"/><circle cx="877.1" cy="2072.3" r="4.7"/><circle cx="880.1" cy="2071.8" r="4.7"/><circle cx="883.1" cy="2071.3" r="4.7"/><circle cx="886.1" cy="2070.7" r="4.7"/><circle cx="889.1" cy="2070.2" r="4.7"/><circle cx="892.1" cy="2069.7" r="4.7"/><circle cx="895.1" cy="2069.2" r="4.7"/><circle cx="898.1" cy="2069.0" r="4.7"/><circle cx="901.1" cy="2069.3" r="4.7"/><circle cx="904.1" cy="2069.5" r="4.7"/><circle cx="907.1" cy="2069.8" r="4.7"/><circle cx="910.1" cy="2070.1" r="4.7"/><circle cx="913.1" cy="2070.3" r="4.7"/><circle cx="916.1" cy="2070.6" r="4.7"/><circle cx="919.1" cy="2070.9" r="4.7"/><circle cx="922.1" cy="2071.1" r="4.7"/><circle cx="925.1" cy="2071.4" r="4.7"/><circle cx="928.1" cy="2071.7" r="4.7"/><circle cx="931.1" cy="2071.9" r="4.7"/><circle cx="934.1" cy="2072.2" r="4.7"/><circle cx="937.1" cy="2072.5" r="4.7"/><circle cx="940.1" cy="2072.7" r="4.7"/><circle cx="943.1" cy="2073.3" r="4.7"/><circle cx="946.1" cy="2074.0" r="4.7"/><circle cx="949.1" cy="2074.7" r="4.7"/><circle cx="952.1" cy="2075.4" r="4.7"/><circle cx="955.1" cy="2076.1" r="4.7"/><circle cx="958.1" cy="2076.8" r="4.7"/><circle cx="961.1" cy="2077.6" r="4.7"/><circle cx="964.1" cy="2078.3" r="4.7"/><circle cx="967.1" cy="2079.0" r="4.7"/><circle cx="970.1" cy="2079.7" r="4.7"/><circle cx="973.1" cy="2080.4" r="4.7"/><circle cx="976.1" cy="2081.1" r="4.7"/><circle cx="979.0" cy="2081.8" r="4.7"/><circle cx="982.0" cy="2082.5" r="4.7"/><circle cx="985.0" cy="2083.2" r="4.7"/><circle cx="988.0" cy="2083.9" r="4.7"/><circle cx="991.0" cy="2084.2" r="4.7"/><circle cx="994.0" cy="2083.4" r="4.7"/><circle cx="997.0" cy="2082.7" r="4.7"/><circle cx="1000.0" cy="2082.0" r="4.7"/><circle cx="1003.0" cy="2081.3" r="4.7"/><circle cx="1006.0" cy="2080.5" r="4.7"/><circle cx="1009.0" cy="2079.8" r="4.7"/><circle cx="1012.0" cy="2079.1" r="4.7"/><circle cx="1015.0" cy="2078.4" r="4.7"/><circle cx="1018.0" cy="2077.6" r="4.7"/><circle cx="1021.0" cy="2076.9" r="4.7"/><circle cx="1024.0" cy="2076.2" r="4.7"/><circle cx="1027.0" cy="2075.4" r="4.7"/><circle cx="1030.0" cy="2075.1" r="4.7"/><circle cx="1033.0" cy="2075.0" r="4.7"/><circle cx="1036.0" cy="2074.9" r="4.7"/><circle cx="1039.0" cy="2074.8" r="4.7"/><circle cx="1042.0" cy="2074.7" r="4.7"/><circle cx="1045.0" cy="2074.5" r="4.7"/><circle cx="1048.0" cy="2074.4" r="4.7"/><circle cx="1051.0" cy="2075.0" r="4.7"/><circle cx="1054.0" cy="2075.9" r="4.7"/><circle cx="1057.0" cy="2076.7" r="4.7"/><circle cx="1060.0" cy="2077.5" r="4.7"/><circle cx="1063.0" cy="2078.3" r="4.7"/><circle cx="1066.0" cy="2079.2" r="4.7"/><circle cx="1069.0" cy="2080.0" r="4.7"/><circle cx="1072.0" cy="2080.8" r="4.7"/><circle cx="1075.0" cy="2081.7" r="4.7"/><circle cx="1077.9" cy="2082.5" r="4.7"/><circle cx="1080.9" cy="2083.3" r="4.7"/><circle cx="1083.9" cy="2084.1" r="4.7"/><circle cx="1086.9" cy="2085.0" r="4.7"/><circle cx="1089.9" cy="2085.8" r="4.7"/><circle cx="1092.9" cy="2086.6" r="4.7"/><circle cx="1095.9" cy="2087.5" r="4.7"/><circle cx="1098.9" cy="2088.3" r="4.7"/><circle cx="1101.9" cy="2089.1" r="4.7"/><circle cx="1104.9" cy="2090.0" r="4.7"/><circle cx="1107.9" cy="2090.8" r="4.7"/><circle cx="1110.9" cy="2091.6" r="4.7"/><circle cx="1113.9" cy="2092.4" r="4.7"/><circle cx="1116.9" cy="2093.3" r="4.7"/><circle cx="1119.9" cy="2094.1" r="4.7"/><circle cx="1122.9" cy="2094.9" r="4.7"/><circle cx="1125.9" cy="2094.5" r="4.7"/><circle cx="1128.9" cy="2093.5" r="4.7"/><circle cx="1131.9" cy="2092.4" r="4.7"/><circle cx="1134.9" cy="2091.4" r="4.7"/><circle cx="1137.9" cy="2090.3" r="4.7"/><circle cx="1140.9" cy="2089.3" r="4.7"/><circle cx="1143.9" cy="2088.3" r="4.7"/><circle cx="1146.9" cy="2087.2" r="4.7"/><circle cx="1149.9" cy="2086.2" r="4.7"/><circle cx="1152.9" cy="2085.1" r="4.7"/><circle cx="1155.9" cy="2084.1" r="4.7"/><circle cx="1158.9" cy="2083.3" r="4.7"/><circle cx="1161.9" cy="2082.9" r="4.7"/><circle cx="1164.9" cy="2082.5" r="4.7"/><circle cx="1167.9" cy="2082.2" r="4.7"/><circle cx="1170.9" cy="2081.8" r="4.7"/><circle cx="1173.9" cy="2081.4" r="4.7"/><circle cx="1176.9" cy="2081.0" r="4.7"/><circle cx="1179.8" cy="2080.6" r="4.7"/><circle cx="1182.8" cy="2080.2" r="4.7"/><circle cx="1185.8" cy="2080.4" r="4.7"/><circle cx="1188.8" cy="2080.9" r="4.7"/><circle cx="1191.8" cy="2081.3" r="4.7"/><circle cx="1194.8" cy="2081.7" r="4.7"/><circle cx="1197.8" cy="2082.1" r="4.7"/><circle cx="1200.8" cy="2082.5" r="4.7"/><circle cx="1203.8" cy="2083.0" r="4.7"/><circle cx="1206.8" cy="2083.4" r="4.7"/><circle cx="1209.8" cy="2083.8" r="4.7"/><circle cx="1212.8" cy="2084.2" r="4.7"/><circle cx="1215.8" cy="2084.6" r="4.7"/><circle cx="1218.8" cy="2085.1" r="4.7"/><circle cx="1221.8" cy="2085.5" r="4.7"/><circle cx="1224.8" cy="2085.9" r="4.7"/><circle cx="1227.8" cy="2086.3" r="4.7"/><circle cx="1230.8" cy="2086.8" r="4.7"/><circle cx="1233.8" cy="2087.2" r="4.7"/><circle cx="1236.8" cy="2088.0" r="4.7"/><circle cx="1239.8" cy="2089.2" r="4.7"/><circle cx="1242.8" cy="2090.4" r="4.7"/><circle cx="1245.8" cy="2091.7" r="4.7"/><circle cx="1248.8" cy="2092.9" r="4.7"/><circle cx="1251.8" cy="2094.1" r="4.7"/><circle cx="1254.8" cy="2095.4" r="4.7"/><circle cx="1257.8" cy="2096.6" r="4.7"/><circle cx="1260.8" cy="2097.8" r="4.7"/><circle cx="1263.8" cy="2099.0" r="4.7"/><circle cx="1266.8" cy="2097.9" r="4.7"/><circle cx="1269.8" cy="2096.6" r="4.7"/><circle cx="1272.8" cy="2095.3" r="4.7"/><circle cx="1275.8" cy="2094.0" r="4.7"/><circle cx="1278.7" cy="2092.7" r="4.7"/><circle cx="1281.7" cy="2091.4" r="4.7"/><circle cx="1284.7" cy="2090.1" r="4.7"/><circle cx="1287.7" cy="2088.9" r="4.7"/><circle cx="1290.7" cy="2087.6" r="4.7"/><circle cx="1293.7" cy="2086.3" r="4.7"/><circle cx="1296.7" cy="2085.0" r="4.7"/><circle cx="1299.7" cy="2083.7" r="4.7"/><circle cx="1302.7" cy="2083.4" r="4.7"/><circle cx="1305.7" cy="2083.2" r="4.7"/><circle cx="1308.7" cy="2083.1" r="4.7"/><circle cx="1311.7" cy="2082.9" r="4.7"/><circle cx="1314.7" cy="2082.8" r="4.7"/><circle cx="1317.7" cy="2082.6" r="4.7"/><circle cx="1320.7" cy="2082.5" r="4.7"/><circle cx="1323.7" cy="2082.3" r="4.7"/><circle cx="1326.7" cy="2082.3" r="4.7"/><circle cx="1329.7" cy="2082.7" r="4.7"/><circle cx="1332.7" cy="2083.1" r="4.7"/><circle cx="1335.7" cy="2083.5" r="4.7"/><circle cx="1338.7" cy="2084.0" r="4.7"/><circle cx="1341.7" cy="2084.4" r="4.7"/><circle cx="1344.7" cy="2084.8" r="4.7"/><circle cx="1347.7" cy="2085.2" r="4.7"/><circle cx="1350.7" cy="2085.7" r="4.7"/><circle cx="1353.7" cy="2086.1" r="4.7"/><circle cx="1356.7" cy="2086.5" r="4.7"/><circle cx="1359.7" cy="2086.9" r="4.7"/><circle cx="1362.7" cy="2087.3" r="4.7"/><circle cx="1365.7" cy="2087.8" r="4.7"/><circle cx="1368.7" cy="2088.2" r="4.7"/><circle cx="1371.7" cy="2088.6" r="4.7"/><circle cx="1374.7" cy="2089.0" r="4.7"/><circle cx="1377.6" cy="2089.4" r="4.7"/><circle cx="1380.6" cy="2089.9" r="4.7"/><circle cx="1383.6" cy="2090.3" r="4.7"/><circle cx="1386.6" cy="2090.7" r="4.7"/><circle cx="1389.6" cy="2091.1" r="4.7"/><circle cx="1392.6" cy="2091.2" r="4.7"/><circle cx="1395.6" cy="2091.0" r="4.7"/><circle cx="1398.6" cy="2090.8" r="4.7"/><circle cx="1401.6" cy="2090.6" r="4.7"/><circle cx="1404.6" cy="2090.4" r="4.7"/><circle cx="1407.6" cy="2090.2" r="4.7"/><circle cx="1410.6" cy="2090.0" r="4.7"/><circle cx="1413.6" cy="2089.8" r="4.7"/><circle cx="1416.6" cy="2089.6" r="4.7"/><circle cx="1419.6" cy="2089.4" r="4.7"/><circle cx="1422.6" cy="2089.2" r="4.7"/><circle cx="1425.6" cy="2089.0" r="4.7"/><circle cx="1428.6" cy="2088.8" r="4.7"/><circle cx="1431.6" cy="2088.2" r="4.7"/><circle cx="1434.6" cy="2087.5" r="4.7"/><circle cx="1437.6" cy="2086.7" r="4.7"/><circle cx="1440.6" cy="2085.9" r="4.7"/><circle cx="1443.6" cy="2085.1" r="4.7"/><circle cx="1446.6" cy="2084.3" r="4.7"/><circle cx="1449.6" cy="2084.1" r="4.7"/><circle cx="1452.6" cy="2084.2" r="4.7"/><circle cx="1455.6" cy="2084.3" r="4.7"/><circle cx="1458.6" cy="2084.4" r="4.7"/><circle cx="1461.6" cy="2084.5" r="4.7"/><circle cx="1464.6" cy="2084.6" r="4.7"/><circle cx="1467.6" cy="2084.7" r="4.7"/><circle cx="1470.6" cy="2084.8" r="4.7"/><circle cx="1473.6" cy="2085.0" r="4.7"/><circle cx="1476.5" cy="2085.1" r="4.7"/><circle cx="1479.5" cy="2085.2" r="4.7"/><circle cx="1482.5" cy="2085.3" r="4.7"/><circle cx="1485.5" cy="2085.5" r="4.7"/><circle cx="1488.5" cy="2085.6" r="4.7"/><circle cx="1491.5" cy="2085.8" r="4.7"/><circle cx="1494.5" cy="2086.2" r="4.7"/><circle cx="1497.5" cy="2086.6" r="4.7"/><circle cx="1500.5" cy="2087.0" r="4.7"/><circle cx="1503.5" cy="2087.4" r="4.7"/><circle cx="1506.5" cy="2087.8" r="4.7"/><circle cx="1509.5" cy="2088.3" r="4.7"/><circle cx="1512.5" cy="2088.7" r="4.7"/><circle cx="1515.5" cy="2089.1" r="4.7"/><circle cx="1518.5" cy="2089.5" r="4.7"/><circle cx="1521.5" cy="2089.9" r="4.7"/><circle cx="1524.5" cy="2090.3" r="4.7"/><circle cx="1527.5" cy="2090.8" r="4.7"/><circle cx="1530.5" cy="2091.2" r="4.7"/><circle cx="1533.5" cy="2091.6" r="4.7"/><circle cx="1536.5" cy="2092.0" r="4.7"/><circle cx="1539.5" cy="2092.1" r="4.7"/><circle cx="1542.5" cy="2091.9" r="4.7"/><circle cx="1545.5" cy="2091.8" r="4.7"/><circle cx="1548.5" cy="2091.6" r="4.7"/><circle cx="1551.5" cy="2091.5" r="4.7"/><circle cx="1554.5" cy="2091.3" r="4.7"/><circle cx="1557.5" cy="2091.1" r="4.7"/><circle cx="1560.5" cy="2091.0" r="4.7"/><circle cx="1563.5" cy="2090.8" r="4.7"/><circle cx="1566.5" cy="2090.7" r="4.7"/><circle cx="1569.5" cy="2090.5" r="4.7"/><circle cx="1572.5" cy="2090.5" r="4.7"/><circle cx="1575.5" cy="2090.8" r="4.7"/><circle cx="1578.4" cy="2091.1" r="4.7"/><circle cx="1581.4" cy="2091.5" r="4.7"/><circle cx="1584.4" cy="2091.8" r="4.7"/><circle cx="1587.4" cy="2092.1" r="4.7"/><circle cx="1590.4" cy="2092.4" r="4.7"/><circle cx="1593.4" cy="2092.7" r="4.7"/><circle cx="1596.4" cy="2093.0" r="4.7"/><circle cx="1599.4" cy="2093.4" r="4.7"/><circle cx="1602.4" cy="2093.7" r="4.7"/><circle cx="1605.4" cy="2094.0" r="4.7"/><circle cx="1608.4" cy="2094.3" r="4.7"/><circle cx="1611.4" cy="2094.6" r="4.7"/><circle cx="1614.4" cy="2094.9" r="4.7"/><circle cx="1617.4" cy="2095.3" r="4.7"/><circle cx="1620.4" cy="2095.6" r="4.7"/><circle cx="1623.4" cy="2095.9" r="4.7"/><circle cx="1626.4" cy="2096.1" r="4.7"/><circle cx="1629.4" cy="2096.4" r="4.7"/><circle cx="1632.4" cy="2096.7" r="4.7"/><circle cx="1635.4" cy="2097.0" r="4.7"/><circle cx="1638.4" cy="2097.3" r="4.7"/><circle cx="1641.4" cy="2097.6" r="4.7"/><circle cx="1644.4" cy="2097.9" r="4.7"/><circle cx="1647.4" cy="2098.2" r="4.7"/><circle cx="1650.4" cy="2098.4" r="4.7"/><circle cx="1653.4" cy="2098.7" r="4.7"/><circle cx="1656.4" cy="2099.0" r="4.7"/><circle cx="1659.4" cy="2099.3" r="4.7"/><circle cx="1662.4" cy="2099.6" r="4.7"/><circle cx="1665.4" cy="2099.9" r="4.7"/><circle cx="1668.4" cy="2100.2" r="4.7"/><circle cx="1671.4" cy="2100.4" r="4.7"/><circle cx="1674.4" cy="2100.7" r="4.7"/><circle cx="1677.3" cy="2101.0" r="4.7"/><circle cx="1680.3" cy="2101.3" r="4.7"/><circle cx="1683.3" cy="2101.6" r="4.7"/><circle cx="1686.3" cy="2101.9" r="4.7"/><circle cx="1689.3" cy="2102.2" r="4.7"/><circle cx="1692.3" cy="2102.5" r="4.7"/><circle cx="1695.3" cy="2102.8" r="4.7"/><circle cx="1698.3" cy="2103.1" r="4.7"/><circle cx="1701.3" cy="2103.4" r="4.7"/><circle cx="1704.3" cy="2103.7" r="4.7"/><circle cx="1707.3" cy="2104.0" r="4.7"/><circle cx="1710.3" cy="2104.3" r="4.7"/><circle cx="1713.3" cy="2104.6" r="4.7"/><circle cx="1716.3" cy="2104.9" r="4.7"/><circle cx="1719.3" cy="2105.2" r="4.7"/><circle cx="1722.3" cy="2105.2" r="4.7"/><circle cx="1725.3" cy="2105.2" r="4.7"/><circle cx="1728.3" cy="2105.2" r="4.7"/><circle cx="1731.3" cy="2105.2" r="4.7"/><circle cx="1734.3" cy="2105.2" r="4.7"/><circle cx="1737.3" cy="2105.2" r="4.7"/><circle cx="1740.3" cy="2105.2" r="4.7"/><circle cx="1743.3" cy="2105.2" r="4.7"/><circle cx="1746.3" cy="2105.2" r="4.7"/><circle cx="1749.3" cy="2105.2" r="4.7"/><circle cx="1752.3" cy="2105.2" r="4.7"/><circle cx="1755.3" cy="2105.2" r="4.7"/><circle cx="1758.3" cy="2105.2" r="4.7"/><circle cx="1761.3" cy="2105.2" r="4.7"/><circle cx="1764.3" cy="2105.2" r="4.7"/><circle cx="1767.3" cy="2105.2" r="4.7"/><circle cx="1770.3" cy="2105.2" r="4.7"/><circle cx="1773.3" cy="2105.7" r="4.7"/><circle cx="1776.2" cy="2106.4" r="4.7"/><circle cx="1779.2" cy="2107.1" r="4.7"/><circle cx="1782.2" cy="2107.8" r="4.7"/><circle cx="1785.2" cy="2108.5" r="4.7"/><circle cx="1788.2" cy="2109.2" r="4.7"/><circle cx="1791.2" cy="2109.9" r="4.7"/><circle cx="1794.2" cy="2110.6" r="4.7"/><circle cx="1797.2" cy="2111.3" r="4.7"/><circle cx="1800.2" cy="2112.0" r="4.7"/><circle cx="1803.2" cy="2112.7" r="4.7"/><circle cx="1806.2" cy="2113.3" r="4.7"/><circle cx="1809.2" cy="2114.0" r="4.7"/><circle cx="1812.2" cy="2113.8" r="4.7"/><circle cx="1815.2" cy="2113.2" r="4.7"/><circle cx="1818.2" cy="2112.6" r="4.7"/><circle cx="1821.2" cy="2112.0" r="4.7"/><circle cx="1824.2" cy="2111.0" r="4.7"/><circle cx="1827.2" cy="2109.5" r="4.7"/><circle cx="1830.2" cy="2108.0" r="4.7"/><circle cx="1833.2" cy="2106.5" r="4.7"/><circle cx="1836.2" cy="2105.0" r="4.7"/><circle cx="1839.2" cy="2103.5" r="4.7"/><circle cx="1842.2" cy="2102.0" r="4.7"/><circle cx="1845.2" cy="2100.5" r="4.7"/><circle cx="1848.2" cy="2099.0" r="4.7"/><circle cx="1851.2" cy="2098.6" r="4.7"/><circle cx="1854.2" cy="2098.4" r="4.7"/><circle cx="1857.2" cy="2098.3" r="4.7"/><circle cx="1860.2" cy="2098.1" r="4.7"/><circle cx="1863.2" cy="2098.0" r="4.7"/><circle cx="1866.2" cy="2097.8" r="4.7"/><circle cx="1869.2" cy="2097.7" r="4.7"/><circle cx="1872.2" cy="2097.5" r="4.7"/><circle cx="1875.2" cy="2097.5" r="4.7"/><circle cx="1878.1" cy="2098.0" r="4.7"/><circle cx="1881.1" cy="2098.5" r="4.7"/><circle cx="1884.1" cy="2099.0" r="4.7"/><circle cx="1887.1" cy="2099.5" r="4.7"/><circle cx="1890.1" cy="2100.0" r="4.7"/><circle cx="1893.1" cy="2100.6" r="4.7"/><circle cx="1896.1" cy="2101.1" r="4.7"/><circle cx="1899.1" cy="2101.6" r="4.7"/><circle cx="1902.1" cy="2102.1" r="4.7"/><circle cx="1905.1" cy="2102.6" r="4.7"/></g>
<g fill="#fff" stroke="#c1163a" stroke-width="2.2" clip-path="url(#hclip)"><circle cx="130.9" cy="2003.9" r="4.7"/><circle cx="133.9" cy="2003.9" r="4.7"/><circle cx="136.9" cy="2003.9" r="4.7"/><circle cx="139.9" cy="2003.9" r="4.7"/><circle cx="142.9" cy="2003.9" r="4.7"/><circle cx="145.9" cy="2003.9" r="4.7"/><circle cx="148.9" cy="2003.9" r="4.7"/><circle cx="151.9" cy="2003.9" r="4.7"/><circle cx="154.9" cy="2003.9" r="4.7"/><circle cx="157.9" cy="2003.9" r="4.7"/><circle cx="160.9" cy="2003.9" r="4.7"/><circle cx="163.9" cy="2003.9" r="4.7"/><circle cx="166.9" cy="2003.9" r="4.7"/><circle cx="169.9" cy="2003.9" r="4.7"/><circle cx="172.9" cy="2003.9" r="4.7"/><circle cx="175.9" cy="2003.9" r="4.7"/><circle cx="178.8" cy="2003.9" r="4.7"/><circle cx="181.8" cy="2003.9" r="4.7"/><circle cx="184.8" cy="2003.9" r="4.7"/><circle cx="187.8" cy="2003.9" r="4.7"/><circle cx="190.8" cy="2003.9" r="4.7"/><circle cx="193.8" cy="2003.9" r="4.7"/><circle cx="196.8" cy="2003.9" r="4.7"/><circle cx="199.8" cy="2003.9" r="4.7"/><circle cx="202.8" cy="2003.9" r="4.7"/><circle cx="205.8" cy="2003.9" r="4.7"/><circle cx="208.8" cy="2003.9" r="4.7"/><circle cx="211.8" cy="2003.9" r="4.7"/><circle cx="214.8" cy="2003.9" r="4.7"/><circle cx="217.8" cy="2003.9" r="4.7"/><circle cx="220.8" cy="2003.9" r="4.7"/><circle cx="223.8" cy="2003.9" r="4.7"/><circle cx="226.8" cy="2003.9" r="4.7"/><circle cx="229.8" cy="2003.9" r="4.7"/><circle cx="232.8" cy="2003.9" r="4.7"/><circle cx="235.8" cy="2003.9" r="4.7"/><circle cx="238.8" cy="2003.9" r="4.7"/><circle cx="241.8" cy="2003.9" r="4.7"/><circle cx="244.8" cy="2003.9" r="4.7"/><circle cx="247.8" cy="2003.9" r="4.7"/><circle cx="250.8" cy="2003.9" r="4.7"/><circle cx="253.8" cy="2003.9" r="4.7"/><circle cx="256.8" cy="2003.9" r="4.7"/><circle cx="259.8" cy="2003.9" r="4.7"/><circle cx="262.8" cy="2003.9" r="4.7"/><circle cx="265.8" cy="2003.9" r="4.7"/><circle cx="268.8" cy="2003.9" r="4.7"/><circle cx="271.8" cy="2003.9" r="4.7"/><circle cx="274.8" cy="2003.9" r="4.7"/><circle cx="277.8" cy="2003.9" r="4.7"/><circle cx="280.7" cy="2003.9" r="4.7"/><circle cx="283.7" cy="2003.9" r="4.7"/><circle cx="286.7" cy="2003.9" r="4.7"/><circle cx="289.7" cy="2003.9" r="4.7"/><circle cx="292.7" cy="2003.9" r="4.7"/><circle cx="295.7" cy="2003.9" r="4.7"/><circle cx="298.7" cy="2003.9" r="4.7"/><circle cx="301.7" cy="2003.9" r="4.7"/><circle cx="304.7" cy="2003.9" r="4.7"/><circle cx="307.7" cy="2003.9" r="4.7"/><circle cx="310.7" cy="2003.9" r="4.7"/><circle cx="313.7" cy="2003.9" r="4.7"/><circle cx="316.7" cy="2003.9" r="4.7"/><circle cx="319.7" cy="2003.9" r="4.7"/><circle cx="322.7" cy="2003.9" r="4.7"/><circle cx="325.7" cy="2003.9" r="4.7"/><circle cx="328.7" cy="2003.9" r="4.7"/><circle cx="331.7" cy="2003.9" r="4.7"/><circle cx="334.7" cy="2003.9" r="4.7"/><circle cx="337.7" cy="2003.9" r="4.7"/><circle cx="340.7" cy="2003.9" r="4.7"/><circle cx="343.7" cy="2003.9" r="4.7"/><circle cx="346.7" cy="2003.9" r="4.7"/><circle cx="349.7" cy="2003.9" r="4.7"/><circle cx="352.7" cy="2003.9" r="4.7"/><circle cx="355.7" cy="2003.9" r="4.7"/><circle cx="358.7" cy="2003.9" r="4.7"/><circle cx="361.7" cy="2003.9" r="4.7"/><circle cx="364.7" cy="2003.9" r="4.7"/><circle cx="367.7" cy="2003.9" r="4.7"/><circle cx="370.7" cy="2003.9" r="4.7"/><circle cx="373.7" cy="2003.9" r="4.7"/><circle cx="376.7" cy="2003.9" r="4.7"/><circle cx="379.6" cy="2003.9" r="4.7"/><circle cx="382.6" cy="2003.9" r="4.7"/><circle cx="385.6" cy="2003.9" r="4.7"/><circle cx="388.6" cy="2003.9" r="4.7"/><circle cx="391.6" cy="2003.9" r="4.7"/><circle cx="394.6" cy="2003.9" r="4.7"/><circle cx="397.6" cy="2003.9" r="4.7"/><circle cx="400.6" cy="2003.9" r="4.7"/><circle cx="403.6" cy="2003.9" r="4.7"/><circle cx="406.6" cy="2003.9" r="4.7"/><circle cx="409.6" cy="2003.9" r="4.7"/><circle cx="412.6" cy="2003.9" r="4.7"/><circle cx="415.6" cy="2003.9" r="4.7"/><circle cx="418.6" cy="2003.9" r="4.7"/><circle cx="421.6" cy="2003.9" r="4.7"/><circle cx="424.6" cy="2003.9" r="4.7"/><circle cx="427.6" cy="2003.9" r="4.7"/><circle cx="430.6" cy="2003.9" r="4.7"/><circle cx="433.6" cy="2003.9" r="4.7"/><circle cx="436.6" cy="2003.9" r="4.7"/><circle cx="439.6" cy="2003.9" r="4.7"/><circle cx="442.6" cy="2003.9" r="4.7"/><circle cx="445.6" cy="2003.9" r="4.7"/><circle cx="448.6" cy="2003.9" r="4.7"/><circle cx="451.6" cy="2003.9" r="4.7"/><circle cx="454.6" cy="2003.9" r="4.7"/><circle cx="457.6" cy="2003.9" r="4.7"/><circle cx="460.6" cy="2003.9" r="4.7"/><circle cx="463.6" cy="2003.9" r="4.7"/><circle cx="466.6" cy="2003.9" r="4.7"/><circle cx="469.6" cy="2003.9" r="4.7"/><circle cx="472.6" cy="2003.9" r="4.7"/><circle cx="475.6" cy="2003.9" r="4.7"/><circle cx="478.5" cy="2003.9" r="4.7"/><circle cx="481.5" cy="2003.9" r="4.7"/><circle cx="484.5" cy="2003.9" r="4.7"/><circle cx="487.5" cy="2003.9" r="4.7"/><circle cx="490.5" cy="2003.9" r="4.7"/><circle cx="493.5" cy="2003.9" r="4.7"/><circle cx="496.5" cy="2003.9" r="4.7"/><circle cx="499.5" cy="2003.9" r="4.7"/><circle cx="502.5" cy="2003.9" r="4.7"/><circle cx="505.5" cy="2003.9" r="4.7"/><circle cx="508.5" cy="2003.9" r="4.7"/><circle cx="511.5" cy="2003.9" r="4.7"/><circle cx="514.5" cy="2003.9" r="4.7"/><circle cx="517.5" cy="2003.9" r="4.7"/><circle cx="520.5" cy="2003.9" r="4.7"/><circle cx="523.5" cy="2003.9" r="4.7"/><circle cx="526.5" cy="2003.9" r="4.7"/><circle cx="529.5" cy="2003.9" r="4.7"/><circle cx="532.5" cy="2003.9" r="4.7"/><circle cx="535.5" cy="2003.9" r="4.7"/><circle cx="538.5" cy="2003.9" r="4.7"/><circle cx="541.5" cy="2003.9" r="4.7"/><circle cx="544.5" cy="2003.9" r="4.7"/><circle cx="547.5" cy="2003.9" r="4.7"/><circle cx="550.5" cy="2003.9" r="4.7"/><circle cx="553.5" cy="2003.9" r="4.7"/><circle cx="556.5" cy="2003.9" r="4.7"/><circle cx="559.5" cy="2003.9" r="4.7"/><circle cx="562.5" cy="2003.9" r="4.7"/><circle cx="565.5" cy="2003.9" r="4.7"/><circle cx="568.5" cy="2003.9" r="4.7"/><circle cx="571.5" cy="2003.9" r="4.7"/><circle cx="574.5" cy="2003.9" r="4.7"/><circle cx="577.4" cy="2003.9" r="4.7"/><circle cx="580.4" cy="2003.9" r="4.7"/><circle cx="583.4" cy="2003.9" r="4.7"/><circle cx="586.4" cy="2003.9" r="4.7"/><circle cx="589.4" cy="2003.9" r="4.7"/><circle cx="592.4" cy="2003.9" r="4.7"/><circle cx="595.4" cy="2003.9" r="4.7"/><circle cx="598.4" cy="2003.9" r="4.7"/><circle cx="601.4" cy="2003.9" r="4.7"/><circle cx="604.4" cy="2003.9" r="4.7"/><circle cx="607.4" cy="2003.9" r="4.7"/><circle cx="610.4" cy="2003.9" r="4.7"/><circle cx="613.4" cy="2003.9" r="4.7"/><circle cx="616.4" cy="2003.9" r="4.7"/><circle cx="619.4" cy="2003.9" r="4.7"/><circle cx="622.4" cy="2003.9" r="4.7"/><circle cx="625.4" cy="2003.9" r="4.7"/><circle cx="628.4" cy="2003.9" r="4.7"/><circle cx="631.4" cy="2003.9" r="4.7"/><circle cx="634.4" cy="2003.9" r="4.7"/><circle cx="637.4" cy="2003.9" r="4.7"/><circle cx="640.4" cy="2003.9" r="4.7"/><circle cx="643.4" cy="2003.9" r="4.7"/><circle cx="646.4" cy="2003.9" r="4.7"/><circle cx="649.4" cy="2003.9" r="4.7"/><circle cx="652.4" cy="2003.9" r="4.7"/><circle cx="655.4" cy="2003.9" r="4.7"/><circle cx="658.4" cy="2003.9" r="4.7"/><circle cx="661.4" cy="2003.9" r="4.7"/><circle cx="664.4" cy="2003.9" r="4.7"/><circle cx="667.4" cy="2003.9" r="4.7"/><circle cx="670.4" cy="2003.9" r="4.7"/><circle cx="673.4" cy="2003.9" r="4.7"/><circle cx="676.4" cy="2003.9" r="4.7"/><circle cx="679.3" cy="2003.9" r="4.7"/><circle cx="682.3" cy="2003.9" r="4.7"/><circle cx="685.3" cy="2003.9" r="4.7"/><circle cx="688.3" cy="2003.9" r="4.7"/><circle cx="691.3" cy="2003.9" r="4.7"/><circle cx="694.3" cy="2003.9" r="4.7"/><circle cx="697.3" cy="2003.9" r="4.7"/><circle cx="700.3" cy="2003.9" r="4.7"/><circle cx="703.3" cy="2003.9" r="4.7"/><circle cx="706.3" cy="2003.9" r="4.7"/><circle cx="709.3" cy="2003.9" r="4.7"/><circle cx="712.3" cy="2003.9" r="4.7"/><circle cx="715.3" cy="2003.9" r="4.7"/><circle cx="718.3" cy="2003.9" r="4.7"/><circle cx="721.3" cy="2003.9" r="4.7"/><circle cx="724.3" cy="2003.9" r="4.7"/><circle cx="727.3" cy="2003.9" r="4.7"/><circle cx="730.3" cy="2003.9" r="4.7"/><circle cx="733.3" cy="2003.9" r="4.7"/><circle cx="736.3" cy="2003.9" r="4.7"/><circle cx="739.3" cy="2003.9" r="4.7"/><circle cx="742.3" cy="2003.9" r="4.7"/><circle cx="745.3" cy="2003.9" r="4.7"/><circle cx="748.3" cy="2003.9" r="4.7"/><circle cx="751.3" cy="2003.9" r="4.7"/><circle cx="754.3" cy="2003.9" r="4.7"/><circle cx="757.3" cy="2003.9" r="4.7"/><circle cx="760.3" cy="2003.9" r="4.7"/><circle cx="763.3" cy="2003.9" r="4.7"/><circle cx="766.3" cy="2003.9" r="4.7"/><circle cx="769.3" cy="2003.9" r="4.7"/><circle cx="772.3" cy="2003.9" r="4.7"/><circle cx="775.3" cy="2003.9" r="4.7"/><circle cx="778.2" cy="2003.9" r="4.7"/><circle cx="781.2" cy="2003.9" r="4.7"/><circle cx="784.2" cy="2003.9" r="4.7"/><circle cx="787.2" cy="2003.9" r="4.7"/><circle cx="790.2" cy="2003.9" r="4.7"/><circle cx="793.2" cy="2003.9" r="4.7"/><circle cx="796.2" cy="2003.9" r="4.7"/><circle cx="799.2" cy="2003.9" r="4.7"/><circle cx="802.2" cy="2003.9" r="4.7"/><circle cx="805.2" cy="2003.9" r="4.7"/><circle cx="808.2" cy="2003.9" r="4.7"/><circle cx="811.2" cy="2003.9" r="4.7"/><circle cx="814.2" cy="2003.9" r="4.7"/><circle cx="817.2" cy="2003.9" r="4.7"/><circle cx="820.2" cy="2003.9" r="4.7"/><circle cx="823.2" cy="2003.9" r="4.7"/><circle cx="826.2" cy="2003.9" r="4.7"/><circle cx="829.2" cy="2003.9" r="4.7"/><circle cx="832.2" cy="2003.9" r="4.7"/><circle cx="835.2" cy="2003.9" r="4.7"/><circle cx="838.2" cy="2003.9" r="4.7"/><circle cx="841.2" cy="2003.9" r="4.7"/><circle cx="844.2" cy="2003.9" r="4.7"/><circle cx="847.2" cy="2003.9" r="4.7"/><circle cx="850.2" cy="2003.9" r="4.7"/><circle cx="853.2" cy="2003.9" r="4.7"/><circle cx="856.2" cy="2003.9" r="4.7"/><circle cx="859.2" cy="2003.9" r="4.7"/><circle cx="862.2" cy="2003.9" r="4.7"/><circle cx="865.2" cy="2003.9" r="4.7"/><circle cx="868.2" cy="2003.9" r="4.7"/><circle cx="871.2" cy="2003.9" r="4.7"/><circle cx="874.2" cy="2003.9" r="4.7"/><circle cx="877.1" cy="2003.9" r="4.7"/><circle cx="880.1" cy="2003.9" r="4.7"/><circle cx="883.1" cy="2003.9" r="4.7"/><circle cx="886.1" cy="2003.9" r="4.7"/><circle cx="889.1" cy="2003.9" r="4.7"/><circle cx="892.1" cy="2003.9" r="4.7"/><circle cx="895.1" cy="2003.9" r="4.7"/><circle cx="898.1" cy="2003.9" r="4.7"/><circle cx="901.1" cy="2003.9" r="4.7"/><circle cx="904.1" cy="2003.9" r="4.7"/><circle cx="907.1" cy="2003.9" r="4.7"/><circle cx="910.1" cy="2003.9" r="4.7"/><circle cx="913.1" cy="2003.9" r="4.7"/><circle cx="916.1" cy="2003.9" r="4.7"/><circle cx="919.1" cy="2003.9" r="4.7"/><circle cx="922.1" cy="2003.9" r="4.7"/><circle cx="925.1" cy="2003.9" r="4.7"/><circle cx="928.1" cy="2003.9" r="4.7"/><circle cx="931.1" cy="2003.9" r="4.7"/><circle cx="934.1" cy="2003.9" r="4.7"/><circle cx="937.1" cy="2003.9" r="4.7"/><circle cx="940.1" cy="2003.9" r="4.7"/><circle cx="943.1" cy="2003.9" r="4.7"/><circle cx="946.1" cy="2003.9" r="4.7"/><circle cx="949.1" cy="2003.9" r="4.7"/><circle cx="952.1" cy="2003.9" r="4.7"/><circle cx="955.1" cy="2003.9" r="4.7"/><circle cx="958.1" cy="2003.9" r="4.7"/><circle cx="961.1" cy="2003.9" r="4.7"/><circle cx="964.1" cy="2003.9" r="4.7"/><circle cx="967.1" cy="2003.9" r="4.7"/><circle cx="970.1" cy="2003.9" r="4.7"/><circle cx="973.1" cy="2003.9" r="4.7"/><circle cx="976.1" cy="2003.9" r="4.7"/><circle cx="979.0" cy="2003.9" r="4.7"/><circle cx="982.0" cy="2003.9" r="4.7"/><circle cx="985.0" cy="2003.9" r="4.7"/><circle cx="988.0" cy="2003.9" r="4.7"/><circle cx="991.0" cy="2003.9" r="4.7"/><circle cx="994.0" cy="2003.9" r="4.7"/><circle cx="997.0" cy="2003.9" r="4.7"/><circle cx="1000.0" cy="2003.9" r="4.7"/><circle cx="1003.0" cy="2003.9" r="4.7"/><circle cx="1006.0" cy="2003.9" r="4.7"/><circle cx="1009.0" cy="2003.9" r="4.7"/><circle cx="1012.0" cy="2003.9" r="4.7"/><circle cx="1015.0" cy="2003.9" r="4.7"/><circle cx="1018.0" cy="2003.9" r="4.7"/><circle cx="1021.0" cy="2003.9" r="4.7"/><circle cx="1024.0" cy="2003.9" r="4.7"/><circle cx="1027.0" cy="2003.9" r="4.7"/><circle cx="1030.0" cy="2003.9" r="4.7"/><circle cx="1033.0" cy="2003.9" r="4.7"/><circle cx="1036.0" cy="2003.9" r="4.7"/><circle cx="1039.0" cy="2003.9" r="4.7"/><circle cx="1042.0" cy="2003.9" r="4.7"/><circle cx="1045.0" cy="2003.9" r="4.7"/><circle cx="1048.0" cy="2003.9" r="4.7"/><circle cx="1051.0" cy="2003.9" r="4.7"/><circle cx="1054.0" cy="2003.9" r="4.7"/><circle cx="1057.0" cy="2003.9" r="4.7"/><circle cx="1060.0" cy="2003.9" r="4.7"/><circle cx="1063.0" cy="2003.9" r="4.7"/><circle cx="1066.0" cy="2003.9" r="4.7"/><circle cx="1069.0" cy="2003.9" r="4.7"/><circle cx="1072.0" cy="2003.9" r="4.7"/><circle cx="1075.0" cy="2003.9" r="4.7"/><circle cx="1077.9" cy="2003.9" r="4.7"/><circle cx="1080.9" cy="2003.9" r="4.7"/><circle cx="1083.9" cy="2003.9" r="4.7"/><circle cx="1086.9" cy="2003.9" r="4.7"/><circle cx="1089.9" cy="2003.9" r="4.7"/><circle cx="1092.9" cy="2003.9" r="4.7"/><circle cx="1095.9" cy="2003.9" r="4.7"/><circle cx="1098.9" cy="2003.9" r="4.7"/><circle cx="1101.9" cy="2003.9" r="4.7"/><circle cx="1104.9" cy="2003.9" r="4.7"/><circle cx="1107.9" cy="2003.9" r="4.7"/><circle cx="1110.9" cy="2003.9" r="4.7"/><circle cx="1113.9" cy="2003.9" r="4.7"/><circle cx="1116.9" cy="2003.9" r="4.7"/><circle cx="1119.9" cy="2003.9" r="4.7"/><circle cx="1122.9" cy="2003.9" r="4.7"/><circle cx="1125.9" cy="2003.9" r="4.7"/><circle cx="1128.9" cy="2003.9" r="4.7"/><circle cx="1131.9" cy="2003.9" r="4.7"/><circle cx="1134.9" cy="2003.9" r="4.7"/><circle cx="1137.9" cy="2003.9" r="4.7"/><circle cx="1140.9" cy="2003.9" r="4.7"/><circle cx="1143.9" cy="2003.9" r="4.7"/><circle cx="1146.9" cy="2003.9" r="4.7"/><circle cx="1149.9" cy="2003.9" r="4.7"/><circle cx="1152.9" cy="2003.9" r="4.7"/><circle cx="1155.9" cy="2003.9" r="4.7"/><circle cx="1158.9" cy="2003.9" r="4.7"/><circle cx="1161.9" cy="2003.9" r="4.7"/><circle cx="1164.9" cy="2003.9" r="4.7"/><circle cx="1167.9" cy="2003.9" r="4.7"/><circle cx="1170.9" cy="2003.9" r="4.7"/><circle cx="1173.9" cy="2003.9" r="4.7"/><circle cx="1176.9" cy="2003.9" r="4.7"/><circle cx="1179.8" cy="2003.9" r="4.7"/><circle cx="1182.8" cy="2003.9" r="4.7"/><circle cx="1185.8" cy="2003.9" r="4.7"/><circle cx="1188.8" cy="2003.9" r="4.7"/><circle cx="1191.8" cy="2003.9" r="4.7"/><circle cx="1194.8" cy="2003.9" r="4.7"/><circle cx="1197.8" cy="2003.9" r="4.7"/><circle cx="1200.8" cy="2003.9" r="4.7"/><circle cx="1203.8" cy="2003.9" r="4.7"/><circle cx="1206.8" cy="2003.9" r="4.7"/><circle cx="1209.8" cy="2003.9" r="4.7"/><circle cx="1212.8" cy="2003.9" r="4.7"/><circle cx="1215.8" cy="2003.9" r="4.7"/><circle cx="1218.8" cy="2003.9" r="4.7"/><circle cx="1221.8" cy="2003.9" r="4.7"/><circle cx="1224.8" cy="2003.9" r="4.7"/><circle cx="1227.8" cy="2003.9" r="4.7"/><circle cx="1230.8" cy="2003.9" r="4.7"/><circle cx="1233.8" cy="2003.9" r="4.7"/><circle cx="1236.8" cy="2003.9" r="4.7"/><circle cx="1239.8" cy="2003.9" r="4.7"/><circle cx="1242.8" cy="2003.9" r="4.7"/><circle cx="1245.8" cy="2003.9" r="4.7"/><circle cx="1248.8" cy="2003.9" r="4.7"/><circle cx="1251.8" cy="2003.9" r="4.7"/><circle cx="1254.8" cy="2003.9" r="4.7"/><circle cx="1257.8" cy="2003.9" r="4.7"/><circle cx="1260.8" cy="2003.9" r="4.7"/><circle cx="1263.8" cy="2003.9" r="4.7"/><circle cx="1266.8" cy="2003.9" r="4.7"/><circle cx="1269.8" cy="2003.9" r="4.7"/><circle cx="1272.8" cy="2003.9" r="4.7"/><circle cx="1275.8" cy="2003.9" r="4.7"/><circle cx="1278.7" cy="2003.9" r="4.7"/><circle cx="1281.7" cy="2003.9" r="4.7"/><circle cx="1284.7" cy="2003.9" r="4.7"/><circle cx="1287.7" cy="2003.9" r="4.7"/><circle cx="1290.7" cy="2003.9" r="4.7"/><circle cx="1293.7" cy="2003.9" r="4.7"/><circle cx="1296.7" cy="2003.9" r="4.7"/><circle cx="1299.7" cy="2003.9" r="4.7"/><circle cx="1302.7" cy="2003.9" r="4.7"/><circle cx="1305.7" cy="2003.9" r="4.7"/><circle cx="1308.7" cy="2003.9" r="4.7"/><circle cx="1311.7" cy="2003.9" r="4.7"/><circle cx="1314.7" cy="2003.9" r="4.7"/><circle cx="1317.7" cy="2003.9" r="4.7"/><circle cx="1320.7" cy="2003.9" r="4.7"/><circle cx="1323.7" cy="2003.9" r="4.7"/><circle cx="1326.7" cy="2003.9" r="4.7"/><circle cx="1329.7" cy="2003.9" r="4.7"/><circle cx="1332.7" cy="2003.9" r="4.7"/><circle cx="1335.7" cy="2003.9" r="4.7"/><circle cx="1338.7" cy="2003.9" r="4.7"/><circle cx="1341.7" cy="2003.9" r="4.7"/><circle cx="1344.7" cy="2003.9" r="4.7"/><circle cx="1347.7" cy="2003.9" r="4.7"/><circle cx="1350.7" cy="2003.9" r="4.7"/><circle cx="1353.7" cy="2003.9" r="4.7"/><circle cx="1356.7" cy="2003.9" r="4.7"/><circle cx="1359.7" cy="2003.9" r="4.7"/><circle cx="1362.7" cy="2003.9" r="4.7"/><circle cx="1365.7" cy="2003.9" r="4.7"/><circle cx="1368.7" cy="2003.9" r="4.7"/><circle cx="1371.7" cy="2003.9" r="4.7"/><circle cx="1374.7" cy="2003.9" r="4.7"/><circle cx="1377.6" cy="2003.9" r="4.7"/><circle cx="1380.6" cy="2003.9" r="4.7"/><circle cx="1383.6" cy="2003.9" r="4.7"/><circle cx="1386.6" cy="2003.9" r="4.7"/><circle cx="1389.6" cy="2003.9" r="4.7"/><circle cx="1392.6" cy="2003.9" r="4.7"/><circle cx="1395.6" cy="2003.9" r="4.7"/><circle cx="1398.6" cy="2003.9" r="4.7"/><circle cx="1401.6" cy="2003.9" r="4.7"/><circle cx="1404.6" cy="2003.9" r="4.7"/><circle cx="1407.6" cy="2003.9" r="4.7"/><circle cx="1410.6" cy="2003.9" r="4.7"/><circle cx="1413.6" cy="2003.9" r="4.7"/><circle cx="1416.6" cy="2003.9" r="4.7"/><circle cx="1419.6" cy="2003.9" r="4.7"/><circle cx="1422.6" cy="2003.9" r="4.7"/><circle cx="1425.6" cy="2003.9" r="4.7"/><circle cx="1428.6" cy="2003.9" r="4.7"/><circle cx="1431.6" cy="2003.9" r="4.7"/><circle cx="1434.6" cy="2003.9" r="4.7"/><circle cx="1437.6" cy="2003.9" r="4.7"/><circle cx="1440.6" cy="2003.9" r="4.7"/><circle cx="1443.6" cy="2003.9" r="4.7"/><circle cx="1446.6" cy="2003.9" r="4.7"/><circle cx="1449.6" cy="2003.9" r="4.7"/><circle cx="1452.6" cy="2003.9" r="4.7"/><circle cx="1455.6" cy="2003.9" r="4.7"/><circle cx="1458.6" cy="2003.9" r="4.7"/><circle cx="1461.6" cy="2003.9" r="4.7"/><circle cx="1464.6" cy="2003.9" r="4.7"/><circle cx="1467.6" cy="2003.9" r="4.7"/><circle cx="1470.6" cy="2003.9" r="4.7"/><circle cx="1473.6" cy="2003.9" r="4.7"/><circle cx="1476.5" cy="2003.9" r="4.7"/><circle cx="1479.5" cy="2003.9" r="4.7"/><circle cx="1482.5" cy="2003.9" r="4.7"/><circle cx="1485.5" cy="2003.9" r="4.7"/><circle cx="1488.5" cy="2003.9" r="4.7"/><circle cx="1491.5" cy="2003.9" r="4.7"/><circle cx="1494.5" cy="2003.9" r="4.7"/><circle cx="1497.5" cy="2003.9" r="4.7"/><circle cx="1500.5" cy="2003.9" r="4.7"/><circle cx="1503.5" cy="2003.9" r="4.7"/><circle cx="1506.5" cy="2003.9" r="4.7"/><circle cx="1509.5" cy="2003.9" r="4.7"/><circle cx="1512.5" cy="2003.9" r="4.7"/><circle cx="1515.5" cy="2003.9" r="4.7"/><circle cx="1518.5" cy="2003.9" r="4.7"/><circle cx="1521.5" cy="2003.9" r="4.7"/><circle cx="1524.5" cy="2003.9" r="4.7"/><circle cx="1527.5" cy="2003.9" r="4.7"/><circle cx="1530.5" cy="2003.9" r="4.7"/><circle cx="1533.5" cy="2003.9" r="4.7"/><circle cx="1536.5" cy="2003.9" r="4.7"/><circle cx="1539.5" cy="2003.9" r="4.7"/><circle cx="1542.5" cy="2003.9" r="4.7"/><circle cx="1545.5" cy="2003.9" r="4.7"/><circle cx="1548.5" cy="2003.9" r="4.7"/><circle cx="1551.5" cy="2003.9" r="4.7"/><circle cx="1554.5" cy="2003.9" r="4.7"/><circle cx="1557.5" cy="2003.9" r="4.7"/><circle cx="1560.5" cy="2003.9" r="4.7"/><circle cx="1563.5" cy="2003.9" r="4.7"/><circle cx="1566.5" cy="2003.9" r="4.7"/><circle cx="1569.5" cy="2003.9" r="4.7"/><circle cx="1572.5" cy="2003.9" r="4.7"/><circle cx="1575.5" cy="2003.9" r="4.7"/><circle cx="1578.4" cy="2003.9" r="4.7"/><circle cx="1581.4" cy="2003.9" r="4.7"/><circle cx="1584.4" cy="2003.9" r="4.7"/><circle cx="1587.4" cy="2003.9" r="4.7"/><circle cx="1590.4" cy="2003.9" r="4.7"/><circle cx="1593.4" cy="2003.9" r="4.7"/><circle cx="1596.4" cy="2003.9" r="4.7"/><circle cx="1599.4" cy="2003.9" r="4.7"/><circle cx="1602.4" cy="2003.9" r="4.7"/><circle cx="1605.4" cy="2003.9" r="4.7"/><circle cx="1608.4" cy="2003.9" r="4.7"/><circle cx="1611.4" cy="2003.9" r="4.7"/><circle cx="1614.4" cy="2003.9" r="4.7"/><circle cx="1617.4" cy="2003.9" r="4.7"/><circle cx="1620.4" cy="2003.9" r="4.7"/><circle cx="1623.4" cy="2003.9" r="4.7"/><circle cx="1626.4" cy="2003.9" r="4.7"/><circle cx="1629.4" cy="2003.9" r="4.7"/><circle cx="1632.4" cy="2003.9" r="4.7"/><circle cx="1635.4" cy="2003.9" r="4.7"/><circle cx="1638.4" cy="2003.9" r="4.7"/><circle cx="1641.4" cy="2003.9" r="4.7"/><circle cx="1644.4" cy="2003.9" r="4.7"/><circle cx="1647.4" cy="2003.9" r="4.7"/><circle cx="1650.4" cy="2003.9" r="4.7"/><circle cx="1653.4" cy="2003.9" r="4.7"/><circle cx="1656.4" cy="2003.9" r="4.7"/><circle cx="1659.4" cy="2003.9" r="4.7"/><circle cx="1662.4" cy="2003.9" r="4.7"/><circle cx="1665.4" cy="2003.9" r="4.7"/><circle cx="1668.4" cy="2003.9" r="4.7"/><circle cx="1671.4" cy="2003.9" r="4.7"/><circle cx="1674.4" cy="2003.9" r="4.7"/><circle cx="1677.3" cy="2003.9" r="4.7"/><circle cx="1680.3" cy="2003.9" r="4.7"/><circle cx="1683.3" cy="2003.9" r="4.7"/><circle cx="1686.3" cy="2003.9" r="4.7"/><circle cx="1689.3" cy="2003.9" r="4.7"/><circle cx="1692.3" cy="2003.9" r="4.7"/><circle cx="1695.3" cy="2003.9" r="4.7"/><circle cx="1698.3" cy="2003.9" r="4.7"/><circle cx="1701.3" cy="2003.9" r="4.7"/><circle cx="1704.3" cy="2003.9" r="4.7"/><circle cx="1707.3" cy="2003.9" r="4.7"/><circle cx="1710.3" cy="2003.9" r="4.7"/><circle cx="1713.3" cy="2003.9" r="4.7"/><circle cx="1716.3" cy="2003.9" r="4.7"/><circle cx="1719.3" cy="2003.9" r="4.7"/><circle cx="1722.3" cy="2003.9" r="4.7"/><circle cx="1725.3" cy="2003.9" r="4.7"/><circle cx="1728.3" cy="2003.9" r="4.7"/><circle cx="1731.3" cy="2003.9" r="4.7"/><circle cx="1734.3" cy="2003.9" r="4.7"/><circle cx="1737.3" cy="2003.9" r="4.7"/><circle cx="1740.3" cy="2003.9" r="4.7"/><circle cx="1743.3" cy="2003.9" r="4.7"/><circle cx="1746.3" cy="2003.9" r="4.7"/><circle cx="1749.3" cy="2003.9" r="4.7"/><circle cx="1752.3" cy="2003.9" r="4.7"/><circle cx="1755.3" cy="2003.9" r="4.7"/><circle cx="1758.3" cy="2003.9" r="4.7"/><circle cx="1761.3" cy="2003.9" r="4.7"/><circle cx="1764.3" cy="2003.9" r="4.7"/><circle cx="1767.3" cy="2003.9" r="4.7"/><circle cx="1770.3" cy="2003.9" r="4.7"/><circle cx="1773.3" cy="2003.9" r="4.7"/><circle cx="1776.2" cy="2003.9" r="4.7"/><circle cx="1779.2" cy="2003.9" r="4.7"/><circle cx="1782.2" cy="2003.9" r="4.7"/><circle cx="1785.2" cy="2003.9" r="4.7"/><circle cx="1788.2" cy="2003.9" r="4.7"/><circle cx="1791.2" cy="2003.9" r="4.7"/><circle cx="1794.2" cy="2003.9" r="4.7"/><circle cx="1797.2" cy="2003.9" r="4.7"/><circle cx="1800.2" cy="2003.9" r="4.7"/><circle cx="1803.2" cy="2003.9" r="4.7"/><circle cx="1806.2" cy="2003.9" r="4.7"/><circle cx="1809.2" cy="2003.9" r="4.7"/><circle cx="1812.2" cy="2003.9" r="4.7"/><circle cx="1815.2" cy="2003.9" r="4.7"/><circle cx="1818.2" cy="2003.9" r="4.7"/><circle cx="1821.2" cy="2003.9" r="4.7"/><circle cx="1824.2" cy="2003.9" r="4.7"/><circle cx="1827.2" cy="2003.9" r="4.7"/><circle cx="1830.2" cy="2003.9" r="4.7"/><circle cx="1833.2" cy="2003.9" r="4.7"/><circle cx="1836.2" cy="2003.9" r="4.7"/><circle cx="1839.2" cy="2003.9" r="4.7"/><circle cx="1842.2" cy="2003.9" r="4.7"/><circle cx="1845.2" cy="2003.9" r="4.7"/><circle cx="1848.2" cy="2003.9" r="4.7"/><circle cx="1851.2" cy="2003.9" r="4.7"/><circle cx="1854.2" cy="2003.9" r="4.7"/><circle cx="1857.2" cy="2003.9" r="4.7"/><circle cx="1860.2" cy="2003.9" r="4.7"/><circle cx="1863.2" cy="2003.9" r="4.7"/><circle cx="1866.2" cy="2003.9" r="4.7"/><circle cx="1869.2" cy="2003.9" r="4.7"/><circle cx="1872.2" cy="2003.9" r="4.7"/><circle cx="1875.2" cy="2003.9" r="4.7"/><circle cx="1878.1" cy="2003.9" r="4.7"/><circle cx="1881.1" cy="2003.9" r="4.7"/><circle cx="1884.1" cy="2003.9" r="4.7"/><circle cx="1887.1" cy="2003.9" r="4.7"/><circle cx="1890.1" cy="2003.9" r="4.7"/><circle cx="1893.1" cy="2003.9" r="4.7"/><circle cx="1896.1" cy="2003.9" r="4.7"/><circle cx="1899.1" cy="2003.9" r="4.7"/><circle cx="1902.1" cy="2003.9" r="4.7"/><circle cx="1905.1" cy="2003.9" r="4.7"/><circle cx="1446.4" cy="2008.0" r="4.7"/><circle cx="1475.2" cy="2008.0" r="4.7"/><circle cx="1495.4" cy="2008.0" r="4.7"/></g>
<g fill="#fff" stroke="#1f6fba" stroke-width="2.2" clip-path="url(#hclip)"><circle cx="130.9" cy="1862.1" r="4.7"/><circle cx="133.9" cy="1861.2" r="4.7"/><circle cx="136.9" cy="1860.2" r="4.7"/><circle cx="139.9" cy="1859.3" r="4.7"/><circle cx="142.9" cy="1858.3" r="4.7"/><circle cx="145.9" cy="1857.4" r="4.7"/><circle cx="148.9" cy="1856.5" r="4.7"/><circle cx="151.9" cy="1855.7" r="4.7"/><circle cx="154.9" cy="1855.3" r="4.7"/><circle cx="157.9" cy="1854.8" r="4.7"/><circle cx="160.9" cy="1854.4" r="4.7"/><circle cx="163.9" cy="1854.0" r="4.7"/><circle cx="166.9" cy="1853.6" r="4.7"/><circle cx="169.9" cy="1853.2" r="4.7"/><circle cx="172.9" cy="1852.8" r="4.7"/><circle cx="175.9" cy="1852.5" r="4.7"/><circle cx="178.8" cy="1852.2" r="4.7"/><circle cx="181.8" cy="1852.0" r="4.7"/><circle cx="184.8" cy="1851.7" r="4.7"/><circle cx="187.8" cy="1851.5" r="4.7"/><circle cx="190.8" cy="1851.2" r="4.7"/><circle cx="193.8" cy="1851.0" r="4.7"/><circle cx="196.8" cy="1850.7" r="4.7"/><circle cx="199.8" cy="1850.6" r="4.7"/><circle cx="202.8" cy="1850.4" r="4.7"/><circle cx="205.8" cy="1850.3" r="4.7"/><circle cx="208.8" cy="1850.1" r="4.7"/><circle cx="211.8" cy="1850.0" r="4.7"/><circle cx="214.8" cy="1849.9" r="4.7"/><circle cx="217.8" cy="1849.7" r="4.7"/><circle cx="220.8" cy="1849.6" r="4.7"/><circle cx="223.8" cy="1849.4" r="4.7"/><circle cx="226.8" cy="1849.3" r="4.7"/><circle cx="229.8" cy="1849.2" r="4.7"/><circle cx="232.8" cy="1849.0" r="4.7"/><circle cx="235.8" cy="1848.9" r="4.7"/><circle cx="238.8" cy="1848.7" r="4.7"/><circle cx="241.8" cy="1848.6" r="4.7"/><circle cx="244.8" cy="1848.5" r="4.7"/><circle cx="247.8" cy="1848.3" r="4.7"/><circle cx="250.8" cy="1848.2" r="4.7"/><circle cx="253.8" cy="1848.0" r="4.7"/><circle cx="256.8" cy="1848.0" r="4.7"/><circle cx="259.8" cy="1847.9" r="4.7"/><circle cx="262.8" cy="1847.8" r="4.7"/><circle cx="265.8" cy="1847.8" r="4.7"/><circle cx="268.8" cy="1847.7" r="4.7"/><circle cx="271.8" cy="1847.7" r="4.7"/><circle cx="274.8" cy="1847.6" r="4.7"/><circle cx="277.8" cy="1847.5" r="4.7"/><circle cx="280.7" cy="1847.5" r="4.7"/><circle cx="283.7" cy="1847.4" r="4.7"/><circle cx="286.7" cy="1847.4" r="4.7"/><circle cx="289.7" cy="1847.3" r="4.7"/><circle cx="292.7" cy="1847.3" r="4.7"/><circle cx="295.7" cy="1847.3" r="4.7"/><circle cx="298.7" cy="1847.2" r="4.7"/><circle cx="301.7" cy="1847.2" r="4.7"/><circle cx="304.7" cy="1847.2" r="4.7"/><circle cx="307.7" cy="1847.2" r="4.7"/><circle cx="310.7" cy="1847.1" r="4.7"/><circle cx="313.7" cy="1847.1" r="4.7"/><circle cx="316.7" cy="1847.1" r="4.7"/><circle cx="319.7" cy="1847.1" r="4.7"/><circle cx="322.7" cy="1847.1" r="4.7"/><circle cx="325.7" cy="1847.0" r="4.7"/><circle cx="328.7" cy="1847.0" r="4.7"/><circle cx="331.7" cy="1847.0" r="4.7"/><circle cx="334.7" cy="1847.0" r="4.7"/><circle cx="337.7" cy="1846.9" r="4.7"/><circle cx="340.7" cy="1846.9" r="4.7"/><circle cx="343.7" cy="1846.9" r="4.7"/><circle cx="346.7" cy="1846.9" r="4.7"/><circle cx="349.7" cy="1846.9" r="4.7"/><circle cx="352.7" cy="1846.8" r="4.7"/><circle cx="355.7" cy="1846.8" r="4.7"/><circle cx="358.7" cy="1846.8" r="4.7"/><circle cx="361.7" cy="1846.8" r="4.7"/><circle cx="364.7" cy="1846.8" r="4.7"/><circle cx="367.7" cy="1846.8" r="4.7"/><circle cx="370.7" cy="1846.8" r="4.7"/><circle cx="373.7" cy="1846.8" r="4.7"/><circle cx="376.7" cy="1846.8" r="4.7"/><circle cx="379.6" cy="1846.8" r="4.7"/><circle cx="382.6" cy="1846.8" r="4.7"/><circle cx="385.6" cy="1846.8" r="4.7"/><circle cx="388.6" cy="1846.8" r="4.7"/><circle cx="391.6" cy="1846.8" r="4.7"/><circle cx="394.6" cy="1846.8" r="4.7"/><circle cx="397.6" cy="1846.8" r="4.7"/><circle cx="400.6" cy="1846.8" r="4.7"/><circle cx="403.6" cy="1846.8" r="4.7"/><circle cx="406.6" cy="1846.8" r="4.7"/><circle cx="409.6" cy="1846.8" r="4.7"/><circle cx="412.6" cy="1846.8" r="4.7"/><circle cx="415.6" cy="1846.8" r="4.7"/><circle cx="418.6" cy="1846.8" r="4.7"/><circle cx="421.6" cy="1846.8" r="4.7"/><circle cx="424.6" cy="1846.8" r="4.7"/><circle cx="427.6" cy="1846.8" r="4.7"/><circle cx="430.6" cy="1846.8" r="4.7"/><circle cx="433.6" cy="1846.8" r="4.7"/><circle cx="436.6" cy="1846.8" r="4.7"/><circle cx="439.6" cy="1846.8" r="4.7"/><circle cx="442.6" cy="1846.8" r="4.7"/><circle cx="445.6" cy="1846.8" r="4.7"/><circle cx="448.6" cy="1846.8" r="4.7"/><circle cx="451.6" cy="1846.8" r="4.7"/><circle cx="454.6" cy="1846.8" r="4.7"/><circle cx="457.6" cy="1846.8" r="4.7"/><circle cx="460.6" cy="1846.8" r="4.7"/><circle cx="463.6" cy="1846.8" r="4.7"/><circle cx="466.6" cy="1846.8" r="4.7"/><circle cx="469.6" cy="1846.8" r="4.7"/><circle cx="472.6" cy="1846.8" r="4.7"/><circle cx="475.6" cy="1846.8" r="4.7"/><circle cx="478.5" cy="1846.8" r="4.7"/><circle cx="481.5" cy="1846.8" r="4.7"/><circle cx="484.5" cy="1846.8" r="4.7"/><circle cx="487.5" cy="1846.8" r="4.7"/><circle cx="490.5" cy="1846.8" r="4.7"/><circle cx="493.5" cy="1846.8" r="4.7"/><circle cx="496.5" cy="1846.8" r="4.7"/><circle cx="499.5" cy="1846.8" r="4.7"/><circle cx="502.5" cy="1846.8" r="4.7"/><circle cx="505.5" cy="1846.8" r="4.7"/><circle cx="508.5" cy="1846.8" r="4.7"/><circle cx="511.5" cy="1846.8" r="4.7"/><circle cx="514.5" cy="1846.8" r="4.7"/><circle cx="517.5" cy="1846.8" r="4.7"/><circle cx="520.5" cy="1846.8" r="4.7"/><circle cx="523.5" cy="1846.8" r="4.7"/><circle cx="526.5" cy="1846.8" r="4.7"/><circle cx="529.5" cy="1846.8" r="4.7"/><circle cx="532.5" cy="1846.8" r="4.7"/><circle cx="535.5" cy="1846.8" r="4.7"/><circle cx="538.5" cy="1846.8" r="4.7"/><circle cx="541.5" cy="1846.8" r="4.7"/><circle cx="544.5" cy="1846.8" r="4.7"/><circle cx="547.5" cy="1846.8" r="4.7"/><circle cx="550.5" cy="1846.8" r="4.7"/><circle cx="553.5" cy="1846.8" r="4.7"/><circle cx="556.5" cy="1846.8" r="4.7"/><circle cx="559.5" cy="1846.8" r="4.7"/><circle cx="562.5" cy="1846.8" r="4.7"/><circle cx="565.5" cy="1846.8" r="4.7"/><circle cx="568.5" cy="1846.8" r="4.7"/><circle cx="571.5" cy="1846.8" r="4.7"/><circle cx="574.5" cy="1846.8" r="4.7"/><circle cx="577.4" cy="1846.8" r="4.7"/><circle cx="580.4" cy="1846.8" r="4.7"/><circle cx="583.4" cy="1846.8" r="4.7"/><circle cx="586.4" cy="1846.8" r="4.7"/><circle cx="589.4" cy="1846.8" r="4.7"/><circle cx="592.4" cy="1846.8" r="4.7"/><circle cx="595.4" cy="1846.8" r="4.7"/><circle cx="598.4" cy="1846.8" r="4.7"/><circle cx="601.4" cy="1846.8" r="4.7"/><circle cx="604.4" cy="1846.8" r="4.7"/><circle cx="607.4" cy="1846.8" r="4.7"/><circle cx="610.4" cy="1846.8" r="4.7"/><circle cx="613.4" cy="1846.8" r="4.7"/><circle cx="616.4" cy="1846.8" r="4.7"/><circle cx="619.4" cy="1846.8" r="4.7"/><circle cx="622.4" cy="1846.8" r="4.7"/><circle cx="625.4" cy="1846.8" r="4.7"/><circle cx="628.4" cy="1846.8" r="4.7"/><circle cx="631.4" cy="1846.8" r="4.7"/><circle cx="634.4" cy="1846.8" r="4.7"/><circle cx="637.4" cy="1846.8" r="4.7"/><circle cx="640.4" cy="1846.8" r="4.7"/><circle cx="643.4" cy="1846.8" r="4.7"/><circle cx="646.4" cy="1846.8" r="4.7"/><circle cx="649.4" cy="1846.8" r="4.7"/><circle cx="652.4" cy="1846.8" r="4.7"/><circle cx="655.4" cy="1846.8" r="4.7"/><circle cx="658.4" cy="1846.8" r="4.7"/><circle cx="661.4" cy="1846.8" r="4.7"/><circle cx="664.4" cy="1846.8" r="4.7"/><circle cx="667.4" cy="1846.8" r="4.7"/><circle cx="670.4" cy="1846.8" r="4.7"/><circle cx="673.4" cy="1846.8" r="4.7"/><circle cx="676.4" cy="1846.8" r="4.7"/><circle cx="679.3" cy="1846.8" r="4.7"/><circle cx="682.3" cy="1846.8" r="4.7"/><circle cx="685.3" cy="1846.8" r="4.7"/><circle cx="688.3" cy="1846.8" r="4.7"/><circle cx="691.3" cy="1846.8" r="4.7"/><circle cx="694.3" cy="1846.8" r="4.7"/><circle cx="697.3" cy="1846.8" r="4.7"/><circle cx="700.3" cy="1846.8" r="4.7"/><circle cx="703.3" cy="1846.8" r="4.7"/><circle cx="706.3" cy="1846.8" r="4.7"/><circle cx="709.3" cy="1846.8" r="4.7"/><circle cx="712.3" cy="1846.8" r="4.7"/><circle cx="715.3" cy="1846.8" r="4.7"/><circle cx="718.3" cy="1846.8" r="4.7"/><circle cx="721.3" cy="1846.8" r="4.7"/><circle cx="724.3" cy="1846.8" r="4.7"/><circle cx="727.3" cy="1846.8" r="4.7"/><circle cx="730.3" cy="1846.8" r="4.7"/><circle cx="733.3" cy="1846.8" r="4.7"/><circle cx="736.3" cy="1846.8" r="4.7"/><circle cx="739.3" cy="1846.8" r="4.7"/><circle cx="742.3" cy="1846.8" r="4.7"/><circle cx="745.3" cy="1846.8" r="4.7"/><circle cx="748.3" cy="1846.8" r="4.7"/><circle cx="751.3" cy="1846.8" r="4.7"/><circle cx="754.3" cy="1846.8" r="4.7"/><circle cx="757.3" cy="1846.8" r="4.7"/><circle cx="760.3" cy="1846.8" r="4.7"/><circle cx="763.3" cy="1846.8" r="4.7"/><circle cx="766.3" cy="1846.8" r="4.7"/><circle cx="769.3" cy="1846.8" r="4.7"/><circle cx="772.3" cy="1846.8" r="4.7"/><circle cx="775.3" cy="1846.8" r="4.7"/><circle cx="778.2" cy="1846.8" r="4.7"/><circle cx="781.2" cy="1846.8" r="4.7"/><circle cx="784.2" cy="1846.8" r="4.7"/><circle cx="787.2" cy="1846.8" r="4.7"/><circle cx="790.2" cy="1846.8" r="4.7"/><circle cx="793.2" cy="1846.8" r="4.7"/><circle cx="796.2" cy="1846.8" r="4.7"/><circle cx="799.2" cy="1846.8" r="4.7"/><circle cx="802.2" cy="1846.8" r="4.7"/><circle cx="805.2" cy="1846.8" r="4.7"/><circle cx="808.2" cy="1846.8" r="4.7"/><circle cx="811.2" cy="1846.8" r="4.7"/><circle cx="814.2" cy="1846.8" r="4.7"/><circle cx="817.2" cy="1846.8" r="4.7"/><circle cx="820.2" cy="1846.8" r="4.7"/><circle cx="823.2" cy="1846.8" r="4.7"/><circle cx="826.2" cy="1846.8" r="4.7"/><circle cx="829.2" cy="1846.8" r="4.7"/><circle cx="832.2" cy="1846.8" r="4.7"/><circle cx="835.2" cy="1846.8" r="4.7"/><circle cx="838.2" cy="1846.8" r="4.7"/><circle cx="841.2" cy="1846.8" r="4.7"/><circle cx="844.2" cy="1846.8" r="4.7"/><circle cx="847.2" cy="1846.8" r="4.7"/><circle cx="850.2" cy="1846.8" r="4.7"/><circle cx="853.2" cy="1846.8" r="4.7"/><circle cx="856.2" cy="1846.8" r="4.7"/><circle cx="859.2" cy="1846.8" r="4.7"/><circle cx="862.2" cy="1846.8" r="4.7"/><circle cx="865.2" cy="1846.8" r="4.7"/><circle cx="868.2" cy="1846.8" r="4.7"/><circle cx="871.2" cy="1846.8" r="4.7"/><circle cx="874.2" cy="1846.8" r="4.7"/><circle cx="877.1" cy="1846.8" r="4.7"/><circle cx="880.1" cy="1846.8" r="4.7"/><circle cx="883.1" cy="1846.8" r="4.7"/><circle cx="886.1" cy="1846.8" r="4.7"/><circle cx="889.1" cy="1846.8" r="4.7"/><circle cx="892.1" cy="1846.8" r="4.7"/><circle cx="895.1" cy="1846.8" r="4.7"/><circle cx="898.1" cy="1846.8" r="4.7"/><circle cx="901.1" cy="1846.8" r="4.7"/><circle cx="904.1" cy="1846.8" r="4.7"/><circle cx="907.1" cy="1846.8" r="4.7"/><circle cx="910.1" cy="1846.8" r="4.7"/><circle cx="913.1" cy="1846.8" r="4.7"/><circle cx="916.1" cy="1846.8" r="4.7"/><circle cx="919.1" cy="1846.8" r="4.7"/><circle cx="922.1" cy="1846.8" r="4.7"/><circle cx="925.1" cy="1846.8" r="4.7"/><circle cx="928.1" cy="1846.8" r="4.7"/><circle cx="931.1" cy="1846.8" r="4.7"/><circle cx="934.1" cy="1846.8" r="4.7"/><circle cx="937.1" cy="1846.8" r="4.7"/><circle cx="940.1" cy="1846.8" r="4.7"/><circle cx="943.1" cy="1846.8" r="4.7"/><circle cx="946.1" cy="1846.8" r="4.7"/><circle cx="949.1" cy="1846.8" r="4.7"/><circle cx="952.1" cy="1846.8" r="4.7"/><circle cx="955.1" cy="1846.8" r="4.7"/><circle cx="958.1" cy="1846.8" r="4.7"/><circle cx="961.1" cy="1846.8" r="4.7"/><circle cx="964.1" cy="1846.8" r="4.7"/><circle cx="967.1" cy="1846.8" r="4.7"/><circle cx="970.1" cy="1846.8" r="4.7"/><circle cx="973.1" cy="1846.8" r="4.7"/><circle cx="976.1" cy="1846.8" r="4.7"/><circle cx="979.0" cy="1846.8" r="4.7"/><circle cx="982.0" cy="1846.8" r="4.7"/><circle cx="985.0" cy="1846.8" r="4.7"/><circle cx="988.0" cy="1846.8" r="4.7"/><circle cx="991.0" cy="1846.8" r="4.7"/><circle cx="994.0" cy="1846.8" r="4.7"/><circle cx="997.0" cy="1846.8" r="4.7"/><circle cx="1000.0" cy="1846.8" r="4.7"/><circle cx="1003.0" cy="1846.8" r="4.7"/><circle cx="1006.0" cy="1846.8" r="4.7"/><circle cx="1009.0" cy="1846.8" r="4.7"/><circle cx="1012.0" cy="1846.8" r="4.7"/><circle cx="1015.0" cy="1846.8" r="4.7"/><circle cx="1018.0" cy="1846.8" r="4.7"/><circle cx="1021.0" cy="1846.8" r="4.7"/><circle cx="1024.0" cy="1846.8" r="4.7"/><circle cx="1027.0" cy="1846.8" r="4.7"/><circle cx="1030.0" cy="1846.8" r="4.7"/><circle cx="1033.0" cy="1846.8" r="4.7"/><circle cx="1036.0" cy="1846.8" r="4.7"/><circle cx="1039.0" cy="1846.8" r="4.7"/><circle cx="1042.0" cy="1846.8" r="4.7"/><circle cx="1045.0" cy="1846.8" r="4.7"/><circle cx="1048.0" cy="1846.8" r="4.7"/><circle cx="1051.0" cy="1846.8" r="4.7"/><circle cx="1054.0" cy="1846.8" r="4.7"/><circle cx="1057.0" cy="1846.8" r="4.7"/><circle cx="1060.0" cy="1846.8" r="4.7"/><circle cx="1063.0" cy="1846.8" r="4.7"/><circle cx="1066.0" cy="1846.8" r="4.7"/><circle cx="1069.0" cy="1846.8" r="4.7"/><circle cx="1072.0" cy="1846.8" r="4.7"/><circle cx="1075.0" cy="1846.8" r="4.7"/><circle cx="1077.9" cy="1846.8" r="4.7"/><circle cx="1080.9" cy="1846.8" r="4.7"/><circle cx="1083.9" cy="1846.8" r="4.7"/><circle cx="1086.9" cy="1846.8" r="4.7"/><circle cx="1089.9" cy="1846.8" r="4.7"/><circle cx="1092.9" cy="1846.8" r="4.7"/><circle cx="1095.9" cy="1846.8" r="4.7"/><circle cx="1098.9" cy="1846.8" r="4.7"/><circle cx="1101.9" cy="1846.8" r="4.7"/><circle cx="1104.9" cy="1846.8" r="4.7"/><circle cx="1107.9" cy="1846.8" r="4.7"/><circle cx="1110.9" cy="1846.8" r="4.7"/><circle cx="1113.9" cy="1846.8" r="4.7"/><circle cx="1116.9" cy="1846.8" r="4.7"/><circle cx="1119.9" cy="1846.8" r="4.7"/><circle cx="1122.9" cy="1846.8" r="4.7"/><circle cx="1125.9" cy="1846.8" r="4.7"/><circle cx="1128.9" cy="1846.8" r="4.7"/><circle cx="1131.9" cy="1846.8" r="4.7"/><circle cx="1134.9" cy="1846.8" r="4.7"/><circle cx="1137.9" cy="1846.8" r="4.7"/><circle cx="1140.9" cy="1846.8" r="4.7"/><circle cx="1143.9" cy="1846.8" r="4.7"/><circle cx="1146.9" cy="1846.8" r="4.7"/><circle cx="1149.9" cy="1846.8" r="4.7"/><circle cx="1152.9" cy="1846.8" r="4.7"/><circle cx="1155.9" cy="1846.8" r="4.7"/><circle cx="1158.9" cy="1846.8" r="4.7"/><circle cx="1161.9" cy="1846.8" r="4.7"/><circle cx="1164.9" cy="1846.8" r="4.7"/><circle cx="1167.9" cy="1846.8" r="4.7"/><circle cx="1170.9" cy="1846.8" r="4.7"/><circle cx="1173.9" cy="1846.8" r="4.7"/><circle cx="1176.9" cy="1846.8" r="4.7"/><circle cx="1179.8" cy="1846.8" r="4.7"/><circle cx="1182.8" cy="1846.8" r="4.7"/><circle cx="1185.8" cy="1846.8" r="4.7"/><circle cx="1188.8" cy="1846.8" r="4.7"/><circle cx="1191.8" cy="1846.8" r="4.7"/><circle cx="1194.8" cy="1846.8" r="4.7"/><circle cx="1197.8" cy="1846.8" r="4.7"/><circle cx="1200.8" cy="1846.8" r="4.7"/><circle cx="1203.8" cy="1846.8" r="4.7"/><circle cx="1206.8" cy="1846.8" r="4.7"/><circle cx="1209.8" cy="1846.8" r="4.7"/><circle cx="1212.8" cy="1846.8" r="4.7"/><circle cx="1215.8" cy="1846.8" r="4.7"/><circle cx="1218.8" cy="1846.8" r="4.7"/><circle cx="1221.8" cy="1846.8" r="4.7"/><circle cx="1224.8" cy="1846.8" r="4.7"/><circle cx="1227.8" cy="1846.8" r="4.7"/><circle cx="1230.8" cy="1846.8" r="4.7"/><circle cx="1233.8" cy="1846.8" r="4.7"/><circle cx="1236.8" cy="1846.8" r="4.7"/><circle cx="1239.8" cy="1846.8" r="4.7"/><circle cx="1242.8" cy="1846.8" r="4.7"/><circle cx="1245.8" cy="1846.8" r="4.7"/><circle cx="1248.8" cy="1846.8" r="4.7"/><circle cx="1251.8" cy="1846.8" r="4.7"/><circle cx="1254.8" cy="1846.8" r="4.7"/><circle cx="1257.8" cy="1846.8" r="4.7"/><circle cx="1260.8" cy="1846.8" r="4.7"/><circle cx="1263.8" cy="1846.8" r="4.7"/><circle cx="1266.8" cy="1846.8" r="4.7"/><circle cx="1269.8" cy="1846.8" r="4.7"/><circle cx="1272.8" cy="1846.8" r="4.7"/><circle cx="1275.8" cy="1846.8" r="4.7"/><circle cx="1278.7" cy="1846.8" r="4.7"/><circle cx="1281.7" cy="1846.8" r="4.7"/><circle cx="1284.7" cy="1846.8" r="4.7"/><circle cx="1287.7" cy="1846.8" r="4.7"/><circle cx="1290.7" cy="1846.8" r="4.7"/><circle cx="1293.7" cy="1846.8" r="4.7"/><circle cx="1296.7" cy="1846.8" r="4.7"/><circle cx="1299.7" cy="1846.8" r="4.7"/><circle cx="1302.7" cy="1846.8" r="4.7"/><circle cx="1305.7" cy="1846.8" r="4.7"/><circle cx="1308.7" cy="1846.8" r="4.7"/><circle cx="1311.7" cy="1846.8" r="4.7"/><circle cx="1314.7" cy="1846.8" r="4.7"/><circle cx="1317.7" cy="1846.8" r="4.7"/><circle cx="1320.7" cy="1846.8" r="4.7"/><circle cx="1323.7" cy="1846.8" r="4.7"/><circle cx="1326.7" cy="1846.8" r="4.7"/><circle cx="1329.7" cy="1846.8" r="4.7"/><circle cx="1332.7" cy="1846.8" r="4.7"/><circle cx="1335.7" cy="1846.8" r="4.7"/><circle cx="1338.7" cy="1846.8" r="4.7"/><circle cx="1341.7" cy="1846.8" r="4.7"/><circle cx="1344.7" cy="1846.8" r="4.7"/><circle cx="1347.7" cy="1846.8" r="4.7"/><circle cx="1350.7" cy="1846.8" r="4.7"/><circle cx="1353.7" cy="1846.8" r="4.7"/><circle cx="1356.7" cy="1846.8" r="4.7"/><circle cx="1359.7" cy="1846.8" r="4.7"/><circle cx="1362.7" cy="1846.8" r="4.7"/><circle cx="1365.7" cy="1846.8" r="4.7"/><circle cx="1368.7" cy="1846.8" r="4.7"/><circle cx="1371.7" cy="1846.8" r="4.7"/><circle cx="1374.7" cy="1846.8" r="4.7"/><circle cx="1377.6" cy="1846.8" r="4.7"/><circle cx="1380.6" cy="1846.8" r="4.7"/><circle cx="1383.6" cy="1846.8" r="4.7"/><circle cx="1386.6" cy="1846.8" r="4.7"/><circle cx="1389.6" cy="1846.8" r="4.7"/><circle cx="1392.6" cy="1846.8" r="4.7"/><circle cx="1395.6" cy="1846.8" r="4.7"/><circle cx="1398.6" cy="1846.8" r="4.7"/><circle cx="1401.6" cy="1847.1" r="4.7"/><circle cx="1404.6" cy="1847.6" r="4.7"/><circle cx="1407.6" cy="1848.2" r="4.7"/><circle cx="1410.6" cy="1848.7" r="4.7"/><circle cx="1413.6" cy="1849.3" r="4.7"/><circle cx="1416.6" cy="1849.6" r="4.7"/><circle cx="1419.6" cy="1849.8" r="4.7"/><circle cx="1422.6" cy="1849.9" r="4.7"/><circle cx="1425.6" cy="1850.1" r="4.7"/><circle cx="1428.6" cy="1850.3" r="4.7"/><circle cx="1431.6" cy="1850.5" r="4.7"/><circle cx="1434.6" cy="1850.1" r="4.7"/><circle cx="1437.6" cy="1849.7" r="4.7"/><circle cx="1440.6" cy="1849.3" r="4.7"/><circle cx="1443.6" cy="1848.9" r="4.7"/><circle cx="1446.6" cy="1848.5" r="4.7"/><circle cx="1449.6" cy="1848.1" r="4.7"/><circle cx="1452.6" cy="1848.0" r="4.7"/><circle cx="1455.6" cy="1848.0" r="4.7"/><circle cx="1458.6" cy="1848.0" r="4.7"/><circle cx="1461.6" cy="1848.0" r="4.7"/><circle cx="1464.6" cy="1848.0" r="4.7"/><circle cx="1467.6" cy="1848.0" r="4.7"/><circle cx="1470.6" cy="1848.0" r="4.7"/><circle cx="1473.6" cy="1847.9" r="4.7"/><circle cx="1476.5" cy="1847.9" r="4.7"/><circle cx="1479.5" cy="1847.9" r="4.7"/><circle cx="1482.5" cy="1847.9" r="4.7"/><circle cx="1485.5" cy="1847.9" r="4.7"/><circle cx="1488.5" cy="1847.9" r="4.7"/><circle cx="1491.5" cy="1847.9" r="4.7"/><circle cx="1494.5" cy="1847.9" r="4.7"/><circle cx="1497.5" cy="1847.9" r="4.7"/><circle cx="1500.5" cy="1847.9" r="4.7"/><circle cx="1503.5" cy="1847.9" r="4.7"/><circle cx="1506.5" cy="1847.9" r="4.7"/><circle cx="1509.5" cy="1847.9" r="4.7"/><circle cx="1512.5" cy="1847.9" r="4.7"/><circle cx="1515.5" cy="1847.9" r="4.7"/><circle cx="1518.5" cy="1847.8" r="4.7"/><circle cx="1521.5" cy="1847.8" r="4.7"/><circle cx="1524.5" cy="1847.8" r="4.7"/><circle cx="1527.5" cy="1847.8" r="4.7"/><circle cx="1530.5" cy="1847.8" r="4.7"/><circle cx="1533.5" cy="1847.8" r="4.7"/><circle cx="1536.5" cy="1847.8" r="4.7"/><circle cx="1539.5" cy="1847.8" r="4.7"/><circle cx="1542.5" cy="1847.8" r="4.7"/><circle cx="1545.5" cy="1847.8" r="4.7"/><circle cx="1548.5" cy="1847.8" r="4.7"/><circle cx="1551.5" cy="1847.8" r="4.7"/><circle cx="1554.5" cy="1847.8" r="4.7"/><circle cx="1557.5" cy="1847.8" r="4.7"/><circle cx="1560.5" cy="1847.8" r="4.7"/><circle cx="1563.5" cy="1847.8" r="4.7"/><circle cx="1566.5" cy="1847.7" r="4.7"/><circle cx="1569.5" cy="1847.7" r="4.7"/><circle cx="1572.5" cy="1847.7" r="4.7"/><circle cx="1575.5" cy="1847.7" r="4.7"/><circle cx="1578.4" cy="1847.7" r="4.7"/><circle cx="1581.4" cy="1847.7" r="4.7"/><circle cx="1584.4" cy="1847.7" r="4.7"/><circle cx="1587.4" cy="1847.7" r="4.7"/><circle cx="1590.4" cy="1847.7" r="4.7"/><circle cx="1593.4" cy="1847.7" r="4.7"/><circle cx="1596.4" cy="1847.7" r="4.7"/><circle cx="1599.4" cy="1847.7" r="4.7"/><circle cx="1602.4" cy="1847.7" r="4.7"/><circle cx="1605.4" cy="1847.7" r="4.7"/><circle cx="1608.4" cy="1847.7" r="4.7"/><circle cx="1611.4" cy="1847.6" r="4.7"/><circle cx="1614.4" cy="1847.6" r="4.7"/><circle cx="1617.4" cy="1847.6" r="4.7"/><circle cx="1620.4" cy="1847.6" r="4.7"/><circle cx="1623.4" cy="1847.6" r="4.7"/><circle cx="1626.4" cy="1847.6" r="4.7"/><circle cx="1629.4" cy="1847.6" r="4.7"/><circle cx="1632.4" cy="1847.6" r="4.7"/><circle cx="1635.4" cy="1847.6" r="4.7"/><circle cx="1638.4" cy="1847.6" r="4.7"/><circle cx="1641.4" cy="1847.6" r="4.7"/><circle cx="1644.4" cy="1847.6" r="4.7"/><circle cx="1647.4" cy="1847.6" r="4.7"/><circle cx="1650.4" cy="1847.6" r="4.7"/><circle cx="1653.4" cy="1847.6" r="4.7"/><circle cx="1656.4" cy="1847.5" r="4.7"/><circle cx="1659.4" cy="1847.5" r="4.7"/><circle cx="1662.4" cy="1847.5" r="4.7"/><circle cx="1665.4" cy="1847.5" r="4.7"/><circle cx="1668.4" cy="1847.5" r="4.7"/><circle cx="1671.4" cy="1847.5" r="4.7"/><circle cx="1674.4" cy="1847.5" r="4.7"/><circle cx="1677.3" cy="1847.5" r="4.7"/><circle cx="1680.3" cy="1847.5" r="4.7"/><circle cx="1683.3" cy="1847.5" r="4.7"/><circle cx="1686.3" cy="1847.5" r="4.7"/><circle cx="1689.3" cy="1847.5" r="4.7"/><circle cx="1692.3" cy="1847.5" r="4.7"/><circle cx="1695.3" cy="1847.5" r="4.7"/><circle cx="1698.3" cy="1847.5" r="4.7"/><circle cx="1701.3" cy="1847.4" r="4.7"/><circle cx="1704.3" cy="1847.4" r="4.7"/><circle cx="1707.3" cy="1847.4" r="4.7"/><circle cx="1710.3" cy="1847.4" r="4.7"/><circle cx="1713.3" cy="1847.4" r="4.7"/><circle cx="1716.3" cy="1847.4" r="4.7"/><circle cx="1719.3" cy="1847.4" r="4.7"/><circle cx="1722.3" cy="1847.4" r="4.7"/><circle cx="1725.3" cy="1847.4" r="4.7"/><circle cx="1728.3" cy="1847.4" r="4.7"/><circle cx="1731.3" cy="1847.4" r="4.7"/><circle cx="1734.3" cy="1847.4" r="4.7"/><circle cx="1737.3" cy="1847.4" r="4.7"/><circle cx="1740.3" cy="1847.4" r="4.7"/><circle cx="1743.3" cy="1847.4" r="4.7"/><circle cx="1746.3" cy="1847.3" r="4.7"/><circle cx="1749.3" cy="1847.3" r="4.7"/><circle cx="1752.3" cy="1847.3" r="4.7"/><circle cx="1755.3" cy="1847.3" r="4.7"/><circle cx="1758.3" cy="1847.3" r="4.7"/><circle cx="1761.3" cy="1847.3" r="4.7"/><circle cx="1764.3" cy="1847.3" r="4.7"/><circle cx="1767.3" cy="1847.3" r="4.7"/><circle cx="1770.3" cy="1847.3" r="4.7"/><circle cx="1773.3" cy="1847.3" r="4.7"/><circle cx="1776.2" cy="1847.3" r="4.7"/><circle cx="1779.2" cy="1847.3" r="4.7"/><circle cx="1782.2" cy="1847.3" r="4.7"/><circle cx="1785.2" cy="1847.3" r="4.7"/><circle cx="1788.2" cy="1847.3" r="4.7"/><circle cx="1791.2" cy="1847.3" r="4.7"/><circle cx="1794.2" cy="1847.2" r="4.7"/><circle cx="1797.2" cy="1847.2" r="4.7"/><circle cx="1800.2" cy="1847.2" r="4.7"/><circle cx="1803.2" cy="1847.2" r="4.7"/><circle cx="1806.2" cy="1847.2" r="4.7"/><circle cx="1809.2" cy="1847.2" r="4.7"/><circle cx="1812.2" cy="1847.2" r="4.7"/><circle cx="1815.2" cy="1847.2" r="4.7"/><circle cx="1818.2" cy="1847.2" r="4.7"/><circle cx="1821.2" cy="1847.2" r="4.7"/><circle cx="1824.2" cy="1847.2" r="4.7"/><circle cx="1827.2" cy="1847.2" r="4.7"/><circle cx="1830.2" cy="1847.2" r="4.7"/><circle cx="1833.2" cy="1847.2" r="4.7"/><circle cx="1836.2" cy="1847.2" r="4.7"/><circle cx="1839.2" cy="1847.1" r="4.7"/><circle cx="1842.2" cy="1847.1" r="4.7"/><circle cx="1845.2" cy="1847.1" r="4.7"/><circle cx="1848.2" cy="1847.1" r="4.7"/><circle cx="1851.2" cy="1847.1" r="4.7"/><circle cx="1854.2" cy="1847.1" r="4.7"/><circle cx="1857.2" cy="1847.1" r="4.7"/><circle cx="1860.2" cy="1847.1" r="4.7"/><circle cx="1863.2" cy="1847.1" r="4.7"/><circle cx="1866.2" cy="1847.1" r="4.7"/><circle cx="1869.2" cy="1847.1" r="4.7"/><circle cx="1872.2" cy="1847.1" r="4.7"/><circle cx="1875.2" cy="1847.1" r="4.7"/><circle cx="1878.1" cy="1847.1" r="4.7"/><circle cx="1881.1" cy="1847.1" r="4.7"/><circle cx="1884.1" cy="1847.0" r="4.7"/><circle cx="1887.1" cy="1847.0" r="4.7"/><circle cx="1890.1" cy="1847.0" r="4.7"/><circle cx="1893.1" cy="1847.0" r="4.7"/><circle cx="1896.1" cy="1847.0" r="4.7"/><circle cx="1899.1" cy="1847.0" r="4.7"/><circle cx="1902.1" cy="1847.0" r="4.7"/><circle cx="1905.1" cy="1847.0" r="4.7"/></g>
<rect x="128.2" y="1796.7" width="1775" height="539.5" fill="none" stroke="#000" stroke-width="2.8"/>
<line x1="128.2" y1="2336.2" x2="106.2" y2="2336.2" stroke="#000" stroke-width="2.8" stroke-linecap="butt"/>
<line x1="128.2" y1="2201.35" x2="106.2" y2="2201.35" stroke="#000" stroke-width="2.8" stroke-linecap="butt"/>
<line x1="128.2" y1="2066.5" x2="106.2" y2="2066.5" stroke="#000" stroke-width="2.8" stroke-linecap="butt"/>
<line x1="128.2" y1="1931.65" x2="106.2" y2="1931.65" stroke="#000" stroke-width="2.8" stroke-linecap="butt"/>
<line x1="128.2" y1="1796.8" x2="106.2" y2="1796.8" stroke="#000" stroke-width="2.8" stroke-linecap="butt"/>
<line x1="128.2" y1="2268.77" x2="117.2" y2="2268.77" stroke="#000" stroke-width="2.8" stroke-linecap="butt"/>
<line x1="128.2" y1="2133.92" x2="117.2" y2="2133.92" stroke="#000" stroke-width="2.8" stroke-linecap="butt"/>
<line x1="128.2" y1="1999.07" x2="117.2" y2="1999.07" stroke="#000" stroke-width="2.8" stroke-linecap="butt"/>
<line x1="128.2" y1="1864.22" x2="117.2" y2="1864.22" stroke="#000" stroke-width="2.8" stroke-linecap="butt"/>
<line x1="1903.2" y1="2236.1" x2="1881.2" y2="2236.1" stroke="#000" stroke-width="2.8" stroke-linecap="butt"/>
<line x1="1903.2" y1="2041.4" x2="1881.2" y2="2041.4" stroke="#000" stroke-width="2.8" stroke-linecap="butt"/>
<line x1="1903.2" y1="1846.7" x2="1881.2" y2="1846.7" stroke="#000" stroke-width="2.8" stroke-linecap="butt"/>
<line x1="1903.2" y1="2333.45" x2="1892.2" y2="2333.45" stroke="#000" stroke-width="2.8" stroke-linecap="butt"/>
<line x1="1903.2" y1="2138.75" x2="1892.2" y2="2138.75" stroke="#000" stroke-width="2.8" stroke-linecap="butt"/>
<line x1="1903.2" y1="1944.05" x2="1892.2" y2="1944.05" stroke="#000" stroke-width="2.8" stroke-linecap="butt"/>
<line x1="127.9" y1="2336.2" x2="127.9" y2="2358.2" stroke="#000" stroke-width="2.8" stroke-linecap="butt"/>
<line x1="427.6" y1="2336.2" x2="427.6" y2="2358.2" stroke="#000" stroke-width="2.8" stroke-linecap="butt"/>
<line x1="727.3" y1="2336.2" x2="727.3" y2="2358.2" stroke="#000" stroke-width="2.8" stroke-linecap="butt"/>
<line x1="1027" y1="2336.2" x2="1027" y2="2358.2" stroke="#000" stroke-width="2.8" stroke-linecap="butt"/>
<line x1="1326.7" y1="2336.2" x2="1326.7" y2="2358.2" stroke="#000" stroke-width="2.8" stroke-linecap="butt"/>
<line x1="1626.4" y1="2336.2" x2="1626.4" y2="2358.2" stroke="#000" stroke-width="2.8" stroke-linecap="butt"/>
<line x1="277.75" y1="2336.2" x2="277.75" y2="2347.2" stroke="#000" stroke-width="2.8" stroke-linecap="butt"/>
<line x1="577.45" y1="2336.2" x2="577.45" y2="2347.2" stroke="#000" stroke-width="2.8" stroke-linecap="butt"/>
<line x1="877.15" y1="2336.2" x2="877.15" y2="2347.2" stroke="#000" stroke-width="2.8" stroke-linecap="butt"/>
<line x1="1176.85" y1="2336.2" x2="1176.85" y2="2347.2" stroke="#000" stroke-width="2.8" stroke-linecap="butt"/>
<line x1="1476.55" y1="2336.2" x2="1476.55" y2="2347.2" stroke="#000" stroke-width="2.8" stroke-linecap="butt"/>
<line x1="1776.25" y1="2336.2" x2="1776.25" y2="2347.2" stroke="#000" stroke-width="2.8" stroke-linecap="butt"/>
<line x1="127.9" y1="1796.7" x2="127.9" y2="1818.7" stroke="#000" stroke-width="2.8" stroke-linecap="butt"/>
<line x1="404.9" y1="1796.7" x2="404.9" y2="1818.7" stroke="#000" stroke-width="2.8" stroke-linecap="butt"/>
<line x1="681.9" y1="1796.7" x2="681.9" y2="1818.7" stroke="#000" stroke-width="2.8" stroke-linecap="butt"/>
<line x1="958.9" y1="1796.7" x2="958.9" y2="1818.7" stroke="#000" stroke-width="2.8" stroke-linecap="butt"/>
<line x1="1235.9" y1="1796.7" x2="1235.9" y2="1818.7" stroke="#000" stroke-width="2.8" stroke-linecap="butt"/>
<line x1="1512.9" y1="1796.7" x2="1512.9" y2="1818.7" stroke="#000" stroke-width="2.8" stroke-linecap="butt"/>
<line x1="1789.9" y1="1796.7" x2="1789.9" y2="1818.7" stroke="#000" stroke-width="2.8" stroke-linecap="butt"/>
<line x1="266.4" y1="1796.7" x2="266.4" y2="1807.7" stroke="#000" stroke-width="2.8" stroke-linecap="butt"/>
<line x1="543.4" y1="1796.7" x2="543.4" y2="1807.7" stroke="#000" stroke-width="2.8" stroke-linecap="butt"/>
<line x1="820.4" y1="1796.7" x2="820.4" y2="1807.7" stroke="#000" stroke-width="2.8" stroke-linecap="butt"/>
<line x1="1097.4" y1="1796.7" x2="1097.4" y2="1807.7" stroke="#000" stroke-width="2.8" stroke-linecap="butt"/>
<line x1="1374.4" y1="1796.7" x2="1374.4" y2="1807.7" stroke="#000" stroke-width="2.8" stroke-linecap="butt"/>
<line x1="1651.4" y1="1796.7" x2="1651.4" y2="1807.7" stroke="#000" stroke-width="2.8" stroke-linecap="butt"/>
<text transform="translate(102.4,2348.7) scale(0.97,1)" font-size="40.5" text-anchor="end">0</text>
<text transform="translate(102.4,2213.85) scale(0.97,1)" font-size="40.5" text-anchor="end">10</text>
<text transform="translate(102.4,2079) scale(0.97,1)" font-size="40.5" text-anchor="end">20</text>
<text transform="translate(102.4,1944.15) scale(0.97,1)" font-size="40.5" text-anchor="end">30</text>
<text transform="translate(102.4,1809.3) scale(0.97,1)" font-size="40.5" text-anchor="end">40</text>
<text transform="translate(1913.9,2248.7) scale(0.97,1)" font-size="40.5">60</text>
<text transform="translate(1913.9,2054) scale(0.97,1)" font-size="40.5">80</text>
<text transform="translate(1913.9,1859.3) scale(0.97,1)" font-size="40.5">100</text>
<text transform="translate(127.9,2397.9) scale(0.97,1)" font-size="40.5" text-anchor="middle">0</text>
<text transform="translate(427.6,2397.9) scale(0.97,1)" font-size="40.5" text-anchor="middle">100</text>
<text transform="translate(727.3,2397.9) scale(0.97,1)" font-size="40.5" text-anchor="middle">200</text>
<text transform="translate(1027,2397.9) scale(0.97,1)" font-size="40.5" text-anchor="middle">300</text>
<text transform="translate(1326.7,2397.9) scale(0.97,1)" font-size="40.5" text-anchor="middle">400</text>
<text transform="translate(1626.4,2397.9) scale(0.97,1)" font-size="40.5" text-anchor="middle">500</text>
<text transform="translate(127.9,1786.4) scale(0.97,1)" font-size="40.5" text-anchor="middle">0</text>
<text transform="translate(404.9,1786.4) scale(0.97,1)" font-size="40.5" text-anchor="middle">2</text>
<text transform="translate(681.9,1786.4) scale(0.97,1)" font-size="40.5" text-anchor="middle">4</text>
<text transform="translate(958.9,1786.4) scale(0.97,1)" font-size="40.5" text-anchor="middle">6</text>
<text transform="translate(1235.9,1786.4) scale(0.97,1)" font-size="40.5" text-anchor="middle">8</text>
<text transform="translate(1512.9,1786.4) scale(0.97,1)" font-size="40.5" text-anchor="middle">10</text>
<text transform="translate(1789.9,1786.4) scale(0.97,1)" font-size="40.5" text-anchor="middle">12</text>
<text transform="translate(36.4,2050) rotate(-90) scale(0.96,1)" font-size="37" text-anchor="middle">Capacity (Ah L<tspan font-size="23.68" dy="-11.1">-1</tspan><tspan dy="11.1">)</tspan></text>
<text transform="translate(1993,2043) rotate(-90) scale(0.96,1)" font-size="37" text-anchor="middle">Efficiency (%)</text>
<text transform="translate(1020.6,1741.5) scale(0.96,1)" font-size="37" text-anchor="middle">Time (day)</text>
<text transform="translate(1057,2445.5) scale(0.96,1)" font-size="37" text-anchor="middle">Cycle number (n)</text>
<text transform="translate(727.5,1975.1) scale(0.95,1)" font-size="33" font-weight="bold">Galvanostatic−potentiostatic test (0.0438%/day)</text>
<path d="M148.6,1945.2L159.9,1933.5L159.9,1956.7Z" fill="#be1e3c"/>
<path d="M159.4,1945.2L201.3,1945.2A15.5,15.5 0 0 1 216.8,1960.7L216.8,1979.7" fill="none" stroke="#be1e3c" stroke-width="11.6"/>
<circle cx="1433.4" cy="2143.9" r="4.7" fill="#fff" stroke="#1f6fba" stroke-width="6.2"/>
<text transform="translate(1478.6,2156.1) scale(0.98,1)" font-size="32.5">Coulombic efficiency</text>
<circle cx="1433.4" cy="2190.2" r="4.7" fill="#fff" stroke="#f0d764" stroke-width="6.2"/>
<text transform="translate(1478.6,2204.5) scale(0.98,1)" font-size="32.5">Energy efficiency</text>
<circle cx="1433.4" cy="2235.6" r="4.7" fill="#fff" stroke="#c1163a" stroke-width="6.2"/>
<text transform="translate(1478.6,2249.4) scale(0.98,1)" font-size="32.5">Discharge capacity</text>
<text transform="translate(1563.5,2317.9) scale(0.97,1)" font-size="33">Cys-AE||K<tspan font-size="21.45" dy="7.42">4</tspan><tspan dy="-7.42">Fe(CN)</tspan><tspan font-size="21.45" dy="7.42">6</tspan></text>
<line x1="325.5" y1="2070.2" x2="325.5" y2="2254.8" stroke="#000" stroke-width="2.8" stroke-linecap="butt"/>
<line x1="324.1" y1="2253.4" x2="832.4" y2="2253.4" stroke="#000" stroke-width="2.8" stroke-linecap="butt"/>
<line x1="325.5" y1="2253.4" x2="316.7" y2="2253.4" stroke="#000" stroke-width="2.8" stroke-linecap="butt"/>
<line x1="325.5" y1="2184.91" x2="316.7" y2="2184.91" stroke="#000" stroke-width="2.8" stroke-linecap="butt"/>
<line x1="325.5" y1="2116.42" x2="316.7" y2="2116.42" stroke="#000" stroke-width="2.8" stroke-linecap="butt"/>
<line x1="325.5" y1="2219.16" x2="320.5" y2="2219.16" stroke="#000" stroke-width="2.8" stroke-linecap="butt"/>
<line x1="325.5" y1="2150.66" x2="320.5" y2="2150.66" stroke="#000" stroke-width="2.8" stroke-linecap="butt"/>
<line x1="325.5" y1="2082.18" x2="320.5" y2="2082.18" stroke="#000" stroke-width="2.8" stroke-linecap="butt"/>
<line x1="325.5" y1="2253.4" x2="325.5" y2="2261" stroke="#000" stroke-width="2.8" stroke-linecap="butt"/>
<line x1="494.4" y1="2253.4" x2="494.4" y2="2261" stroke="#000" stroke-width="2.8" stroke-linecap="butt"/>
<line x1="663.3" y1="2253.4" x2="663.3" y2="2261" stroke="#000" stroke-width="2.8" stroke-linecap="butt"/>
<line x1="832.2" y1="2253.4" x2="832.2" y2="2261" stroke="#000" stroke-width="2.8" stroke-linecap="butt"/>
<line x1="409.95" y1="2253.4" x2="409.95" y2="2257.9" stroke="#000" stroke-width="2.8" stroke-linecap="butt"/>
<line x1="578.85" y1="2253.4" x2="578.85" y2="2257.9" stroke="#000" stroke-width="2.8" stroke-linecap="butt"/>
<line x1="747.75" y1="2253.4" x2="747.75" y2="2257.9" stroke="#000" stroke-width="2.8" stroke-linecap="butt"/>
<text transform="translate(312.9,2263.3) scale(0.95,1)" font-size="32.6" text-anchor="end">0.3</text>
<text transform="translate(312.9,2194.81) scale(0.95,1)" font-size="32.6" text-anchor="end">0.6</text>
<text transform="translate(312.9,2126.32) scale(0.95,1)" font-size="32.6" text-anchor="end">0.9</text>
<text transform="translate(325.5,2291) scale(0.95,1)" font-size="32.6" text-anchor="middle">0</text>
<text transform="translate(494.4,2291) scale(0.95,1)" font-size="32.6" text-anchor="middle">10</text>
<text transform="translate(663.3,2291) scale(0.95,1)" font-size="32.6" text-anchor="middle">20</text>
<text transform="translate(832.2,2291) scale(0.95,1)" font-size="32.6" text-anchor="middle">30</text>
<text transform="translate(252.5,2165) rotate(-90) scale(0.96,1)" font-size="30" text-anchor="middle">Voltage (V)</text>
<text transform="translate(466.5,2315) scale(0.96,1)" font-size="27.7">Capacity (Ah L<tspan font-size="17.73" dy="-8.31">-1</tspan><tspan dy="8.31">)</tspan></text>
<polyline points="325.3,2081.4 325.26,2082.08 325.12,2083.03 324.94,2084.15 324.79,2085.38 324.74,2086.65 324.85,2087.87 325.18,2088.98 325.8,2089.9 326.48,2090.64 327.05,2091.28 327.68,2091.83 328.56,2092.32 329.84,2092.79 331.71,2093.24 334.34,2093.7 337.9,2094.2 342.45,2094.72 347.86,2095.22 353.99,2095.72 360.72,2096.21 367.92,2096.71 375.47,2097.22 383.24,2097.75 391.1,2098.3 399.25,2098.87 407.89,2099.47 416.9,2100.08 426.19,2100.71 435.62,2101.33 445.1,2101.96 454.49,2102.59 463.7,2103.2 472.78,2103.8 481.85,2104.38 490.93,2104.95 500.01,2105.53 509.08,2106.11 518.16,2106.71 527.23,2107.34 536.3,2108 545.53,2108.68 555,2109.38 564.55,2110.09 574.06,2110.82 583.38,2111.59 592.37,2112.38 600.89,2113.22 608.8,2114.1 616.08,2115.02 622.86,2115.97 629.21,2116.95 635.22,2117.97 640.94,2119.03 646.46,2120.14 651.86,2121.29 657.2,2122.5 662.47,2123.77 667.59,2125.1 672.54,2126.48 677.31,2127.91 681.88,2129.37 686.23,2130.85 690.36,2132.36 694.24,2133.87 697.89,2135.43 701.32,2137.05 704.54,2138.7 707.54,2140.38 710.32,2142.04 712.86,2143.67 715.17,2145.25 717.25,2146.75 719.01,2148.11 720.42,2149.33 721.56,2150.47 722.49,2151.59 723.28,2152.75 724.01,2154.01 724.73,2155.43 725.52,2157.07 726.35,2158.86 727.14,2160.7 727.88,2162.65 728.58,2164.72 729.23,2166.96 729.82,2169.41 730.35,2172.09 730.81,2175.05 731.2,2178.58 731.5,2182.76 731.75,2187.34 731.94,2192.05 732.08,2196.61 732.2,2200.77 732.3,2204.26 732.4,2206.8" fill="none" stroke="#bf1236" stroke-width="2.9" stroke-linejoin="round" stroke-linecap="round"/>
<polyline points="732.4,2206.8 745,2207.6" fill="none" stroke="#bf1236" stroke-width="2.9" stroke-linejoin="round" stroke-linecap="round"/>
<polyline points="325.1,2083.4 325.06,2084.08 324.92,2085.03 324.74,2086.15 324.59,2087.38 324.54,2088.65 324.65,2089.87 324.98,2090.98 325.6,2091.9 326.28,2092.64 326.85,2093.28 327.48,2093.83 328.36,2094.32 329.64,2094.79 331.51,2095.24 334.14,2095.7 337.7,2096.2 342.25,2096.72 347.66,2097.22 353.79,2097.72 360.52,2098.21 367.72,2098.71 375.27,2099.22 383.04,2099.75 390.9,2100.3 399.05,2100.87 407.69,2101.47 416.7,2102.08 425.99,2102.71 435.42,2103.33 444.9,2103.96 454.29,2104.59 463.5,2105.2 472.58,2105.8 481.65,2106.38 490.73,2106.95 499.81,2107.53 508.88,2108.11 517.96,2108.71 527.03,2109.34 536.1,2110 545.33,2110.68 554.8,2111.38 564.35,2112.09 573.86,2112.82 583.18,2113.59 592.17,2114.38 600.69,2115.22 608.6,2116.1 615.88,2117.02 622.67,2117.97 629.03,2118.96 635.04,2119.99 640.77,2121.05 646.29,2122.15 651.68,2123.3 657,2124.5 662.24,2125.75 667.33,2127.06 672.24,2128.42 676.96,2129.81 681.48,2131.24 685.78,2132.69 689.85,2134.16 693.67,2135.64 697.25,2137.15 700.62,2138.72 703.76,2140.33 706.68,2141.95 709.37,2143.56 711.84,2145.14 714.07,2146.67 716.07,2148.12 717.77,2149.44 719.13,2150.63 720.21,2151.73 721.09,2152.82 721.83,2153.95 722.49,2155.17 723.15,2156.54 723.86,2158.13 724.6,2159.86 725.28,2161.64 725.91,2163.51 726.48,2165.5 727.01,2167.67 727.49,2170.04 727.92,2172.67 728.3,2175.58 728.63,2179.07 728.9,2183.23 729.11,2187.79 729.28,2192.48 729.41,2197.03 729.52,2201.18 729.61,2204.66 729.7,2207.2" fill="none" stroke="#f08536" stroke-width="2.9" stroke-linejoin="round" stroke-linecap="round"/>
<polyline points="729.7,2207.2 743,2207.6" fill="none" stroke="#f08536" stroke-width="2.9" stroke-linejoin="round" stroke-linecap="round"/>
<polyline points="324.8,2085.4 324.76,2086.08 324.62,2087.03 324.44,2088.15 324.29,2089.38 324.24,2090.65 324.35,2091.87 324.68,2092.98 325.3,2093.9 325.98,2094.64 326.55,2095.28 327.18,2095.83 328.06,2096.32 329.34,2096.79 331.21,2097.24 333.84,2097.7 337.4,2098.2 341.95,2098.72 347.36,2099.22 353.49,2099.72 360.22,2100.21 367.42,2100.71 374.97,2101.22 382.74,2101.75 390.6,2102.3 398.75,2102.87 407.39,2103.47 416.4,2104.08 425.69,2104.71 435.12,2105.33 444.6,2105.96 453.99,2106.59 463.2,2107.2 472.28,2107.8 481.35,2108.38 490.43,2108.95 499.51,2109.53 508.58,2110.11 517.66,2110.71 526.73,2111.34 535.8,2112 545.03,2112.68 554.5,2113.38 564.05,2114.09 573.56,2114.82 582.88,2115.59 591.87,2116.38 600.39,2117.22 608.3,2118.1 615.59,2119.02 622.38,2119.98 628.75,2120.97 634.76,2122 640.5,2123.07 646.02,2124.17 651.39,2125.31 656.7,2126.5 661.92,2127.73 666.97,2129.02 671.84,2130.35 676.51,2131.72 680.98,2133.11 685.23,2134.53 689.24,2135.96 693,2137.4 696.52,2138.87 699.81,2140.4 702.87,2141.96 705.71,2143.53 708.32,2145.09 710.71,2146.62 712.87,2148.09 714.8,2149.5 716.43,2150.78 717.73,2151.92 718.76,2153 719.59,2154.05 720.27,2155.14 720.87,2156.32 721.46,2157.66 722.1,2159.2 722.74,2160.87 723.32,2162.58 723.83,2164.37 724.28,2166.29 724.69,2168.38 725.06,2170.68 725.39,2173.24 725.7,2176.1 725.97,2179.55 726.2,2183.69 726.38,2188.23 726.53,2192.91 726.64,2197.45 726.74,2201.6 726.82,2205.07 726.9,2207.6" fill="none" stroke="#1f6fba" stroke-width="2.9" stroke-linejoin="round" stroke-linecap="round"/>
<polyline points="726.9,2207.6 742,2207.6" fill="none" stroke="#1f6fba" stroke-width="2.9" stroke-linejoin="round" stroke-linecap="round"/>
<line x1="355.5" y1="2151.2" x2="412.4" y2="2151.2" stroke="#bf1236" stroke-width="2.9" stroke-linecap="round"/>
<text transform="translate(417,2160.5) scale(0.98,1)" font-size="27.5">100th</text>
<line x1="355.5" y1="2181.6" x2="412.4" y2="2181.6" stroke="#f08536" stroke-width="2.9" stroke-linecap="round"/>
<text transform="translate(417,2190.9) scale(0.98,1)" font-size="27.5">300th</text>
<line x1="355.5" y1="2212" x2="412.4" y2="2212" stroke="#1f6fba" stroke-width="2.9" stroke-linecap="round"/>
<text transform="translate(417,2221.3) scale(0.98,1)" font-size="27.5">500th</text>
</svg></body></html>
